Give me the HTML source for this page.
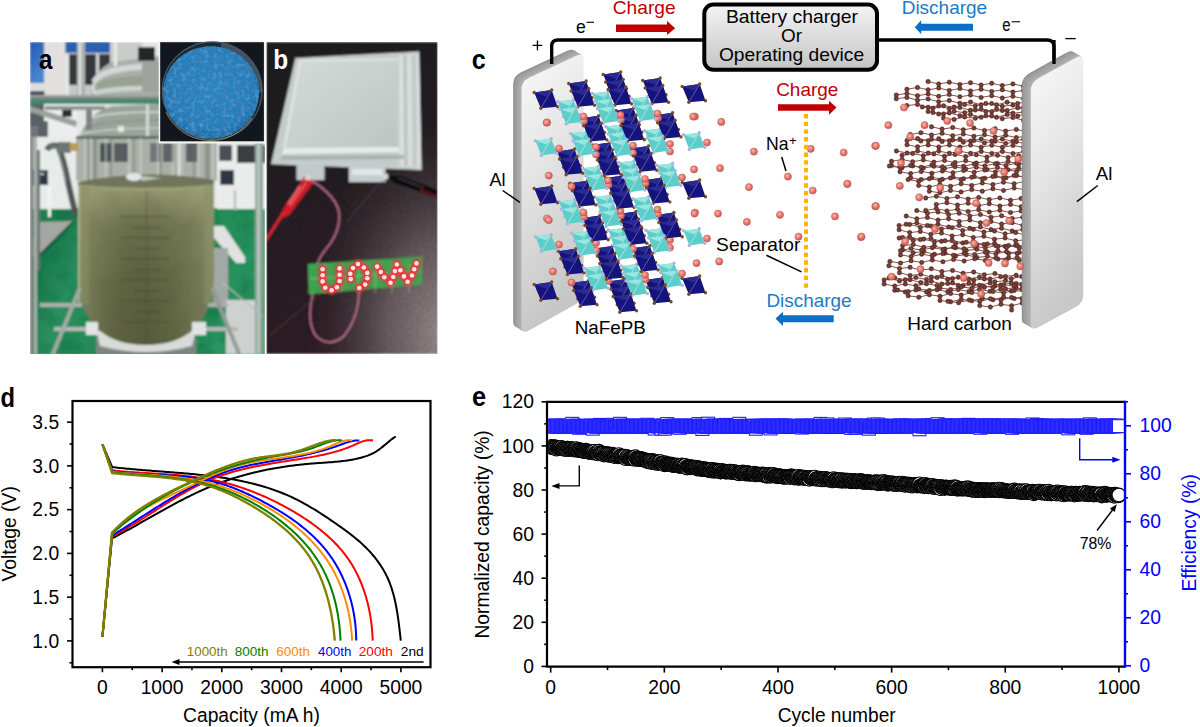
<!DOCTYPE html>
<html><head><meta charset="utf-8"><style>
html,body{margin:0;padding:0;background:#fff;overflow:hidden;}
svg{display:block;}
text{font-family:"Liberation Sans",sans-serif;}
</style></head><body>
<svg width="1200" height="727" viewBox="0 0 1200 727">
<rect width="1200" height="727" fill="#fff"/>
<defs>
<radialGradient id="nag" cx="0.4" cy="0.38" r="0.6"><stop offset="0" stop-color="#fbb7ab"/><stop offset="0.6" stop-color="#e8776c"/><stop offset="1" stop-color="#c85c55"/></radialGradient>
<radialGradient id="cg" cx="0.5" cy="0.5" r="0.55"><stop offset="0" stop-color="#8a7034"/><stop offset="0.35" stop-color="#713a34"/><stop offset="1" stop-color="#5e2a26"/></radialGradient>
<linearGradient id="faceL" x1="0" y1="0" x2="0.25" y2="1"><stop offset="0" stop-color="#f9f9f9"/><stop offset="0.45" stop-color="#e4e4e4"/><stop offset="1" stop-color="#c6c6c6"/></linearGradient>
<linearGradient id="faceR" x1="0" y1="0" x2="0.25" y2="1"><stop offset="0" stop-color="#f9f9f9"/><stop offset="0.45" stop-color="#e6e6e6"/><stop offset="1" stop-color="#c8c8c8"/></linearGradient>
<linearGradient id="boxg" x1="0" y1="0" x2="0" y2="1"><stop offset="0" stop-color="#f4f4f4"/><stop offset="1" stop-color="#c4c4c4"/></linearGradient>
</defs>
<path d="M521.5,89.2 Q521.5,81.2 529.5,77.46409017713366 L575.6,55.93590982286635 Q583.6,52.2 583.6,60.2 L583.6,291.9 Q583.6,299.9 575.6,304.37020933977453 L529.5,330.12979066022547 Q521.5,334.6 521.5,326.6 Z" transform="translate(-8.30 -5.10)" fill="#8c8c8c"/><path d="M521.5,89.2 Q521.5,81.2 529.5,77.46409017713366 L575.6,55.93590982286635 Q583.6,52.2 583.6,60.2 L583.6,291.9 Q583.6,299.9 575.6,304.37020933977453 L529.5,330.12979066022547 Q521.5,334.6 521.5,326.6 Z" transform="translate(-7.61 -4.67)" fill="#989898"/><path d="M521.5,89.2 Q521.5,81.2 529.5,77.46409017713366 L575.6,55.93590982286635 Q583.6,52.2 583.6,60.2 L583.6,291.9 Q583.6,299.9 575.6,304.37020933977453 L529.5,330.12979066022547 Q521.5,334.6 521.5,326.6 Z" transform="translate(-6.92 -4.25)" fill="#9b9b9b"/><path d="M521.5,89.2 Q521.5,81.2 529.5,77.46409017713366 L575.6,55.93590982286635 Q583.6,52.2 583.6,60.2 L583.6,291.9 Q583.6,299.9 575.6,304.37020933977453 L529.5,330.12979066022547 Q521.5,334.6 521.5,326.6 Z" transform="translate(-6.23 -3.82)" fill="#9d9d9d"/><path d="M521.5,89.2 Q521.5,81.2 529.5,77.46409017713366 L575.6,55.93590982286635 Q583.6,52.2 583.6,60.2 L583.6,291.9 Q583.6,299.9 575.6,304.37020933977453 L529.5,330.12979066022547 Q521.5,334.6 521.5,326.6 Z" transform="translate(-5.53 -3.40)" fill="#a0a0a0"/><path d="M521.5,89.2 Q521.5,81.2 529.5,77.46409017713366 L575.6,55.93590982286635 Q583.6,52.2 583.6,60.2 L583.6,291.9 Q583.6,299.9 575.6,304.37020933977453 L529.5,330.12979066022547 Q521.5,334.6 521.5,326.6 Z" transform="translate(-4.84 -2.98)" fill="#a2a2a2"/><path d="M521.5,89.2 Q521.5,81.2 529.5,77.46409017713366 L575.6,55.93590982286635 Q583.6,52.2 583.6,60.2 L583.6,291.9 Q583.6,299.9 575.6,304.37020933977453 L529.5,330.12979066022547 Q521.5,334.6 521.5,326.6 Z" transform="translate(-4.15 -2.55)" fill="#a5a5a5"/><path d="M521.5,89.2 Q521.5,81.2 529.5,77.46409017713366 L575.6,55.93590982286635 Q583.6,52.2 583.6,60.2 L583.6,291.9 Q583.6,299.9 575.6,304.37020933977453 L529.5,330.12979066022547 Q521.5,334.6 521.5,326.6 Z" transform="translate(-3.46 -2.12)" fill="#a7a7a7"/><path d="M521.5,89.2 Q521.5,81.2 529.5,77.46409017713366 L575.6,55.93590982286635 Q583.6,52.2 583.6,60.2 L583.6,291.9 Q583.6,299.9 575.6,304.37020933977453 L529.5,330.12979066022547 Q521.5,334.6 521.5,326.6 Z" transform="translate(-2.77 -1.70)" fill="#aaaaaa"/><path d="M521.5,89.2 Q521.5,81.2 529.5,77.46409017713366 L575.6,55.93590982286635 Q583.6,52.2 583.6,60.2 L583.6,291.9 Q583.6,299.9 575.6,304.37020933977453 L529.5,330.12979066022547 Q521.5,334.6 521.5,326.6 Z" transform="translate(-2.08 -1.27)" fill="#acacac"/><path d="M521.5,89.2 Q521.5,81.2 529.5,77.46409017713366 L575.6,55.93590982286635 Q583.6,52.2 583.6,60.2 L583.6,291.9 Q583.6,299.9 575.6,304.37020933977453 L529.5,330.12979066022547 Q521.5,334.6 521.5,326.6 Z" transform="translate(-1.38 -0.85)" fill="#afafaf"/><path d="M521.5,89.2 Q521.5,81.2 529.5,77.46409017713366 L575.6,55.93590982286635 Q583.6,52.2 583.6,60.2 L583.6,291.9 Q583.6,299.9 575.6,304.37020933977453 L529.5,330.12979066022547 Q521.5,334.6 521.5,326.6 Z" transform="translate(-0.69 -0.42)" fill="#b1b1b1"/><path d="M521.5,89.2 Q521.5,81.2 529.5,77.46409017713366 L575.6,55.93590982286635 Q583.6,52.2 583.6,60.2 L583.6,291.9 Q583.6,299.9 575.6,304.37020933977453 L529.5,330.12979066022547 Q521.5,334.6 521.5,326.6 Z" fill="url(#faceL)"/>
<path d="M551.7 64 L551.7 46 Q551.7 40 558 40 L704 40" fill="none" stroke="#000" stroke-width="3.3"/>
<path d="M878 40 L1047 40 Q1054 40 1054 47 L1054 64" fill="none" stroke="#000" stroke-width="3.3"/>
<rect x="704.3" y="4.6" width="172.7" height="65.2" rx="9" fill="url(#boxg)" stroke="#000" stroke-width="4"/>
<text x="725.90" y="22.90" font-size="18.50" fill="#000" textLength="132.11" lengthAdjust="spacingAndGlyphs">Battery charger</text>
<text x="781.00" y="42.00" font-size="18.50" fill="#000" textLength="21.00" lengthAdjust="spacingAndGlyphs">Or</text>
<text x="718.90" y="61.30" font-size="18.50" fill="#000" textLength="145.20" lengthAdjust="spacingAndGlyphs">Operating device</text>
<text x="612.80" y="14.10" font-size="18.50" fill="#c00000" textLength="62.80" lengthAdjust="spacingAndGlyphs">Charge</text>
<path d="M616 24.5 L667 24.5 L667 21 L675.2 28.2 L667 35.1 L667 31.9 L616 31.9 Z" fill="#c00000"/>
<text x="901.70" y="14.30" font-size="18.50" fill="#1a7ac8" textLength="85.50" lengthAdjust="spacingAndGlyphs">Discharge</text>
<path d="M973 23.7 L921.2 23.7 L921.2 20.2 L914.8 27.2 L921.2 34.2 L921.2 30.75 L973 30.75 Z" fill="#0a6fc6"/>
<text x="575.90" y="32.50" font-size="18.00" fill="#000" textLength="9.80" lengthAdjust="spacingAndGlyphs">e</text>
<line x1="586.5" y1="22.3" x2="594" y2="22.3" stroke="#000" stroke-width="1.1"/>
<text x="1002.20" y="31.20" font-size="18.00" fill="#000" textLength="8.30" lengthAdjust="spacingAndGlyphs">e</text>
<line x1="1011.7" y1="21.75" x2="1020.2" y2="21.75" stroke="#000" stroke-width="1.1"/>
<path d="M532.6 45.3 H542.3 M537.45 40.4 V50.2" stroke="#000" stroke-width="1.3"/>
<line x1="1065.3" y1="38.6" x2="1075.7" y2="38.6" stroke="#000" stroke-width="1.3"/>
<polygon points="603.2,74.5 620.7,72.0 626.5,88.7 609.8,90.3" fill="#14147c"/><polygon points="603.2,74.5 620.7,72.0 615.5,78.5" fill="#2a2a92"/><line x1="620.7" y1="72.0" x2="609.8" y2="90.3" stroke="#8a86c0" stroke-width="0.6"/><circle cx="603.2" cy="74.5" r="1.7" fill="#7b4a1f"/><circle cx="620.7" cy="72.0" r="1.7" fill="#7b4a1f"/><circle cx="626.5" cy="88.7" r="1.7" fill="#7b4a1f"/><circle cx="609.8" cy="90.3" r="1.7" fill="#7b4a1f"/><polygon points="592.4,93.5 608.1,91.5 613.7,106.0 598.3,108.2" fill="#5ccdc9"/><polygon points="592.4,93.5 608.1,91.5 603.4,97.2" fill="#9ae6e0"/><line x1="608.1" y1="91.5" x2="598.3" y2="108.2" stroke="#d6f4f2" stroke-width="0.6"/><circle cx="592.4" cy="93.5" r="1.7" fill="#aab4e6"/><circle cx="608.1" cy="91.5" r="1.7" fill="#aab4e6"/><circle cx="613.7" cy="106.0" r="1.7" fill="#aab4e6"/><circle cx="598.3" cy="108.2" r="1.7" fill="#aab4e6"/><polygon points="616.0,110.5 633.5,108.0 639.3,124.7 622.6,126.3" fill="#14147c"/><polygon points="616.0,110.5 633.5,108.0 628.3,114.5" fill="#2a2a92"/><line x1="633.5" y1="108.0" x2="622.6" y2="126.3" stroke="#8a86c0" stroke-width="0.6"/><circle cx="616.0" cy="110.5" r="1.7" fill="#7b4a1f"/><circle cx="633.5" cy="108.0" r="1.7" fill="#7b4a1f"/><circle cx="639.3" cy="124.7" r="1.7" fill="#7b4a1f"/><circle cx="622.6" cy="126.3" r="1.7" fill="#7b4a1f"/><polygon points="605.8,126.5 621.5,124.5 627.0,139.1 611.6,141.2" fill="#5ccdc9"/><polygon points="605.8,126.5 621.5,124.5 616.8,130.2" fill="#9ae6e0"/><line x1="621.5" y1="124.5" x2="611.6" y2="141.2" stroke="#d6f4f2" stroke-width="0.6"/><circle cx="605.8" cy="126.5" r="1.7" fill="#aab4e6"/><circle cx="621.5" cy="124.5" r="1.7" fill="#aab4e6"/><circle cx="627.0" cy="139.1" r="1.7" fill="#aab4e6"/><circle cx="611.6" cy="141.2" r="1.7" fill="#aab4e6"/><polygon points="592.4,145.0 609.9,142.5 615.7,159.2 599.0,160.8" fill="#14147c"/><polygon points="592.4,145.0 609.9,142.5 604.7,149.0" fill="#2a2a92"/><line x1="609.9" y1="142.5" x2="599.0" y2="160.8" stroke="#8a86c0" stroke-width="0.6"/><circle cx="592.4" cy="145.0" r="1.7" fill="#7b4a1f"/><circle cx="609.9" cy="142.5" r="1.7" fill="#7b4a1f"/><circle cx="615.7" cy="159.2" r="1.7" fill="#7b4a1f"/><circle cx="599.0" cy="160.8" r="1.7" fill="#7b4a1f"/><polygon points="618.6,162.4 634.3,160.4 639.9,175.1 624.5,177.2" fill="#5ccdc9"/><polygon points="618.6,162.4 634.3,160.4 629.6,166.2" fill="#9ae6e0"/><line x1="634.3" y1="160.4" x2="624.5" y2="177.2" stroke="#d6f4f2" stroke-width="0.6"/><circle cx="618.6" cy="162.4" r="1.7" fill="#aab4e6"/><circle cx="634.3" cy="160.4" r="1.7" fill="#aab4e6"/><circle cx="639.9" cy="175.1" r="1.7" fill="#aab4e6"/><circle cx="624.5" cy="177.2" r="1.7" fill="#aab4e6"/><polygon points="605.7,178.0 623.2,175.5 629.0,192.2 612.3,193.8" fill="#14147c"/><polygon points="605.7,178.0 623.2,175.5 618.0,182.0" fill="#2a2a92"/><line x1="623.2" y1="175.5" x2="612.3" y2="193.8" stroke="#8a86c0" stroke-width="0.6"/><circle cx="605.7" cy="178.0" r="1.7" fill="#7b4a1f"/><circle cx="623.2" cy="175.5" r="1.7" fill="#7b4a1f"/><circle cx="629.0" cy="192.2" r="1.7" fill="#7b4a1f"/><circle cx="612.3" cy="193.8" r="1.7" fill="#7b4a1f"/><polygon points="594.9,196.9 610.6,194.9 616.2,209.6 600.8,211.8" fill="#5ccdc9"/><polygon points="594.9,196.9 610.6,194.9 605.9,200.8" fill="#9ae6e0"/><line x1="610.6" y1="194.9" x2="600.8" y2="211.8" stroke="#d6f4f2" stroke-width="0.6"/><circle cx="594.9" cy="196.9" r="1.7" fill="#aab4e6"/><circle cx="610.6" cy="194.9" r="1.7" fill="#aab4e6"/><circle cx="616.2" cy="209.6" r="1.7" fill="#aab4e6"/><circle cx="600.8" cy="211.8" r="1.7" fill="#aab4e6"/><polygon points="618.5,214.0 636.0,211.5 641.8,228.2 625.1,229.8" fill="#14147c"/><polygon points="618.5,214.0 636.0,211.5 630.8,218.0" fill="#2a2a92"/><line x1="636.0" y1="211.5" x2="625.1" y2="229.8" stroke="#8a86c0" stroke-width="0.6"/><circle cx="618.5" cy="214.0" r="1.7" fill="#7b4a1f"/><circle cx="636.0" cy="211.5" r="1.7" fill="#7b4a1f"/><circle cx="641.8" cy="228.2" r="1.7" fill="#7b4a1f"/><circle cx="625.1" cy="229.8" r="1.7" fill="#7b4a1f"/><polygon points="608.2,229.9 624.0,227.9 629.5,242.6 614.1,244.8" fill="#5ccdc9"/><polygon points="608.2,229.9 624.0,227.9 619.2,233.8" fill="#9ae6e0"/><line x1="624.0" y1="227.9" x2="614.1" y2="244.8" stroke="#d6f4f2" stroke-width="0.6"/><circle cx="608.2" cy="229.9" r="1.7" fill="#aab4e6"/><circle cx="624.0" cy="227.9" r="1.7" fill="#aab4e6"/><circle cx="629.5" cy="242.6" r="1.7" fill="#aab4e6"/><circle cx="614.1" cy="244.8" r="1.7" fill="#aab4e6"/><polygon points="594.9,248.5 612.4,246.0 618.2,262.7 601.5,264.3" fill="#14147c"/><polygon points="594.9,248.5 612.4,246.0 607.2,252.5" fill="#2a2a92"/><line x1="612.4" y1="246.0" x2="601.5" y2="264.3" stroke="#8a86c0" stroke-width="0.6"/><circle cx="594.9" cy="248.5" r="1.7" fill="#7b4a1f"/><circle cx="612.4" cy="246.0" r="1.7" fill="#7b4a1f"/><circle cx="618.2" cy="262.7" r="1.7" fill="#7b4a1f"/><circle cx="601.5" cy="264.3" r="1.7" fill="#7b4a1f"/><polygon points="621.1,265.9 636.8,263.9 642.4,278.6 627.0,280.8" fill="#5ccdc9"/><polygon points="621.1,265.9 636.8,263.9 632.1,269.8" fill="#9ae6e0"/><line x1="636.8" y1="263.9" x2="627.0" y2="280.8" stroke="#d6f4f2" stroke-width="0.6"/><circle cx="621.1" cy="265.9" r="1.7" fill="#aab4e6"/><circle cx="636.8" cy="263.9" r="1.7" fill="#aab4e6"/><circle cx="642.4" cy="278.6" r="1.7" fill="#aab4e6"/><circle cx="627.0" cy="280.8" r="1.7" fill="#aab4e6"/><polygon points="608.2,281.5 625.7,279.0 631.5,295.7 614.8,297.3" fill="#14147c"/><polygon points="608.2,281.5 625.7,279.0 620.5,285.5" fill="#2a2a92"/><line x1="625.7" y1="279.0" x2="614.8" y2="297.3" stroke="#8a86c0" stroke-width="0.6"/><circle cx="608.2" cy="281.5" r="1.7" fill="#7b4a1f"/><circle cx="625.7" cy="279.0" r="1.7" fill="#7b4a1f"/><circle cx="631.5" cy="295.7" r="1.7" fill="#7b4a1f"/><circle cx="614.8" cy="297.3" r="1.7" fill="#7b4a1f"/><polygon points="568.7,83.5 586.2,81.0 592.0,97.7 575.3,99.3" fill="#14147c"/><polygon points="568.7,83.5 586.2,81.0 581.0,87.5" fill="#2a2a92"/><line x1="586.2" y1="81.0" x2="575.3" y2="99.3" stroke="#8a86c0" stroke-width="0.6"/><circle cx="568.7" cy="83.5" r="1.7" fill="#7b4a1f"/><circle cx="586.2" cy="81.0" r="1.7" fill="#7b4a1f"/><circle cx="592.0" cy="97.7" r="1.7" fill="#7b4a1f"/><circle cx="575.3" cy="99.3" r="1.7" fill="#7b4a1f"/><polygon points="605.7,82.0 623.2,79.5 629.0,96.2 612.3,97.8" fill="#14147c"/><polygon points="605.7,82.0 623.2,79.5 618.0,86.0" fill="#2a2a92"/><line x1="623.2" y1="79.5" x2="612.3" y2="97.8" stroke="#8a86c0" stroke-width="0.6"/><circle cx="605.7" cy="82.0" r="1.7" fill="#7b4a1f"/><circle cx="623.2" cy="79.5" r="1.7" fill="#7b4a1f"/><circle cx="629.0" cy="96.2" r="1.7" fill="#7b4a1f"/><circle cx="612.3" cy="97.8" r="1.7" fill="#7b4a1f"/><polygon points="642.7,80.5 660.2,78.0 666.0,94.7 649.3,96.3" fill="#14147c"/><polygon points="642.7,80.5 660.2,78.0 655.0,84.5" fill="#2a2a92"/><line x1="660.2" y1="78.0" x2="649.3" y2="96.3" stroke="#8a86c0" stroke-width="0.6"/><circle cx="642.7" cy="80.5" r="1.7" fill="#7b4a1f"/><circle cx="660.2" cy="78.0" r="1.7" fill="#7b4a1f"/><circle cx="666.0" cy="94.7" r="1.7" fill="#7b4a1f"/><circle cx="649.3" cy="96.3" r="1.7" fill="#7b4a1f"/><polygon points="557.7,101.8 573.4,99.8 579.0,114.4 563.6,116.6" fill="#5ccdc9"/><polygon points="557.7,101.8 573.4,99.8 568.7,105.6" fill="#9ae6e0"/><line x1="573.4" y1="99.8" x2="563.6" y2="116.6" stroke="#d6f4f2" stroke-width="0.6"/><circle cx="557.7" cy="101.8" r="1.7" fill="#aab4e6"/><circle cx="573.4" cy="99.8" r="1.7" fill="#aab4e6"/><circle cx="579.0" cy="114.4" r="1.7" fill="#aab4e6"/><circle cx="563.6" cy="116.6" r="1.7" fill="#aab4e6"/><polygon points="594.9,101.0 610.6,99.0 616.2,113.5 600.8,115.8" fill="#5ccdc9"/><polygon points="594.9,101.0 610.6,99.0 605.9,104.8" fill="#9ae6e0"/><line x1="610.6" y1="99.0" x2="600.8" y2="115.8" stroke="#d6f4f2" stroke-width="0.6"/><circle cx="594.9" cy="101.0" r="1.7" fill="#aab4e6"/><circle cx="610.6" cy="99.0" r="1.7" fill="#aab4e6"/><circle cx="616.2" cy="113.5" r="1.7" fill="#aab4e6"/><circle cx="600.8" cy="115.8" r="1.7" fill="#aab4e6"/><polygon points="631.7,98.8 647.4,96.8 653.0,111.4 637.6,113.6" fill="#5ccdc9"/><polygon points="631.7,98.8 647.4,96.8 642.7,102.6" fill="#9ae6e0"/><line x1="647.4" y1="96.8" x2="637.6" y2="113.6" stroke="#d6f4f2" stroke-width="0.6"/><circle cx="631.7" cy="98.8" r="1.7" fill="#aab4e6"/><circle cx="647.4" cy="96.8" r="1.7" fill="#aab4e6"/><circle cx="653.0" cy="111.4" r="1.7" fill="#aab4e6"/><circle cx="637.6" cy="113.6" r="1.7" fill="#aab4e6"/><polygon points="581.1,118.2 598.6,115.8 604.4,132.4 587.7,134.1" fill="#14147c"/><polygon points="581.1,118.2 598.6,115.8 593.4,122.2" fill="#2a2a92"/><line x1="598.6" y1="115.8" x2="587.7" y2="134.1" stroke="#8a86c0" stroke-width="0.6"/><circle cx="581.1" cy="118.2" r="1.7" fill="#7b4a1f"/><circle cx="598.6" cy="115.8" r="1.7" fill="#7b4a1f"/><circle cx="604.4" cy="132.4" r="1.7" fill="#7b4a1f"/><circle cx="587.7" cy="134.1" r="1.7" fill="#7b4a1f"/><polygon points="618.5,118.0 636.0,115.5 641.8,132.2 625.1,133.8" fill="#14147c"/><polygon points="618.5,118.0 636.0,115.5 630.8,122.0" fill="#2a2a92"/><line x1="636.0" y1="115.5" x2="625.1" y2="133.8" stroke="#8a86c0" stroke-width="0.6"/><circle cx="618.5" cy="118.0" r="1.7" fill="#7b4a1f"/><circle cx="636.0" cy="115.5" r="1.7" fill="#7b4a1f"/><circle cx="641.8" cy="132.2" r="1.7" fill="#7b4a1f"/><circle cx="625.1" cy="133.8" r="1.7" fill="#7b4a1f"/><polygon points="655.1,115.2 672.6,112.8 678.4,129.4 661.7,131.1" fill="#14147c"/><polygon points="655.1,115.2 672.6,112.8 667.4,119.2" fill="#2a2a92"/><line x1="672.6" y1="112.8" x2="661.7" y2="131.1" stroke="#8a86c0" stroke-width="0.6"/><circle cx="655.1" cy="115.2" r="1.7" fill="#7b4a1f"/><circle cx="672.6" cy="112.8" r="1.7" fill="#7b4a1f"/><circle cx="678.4" cy="129.4" r="1.7" fill="#7b4a1f"/><circle cx="661.7" cy="131.1" r="1.7" fill="#7b4a1f"/><polygon points="570.6,133.6 586.3,131.6 591.9,146.2 576.5,148.4" fill="#5ccdc9"/><polygon points="570.6,133.6 586.3,131.6 581.6,137.4" fill="#9ae6e0"/><line x1="586.3" y1="131.6" x2="576.5" y2="148.4" stroke="#d6f4f2" stroke-width="0.6"/><circle cx="570.6" cy="133.6" r="1.7" fill="#aab4e6"/><circle cx="586.3" cy="131.6" r="1.7" fill="#aab4e6"/><circle cx="591.9" cy="146.2" r="1.7" fill="#aab4e6"/><circle cx="576.5" cy="148.4" r="1.7" fill="#aab4e6"/><polygon points="608.2,133.9 624.0,131.9 629.5,146.6 614.1,148.8" fill="#5ccdc9"/><polygon points="608.2,133.9 624.0,131.9 619.2,137.8" fill="#9ae6e0"/><line x1="624.0" y1="131.9" x2="614.1" y2="148.8" stroke="#d6f4f2" stroke-width="0.6"/><circle cx="608.2" cy="133.9" r="1.7" fill="#aab4e6"/><circle cx="624.0" cy="131.9" r="1.7" fill="#aab4e6"/><circle cx="629.5" cy="146.6" r="1.7" fill="#aab4e6"/><circle cx="614.1" cy="148.8" r="1.7" fill="#aab4e6"/><polygon points="644.6,130.6 660.3,128.6 665.9,143.2 650.5,145.4" fill="#5ccdc9"/><polygon points="644.6,130.6 660.3,128.6 655.6,134.4" fill="#9ae6e0"/><line x1="660.3" y1="128.6" x2="650.5" y2="145.4" stroke="#d6f4f2" stroke-width="0.6"/><circle cx="644.6" cy="130.6" r="1.7" fill="#aab4e6"/><circle cx="660.3" cy="128.6" r="1.7" fill="#aab4e6"/><circle cx="665.9" cy="143.2" r="1.7" fill="#aab4e6"/><circle cx="650.5" cy="145.4" r="1.7" fill="#aab4e6"/><polygon points="557.0,151.5 574.5,149.0 580.3,165.7 563.6,167.3" fill="#14147c"/><polygon points="557.0,151.5 574.5,149.0 569.3,155.5" fill="#2a2a92"/><line x1="574.5" y1="149.0" x2="563.6" y2="167.3" stroke="#8a86c0" stroke-width="0.6"/><circle cx="557.0" cy="151.5" r="1.7" fill="#7b4a1f"/><circle cx="574.5" cy="149.0" r="1.7" fill="#7b4a1f"/><circle cx="580.3" cy="165.7" r="1.7" fill="#7b4a1f"/><circle cx="563.6" cy="167.3" r="1.7" fill="#7b4a1f"/><polygon points="594.9,152.5 612.4,150.0 618.2,166.7 601.5,168.3" fill="#14147c"/><polygon points="594.9,152.5 612.4,150.0 607.2,156.5" fill="#2a2a92"/><line x1="612.4" y1="150.0" x2="601.5" y2="168.3" stroke="#8a86c0" stroke-width="0.6"/><circle cx="594.9" cy="152.5" r="1.7" fill="#7b4a1f"/><circle cx="612.4" cy="150.0" r="1.7" fill="#7b4a1f"/><circle cx="618.2" cy="166.7" r="1.7" fill="#7b4a1f"/><circle cx="601.5" cy="168.3" r="1.7" fill="#7b4a1f"/><polygon points="631.0,148.5 648.5,146.0 654.3,162.7 637.6,164.3" fill="#14147c"/><polygon points="631.0,148.5 648.5,146.0 643.3,152.5" fill="#2a2a92"/><line x1="648.5" y1="146.0" x2="637.6" y2="164.3" stroke="#8a86c0" stroke-width="0.6"/><circle cx="631.0" cy="148.5" r="1.7" fill="#7b4a1f"/><circle cx="648.5" cy="146.0" r="1.7" fill="#7b4a1f"/><circle cx="654.3" cy="162.7" r="1.7" fill="#7b4a1f"/><circle cx="637.6" cy="164.3" r="1.7" fill="#7b4a1f"/><polygon points="583.0,168.3 598.7,166.3 604.3,180.9 588.9,183.1" fill="#5ccdc9"/><polygon points="583.0,168.3 598.7,166.3 594.0,172.1" fill="#9ae6e0"/><line x1="598.7" y1="166.3" x2="588.9" y2="183.1" stroke="#d6f4f2" stroke-width="0.6"/><circle cx="583.0" cy="168.3" r="1.7" fill="#aab4e6"/><circle cx="598.7" cy="166.3" r="1.7" fill="#aab4e6"/><circle cx="604.3" cy="180.9" r="1.7" fill="#aab4e6"/><circle cx="588.9" cy="183.1" r="1.7" fill="#aab4e6"/><polygon points="621.1,169.9 636.8,167.9 642.4,182.6 627.0,184.8" fill="#5ccdc9"/><polygon points="621.1,169.9 636.8,167.9 632.1,173.8" fill="#9ae6e0"/><line x1="636.8" y1="167.9" x2="627.0" y2="184.8" stroke="#d6f4f2" stroke-width="0.6"/><circle cx="621.1" cy="169.9" r="1.7" fill="#aab4e6"/><circle cx="636.8" cy="167.9" r="1.7" fill="#aab4e6"/><circle cx="642.4" cy="182.6" r="1.7" fill="#aab4e6"/><circle cx="627.0" cy="184.8" r="1.7" fill="#aab4e6"/><polygon points="657.0,165.3 672.7,163.3 678.3,177.9 662.9,180.1" fill="#5ccdc9"/><polygon points="657.0,165.3 672.7,163.3 668.0,169.1" fill="#9ae6e0"/><line x1="672.7" y1="163.3" x2="662.9" y2="180.1" stroke="#d6f4f2" stroke-width="0.6"/><circle cx="657.0" cy="165.3" r="1.7" fill="#aab4e6"/><circle cx="672.7" cy="163.3" r="1.7" fill="#aab4e6"/><circle cx="678.3" cy="177.9" r="1.7" fill="#aab4e6"/><circle cx="662.9" cy="180.1" r="1.7" fill="#aab4e6"/><polygon points="570.0,183.2 587.5,180.8 593.2,197.4 576.5,199.1" fill="#14147c"/><polygon points="570.0,183.2 587.5,180.8 582.2,187.2" fill="#2a2a92"/><line x1="587.5" y1="180.8" x2="576.5" y2="199.1" stroke="#8a86c0" stroke-width="0.6"/><circle cx="570.0" cy="183.2" r="1.7" fill="#7b4a1f"/><circle cx="587.5" cy="180.8" r="1.7" fill="#7b4a1f"/><circle cx="593.2" cy="197.4" r="1.7" fill="#7b4a1f"/><circle cx="576.5" cy="199.1" r="1.7" fill="#7b4a1f"/><polygon points="608.2,185.5 625.7,183.0 631.5,199.7 614.8,201.3" fill="#14147c"/><polygon points="608.2,185.5 625.7,183.0 620.5,189.5" fill="#2a2a92"/><line x1="625.7" y1="183.0" x2="614.8" y2="201.3" stroke="#8a86c0" stroke-width="0.6"/><circle cx="608.2" cy="185.5" r="1.7" fill="#7b4a1f"/><circle cx="625.7" cy="183.0" r="1.7" fill="#7b4a1f"/><circle cx="631.5" cy="199.7" r="1.7" fill="#7b4a1f"/><circle cx="614.8" cy="201.3" r="1.7" fill="#7b4a1f"/><polygon points="644.0,180.2 661.5,177.8 667.2,194.4 650.5,196.1" fill="#14147c"/><polygon points="644.0,180.2 661.5,177.8 656.2,184.2" fill="#2a2a92"/><line x1="661.5" y1="177.8" x2="650.5" y2="196.1" stroke="#8a86c0" stroke-width="0.6"/><circle cx="644.0" cy="180.2" r="1.7" fill="#7b4a1f"/><circle cx="661.5" cy="177.8" r="1.7" fill="#7b4a1f"/><circle cx="667.2" cy="194.4" r="1.7" fill="#7b4a1f"/><circle cx="650.5" cy="196.1" r="1.7" fill="#7b4a1f"/><polygon points="559.0,201.6 574.7,199.6 580.3,214.2 564.9,216.4" fill="#5ccdc9"/><polygon points="559.0,201.6 574.7,199.6 570.0,205.4" fill="#9ae6e0"/><line x1="574.7" y1="199.6" x2="564.9" y2="216.4" stroke="#d6f4f2" stroke-width="0.6"/><circle cx="559.0" cy="201.6" r="1.7" fill="#aab4e6"/><circle cx="574.7" cy="199.6" r="1.7" fill="#aab4e6"/><circle cx="580.3" cy="214.2" r="1.7" fill="#aab4e6"/><circle cx="564.9" cy="216.4" r="1.7" fill="#aab4e6"/><polygon points="597.4,204.4 613.1,202.4 618.7,217.1 603.3,219.2" fill="#5ccdc9"/><polygon points="597.4,204.4 613.1,202.4 608.4,208.2" fill="#9ae6e0"/><line x1="613.1" y1="202.4" x2="603.3" y2="219.2" stroke="#d6f4f2" stroke-width="0.6"/><circle cx="597.4" cy="204.4" r="1.7" fill="#aab4e6"/><circle cx="613.1" cy="202.4" r="1.7" fill="#aab4e6"/><circle cx="618.7" cy="217.1" r="1.7" fill="#aab4e6"/><circle cx="603.3" cy="219.2" r="1.7" fill="#aab4e6"/><polygon points="633.0,198.6 648.7,196.6 654.3,211.2 638.9,213.4" fill="#5ccdc9"/><polygon points="633.0,198.6 648.7,196.6 644.0,202.4" fill="#9ae6e0"/><line x1="648.7" y1="196.6" x2="638.9" y2="213.4" stroke="#d6f4f2" stroke-width="0.6"/><circle cx="633.0" cy="198.6" r="1.7" fill="#aab4e6"/><circle cx="648.7" cy="196.6" r="1.7" fill="#aab4e6"/><circle cx="654.3" cy="211.2" r="1.7" fill="#aab4e6"/><circle cx="638.9" cy="213.4" r="1.7" fill="#aab4e6"/><polygon points="582.4,218.0 599.9,215.5 605.7,232.2 589.0,233.8" fill="#14147c"/><polygon points="582.4,218.0 599.9,215.5 594.7,222.0" fill="#2a2a92"/><line x1="599.9" y1="215.5" x2="589.0" y2="233.8" stroke="#8a86c0" stroke-width="0.6"/><circle cx="582.4" cy="218.0" r="1.7" fill="#7b4a1f"/><circle cx="599.9" cy="215.5" r="1.7" fill="#7b4a1f"/><circle cx="605.7" cy="232.2" r="1.7" fill="#7b4a1f"/><circle cx="589.0" cy="233.8" r="1.7" fill="#7b4a1f"/><polygon points="621.0,221.5 638.5,219.0 644.3,235.7 627.6,237.3" fill="#14147c"/><polygon points="621.0,221.5 638.5,219.0 633.3,225.5" fill="#2a2a92"/><line x1="638.5" y1="219.0" x2="627.6" y2="237.3" stroke="#8a86c0" stroke-width="0.6"/><circle cx="621.0" cy="221.5" r="1.7" fill="#7b4a1f"/><circle cx="638.5" cy="219.0" r="1.7" fill="#7b4a1f"/><circle cx="644.3" cy="235.7" r="1.7" fill="#7b4a1f"/><circle cx="627.6" cy="237.3" r="1.7" fill="#7b4a1f"/><polygon points="656.4,215.0 673.9,212.5 679.7,229.2 663.0,230.8" fill="#14147c"/><polygon points="656.4,215.0 673.9,212.5 668.7,219.0" fill="#2a2a92"/><line x1="673.9" y1="212.5" x2="663.0" y2="230.8" stroke="#8a86c0" stroke-width="0.6"/><circle cx="656.4" cy="215.0" r="1.7" fill="#7b4a1f"/><circle cx="673.9" cy="212.5" r="1.7" fill="#7b4a1f"/><circle cx="679.7" cy="229.2" r="1.7" fill="#7b4a1f"/><circle cx="663.0" cy="230.8" r="1.7" fill="#7b4a1f"/><polygon points="571.9,233.3 587.6,231.3 593.2,245.9 577.8,248.1" fill="#5ccdc9"/><polygon points="571.9,233.3 587.6,231.3 582.9,237.1" fill="#9ae6e0"/><line x1="587.6" y1="231.3" x2="577.8" y2="248.1" stroke="#d6f4f2" stroke-width="0.6"/><circle cx="571.9" cy="233.3" r="1.7" fill="#aab4e6"/><circle cx="587.6" cy="231.3" r="1.7" fill="#aab4e6"/><circle cx="593.2" cy="245.9" r="1.7" fill="#aab4e6"/><circle cx="577.8" cy="248.1" r="1.7" fill="#aab4e6"/><polygon points="610.8,237.4 626.5,235.4 632.0,250.1 616.6,252.2" fill="#5ccdc9"/><polygon points="610.8,237.4 626.5,235.4 621.8,241.2" fill="#9ae6e0"/><line x1="626.5" y1="235.4" x2="616.6" y2="252.2" stroke="#d6f4f2" stroke-width="0.6"/><circle cx="610.8" cy="237.4" r="1.7" fill="#aab4e6"/><circle cx="626.5" cy="235.4" r="1.7" fill="#aab4e6"/><circle cx="632.0" cy="250.1" r="1.7" fill="#aab4e6"/><circle cx="616.6" cy="252.2" r="1.7" fill="#aab4e6"/><polygon points="645.9,230.3 661.6,228.3 667.2,242.9 651.8,245.1" fill="#5ccdc9"/><polygon points="645.9,230.3 661.6,228.3 656.9,234.1" fill="#9ae6e0"/><line x1="661.6" y1="228.3" x2="651.8" y2="245.1" stroke="#d6f4f2" stroke-width="0.6"/><circle cx="645.9" cy="230.3" r="1.7" fill="#aab4e6"/><circle cx="661.6" cy="228.3" r="1.7" fill="#aab4e6"/><circle cx="667.2" cy="242.9" r="1.7" fill="#aab4e6"/><circle cx="651.8" cy="245.1" r="1.7" fill="#aab4e6"/><polygon points="558.3,251.2 575.8,248.8 581.6,265.4 564.9,267.1" fill="#14147c"/><polygon points="558.3,251.2 575.8,248.8 570.6,255.2" fill="#2a2a92"/><line x1="575.8" y1="248.8" x2="564.9" y2="267.1" stroke="#8a86c0" stroke-width="0.6"/><circle cx="558.3" cy="251.2" r="1.7" fill="#7b4a1f"/><circle cx="575.8" cy="248.8" r="1.7" fill="#7b4a1f"/><circle cx="581.6" cy="265.4" r="1.7" fill="#7b4a1f"/><circle cx="564.9" cy="267.1" r="1.7" fill="#7b4a1f"/><polygon points="597.4,256.0 614.9,253.5 620.7,270.2 604.0,271.8" fill="#14147c"/><polygon points="597.4,256.0 614.9,253.5 609.7,260.0" fill="#2a2a92"/><line x1="614.9" y1="253.5" x2="604.0" y2="271.8" stroke="#8a86c0" stroke-width="0.6"/><circle cx="597.4" cy="256.0" r="1.7" fill="#7b4a1f"/><circle cx="614.9" cy="253.5" r="1.7" fill="#7b4a1f"/><circle cx="620.7" cy="270.2" r="1.7" fill="#7b4a1f"/><circle cx="604.0" cy="271.8" r="1.7" fill="#7b4a1f"/><polygon points="632.3,248.2 649.8,245.8 655.6,262.4 638.9,264.1" fill="#14147c"/><polygon points="632.3,248.2 649.8,245.8 644.6,252.2" fill="#2a2a92"/><line x1="649.8" y1="245.8" x2="638.9" y2="264.1" stroke="#8a86c0" stroke-width="0.6"/><circle cx="632.3" cy="248.2" r="1.7" fill="#7b4a1f"/><circle cx="649.8" cy="245.8" r="1.7" fill="#7b4a1f"/><circle cx="655.6" cy="262.4" r="1.7" fill="#7b4a1f"/><circle cx="638.9" cy="264.1" r="1.7" fill="#7b4a1f"/><polygon points="584.3,268.1 600.0,266.1 605.6,280.7 590.2,282.9" fill="#5ccdc9"/><polygon points="584.3,268.1 600.0,266.1 595.3,271.9" fill="#9ae6e0"/><line x1="600.0" y1="266.1" x2="590.2" y2="282.9" stroke="#d6f4f2" stroke-width="0.6"/><circle cx="584.3" cy="268.1" r="1.7" fill="#aab4e6"/><circle cx="600.0" cy="266.1" r="1.7" fill="#aab4e6"/><circle cx="605.6" cy="280.7" r="1.7" fill="#aab4e6"/><circle cx="590.2" cy="282.9" r="1.7" fill="#aab4e6"/><polygon points="623.6,273.4 639.3,271.4 644.9,286.1 629.5,288.2" fill="#5ccdc9"/><polygon points="623.6,273.4 639.3,271.4 634.6,277.2" fill="#9ae6e0"/><line x1="639.3" y1="271.4" x2="629.5" y2="288.2" stroke="#d6f4f2" stroke-width="0.6"/><circle cx="623.6" cy="273.4" r="1.7" fill="#aab4e6"/><circle cx="639.3" cy="271.4" r="1.7" fill="#aab4e6"/><circle cx="644.9" cy="286.1" r="1.7" fill="#aab4e6"/><circle cx="629.5" cy="288.2" r="1.7" fill="#aab4e6"/><polygon points="658.3,265.1 674.0,263.1 679.6,277.7 664.2,279.9" fill="#5ccdc9"/><polygon points="658.3,265.1 674.0,263.1 669.3,268.9" fill="#9ae6e0"/><line x1="674.0" y1="263.1" x2="664.2" y2="279.9" stroke="#d6f4f2" stroke-width="0.6"/><circle cx="658.3" cy="265.1" r="1.7" fill="#aab4e6"/><circle cx="674.0" cy="263.1" r="1.7" fill="#aab4e6"/><circle cx="679.6" cy="277.7" r="1.7" fill="#aab4e6"/><circle cx="664.2" cy="279.9" r="1.7" fill="#aab4e6"/><polygon points="571.2,283.0 588.7,280.5 594.5,297.2 577.8,298.8" fill="#14147c"/><polygon points="571.2,283.0 588.7,280.5 583.5,287.0" fill="#2a2a92"/><line x1="588.7" y1="280.5" x2="577.8" y2="298.8" stroke="#8a86c0" stroke-width="0.6"/><circle cx="571.2" cy="283.0" r="1.7" fill="#7b4a1f"/><circle cx="588.7" cy="280.5" r="1.7" fill="#7b4a1f"/><circle cx="594.5" cy="297.2" r="1.7" fill="#7b4a1f"/><circle cx="577.8" cy="298.8" r="1.7" fill="#7b4a1f"/><polygon points="610.7,289.0 628.2,286.5 634.0,303.2 617.3,304.8" fill="#14147c"/><polygon points="610.7,289.0 628.2,286.5 623.0,293.0" fill="#2a2a92"/><line x1="628.2" y1="286.5" x2="617.3" y2="304.8" stroke="#8a86c0" stroke-width="0.6"/><circle cx="610.7" cy="289.0" r="1.7" fill="#7b4a1f"/><circle cx="628.2" cy="286.5" r="1.7" fill="#7b4a1f"/><circle cx="634.0" cy="303.2" r="1.7" fill="#7b4a1f"/><circle cx="617.3" cy="304.8" r="1.7" fill="#7b4a1f"/><polygon points="645.2,280.0 662.7,277.5 668.5,294.2 651.8,295.8" fill="#14147c"/><polygon points="645.2,280.0 662.7,277.5 657.5,284.0" fill="#2a2a92"/><line x1="662.7" y1="277.5" x2="651.8" y2="295.8" stroke="#8a86c0" stroke-width="0.6"/><circle cx="645.2" cy="280.0" r="1.7" fill="#7b4a1f"/><circle cx="662.7" cy="277.5" r="1.7" fill="#7b4a1f"/><circle cx="668.5" cy="294.2" r="1.7" fill="#7b4a1f"/><circle cx="651.8" cy="295.8" r="1.7" fill="#7b4a1f"/><circle cx="547.0" cy="122.5" r="3.6" fill="url(#nag)" stroke="#b85a55" stroke-width="0.5"/><circle cx="584.0" cy="121.0" r="3.6" fill="url(#nag)" stroke="#b85a55" stroke-width="0.5"/><circle cx="621.0" cy="119.5" r="3.6" fill="url(#nag)" stroke="#b85a55" stroke-width="0.5"/><circle cx="658.0" cy="118.0" r="3.6" fill="url(#nag)" stroke="#b85a55" stroke-width="0.5"/><circle cx="695.0" cy="116.5" r="3.6" fill="url(#nag)" stroke="#b85a55" stroke-width="0.5"/><circle cx="583.5" cy="116.5" r="3.6" fill="url(#nag)" stroke="#b85a55" stroke-width="0.5"/><circle cx="620.5" cy="115.0" r="3.6" fill="url(#nag)" stroke="#b85a55" stroke-width="0.5"/><circle cx="657.5" cy="113.5" r="3.6" fill="url(#nag)" stroke="#b85a55" stroke-width="0.5"/><circle cx="596.0" cy="154.5" r="3.6" fill="url(#nag)" stroke="#b85a55" stroke-width="0.5"/><circle cx="633.0" cy="153.0" r="3.6" fill="url(#nag)" stroke="#b85a55" stroke-width="0.5"/><circle cx="670.0" cy="151.5" r="3.6" fill="url(#nag)" stroke="#b85a55" stroke-width="0.5"/><circle cx="559.0" cy="148.5" r="3.6" fill="url(#nag)" stroke="#b85a55" stroke-width="0.5"/><circle cx="596.0" cy="147.0" r="3.6" fill="url(#nag)" stroke="#b85a55" stroke-width="0.5"/><circle cx="633.0" cy="145.5" r="3.6" fill="url(#nag)" stroke="#b85a55" stroke-width="0.5"/><circle cx="670.0" cy="144.0" r="3.6" fill="url(#nag)" stroke="#b85a55" stroke-width="0.5"/><circle cx="707.0" cy="142.5" r="3.6" fill="url(#nag)" stroke="#b85a55" stroke-width="0.5"/><circle cx="571.5" cy="186.5" r="3.6" fill="url(#nag)" stroke="#b85a55" stroke-width="0.5"/><circle cx="608.5" cy="185.0" r="3.6" fill="url(#nag)" stroke="#b85a55" stroke-width="0.5"/><circle cx="645.5" cy="183.5" r="3.6" fill="url(#nag)" stroke="#b85a55" stroke-width="0.5"/><circle cx="608.0" cy="180.5" r="3.6" fill="url(#nag)" stroke="#b85a55" stroke-width="0.5"/><circle cx="645.0" cy="179.0" r="3.6" fill="url(#nag)" stroke="#b85a55" stroke-width="0.5"/><circle cx="682.0" cy="177.5" r="3.6" fill="url(#nag)" stroke="#b85a55" stroke-width="0.5"/><circle cx="547.0" cy="218.5" r="3.6" fill="url(#nag)" stroke="#b85a55" stroke-width="0.5"/><circle cx="584.0" cy="217.0" r="3.6" fill="url(#nag)" stroke="#b85a55" stroke-width="0.5"/><circle cx="621.0" cy="215.5" r="3.6" fill="url(#nag)" stroke="#b85a55" stroke-width="0.5"/><circle cx="658.0" cy="214.0" r="3.6" fill="url(#nag)" stroke="#b85a55" stroke-width="0.5"/><circle cx="695.0" cy="212.5" r="3.6" fill="url(#nag)" stroke="#b85a55" stroke-width="0.5"/><circle cx="583.5" cy="212.5" r="3.6" fill="url(#nag)" stroke="#b85a55" stroke-width="0.5"/><circle cx="620.5" cy="211.0" r="3.6" fill="url(#nag)" stroke="#b85a55" stroke-width="0.5"/><circle cx="657.5" cy="209.5" r="3.6" fill="url(#nag)" stroke="#b85a55" stroke-width="0.5"/><circle cx="596.0" cy="250.5" r="3.6" fill="url(#nag)" stroke="#b85a55" stroke-width="0.5"/><circle cx="633.0" cy="249.0" r="3.6" fill="url(#nag)" stroke="#b85a55" stroke-width="0.5"/><circle cx="670.0" cy="247.5" r="3.6" fill="url(#nag)" stroke="#b85a55" stroke-width="0.5"/><circle cx="559.0" cy="244.5" r="3.6" fill="url(#nag)" stroke="#b85a55" stroke-width="0.5"/><circle cx="596.0" cy="243.0" r="3.6" fill="url(#nag)" stroke="#b85a55" stroke-width="0.5"/><circle cx="633.0" cy="241.5" r="3.6" fill="url(#nag)" stroke="#b85a55" stroke-width="0.5"/><circle cx="670.0" cy="240.0" r="3.6" fill="url(#nag)" stroke="#b85a55" stroke-width="0.5"/><circle cx="707.0" cy="238.5" r="3.6" fill="url(#nag)" stroke="#b85a55" stroke-width="0.5"/><circle cx="571.5" cy="282.5" r="3.6" fill="url(#nag)" stroke="#b85a55" stroke-width="0.5"/><circle cx="608.5" cy="281.0" r="3.6" fill="url(#nag)" stroke="#b85a55" stroke-width="0.5"/><circle cx="645.5" cy="279.5" r="3.6" fill="url(#nag)" stroke="#b85a55" stroke-width="0.5"/><circle cx="608.0" cy="276.5" r="3.6" fill="url(#nag)" stroke="#b85a55" stroke-width="0.5"/><circle cx="645.0" cy="275.0" r="3.6" fill="url(#nag)" stroke="#b85a55" stroke-width="0.5"/><circle cx="682.0" cy="273.5" r="3.6" fill="url(#nag)" stroke="#b85a55" stroke-width="0.5"/><polygon points="534.2,92.5 551.7,90.0 557.5,106.7 540.8,108.3" fill="#14147c"/><polygon points="534.2,92.5 551.7,90.0 546.5,96.5" fill="#2a2a92"/><line x1="551.7" y1="90.0" x2="540.8" y2="108.3" stroke="#8a86c0" stroke-width="0.6"/><circle cx="534.2" cy="92.5" r="1.7" fill="#7b4a1f"/><circle cx="551.7" cy="90.0" r="1.7" fill="#7b4a1f"/><circle cx="557.5" cy="106.7" r="1.7" fill="#7b4a1f"/><circle cx="540.8" cy="108.3" r="1.7" fill="#7b4a1f"/><polygon points="571.2,91.0 588.7,88.5 594.5,105.2 577.8,106.8" fill="#14147c"/><polygon points="571.2,91.0 588.7,88.5 583.5,95.0" fill="#2a2a92"/><line x1="588.7" y1="88.5" x2="577.8" y2="106.8" stroke="#8a86c0" stroke-width="0.6"/><circle cx="571.2" cy="91.0" r="1.7" fill="#7b4a1f"/><circle cx="588.7" cy="88.5" r="1.7" fill="#7b4a1f"/><circle cx="594.5" cy="105.2" r="1.7" fill="#7b4a1f"/><circle cx="577.8" cy="106.8" r="1.7" fill="#7b4a1f"/><polygon points="608.2,89.5 625.7,87.0 631.5,103.7 614.8,105.3" fill="#14147c"/><polygon points="608.2,89.5 625.7,87.0 620.5,93.5" fill="#2a2a92"/><line x1="625.7" y1="87.0" x2="614.8" y2="105.3" stroke="#8a86c0" stroke-width="0.6"/><circle cx="608.2" cy="89.5" r="1.7" fill="#7b4a1f"/><circle cx="625.7" cy="87.0" r="1.7" fill="#7b4a1f"/><circle cx="631.5" cy="103.7" r="1.7" fill="#7b4a1f"/><circle cx="614.8" cy="105.3" r="1.7" fill="#7b4a1f"/><polygon points="645.2,88.0 662.7,85.5 668.5,102.2 651.8,103.8" fill="#14147c"/><polygon points="645.2,88.0 662.7,85.5 657.5,92.0" fill="#2a2a92"/><line x1="662.7" y1="85.5" x2="651.8" y2="103.8" stroke="#8a86c0" stroke-width="0.6"/><circle cx="645.2" cy="88.0" r="1.7" fill="#7b4a1f"/><circle cx="662.7" cy="85.5" r="1.7" fill="#7b4a1f"/><circle cx="668.5" cy="102.2" r="1.7" fill="#7b4a1f"/><circle cx="651.8" cy="103.8" r="1.7" fill="#7b4a1f"/><polygon points="682.2,86.5 699.7,84.0 705.5,100.7 688.8,102.3" fill="#14147c"/><polygon points="682.2,86.5 699.7,84.0 694.5,90.5" fill="#2a2a92"/><line x1="699.7" y1="84.0" x2="688.8" y2="102.3" stroke="#8a86c0" stroke-width="0.6"/><circle cx="682.2" cy="86.5" r="1.7" fill="#7b4a1f"/><circle cx="699.7" cy="84.0" r="1.7" fill="#7b4a1f"/><circle cx="705.5" cy="100.7" r="1.7" fill="#7b4a1f"/><circle cx="688.8" cy="102.3" r="1.7" fill="#7b4a1f"/><polygon points="560.2,109.3 575.9,107.3 581.5,121.9 566.1,124.1" fill="#5ccdc9"/><polygon points="560.2,109.3 575.9,107.3 571.2,113.1" fill="#9ae6e0"/><line x1="575.9" y1="107.3" x2="566.1" y2="124.1" stroke="#d6f4f2" stroke-width="0.6"/><circle cx="560.2" cy="109.3" r="1.7" fill="#aab4e6"/><circle cx="575.9" cy="107.3" r="1.7" fill="#aab4e6"/><circle cx="581.5" cy="121.9" r="1.7" fill="#aab4e6"/><circle cx="566.1" cy="124.1" r="1.7" fill="#aab4e6"/><polygon points="597.4,108.5 613.1,106.5 618.7,121.0 603.3,123.2" fill="#5ccdc9"/><polygon points="597.4,108.5 613.1,106.5 608.4,112.2" fill="#9ae6e0"/><line x1="613.1" y1="106.5" x2="603.3" y2="123.2" stroke="#d6f4f2" stroke-width="0.6"/><circle cx="597.4" cy="108.5" r="1.7" fill="#aab4e6"/><circle cx="613.1" cy="106.5" r="1.7" fill="#aab4e6"/><circle cx="618.7" cy="121.0" r="1.7" fill="#aab4e6"/><circle cx="603.3" cy="123.2" r="1.7" fill="#aab4e6"/><polygon points="634.2,106.3 649.9,104.3 655.5,118.9 640.1,121.1" fill="#5ccdc9"/><polygon points="634.2,106.3 649.9,104.3 645.2,110.1" fill="#9ae6e0"/><line x1="649.9" y1="104.3" x2="640.1" y2="121.1" stroke="#d6f4f2" stroke-width="0.6"/><circle cx="634.2" cy="106.3" r="1.7" fill="#aab4e6"/><circle cx="649.9" cy="104.3" r="1.7" fill="#aab4e6"/><circle cx="655.5" cy="118.9" r="1.7" fill="#aab4e6"/><circle cx="640.1" cy="121.1" r="1.7" fill="#aab4e6"/><polygon points="583.6,125.8 601.1,123.2 606.9,139.9 590.2,141.6" fill="#14147c"/><polygon points="583.6,125.8 601.1,123.2 595.9,129.8" fill="#2a2a92"/><line x1="601.1" y1="123.2" x2="590.2" y2="141.6" stroke="#8a86c0" stroke-width="0.6"/><circle cx="583.6" cy="125.8" r="1.7" fill="#7b4a1f"/><circle cx="601.1" cy="123.2" r="1.7" fill="#7b4a1f"/><circle cx="606.9" cy="139.9" r="1.7" fill="#7b4a1f"/><circle cx="590.2" cy="141.6" r="1.7" fill="#7b4a1f"/><polygon points="621.0,125.5 638.5,123.0 644.3,139.7 627.6,141.3" fill="#14147c"/><polygon points="621.0,125.5 638.5,123.0 633.3,129.5" fill="#2a2a92"/><line x1="638.5" y1="123.0" x2="627.6" y2="141.3" stroke="#8a86c0" stroke-width="0.6"/><circle cx="621.0" cy="125.5" r="1.7" fill="#7b4a1f"/><circle cx="638.5" cy="123.0" r="1.7" fill="#7b4a1f"/><circle cx="644.3" cy="139.7" r="1.7" fill="#7b4a1f"/><circle cx="627.6" cy="141.3" r="1.7" fill="#7b4a1f"/><polygon points="657.6,122.8 675.1,120.2 680.9,136.9 664.2,138.6" fill="#14147c"/><polygon points="657.6,122.8 675.1,120.2 669.9,126.8" fill="#2a2a92"/><line x1="675.1" y1="120.2" x2="664.2" y2="138.6" stroke="#8a86c0" stroke-width="0.6"/><circle cx="657.6" cy="122.8" r="1.7" fill="#7b4a1f"/><circle cx="675.1" cy="120.2" r="1.7" fill="#7b4a1f"/><circle cx="680.9" cy="136.9" r="1.7" fill="#7b4a1f"/><circle cx="664.2" cy="138.6" r="1.7" fill="#7b4a1f"/><polygon points="535.5,140.7 551.2,138.7 556.8,153.3 541.4,155.5" fill="#5ccdc9"/><polygon points="535.5,140.7 551.2,138.7 546.5,144.5" fill="#9ae6e0"/><line x1="551.2" y1="138.7" x2="541.4" y2="155.5" stroke="#d6f4f2" stroke-width="0.6"/><circle cx="535.5" cy="140.7" r="1.7" fill="#aab4e6"/><circle cx="551.2" cy="138.7" r="1.7" fill="#aab4e6"/><circle cx="556.8" cy="153.3" r="1.7" fill="#aab4e6"/><circle cx="541.4" cy="155.5" r="1.7" fill="#aab4e6"/><polygon points="573.1,141.1 588.8,139.1 594.4,153.7 579.0,155.9" fill="#5ccdc9"/><polygon points="573.1,141.1 588.8,139.1 584.1,144.9" fill="#9ae6e0"/><line x1="588.8" y1="139.1" x2="579.0" y2="155.9" stroke="#d6f4f2" stroke-width="0.6"/><circle cx="573.1" cy="141.1" r="1.7" fill="#aab4e6"/><circle cx="588.8" cy="139.1" r="1.7" fill="#aab4e6"/><circle cx="594.4" cy="153.7" r="1.7" fill="#aab4e6"/><circle cx="579.0" cy="155.9" r="1.7" fill="#aab4e6"/><polygon points="610.8,141.4 626.5,139.4 632.0,154.1 616.6,156.2" fill="#5ccdc9"/><polygon points="610.8,141.4 626.5,139.4 621.8,145.2" fill="#9ae6e0"/><line x1="626.5" y1="139.4" x2="616.6" y2="156.2" stroke="#d6f4f2" stroke-width="0.6"/><circle cx="610.8" cy="141.4" r="1.7" fill="#aab4e6"/><circle cx="626.5" cy="139.4" r="1.7" fill="#aab4e6"/><circle cx="632.0" cy="154.1" r="1.7" fill="#aab4e6"/><circle cx="616.6" cy="156.2" r="1.7" fill="#aab4e6"/><polygon points="647.1,138.1 662.8,136.1 668.4,150.7 653.0,152.9" fill="#5ccdc9"/><polygon points="647.1,138.1 662.8,136.1 658.1,141.9" fill="#9ae6e0"/><line x1="662.8" y1="136.1" x2="653.0" y2="152.9" stroke="#d6f4f2" stroke-width="0.6"/><circle cx="647.1" cy="138.1" r="1.7" fill="#aab4e6"/><circle cx="662.8" cy="136.1" r="1.7" fill="#aab4e6"/><circle cx="668.4" cy="150.7" r="1.7" fill="#aab4e6"/><circle cx="653.0" cy="152.9" r="1.7" fill="#aab4e6"/><polygon points="683.5,134.7 699.2,132.7 704.8,147.3 689.4,149.5" fill="#5ccdc9"/><polygon points="683.5,134.7 699.2,132.7 694.5,138.5" fill="#9ae6e0"/><line x1="699.2" y1="132.7" x2="689.4" y2="149.5" stroke="#d6f4f2" stroke-width="0.6"/><circle cx="683.5" cy="134.7" r="1.7" fill="#aab4e6"/><circle cx="699.2" cy="132.7" r="1.7" fill="#aab4e6"/><circle cx="704.8" cy="147.3" r="1.7" fill="#aab4e6"/><circle cx="689.4" cy="149.5" r="1.7" fill="#aab4e6"/><polygon points="559.5,159.0 577.0,156.5 582.8,173.2 566.1,174.8" fill="#14147c"/><polygon points="559.5,159.0 577.0,156.5 571.8,163.0" fill="#2a2a92"/><line x1="577.0" y1="156.5" x2="566.1" y2="174.8" stroke="#8a86c0" stroke-width="0.6"/><circle cx="559.5" cy="159.0" r="1.7" fill="#7b4a1f"/><circle cx="577.0" cy="156.5" r="1.7" fill="#7b4a1f"/><circle cx="582.8" cy="173.2" r="1.7" fill="#7b4a1f"/><circle cx="566.1" cy="174.8" r="1.7" fill="#7b4a1f"/><polygon points="597.4,160.0 614.9,157.5 620.7,174.2 604.0,175.8" fill="#14147c"/><polygon points="597.4,160.0 614.9,157.5 609.7,164.0" fill="#2a2a92"/><line x1="614.9" y1="157.5" x2="604.0" y2="175.8" stroke="#8a86c0" stroke-width="0.6"/><circle cx="597.4" cy="160.0" r="1.7" fill="#7b4a1f"/><circle cx="614.9" cy="157.5" r="1.7" fill="#7b4a1f"/><circle cx="620.7" cy="174.2" r="1.7" fill="#7b4a1f"/><circle cx="604.0" cy="175.8" r="1.7" fill="#7b4a1f"/><polygon points="633.5,156.0 651.0,153.5 656.8,170.2 640.1,171.8" fill="#14147c"/><polygon points="633.5,156.0 651.0,153.5 645.8,160.0" fill="#2a2a92"/><line x1="651.0" y1="153.5" x2="640.1" y2="171.8" stroke="#8a86c0" stroke-width="0.6"/><circle cx="633.5" cy="156.0" r="1.7" fill="#7b4a1f"/><circle cx="651.0" cy="153.5" r="1.7" fill="#7b4a1f"/><circle cx="656.8" cy="170.2" r="1.7" fill="#7b4a1f"/><circle cx="640.1" cy="171.8" r="1.7" fill="#7b4a1f"/><polygon points="585.5,175.8 601.2,173.8 606.8,188.4 591.4,190.6" fill="#5ccdc9"/><polygon points="585.5,175.8 601.2,173.8 596.5,179.6" fill="#9ae6e0"/><line x1="601.2" y1="173.8" x2="591.4" y2="190.6" stroke="#d6f4f2" stroke-width="0.6"/><circle cx="585.5" cy="175.8" r="1.7" fill="#aab4e6"/><circle cx="601.2" cy="173.8" r="1.7" fill="#aab4e6"/><circle cx="606.8" cy="188.4" r="1.7" fill="#aab4e6"/><circle cx="591.4" cy="190.6" r="1.7" fill="#aab4e6"/><polygon points="623.6,177.4 639.3,175.4 644.9,190.1 629.5,192.2" fill="#5ccdc9"/><polygon points="623.6,177.4 639.3,175.4 634.6,181.2" fill="#9ae6e0"/><line x1="639.3" y1="175.4" x2="629.5" y2="192.2" stroke="#d6f4f2" stroke-width="0.6"/><circle cx="623.6" cy="177.4" r="1.7" fill="#aab4e6"/><circle cx="639.3" cy="175.4" r="1.7" fill="#aab4e6"/><circle cx="644.9" cy="190.1" r="1.7" fill="#aab4e6"/><circle cx="629.5" cy="192.2" r="1.7" fill="#aab4e6"/><polygon points="659.5,172.8 675.2,170.8 680.8,185.4 665.4,187.6" fill="#5ccdc9"/><polygon points="659.5,172.8 675.2,170.8 670.5,176.6" fill="#9ae6e0"/><line x1="675.2" y1="170.8" x2="665.4" y2="187.6" stroke="#d6f4f2" stroke-width="0.6"/><circle cx="659.5" cy="172.8" r="1.7" fill="#aab4e6"/><circle cx="675.2" cy="170.8" r="1.7" fill="#aab4e6"/><circle cx="680.8" cy="185.4" r="1.7" fill="#aab4e6"/><circle cx="665.4" cy="187.6" r="1.7" fill="#aab4e6"/><polygon points="534.2,188.5 551.7,186.0 557.5,202.7 540.8,204.3" fill="#14147c"/><polygon points="534.2,188.5 551.7,186.0 546.5,192.5" fill="#2a2a92"/><line x1="551.7" y1="186.0" x2="540.8" y2="204.3" stroke="#8a86c0" stroke-width="0.6"/><circle cx="534.2" cy="188.5" r="1.7" fill="#7b4a1f"/><circle cx="551.7" cy="186.0" r="1.7" fill="#7b4a1f"/><circle cx="557.5" cy="202.7" r="1.7" fill="#7b4a1f"/><circle cx="540.8" cy="204.3" r="1.7" fill="#7b4a1f"/><polygon points="572.5,190.8 590.0,188.2 595.8,204.9 579.0,206.6" fill="#14147c"/><polygon points="572.5,190.8 590.0,188.2 584.8,194.8" fill="#2a2a92"/><line x1="590.0" y1="188.2" x2="579.0" y2="206.6" stroke="#8a86c0" stroke-width="0.6"/><circle cx="572.5" cy="190.8" r="1.7" fill="#7b4a1f"/><circle cx="590.0" cy="188.2" r="1.7" fill="#7b4a1f"/><circle cx="595.8" cy="204.9" r="1.7" fill="#7b4a1f"/><circle cx="579.0" cy="206.6" r="1.7" fill="#7b4a1f"/><polygon points="610.7,193.0 628.2,190.5 634.0,207.2 617.3,208.8" fill="#14147c"/><polygon points="610.7,193.0 628.2,190.5 623.0,197.0" fill="#2a2a92"/><line x1="628.2" y1="190.5" x2="617.3" y2="208.8" stroke="#8a86c0" stroke-width="0.6"/><circle cx="610.7" cy="193.0" r="1.7" fill="#7b4a1f"/><circle cx="628.2" cy="190.5" r="1.7" fill="#7b4a1f"/><circle cx="634.0" cy="207.2" r="1.7" fill="#7b4a1f"/><circle cx="617.3" cy="208.8" r="1.7" fill="#7b4a1f"/><polygon points="646.5,187.8 664.0,185.2 669.8,201.9 653.0,203.6" fill="#14147c"/><polygon points="646.5,187.8 664.0,185.2 658.8,191.8" fill="#2a2a92"/><line x1="664.0" y1="185.2" x2="653.0" y2="203.6" stroke="#8a86c0" stroke-width="0.6"/><circle cx="646.5" cy="187.8" r="1.7" fill="#7b4a1f"/><circle cx="664.0" cy="185.2" r="1.7" fill="#7b4a1f"/><circle cx="669.8" cy="201.9" r="1.7" fill="#7b4a1f"/><circle cx="653.0" cy="203.6" r="1.7" fill="#7b4a1f"/><polygon points="682.2,182.5 699.7,180.0 705.5,196.7 688.8,198.3" fill="#14147c"/><polygon points="682.2,182.5 699.7,180.0 694.5,186.5" fill="#2a2a92"/><line x1="699.7" y1="180.0" x2="688.8" y2="198.3" stroke="#8a86c0" stroke-width="0.6"/><circle cx="682.2" cy="182.5" r="1.7" fill="#7b4a1f"/><circle cx="699.7" cy="180.0" r="1.7" fill="#7b4a1f"/><circle cx="705.5" cy="196.7" r="1.7" fill="#7b4a1f"/><circle cx="688.8" cy="198.3" r="1.7" fill="#7b4a1f"/><polygon points="561.5,209.1 577.2,207.1 582.8,221.7 567.4,223.9" fill="#5ccdc9"/><polygon points="561.5,209.1 577.2,207.1 572.5,212.9" fill="#9ae6e0"/><line x1="577.2" y1="207.1" x2="567.4" y2="223.9" stroke="#d6f4f2" stroke-width="0.6"/><circle cx="561.5" cy="209.1" r="1.7" fill="#aab4e6"/><circle cx="577.2" cy="207.1" r="1.7" fill="#aab4e6"/><circle cx="582.8" cy="221.7" r="1.7" fill="#aab4e6"/><circle cx="567.4" cy="223.9" r="1.7" fill="#aab4e6"/><polygon points="599.9,211.9 615.6,209.9 621.2,224.6 605.8,226.8" fill="#5ccdc9"/><polygon points="599.9,211.9 615.6,209.9 610.9,215.8" fill="#9ae6e0"/><line x1="615.6" y1="209.9" x2="605.8" y2="226.8" stroke="#d6f4f2" stroke-width="0.6"/><circle cx="599.9" cy="211.9" r="1.7" fill="#aab4e6"/><circle cx="615.6" cy="209.9" r="1.7" fill="#aab4e6"/><circle cx="621.2" cy="224.6" r="1.7" fill="#aab4e6"/><circle cx="605.8" cy="226.8" r="1.7" fill="#aab4e6"/><polygon points="635.5,206.1 651.2,204.1 656.8,218.7 641.4,220.9" fill="#5ccdc9"/><polygon points="635.5,206.1 651.2,204.1 646.5,209.9" fill="#9ae6e0"/><line x1="651.2" y1="204.1" x2="641.4" y2="220.9" stroke="#d6f4f2" stroke-width="0.6"/><circle cx="635.5" cy="206.1" r="1.7" fill="#aab4e6"/><circle cx="651.2" cy="204.1" r="1.7" fill="#aab4e6"/><circle cx="656.8" cy="218.7" r="1.7" fill="#aab4e6"/><circle cx="641.4" cy="220.9" r="1.7" fill="#aab4e6"/><polygon points="584.9,225.5 602.4,223.0 608.2,239.7 591.5,241.3" fill="#14147c"/><polygon points="584.9,225.5 602.4,223.0 597.2,229.5" fill="#2a2a92"/><line x1="602.4" y1="223.0" x2="591.5" y2="241.3" stroke="#8a86c0" stroke-width="0.6"/><circle cx="584.9" cy="225.5" r="1.7" fill="#7b4a1f"/><circle cx="602.4" cy="223.0" r="1.7" fill="#7b4a1f"/><circle cx="608.2" cy="239.7" r="1.7" fill="#7b4a1f"/><circle cx="591.5" cy="241.3" r="1.7" fill="#7b4a1f"/><polygon points="623.5,229.0 641.0,226.5 646.8,243.2 630.1,244.8" fill="#14147c"/><polygon points="623.5,229.0 641.0,226.5 635.8,233.0" fill="#2a2a92"/><line x1="641.0" y1="226.5" x2="630.1" y2="244.8" stroke="#8a86c0" stroke-width="0.6"/><circle cx="623.5" cy="229.0" r="1.7" fill="#7b4a1f"/><circle cx="641.0" cy="226.5" r="1.7" fill="#7b4a1f"/><circle cx="646.8" cy="243.2" r="1.7" fill="#7b4a1f"/><circle cx="630.1" cy="244.8" r="1.7" fill="#7b4a1f"/><polygon points="658.9,222.5 676.4,220.0 682.2,236.7 665.5,238.3" fill="#14147c"/><polygon points="658.9,222.5 676.4,220.0 671.2,226.5" fill="#2a2a92"/><line x1="676.4" y1="220.0" x2="665.5" y2="238.3" stroke="#8a86c0" stroke-width="0.6"/><circle cx="658.9" cy="222.5" r="1.7" fill="#7b4a1f"/><circle cx="676.4" cy="220.0" r="1.7" fill="#7b4a1f"/><circle cx="682.2" cy="236.7" r="1.7" fill="#7b4a1f"/><circle cx="665.5" cy="238.3" r="1.7" fill="#7b4a1f"/><polygon points="535.5,236.7 551.2,234.7 556.8,249.3 541.4,251.5" fill="#5ccdc9"/><polygon points="535.5,236.7 551.2,234.7 546.5,240.5" fill="#9ae6e0"/><line x1="551.2" y1="234.7" x2="541.4" y2="251.5" stroke="#d6f4f2" stroke-width="0.6"/><circle cx="535.5" cy="236.7" r="1.7" fill="#aab4e6"/><circle cx="551.2" cy="234.7" r="1.7" fill="#aab4e6"/><circle cx="556.8" cy="249.3" r="1.7" fill="#aab4e6"/><circle cx="541.4" cy="251.5" r="1.7" fill="#aab4e6"/><polygon points="574.4,240.8 590.1,238.8 595.7,253.4 580.3,255.6" fill="#5ccdc9"/><polygon points="574.4,240.8 590.1,238.8 585.4,244.6" fill="#9ae6e0"/><line x1="590.1" y1="238.8" x2="580.3" y2="255.6" stroke="#d6f4f2" stroke-width="0.6"/><circle cx="574.4" cy="240.8" r="1.7" fill="#aab4e6"/><circle cx="590.1" cy="238.8" r="1.7" fill="#aab4e6"/><circle cx="595.7" cy="253.4" r="1.7" fill="#aab4e6"/><circle cx="580.3" cy="255.6" r="1.7" fill="#aab4e6"/><polygon points="613.2,244.9 629.0,242.9 634.5,257.6 619.1,259.8" fill="#5ccdc9"/><polygon points="613.2,244.9 629.0,242.9 624.2,248.8" fill="#9ae6e0"/><line x1="629.0" y1="242.9" x2="619.1" y2="259.8" stroke="#d6f4f2" stroke-width="0.6"/><circle cx="613.2" cy="244.9" r="1.7" fill="#aab4e6"/><circle cx="629.0" cy="242.9" r="1.7" fill="#aab4e6"/><circle cx="634.5" cy="257.6" r="1.7" fill="#aab4e6"/><circle cx="619.1" cy="259.8" r="1.7" fill="#aab4e6"/><polygon points="648.4,237.8 664.1,235.8 669.7,250.4 654.3,252.6" fill="#5ccdc9"/><polygon points="648.4,237.8 664.1,235.8 659.4,241.6" fill="#9ae6e0"/><line x1="664.1" y1="235.8" x2="654.3" y2="252.6" stroke="#d6f4f2" stroke-width="0.6"/><circle cx="648.4" cy="237.8" r="1.7" fill="#aab4e6"/><circle cx="664.1" cy="235.8" r="1.7" fill="#aab4e6"/><circle cx="669.7" cy="250.4" r="1.7" fill="#aab4e6"/><circle cx="654.3" cy="252.6" r="1.7" fill="#aab4e6"/><polygon points="683.5,230.7 699.2,228.7 704.8,243.3 689.4,245.5" fill="#5ccdc9"/><polygon points="683.5,230.7 699.2,228.7 694.5,234.5" fill="#9ae6e0"/><line x1="699.2" y1="228.7" x2="689.4" y2="245.5" stroke="#d6f4f2" stroke-width="0.6"/><circle cx="683.5" cy="230.7" r="1.7" fill="#aab4e6"/><circle cx="699.2" cy="228.7" r="1.7" fill="#aab4e6"/><circle cx="704.8" cy="243.3" r="1.7" fill="#aab4e6"/><circle cx="689.4" cy="245.5" r="1.7" fill="#aab4e6"/><polygon points="560.8,258.8 578.3,256.2 584.1,272.9 567.4,274.6" fill="#14147c"/><polygon points="560.8,258.8 578.3,256.2 573.1,262.8" fill="#2a2a92"/><line x1="578.3" y1="256.2" x2="567.4" y2="274.6" stroke="#8a86c0" stroke-width="0.6"/><circle cx="560.8" cy="258.8" r="1.7" fill="#7b4a1f"/><circle cx="578.3" cy="256.2" r="1.7" fill="#7b4a1f"/><circle cx="584.1" cy="272.9" r="1.7" fill="#7b4a1f"/><circle cx="567.4" cy="274.6" r="1.7" fill="#7b4a1f"/><polygon points="599.9,263.5 617.4,261.0 623.2,277.7 606.5,279.3" fill="#14147c"/><polygon points="599.9,263.5 617.4,261.0 612.2,267.5" fill="#2a2a92"/><line x1="617.4" y1="261.0" x2="606.5" y2="279.3" stroke="#8a86c0" stroke-width="0.6"/><circle cx="599.9" cy="263.5" r="1.7" fill="#7b4a1f"/><circle cx="617.4" cy="261.0" r="1.7" fill="#7b4a1f"/><circle cx="623.2" cy="277.7" r="1.7" fill="#7b4a1f"/><circle cx="606.5" cy="279.3" r="1.7" fill="#7b4a1f"/><polygon points="634.8,255.8 652.3,253.2 658.1,269.9 641.4,271.6" fill="#14147c"/><polygon points="634.8,255.8 652.3,253.2 647.1,259.8" fill="#2a2a92"/><line x1="652.3" y1="253.2" x2="641.4" y2="271.6" stroke="#8a86c0" stroke-width="0.6"/><circle cx="634.8" cy="255.8" r="1.7" fill="#7b4a1f"/><circle cx="652.3" cy="253.2" r="1.7" fill="#7b4a1f"/><circle cx="658.1" cy="269.9" r="1.7" fill="#7b4a1f"/><circle cx="641.4" cy="271.6" r="1.7" fill="#7b4a1f"/><polygon points="586.8,275.6 602.5,273.6 608.1,288.2 592.7,290.4" fill="#5ccdc9"/><polygon points="586.8,275.6 602.5,273.6 597.8,279.4" fill="#9ae6e0"/><line x1="602.5" y1="273.6" x2="592.7" y2="290.4" stroke="#d6f4f2" stroke-width="0.6"/><circle cx="586.8" cy="275.6" r="1.7" fill="#aab4e6"/><circle cx="602.5" cy="273.6" r="1.7" fill="#aab4e6"/><circle cx="608.1" cy="288.2" r="1.7" fill="#aab4e6"/><circle cx="592.7" cy="290.4" r="1.7" fill="#aab4e6"/><polygon points="626.1,280.9 641.8,278.9 647.4,293.6 632.0,295.8" fill="#5ccdc9"/><polygon points="626.1,280.9 641.8,278.9 637.1,284.8" fill="#9ae6e0"/><line x1="641.8" y1="278.9" x2="632.0" y2="295.8" stroke="#d6f4f2" stroke-width="0.6"/><circle cx="626.1" cy="280.9" r="1.7" fill="#aab4e6"/><circle cx="641.8" cy="278.9" r="1.7" fill="#aab4e6"/><circle cx="647.4" cy="293.6" r="1.7" fill="#aab4e6"/><circle cx="632.0" cy="295.8" r="1.7" fill="#aab4e6"/><polygon points="660.8,272.6 676.5,270.6 682.1,285.2 666.7,287.4" fill="#5ccdc9"/><polygon points="660.8,272.6 676.5,270.6 671.8,276.4" fill="#9ae6e0"/><line x1="676.5" y1="270.6" x2="666.7" y2="287.4" stroke="#d6f4f2" stroke-width="0.6"/><circle cx="660.8" cy="272.6" r="1.7" fill="#aab4e6"/><circle cx="676.5" cy="270.6" r="1.7" fill="#aab4e6"/><circle cx="682.1" cy="285.2" r="1.7" fill="#aab4e6"/><circle cx="666.7" cy="287.4" r="1.7" fill="#aab4e6"/><polygon points="534.2,284.5 551.7,282.0 557.5,298.7 540.8,300.3" fill="#14147c"/><polygon points="534.2,284.5 551.7,282.0 546.5,288.5" fill="#2a2a92"/><line x1="551.7" y1="282.0" x2="540.8" y2="300.3" stroke="#8a86c0" stroke-width="0.6"/><circle cx="534.2" cy="284.5" r="1.7" fill="#7b4a1f"/><circle cx="551.7" cy="282.0" r="1.7" fill="#7b4a1f"/><circle cx="557.5" cy="298.7" r="1.7" fill="#7b4a1f"/><circle cx="540.8" cy="300.3" r="1.7" fill="#7b4a1f"/><polygon points="573.7,290.5 591.2,288.0 597.0,304.7 580.3,306.3" fill="#14147c"/><polygon points="573.7,290.5 591.2,288.0 586.0,294.5" fill="#2a2a92"/><line x1="591.2" y1="288.0" x2="580.3" y2="306.3" stroke="#8a86c0" stroke-width="0.6"/><circle cx="573.7" cy="290.5" r="1.7" fill="#7b4a1f"/><circle cx="591.2" cy="288.0" r="1.7" fill="#7b4a1f"/><circle cx="597.0" cy="304.7" r="1.7" fill="#7b4a1f"/><circle cx="580.3" cy="306.3" r="1.7" fill="#7b4a1f"/><polygon points="613.2,296.5 630.7,294.0 636.5,310.7 619.8,312.3" fill="#14147c"/><polygon points="613.2,296.5 630.7,294.0 625.5,300.5" fill="#2a2a92"/><line x1="630.7" y1="294.0" x2="619.8" y2="312.3" stroke="#8a86c0" stroke-width="0.6"/><circle cx="613.2" cy="296.5" r="1.7" fill="#7b4a1f"/><circle cx="630.7" cy="294.0" r="1.7" fill="#7b4a1f"/><circle cx="636.5" cy="310.7" r="1.7" fill="#7b4a1f"/><circle cx="619.8" cy="312.3" r="1.7" fill="#7b4a1f"/><polygon points="647.7,287.5 665.2,285.0 671.0,301.7 654.3,303.3" fill="#14147c"/><polygon points="647.7,287.5 665.2,285.0 660.0,291.5" fill="#2a2a92"/><line x1="665.2" y1="285.0" x2="654.3" y2="303.3" stroke="#8a86c0" stroke-width="0.6"/><circle cx="647.7" cy="287.5" r="1.7" fill="#7b4a1f"/><circle cx="665.2" cy="285.0" r="1.7" fill="#7b4a1f"/><circle cx="671.0" cy="301.7" r="1.7" fill="#7b4a1f"/><circle cx="654.3" cy="303.3" r="1.7" fill="#7b4a1f"/><polygon points="682.2,278.5 699.7,276.0 705.5,292.7 688.8,294.3" fill="#14147c"/><polygon points="682.2,278.5 699.7,276.0 694.5,282.5" fill="#2a2a92"/><line x1="699.7" y1="276.0" x2="688.8" y2="294.3" stroke="#8a86c0" stroke-width="0.6"/><circle cx="682.2" cy="278.5" r="1.7" fill="#7b4a1f"/><circle cx="699.7" cy="276.0" r="1.7" fill="#7b4a1f"/><circle cx="705.5" cy="292.7" r="1.7" fill="#7b4a1f"/><circle cx="688.8" cy="294.3" r="1.7" fill="#7b4a1f"/>
<g stroke="#86524e" stroke-width="1"><line x1="928.1" y1="81.6" x2="938.7" y2="83.9"/><line x1="938.7" y1="83.9" x2="949.3" y2="82.2"/><line x1="938.7" y1="83.9" x2="938.7" y2="88.1"/><line x1="949.3" y1="82.2" x2="959.9" y2="84.4"/><line x1="959.9" y1="84.4" x2="970.5" y2="82.7"/><line x1="959.9" y1="84.4" x2="959.9" y2="88.6"/><line x1="970.5" y1="82.7" x2="981.1" y2="85.0"/><line x1="981.1" y1="85.0" x2="991.7" y2="83.3"/><line x1="981.1" y1="85.0" x2="981.1" y2="89.2"/><line x1="991.7" y1="83.3" x2="1002.3" y2="85.6"/><line x1="1002.3" y1="85.6" x2="1012.9" y2="83.9"/><line x1="1002.3" y1="85.6" x2="1002.3" y2="89.8"/><line x1="1012.9" y1="83.9" x2="1023.5" y2="86.2"/><line x1="1023.5" y1="86.2" x2="1023.5" y2="90.4"/><line x1="906.9" y1="89.2" x2="917.5" y2="87.5"/><line x1="906.9" y1="89.2" x2="906.9" y2="93.4"/><line x1="917.5" y1="87.5" x2="928.1" y2="89.8"/><line x1="928.1" y1="89.8" x2="938.7" y2="88.1"/><line x1="928.1" y1="89.8" x2="928.1" y2="94.0"/><line x1="938.7" y1="88.1" x2="949.3" y2="90.4"/><line x1="949.3" y1="90.4" x2="959.9" y2="88.6"/><line x1="949.3" y1="90.4" x2="949.3" y2="94.6"/><line x1="959.9" y1="88.6" x2="970.5" y2="90.9"/><line x1="970.5" y1="90.9" x2="981.1" y2="89.2"/><line x1="970.5" y1="90.9" x2="970.5" y2="95.1"/><line x1="981.1" y1="89.2" x2="991.7" y2="91.5"/><line x1="991.7" y1="91.5" x2="1002.3" y2="89.8"/><line x1="991.7" y1="91.5" x2="991.7" y2="95.7"/><line x1="1002.3" y1="89.8" x2="1012.9" y2="92.1"/><line x1="1012.9" y1="92.1" x2="1023.5" y2="90.4"/><line x1="1012.9" y1="92.1" x2="1012.9" y2="96.3"/><line x1="896.3" y1="95.1" x2="906.9" y2="93.4"/><line x1="906.9" y1="93.4" x2="917.5" y2="95.7"/><line x1="917.5" y1="95.7" x2="928.1" y2="94.0"/><line x1="928.1" y1="94.0" x2="938.7" y2="96.3"/><line x1="938.7" y1="96.3" x2="949.3" y2="94.6"/><line x1="949.3" y1="94.6" x2="959.9" y2="96.8"/><line x1="959.9" y1="96.8" x2="970.5" y2="95.1"/><line x1="970.5" y1="95.1" x2="981.1" y2="97.4"/><line x1="981.1" y1="97.4" x2="991.7" y2="95.7"/><line x1="991.7" y1="95.7" x2="1002.3" y2="98.0"/><line x1="1002.3" y1="98.0" x2="1012.9" y2="96.3"/><line x1="1012.9" y1="96.3" x2="1023.5" y2="98.6"/><line x1="896.3" y1="98.7" x2="906.9" y2="97.4"/><line x1="906.9" y1="97.4" x2="917.5" y2="100.2"/><line x1="917.5" y1="100.2" x2="928.1" y2="99.0"/><line x1="917.5" y1="100.2" x2="917.5" y2="104.4"/><line x1="928.1" y1="99.0" x2="938.7" y2="101.7"/><line x1="938.7" y1="101.7" x2="949.3" y2="100.5"/><line x1="938.7" y1="101.7" x2="938.7" y2="105.9"/><line x1="949.3" y1="100.5" x2="959.9" y2="103.3"/><line x1="959.9" y1="103.3" x2="970.5" y2="102.0"/><line x1="959.9" y1="103.3" x2="959.9" y2="107.5"/><line x1="970.5" y1="102.0" x2="981.1" y2="104.8"/><line x1="981.1" y1="104.8" x2="991.7" y2="103.5"/><line x1="981.1" y1="104.8" x2="981.1" y2="109.0"/><line x1="991.7" y1="103.5" x2="1002.3" y2="106.3"/><line x1="1002.3" y1="106.3" x2="1012.9" y2="105.1"/><line x1="1002.3" y1="106.3" x2="1002.3" y2="110.5"/><line x1="1012.9" y1="105.1" x2="1023.5" y2="107.8"/><line x1="1023.5" y1="107.8" x2="1023.5" y2="112.0"/><line x1="906.9" y1="105.6" x2="917.5" y2="104.4"/><line x1="917.5" y1="104.4" x2="928.1" y2="107.2"/><line x1="928.1" y1="107.2" x2="938.7" y2="105.9"/><line x1="928.1" y1="107.2" x2="928.1" y2="111.4"/><line x1="938.7" y1="105.9" x2="949.3" y2="108.7"/><line x1="949.3" y1="108.7" x2="959.9" y2="107.5"/><line x1="949.3" y1="108.7" x2="949.3" y2="112.9"/><line x1="959.9" y1="107.5" x2="970.5" y2="110.2"/><line x1="970.5" y1="110.2" x2="981.1" y2="109.0"/><line x1="970.5" y1="110.2" x2="970.5" y2="114.4"/><line x1="981.1" y1="109.0" x2="991.7" y2="111.7"/><line x1="991.7" y1="111.7" x2="1002.3" y2="110.5"/><line x1="991.7" y1="111.7" x2="991.7" y2="115.9"/><line x1="1002.3" y1="110.5" x2="1012.9" y2="113.3"/><line x1="1012.9" y1="113.3" x2="1023.5" y2="112.0"/><line x1="1012.9" y1="113.3" x2="1012.9" y2="117.5"/><line x1="928.1" y1="111.4" x2="938.7" y2="114.1"/><line x1="938.7" y1="114.1" x2="949.3" y2="112.9"/><line x1="949.3" y1="112.9" x2="959.9" y2="115.7"/><line x1="959.9" y1="115.7" x2="970.5" y2="114.4"/><line x1="970.5" y1="114.4" x2="981.1" y2="117.2"/><line x1="981.1" y1="117.2" x2="991.7" y2="115.9"/><line x1="991.7" y1="115.9" x2="1002.3" y2="118.7"/><line x1="1002.3" y1="118.7" x2="1012.9" y2="117.5"/><line x1="1012.9" y1="117.5" x2="1023.5" y2="120.2"/><line x1="922.3" y1="106.9" x2="932.9" y2="108.3"/><line x1="932.9" y1="108.3" x2="943.5" y2="105.7"/><line x1="932.9" y1="108.3" x2="932.9" y2="112.5"/><line x1="943.5" y1="105.7" x2="954.1" y2="107.1"/><line x1="954.1" y1="107.1" x2="964.7" y2="104.5"/><line x1="954.1" y1="107.1" x2="954.1" y2="111.3"/><line x1="964.7" y1="104.5" x2="975.3" y2="105.9"/><line x1="975.3" y1="105.9" x2="985.9" y2="103.4"/><line x1="975.3" y1="105.9" x2="975.3" y2="110.1"/><line x1="985.9" y1="103.4" x2="996.5" y2="104.8"/><line x1="996.5" y1="104.8" x2="1007.1" y2="102.2"/><line x1="996.5" y1="104.8" x2="996.5" y2="109.0"/><line x1="1007.1" y1="102.2" x2="1017.7" y2="103.6"/><line x1="1017.7" y1="103.6" x2="1028.3" y2="101.0"/><line x1="1017.7" y1="103.6" x2="1017.7" y2="107.8"/><line x1="932.9" y1="112.5" x2="943.5" y2="113.9"/><line x1="943.5" y1="113.9" x2="954.1" y2="111.3"/><line x1="943.5" y1="113.9" x2="943.5" y2="118.1"/><line x1="954.1" y1="111.3" x2="964.7" y2="112.7"/><line x1="964.7" y1="112.7" x2="975.3" y2="110.1"/><line x1="964.7" y1="112.7" x2="964.7" y2="116.9"/><line x1="975.3" y1="110.1" x2="985.9" y2="111.6"/><line x1="985.9" y1="111.6" x2="996.5" y2="109.0"/><line x1="985.9" y1="111.6" x2="985.9" y2="115.8"/><line x1="996.5" y1="109.0" x2="1007.1" y2="110.4"/><line x1="1007.1" y1="110.4" x2="1017.7" y2="107.8"/><line x1="1007.1" y1="110.4" x2="1007.1" y2="114.6"/><line x1="1017.7" y1="107.8" x2="1028.3" y2="109.2"/><line x1="1028.3" y1="109.2" x2="1028.3" y2="113.4"/><line x1="943.5" y1="118.1" x2="954.1" y2="119.5"/><line x1="954.1" y1="119.5" x2="964.7" y2="116.9"/><line x1="964.7" y1="116.9" x2="975.3" y2="118.3"/><line x1="975.3" y1="118.3" x2="985.9" y2="115.8"/><line x1="985.9" y1="115.8" x2="996.5" y2="117.2"/><line x1="996.5" y1="117.2" x2="1007.1" y2="114.6"/><line x1="1007.1" y1="114.6" x2="1017.7" y2="116.0"/><line x1="1017.7" y1="116.0" x2="1028.3" y2="113.4"/><line x1="931.5" y1="126.8" x2="942.1" y2="129.1"/><line x1="942.1" y1="129.1" x2="952.7" y2="127.5"/><line x1="942.1" y1="129.1" x2="942.1" y2="133.3"/><line x1="952.7" y1="127.5" x2="963.3" y2="129.8"/><line x1="963.3" y1="129.8" x2="973.9" y2="128.1"/><line x1="963.3" y1="129.8" x2="963.3" y2="134.0"/><line x1="973.9" y1="128.1" x2="984.5" y2="130.5"/><line x1="984.5" y1="130.5" x2="995.1" y2="128.8"/><line x1="984.5" y1="130.5" x2="984.5" y2="134.7"/><line x1="995.1" y1="128.8" x2="1005.7" y2="131.1"/><line x1="1005.7" y1="131.1" x2="1016.3" y2="129.4"/><line x1="1005.7" y1="131.1" x2="1005.7" y2="135.3"/><line x1="1016.3" y1="129.4" x2="1026.9" y2="131.8"/><line x1="1026.9" y1="131.8" x2="1026.9" y2="136.0"/><line x1="910.3" y1="134.4" x2="920.9" y2="132.7"/><line x1="910.3" y1="134.4" x2="910.3" y2="138.6"/><line x1="920.9" y1="132.7" x2="931.5" y2="135.0"/><line x1="931.5" y1="135.0" x2="942.1" y2="133.3"/><line x1="931.5" y1="135.0" x2="931.5" y2="139.2"/><line x1="942.1" y1="133.3" x2="952.7" y2="135.7"/><line x1="952.7" y1="135.7" x2="963.3" y2="134.0"/><line x1="952.7" y1="135.7" x2="952.7" y2="139.9"/><line x1="963.3" y1="134.0" x2="973.9" y2="136.3"/><line x1="973.9" y1="136.3" x2="984.5" y2="134.7"/><line x1="973.9" y1="136.3" x2="973.9" y2="140.5"/><line x1="984.5" y1="134.7" x2="995.1" y2="137.0"/><line x1="995.1" y1="137.0" x2="1005.7" y2="135.3"/><line x1="995.1" y1="137.0" x2="995.1" y2="141.2"/><line x1="1005.7" y1="135.3" x2="1016.3" y2="137.6"/><line x1="1016.3" y1="137.6" x2="1026.9" y2="136.0"/><line x1="1016.3" y1="137.6" x2="1016.3" y2="141.8"/><line x1="910.3" y1="138.6" x2="920.9" y2="140.9"/><line x1="920.9" y1="140.9" x2="931.5" y2="139.2"/><line x1="931.5" y1="139.2" x2="942.1" y2="141.5"/><line x1="942.1" y1="141.5" x2="952.7" y2="139.9"/><line x1="952.7" y1="139.9" x2="963.3" y2="142.2"/><line x1="963.3" y1="142.2" x2="973.9" y2="140.5"/><line x1="973.9" y1="140.5" x2="984.5" y2="142.9"/><line x1="984.5" y1="142.9" x2="995.1" y2="141.2"/><line x1="995.1" y1="141.2" x2="1005.7" y2="143.5"/><line x1="1005.7" y1="143.5" x2="1016.3" y2="141.8"/><line x1="1016.3" y1="141.8" x2="1026.9" y2="144.2"/><line x1="907.0" y1="140.6" x2="917.6" y2="138.6"/><line x1="907.0" y1="140.6" x2="907.0" y2="144.8"/><line x1="917.6" y1="138.6" x2="928.2" y2="140.7"/><line x1="928.2" y1="140.7" x2="938.8" y2="138.7"/><line x1="928.2" y1="140.7" x2="928.2" y2="144.9"/><line x1="938.8" y1="138.7" x2="949.4" y2="140.8"/><line x1="949.4" y1="140.8" x2="960.0" y2="138.9"/><line x1="949.4" y1="140.8" x2="949.4" y2="145.0"/><line x1="960.0" y1="138.9" x2="970.6" y2="140.9"/><line x1="970.6" y1="140.9" x2="981.2" y2="139.0"/><line x1="970.6" y1="140.9" x2="970.6" y2="145.1"/><line x1="981.2" y1="139.0" x2="991.8" y2="141.0"/><line x1="991.8" y1="141.0" x2="1002.4" y2="139.1"/><line x1="991.8" y1="141.0" x2="991.8" y2="145.2"/><line x1="1002.4" y1="139.1" x2="1013.0" y2="141.2"/><line x1="1013.0" y1="141.2" x2="1023.6" y2="139.2"/><line x1="1013.0" y1="141.2" x2="1013.0" y2="145.4"/><line x1="907.0" y1="144.8" x2="917.6" y2="146.8"/><line x1="917.6" y1="146.8" x2="928.2" y2="144.9"/><line x1="917.6" y1="146.8" x2="917.6" y2="151.0"/><line x1="928.2" y1="144.9" x2="938.8" y2="146.9"/><line x1="938.8" y1="146.9" x2="949.4" y2="145.0"/><line x1="938.8" y1="146.9" x2="938.8" y2="151.1"/><line x1="949.4" y1="145.0" x2="960.0" y2="147.1"/><line x1="960.0" y1="147.1" x2="970.6" y2="145.1"/><line x1="960.0" y1="147.1" x2="960.0" y2="151.3"/><line x1="970.6" y1="145.1" x2="981.2" y2="147.2"/><line x1="981.2" y1="147.2" x2="991.8" y2="145.2"/><line x1="981.2" y1="147.2" x2="981.2" y2="151.4"/><line x1="991.8" y1="145.2" x2="1002.4" y2="147.3"/><line x1="1002.4" y1="147.3" x2="1013.0" y2="145.4"/><line x1="1002.4" y1="147.3" x2="1002.4" y2="151.5"/><line x1="1013.0" y1="145.4" x2="1023.6" y2="147.4"/><line x1="1023.6" y1="147.4" x2="1023.6" y2="151.6"/><line x1="896.4" y1="150.9" x2="907.0" y2="153.0"/><line x1="907.0" y1="153.0" x2="917.6" y2="151.0"/><line x1="917.6" y1="151.0" x2="928.2" y2="153.1"/><line x1="928.2" y1="153.1" x2="938.8" y2="151.1"/><line x1="938.8" y1="151.1" x2="949.4" y2="153.2"/><line x1="949.4" y1="153.2" x2="960.0" y2="151.3"/><line x1="960.0" y1="151.3" x2="970.6" y2="153.3"/><line x1="970.6" y1="153.3" x2="981.2" y2="151.4"/><line x1="981.2" y1="151.4" x2="991.8" y2="153.4"/><line x1="991.8" y1="153.4" x2="1002.4" y2="151.5"/><line x1="1002.4" y1="151.5" x2="1013.0" y2="153.6"/><line x1="1013.0" y1="153.6" x2="1023.6" y2="151.6"/><line x1="902.1" y1="155.3" x2="912.7" y2="153.5"/><line x1="902.1" y1="155.3" x2="902.1" y2="159.5"/><line x1="912.7" y1="153.5" x2="923.3" y2="155.7"/><line x1="923.3" y1="155.7" x2="933.9" y2="153.9"/><line x1="923.3" y1="155.7" x2="923.3" y2="159.9"/><line x1="933.9" y1="153.9" x2="944.5" y2="156.2"/><line x1="944.5" y1="156.2" x2="955.1" y2="154.4"/><line x1="944.5" y1="156.2" x2="944.5" y2="160.4"/><line x1="955.1" y1="154.4" x2="965.7" y2="156.6"/><line x1="965.7" y1="156.6" x2="976.3" y2="154.8"/><line x1="965.7" y1="156.6" x2="965.7" y2="160.8"/><line x1="976.3" y1="154.8" x2="986.9" y2="157.0"/><line x1="986.9" y1="157.0" x2="997.5" y2="155.2"/><line x1="986.9" y1="157.0" x2="986.9" y2="161.2"/><line x1="997.5" y1="155.2" x2="1008.1" y2="157.4"/><line x1="1008.1" y1="157.4" x2="1018.7" y2="155.7"/><line x1="1008.1" y1="157.4" x2="1008.1" y2="161.6"/><line x1="1018.7" y1="155.7" x2="1029.3" y2="157.9"/><line x1="1029.3" y1="157.9" x2="1029.3" y2="162.1"/><line x1="891.5" y1="161.3" x2="902.1" y2="159.5"/><line x1="891.5" y1="161.3" x2="891.5" y2="165.5"/><line x1="902.1" y1="159.5" x2="912.7" y2="161.7"/><line x1="912.7" y1="161.7" x2="923.3" y2="159.9"/><line x1="912.7" y1="161.7" x2="912.7" y2="165.9"/><line x1="923.3" y1="159.9" x2="933.9" y2="162.1"/><line x1="933.9" y1="162.1" x2="944.5" y2="160.4"/><line x1="933.9" y1="162.1" x2="933.9" y2="166.3"/><line x1="944.5" y1="160.4" x2="955.1" y2="162.6"/><line x1="955.1" y1="162.6" x2="965.7" y2="160.8"/><line x1="955.1" y1="162.6" x2="955.1" y2="166.8"/><line x1="965.7" y1="160.8" x2="976.3" y2="163.0"/><line x1="976.3" y1="163.0" x2="986.9" y2="161.2"/><line x1="976.3" y1="163.0" x2="976.3" y2="167.2"/><line x1="986.9" y1="161.2" x2="997.5" y2="163.4"/><line x1="997.5" y1="163.4" x2="1008.1" y2="161.6"/><line x1="997.5" y1="163.4" x2="997.5" y2="167.6"/><line x1="1008.1" y1="161.6" x2="1018.7" y2="163.9"/><line x1="1018.7" y1="163.9" x2="1029.3" y2="162.1"/><line x1="1018.7" y1="163.9" x2="1018.7" y2="168.1"/><line x1="891.5" y1="165.5" x2="902.1" y2="167.7"/><line x1="902.1" y1="167.7" x2="912.7" y2="165.9"/><line x1="912.7" y1="165.9" x2="923.3" y2="168.1"/><line x1="923.3" y1="168.1" x2="933.9" y2="166.3"/><line x1="933.9" y1="166.3" x2="944.5" y2="168.6"/><line x1="944.5" y1="168.6" x2="955.1" y2="166.8"/><line x1="955.1" y1="166.8" x2="965.7" y2="169.0"/><line x1="965.7" y1="169.0" x2="976.3" y2="167.2"/><line x1="976.3" y1="167.2" x2="986.9" y2="169.4"/><line x1="986.9" y1="169.4" x2="997.5" y2="167.6"/><line x1="997.5" y1="167.6" x2="1008.1" y2="169.8"/><line x1="1008.1" y1="169.8" x2="1018.7" y2="168.1"/><line x1="1018.7" y1="168.1" x2="1029.3" y2="170.3"/><line x1="889.4" y1="165.9" x2="900.0" y2="167.6"/><line x1="900.0" y1="167.6" x2="910.6" y2="165.4"/><line x1="900.0" y1="167.6" x2="900.0" y2="171.8"/><line x1="910.6" y1="165.4" x2="921.2" y2="167.2"/><line x1="921.2" y1="167.2" x2="931.8" y2="165.0"/><line x1="921.2" y1="167.2" x2="921.2" y2="171.4"/><line x1="931.8" y1="165.0" x2="942.4" y2="166.8"/><line x1="942.4" y1="166.8" x2="953.0" y2="164.5"/><line x1="942.4" y1="166.8" x2="942.4" y2="171.0"/><line x1="953.0" y1="164.5" x2="963.6" y2="166.3"/><line x1="963.6" y1="166.3" x2="974.2" y2="164.1"/><line x1="963.6" y1="166.3" x2="963.6" y2="170.5"/><line x1="974.2" y1="164.1" x2="984.8" y2="165.9"/><line x1="984.8" y1="165.9" x2="995.4" y2="163.7"/><line x1="984.8" y1="165.9" x2="984.8" y2="170.1"/><line x1="995.4" y1="163.7" x2="1006.0" y2="165.4"/><line x1="1006.0" y1="165.4" x2="1016.6" y2="163.2"/><line x1="1006.0" y1="165.4" x2="1006.0" y2="169.6"/><line x1="1016.6" y1="163.2" x2="1027.2" y2="165.0"/><line x1="1027.2" y1="165.0" x2="1027.2" y2="169.2"/><line x1="900.0" y1="171.8" x2="910.6" y2="173.6"/><line x1="910.6" y1="173.6" x2="921.2" y2="171.4"/><line x1="910.6" y1="173.6" x2="910.6" y2="177.8"/><line x1="921.2" y1="171.4" x2="931.8" y2="173.2"/><line x1="931.8" y1="173.2" x2="942.4" y2="171.0"/><line x1="931.8" y1="173.2" x2="931.8" y2="177.4"/><line x1="942.4" y1="171.0" x2="953.0" y2="172.7"/><line x1="953.0" y1="172.7" x2="963.6" y2="170.5"/><line x1="953.0" y1="172.7" x2="953.0" y2="176.9"/><line x1="963.6" y1="170.5" x2="974.2" y2="172.3"/><line x1="974.2" y1="172.3" x2="984.8" y2="170.1"/><line x1="974.2" y1="172.3" x2="974.2" y2="176.5"/><line x1="984.8" y1="170.1" x2="995.4" y2="171.9"/><line x1="995.4" y1="171.9" x2="1006.0" y2="169.6"/><line x1="995.4" y1="171.9" x2="995.4" y2="176.1"/><line x1="1006.0" y1="169.6" x2="1016.6" y2="171.4"/><line x1="1016.6" y1="171.4" x2="1027.2" y2="169.2"/><line x1="1016.6" y1="171.4" x2="1016.6" y2="175.6"/><line x1="910.6" y1="177.8" x2="921.2" y2="179.6"/><line x1="921.2" y1="179.6" x2="931.8" y2="177.4"/><line x1="931.8" y1="177.4" x2="942.4" y2="179.2"/><line x1="942.4" y1="179.2" x2="953.0" y2="176.9"/><line x1="953.0" y1="176.9" x2="963.6" y2="178.7"/><line x1="963.6" y1="178.7" x2="974.2" y2="176.5"/><line x1="974.2" y1="176.5" x2="984.8" y2="178.3"/><line x1="984.8" y1="178.3" x2="995.4" y2="176.1"/><line x1="995.4" y1="176.1" x2="1006.0" y2="177.8"/><line x1="1006.0" y1="177.8" x2="1016.6" y2="175.6"/><line x1="1016.6" y1="175.6" x2="1027.2" y2="177.4"/><line x1="908.1" y1="179.6" x2="918.7" y2="181.2"/><line x1="918.7" y1="181.2" x2="929.3" y2="178.8"/><line x1="918.7" y1="181.2" x2="918.7" y2="185.4"/><line x1="929.3" y1="178.8" x2="939.9" y2="180.4"/><line x1="939.9" y1="180.4" x2="950.5" y2="178.0"/><line x1="939.9" y1="180.4" x2="939.9" y2="184.6"/><line x1="950.5" y1="178.0" x2="961.1" y2="179.6"/><line x1="961.1" y1="179.6" x2="971.7" y2="177.2"/><line x1="961.1" y1="179.6" x2="961.1" y2="183.8"/><line x1="971.7" y1="177.2" x2="982.3" y2="178.8"/><line x1="982.3" y1="178.8" x2="992.9" y2="176.4"/><line x1="982.3" y1="178.8" x2="982.3" y2="183.0"/><line x1="992.9" y1="176.4" x2="1003.5" y2="178.0"/><line x1="1003.5" y1="178.0" x2="1014.1" y2="175.6"/><line x1="1003.5" y1="178.0" x2="1003.5" y2="182.2"/><line x1="1014.1" y1="175.6" x2="1024.7" y2="177.2"/><line x1="1024.7" y1="177.2" x2="1024.7" y2="181.4"/><line x1="918.7" y1="185.4" x2="929.3" y2="187.0"/><line x1="929.3" y1="187.0" x2="939.9" y2="184.6"/><line x1="929.3" y1="187.0" x2="929.3" y2="191.2"/><line x1="939.9" y1="184.6" x2="950.5" y2="186.2"/><line x1="950.5" y1="186.2" x2="961.1" y2="183.8"/><line x1="950.5" y1="186.2" x2="950.5" y2="190.4"/><line x1="961.1" y1="183.8" x2="971.7" y2="185.4"/><line x1="971.7" y1="185.4" x2="982.3" y2="183.0"/><line x1="971.7" y1="185.4" x2="971.7" y2="189.6"/><line x1="982.3" y1="183.0" x2="992.9" y2="184.6"/><line x1="992.9" y1="184.6" x2="1003.5" y2="182.2"/><line x1="992.9" y1="184.6" x2="992.9" y2="188.8"/><line x1="1003.5" y1="182.2" x2="1014.1" y2="183.8"/><line x1="1014.1" y1="183.8" x2="1024.7" y2="181.4"/><line x1="1014.1" y1="183.8" x2="1014.1" y2="188.0"/><line x1="929.3" y1="191.2" x2="939.9" y2="192.8"/><line x1="939.9" y1="192.8" x2="950.5" y2="190.4"/><line x1="950.5" y1="190.4" x2="961.1" y2="192.0"/><line x1="961.1" y1="192.0" x2="971.7" y2="189.6"/><line x1="971.7" y1="189.6" x2="982.3" y2="191.2"/><line x1="982.3" y1="191.2" x2="992.9" y2="188.8"/><line x1="992.9" y1="188.8" x2="1003.5" y2="190.4"/><line x1="1003.5" y1="190.4" x2="1014.1" y2="188.0"/><line x1="1014.1" y1="188.0" x2="1024.7" y2="189.6"/><line x1="925.7" y1="198.0" x2="936.3" y2="196.2"/><line x1="936.3" y1="196.2" x2="946.9" y2="198.5"/><line x1="946.9" y1="198.5" x2="957.5" y2="196.8"/><line x1="946.9" y1="198.5" x2="946.9" y2="202.7"/><line x1="957.5" y1="196.8" x2="968.1" y2="199.1"/><line x1="968.1" y1="199.1" x2="978.7" y2="197.4"/><line x1="968.1" y1="199.1" x2="968.1" y2="203.3"/><line x1="978.7" y1="197.4" x2="989.3" y2="199.6"/><line x1="989.3" y1="199.6" x2="999.9" y2="197.9"/><line x1="989.3" y1="199.6" x2="989.3" y2="203.8"/><line x1="999.9" y1="197.9" x2="1010.5" y2="200.2"/><line x1="1010.5" y1="200.2" x2="1021.1" y2="198.5"/><line x1="1010.5" y1="200.2" x2="1010.5" y2="204.4"/><line x1="936.3" y1="204.4" x2="946.9" y2="202.7"/><line x1="936.3" y1="204.4" x2="936.3" y2="208.6"/><line x1="946.9" y1="202.7" x2="957.5" y2="205.0"/><line x1="957.5" y1="205.0" x2="968.1" y2="203.3"/><line x1="957.5" y1="205.0" x2="957.5" y2="209.2"/><line x1="968.1" y1="203.3" x2="978.7" y2="205.6"/><line x1="978.7" y1="205.6" x2="989.3" y2="203.8"/><line x1="978.7" y1="205.6" x2="978.7" y2="209.8"/><line x1="989.3" y1="203.8" x2="999.9" y2="206.1"/><line x1="999.9" y1="206.1" x2="1010.5" y2="204.4"/><line x1="999.9" y1="206.1" x2="999.9" y2="210.3"/><line x1="1010.5" y1="204.4" x2="1021.1" y2="206.7"/><line x1="1021.1" y1="206.7" x2="1021.1" y2="210.9"/><line x1="925.7" y1="210.4" x2="936.3" y2="208.6"/><line x1="936.3" y1="208.6" x2="946.9" y2="210.9"/><line x1="946.9" y1="210.9" x2="957.5" y2="209.2"/><line x1="957.5" y1="209.2" x2="968.1" y2="211.5"/><line x1="968.1" y1="211.5" x2="978.7" y2="209.8"/><line x1="978.7" y1="209.8" x2="989.3" y2="212.0"/><line x1="989.3" y1="212.0" x2="999.9" y2="210.3"/><line x1="999.9" y1="210.3" x2="1010.5" y2="212.6"/><line x1="1010.5" y1="212.6" x2="1021.1" y2="210.9"/><line x1="916.8" y1="210.6" x2="927.4" y2="213.2"/><line x1="927.4" y1="213.2" x2="938.0" y2="211.9"/><line x1="927.4" y1="213.2" x2="927.4" y2="217.4"/><line x1="938.0" y1="211.9" x2="948.6" y2="214.6"/><line x1="948.6" y1="214.6" x2="959.2" y2="213.2"/><line x1="948.6" y1="214.6" x2="948.6" y2="218.8"/><line x1="959.2" y1="213.2" x2="969.8" y2="215.9"/><line x1="969.8" y1="215.9" x2="980.4" y2="214.5"/><line x1="969.8" y1="215.9" x2="969.8" y2="220.1"/><line x1="980.4" y1="214.5" x2="991.0" y2="217.2"/><line x1="991.0" y1="217.2" x2="1001.6" y2="215.8"/><line x1="991.0" y1="217.2" x2="991.0" y2="221.4"/><line x1="1001.6" y1="215.8" x2="1012.2" y2="218.5"/><line x1="1012.2" y1="218.5" x2="1022.8" y2="217.2"/><line x1="1012.2" y1="218.5" x2="1012.2" y2="222.7"/><line x1="906.2" y1="216.1" x2="916.8" y2="218.8"/><line x1="916.8" y1="218.8" x2="927.4" y2="217.4"/><line x1="916.8" y1="218.8" x2="916.8" y2="223.0"/><line x1="927.4" y1="217.4" x2="938.0" y2="220.1"/><line x1="938.0" y1="220.1" x2="948.6" y2="218.8"/><line x1="938.0" y1="220.1" x2="938.0" y2="224.3"/><line x1="948.6" y1="218.8" x2="959.2" y2="221.4"/><line x1="959.2" y1="221.4" x2="969.8" y2="220.1"/><line x1="959.2" y1="221.4" x2="959.2" y2="225.6"/><line x1="969.8" y1="220.1" x2="980.4" y2="222.7"/><line x1="980.4" y1="222.7" x2="991.0" y2="221.4"/><line x1="980.4" y1="222.7" x2="980.4" y2="226.9"/><line x1="991.0" y1="221.4" x2="1001.6" y2="224.0"/><line x1="1001.6" y1="224.0" x2="1012.2" y2="222.7"/><line x1="1001.6" y1="224.0" x2="1001.6" y2="228.2"/><line x1="1012.2" y1="222.7" x2="1022.8" y2="225.4"/><line x1="1022.8" y1="225.4" x2="1022.8" y2="229.6"/><line x1="906.2" y1="224.3" x2="916.8" y2="223.0"/><line x1="916.8" y1="223.0" x2="927.4" y2="225.6"/><line x1="927.4" y1="225.6" x2="938.0" y2="224.3"/><line x1="938.0" y1="224.3" x2="948.6" y2="227.0"/><line x1="948.6" y1="227.0" x2="959.2" y2="225.6"/><line x1="959.2" y1="225.6" x2="969.8" y2="228.3"/><line x1="969.8" y1="228.3" x2="980.4" y2="226.9"/><line x1="980.4" y1="226.9" x2="991.0" y2="229.6"/><line x1="991.0" y1="229.6" x2="1001.6" y2="228.2"/><line x1="1001.6" y1="228.2" x2="1012.2" y2="230.9"/><line x1="1012.2" y1="230.9" x2="1022.8" y2="229.6"/><line x1="899.1" y1="225.6" x2="909.7" y2="224.4"/><line x1="899.1" y1="225.6" x2="899.1" y2="229.8"/><line x1="909.7" y1="224.4" x2="920.3" y2="227.2"/><line x1="920.3" y1="227.2" x2="930.9" y2="226.0"/><line x1="920.3" y1="227.2" x2="920.3" y2="231.4"/><line x1="930.9" y1="226.0" x2="941.5" y2="228.9"/><line x1="941.5" y1="228.9" x2="952.1" y2="227.7"/><line x1="941.5" y1="228.9" x2="941.5" y2="233.1"/><line x1="952.1" y1="227.7" x2="962.7" y2="230.5"/><line x1="962.7" y1="230.5" x2="973.3" y2="229.3"/><line x1="962.7" y1="230.5" x2="962.7" y2="234.7"/><line x1="973.3" y1="229.3" x2="983.9" y2="232.1"/><line x1="983.9" y1="232.1" x2="994.5" y2="231.0"/><line x1="983.9" y1="232.1" x2="983.9" y2="236.3"/><line x1="994.5" y1="231.0" x2="1005.1" y2="233.8"/><line x1="1005.1" y1="233.8" x2="1015.7" y2="232.6"/><line x1="1005.1" y1="233.8" x2="1005.1" y2="238.0"/><line x1="1015.7" y1="232.6" x2="1026.3" y2="235.4"/><line x1="1026.3" y1="235.4" x2="1026.3" y2="239.6"/><line x1="899.1" y1="229.8" x2="909.7" y2="232.6"/><line x1="909.7" y1="232.6" x2="920.3" y2="231.4"/><line x1="909.7" y1="232.6" x2="909.7" y2="236.8"/><line x1="920.3" y1="231.4" x2="930.9" y2="234.2"/><line x1="930.9" y1="234.2" x2="941.5" y2="233.1"/><line x1="930.9" y1="234.2" x2="930.9" y2="238.4"/><line x1="941.5" y1="233.1" x2="952.1" y2="235.9"/><line x1="952.1" y1="235.9" x2="962.7" y2="234.7"/><line x1="952.1" y1="235.9" x2="952.1" y2="240.1"/><line x1="962.7" y1="234.7" x2="973.3" y2="237.5"/><line x1="973.3" y1="237.5" x2="983.9" y2="236.3"/><line x1="973.3" y1="237.5" x2="973.3" y2="241.7"/><line x1="983.9" y1="236.3" x2="994.5" y2="239.2"/><line x1="994.5" y1="239.2" x2="1005.1" y2="238.0"/><line x1="994.5" y1="239.2" x2="994.5" y2="243.4"/><line x1="1005.1" y1="238.0" x2="1015.7" y2="240.8"/><line x1="1015.7" y1="240.8" x2="1026.3" y2="239.6"/><line x1="1015.7" y1="240.8" x2="1015.7" y2="245.0"/><line x1="899.1" y1="238.0" x2="909.7" y2="236.8"/><line x1="909.7" y1="236.8" x2="920.3" y2="239.6"/><line x1="920.3" y1="239.6" x2="930.9" y2="238.4"/><line x1="930.9" y1="238.4" x2="941.5" y2="241.3"/><line x1="941.5" y1="241.3" x2="952.1" y2="240.1"/><line x1="952.1" y1="240.1" x2="962.7" y2="242.9"/><line x1="962.7" y1="242.9" x2="973.3" y2="241.7"/><line x1="973.3" y1="241.7" x2="983.9" y2="244.5"/><line x1="983.9" y1="244.5" x2="994.5" y2="243.4"/><line x1="994.5" y1="243.4" x2="1005.1" y2="246.2"/><line x1="1005.1" y1="246.2" x2="1015.7" y2="245.0"/><line x1="1015.7" y1="245.0" x2="1026.3" y2="247.8"/><line x1="902.6" y1="237.5" x2="913.2" y2="240.3"/><line x1="913.2" y1="240.3" x2="923.8" y2="239.1"/><line x1="913.2" y1="240.3" x2="913.2" y2="244.5"/><line x1="923.8" y1="239.1" x2="934.4" y2="241.9"/><line x1="934.4" y1="241.9" x2="945.0" y2="240.7"/><line x1="934.4" y1="241.9" x2="934.4" y2="246.1"/><line x1="945.0" y1="240.7" x2="955.6" y2="243.5"/><line x1="955.6" y1="243.5" x2="966.2" y2="242.3"/><line x1="955.6" y1="243.5" x2="955.6" y2="247.7"/><line x1="966.2" y1="242.3" x2="976.8" y2="245.1"/><line x1="976.8" y1="245.1" x2="987.4" y2="243.9"/><line x1="976.8" y1="245.1" x2="976.8" y2="249.3"/><line x1="987.4" y1="243.9" x2="998.0" y2="246.6"/><line x1="998.0" y1="246.6" x2="1008.6" y2="245.4"/><line x1="998.0" y1="246.6" x2="998.0" y2="250.8"/><line x1="1008.6" y1="245.4" x2="1019.2" y2="248.2"/><line x1="1019.2" y1="248.2" x2="1029.8" y2="247.0"/><line x1="1019.2" y1="248.2" x2="1019.2" y2="252.4"/><line x1="902.6" y1="245.7" x2="913.2" y2="244.5"/><line x1="902.6" y1="245.7" x2="902.6" y2="249.9"/><line x1="913.2" y1="244.5" x2="923.8" y2="247.3"/><line x1="923.8" y1="247.3" x2="934.4" y2="246.1"/><line x1="923.8" y1="247.3" x2="923.8" y2="251.5"/><line x1="934.4" y1="246.1" x2="945.0" y2="248.9"/><line x1="945.0" y1="248.9" x2="955.6" y2="247.7"/><line x1="945.0" y1="248.9" x2="945.0" y2="253.1"/><line x1="955.6" y1="247.7" x2="966.2" y2="250.5"/><line x1="966.2" y1="250.5" x2="976.8" y2="249.3"/><line x1="966.2" y1="250.5" x2="966.2" y2="254.7"/><line x1="976.8" y1="249.3" x2="987.4" y2="252.1"/><line x1="987.4" y1="252.1" x2="998.0" y2="250.8"/><line x1="987.4" y1="252.1" x2="987.4" y2="256.3"/><line x1="998.0" y1="250.8" x2="1008.6" y2="253.6"/><line x1="1008.6" y1="253.6" x2="1019.2" y2="252.4"/><line x1="1008.6" y1="253.6" x2="1008.6" y2="257.8"/><line x1="1019.2" y1="252.4" x2="1029.8" y2="255.2"/><line x1="1029.8" y1="255.2" x2="1029.8" y2="259.4"/><line x1="902.6" y1="249.9" x2="913.2" y2="252.7"/><line x1="913.2" y1="252.7" x2="923.8" y2="251.5"/><line x1="923.8" y1="251.5" x2="934.4" y2="254.3"/><line x1="934.4" y1="254.3" x2="945.0" y2="253.1"/><line x1="945.0" y1="253.1" x2="955.6" y2="255.9"/><line x1="955.6" y1="255.9" x2="966.2" y2="254.7"/><line x1="966.2" y1="254.7" x2="976.8" y2="257.5"/><line x1="976.8" y1="257.5" x2="987.4" y2="256.3"/><line x1="987.4" y1="256.3" x2="998.0" y2="259.0"/><line x1="998.0" y1="259.0" x2="1008.6" y2="257.8"/><line x1="1008.6" y1="257.8" x2="1019.2" y2="260.6"/><line x1="1019.2" y1="260.6" x2="1029.8" y2="259.4"/><line x1="900.5" y1="250.7" x2="911.1" y2="248.4"/><line x1="900.5" y1="250.7" x2="900.5" y2="254.9"/><line x1="911.1" y1="248.4" x2="921.7" y2="250.0"/><line x1="921.7" y1="250.0" x2="932.3" y2="247.7"/><line x1="921.7" y1="250.0" x2="921.7" y2="254.2"/><line x1="932.3" y1="247.7" x2="942.9" y2="249.4"/><line x1="942.9" y1="249.4" x2="953.5" y2="247.0"/><line x1="942.9" y1="249.4" x2="942.9" y2="253.6"/><line x1="953.5" y1="247.0" x2="964.1" y2="248.7"/><line x1="964.1" y1="248.7" x2="974.7" y2="246.4"/><line x1="964.1" y1="248.7" x2="964.1" y2="252.9"/><line x1="974.7" y1="246.4" x2="985.3" y2="248.0"/><line x1="985.3" y1="248.0" x2="995.9" y2="245.7"/><line x1="985.3" y1="248.0" x2="985.3" y2="252.2"/><line x1="995.9" y1="245.7" x2="1006.5" y2="247.4"/><line x1="1006.5" y1="247.4" x2="1017.1" y2="245.0"/><line x1="1006.5" y1="247.4" x2="1006.5" y2="251.6"/><line x1="1017.1" y1="245.0" x2="1027.7" y2="246.7"/><line x1="1027.7" y1="246.7" x2="1027.7" y2="250.9"/><line x1="900.5" y1="254.9" x2="911.1" y2="256.6"/><line x1="911.1" y1="256.6" x2="921.7" y2="254.2"/><line x1="911.1" y1="256.6" x2="911.1" y2="260.8"/><line x1="921.7" y1="254.2" x2="932.3" y2="255.9"/><line x1="932.3" y1="255.9" x2="942.9" y2="253.6"/><line x1="932.3" y1="255.9" x2="932.3" y2="260.1"/><line x1="942.9" y1="253.6" x2="953.5" y2="255.2"/><line x1="953.5" y1="255.2" x2="964.1" y2="252.9"/><line x1="953.5" y1="255.2" x2="953.5" y2="259.4"/><line x1="964.1" y1="252.9" x2="974.7" y2="254.6"/><line x1="974.7" y1="254.6" x2="985.3" y2="252.2"/><line x1="974.7" y1="254.6" x2="974.7" y2="258.8"/><line x1="985.3" y1="252.2" x2="995.9" y2="253.9"/><line x1="995.9" y1="253.9" x2="1006.5" y2="251.6"/><line x1="995.9" y1="253.9" x2="995.9" y2="258.1"/><line x1="1006.5" y1="251.6" x2="1017.1" y2="253.2"/><line x1="1017.1" y1="253.2" x2="1027.7" y2="250.9"/><line x1="1017.1" y1="253.2" x2="1017.1" y2="257.4"/><line x1="889.9" y1="261.4" x2="900.5" y2="263.1"/><line x1="900.5" y1="263.1" x2="911.1" y2="260.8"/><line x1="911.1" y1="260.8" x2="921.7" y2="262.4"/><line x1="921.7" y1="262.4" x2="932.3" y2="260.1"/><line x1="932.3" y1="260.1" x2="942.9" y2="261.8"/><line x1="942.9" y1="261.8" x2="953.5" y2="259.4"/><line x1="953.5" y1="259.4" x2="964.1" y2="261.1"/><line x1="964.1" y1="261.1" x2="974.7" y2="258.8"/><line x1="974.7" y1="258.8" x2="985.3" y2="260.4"/><line x1="985.3" y1="260.4" x2="995.9" y2="258.1"/><line x1="995.9" y1="258.1" x2="1006.5" y2="259.8"/><line x1="1006.5" y1="259.8" x2="1017.1" y2="257.4"/><line x1="1017.1" y1="257.4" x2="1027.7" y2="259.1"/><line x1="888.9" y1="265.7" x2="899.5" y2="268.5"/><line x1="899.5" y1="268.5" x2="910.1" y2="267.3"/><line x1="899.5" y1="268.5" x2="899.5" y2="272.7"/><line x1="910.1" y1="267.3" x2="920.7" y2="270.1"/><line x1="920.7" y1="270.1" x2="931.3" y2="268.8"/><line x1="920.7" y1="270.1" x2="920.7" y2="274.3"/><line x1="931.3" y1="268.8" x2="941.9" y2="271.6"/><line x1="941.9" y1="271.6" x2="952.5" y2="270.4"/><line x1="941.9" y1="271.6" x2="941.9" y2="275.8"/><line x1="952.5" y1="270.4" x2="963.1" y2="273.2"/><line x1="963.1" y1="273.2" x2="973.7" y2="272.0"/><line x1="963.1" y1="273.2" x2="963.1" y2="277.4"/><line x1="973.7" y1="272.0" x2="984.3" y2="274.8"/><line x1="984.3" y1="274.8" x2="994.9" y2="273.6"/><line x1="984.3" y1="274.8" x2="984.3" y2="279.0"/><line x1="994.9" y1="273.6" x2="1005.5" y2="276.4"/><line x1="1005.5" y1="276.4" x2="1016.1" y2="275.2"/><line x1="1005.5" y1="276.4" x2="1005.5" y2="280.6"/><line x1="1016.1" y1="275.2" x2="1026.7" y2="278.0"/><line x1="1026.7" y1="278.0" x2="1026.7" y2="282.2"/><line x1="899.5" y1="272.7" x2="910.1" y2="275.5"/><line x1="910.1" y1="275.5" x2="920.7" y2="274.3"/><line x1="910.1" y1="275.5" x2="910.1" y2="279.7"/><line x1="920.7" y1="274.3" x2="931.3" y2="277.0"/><line x1="931.3" y1="277.0" x2="941.9" y2="275.8"/><line x1="931.3" y1="277.0" x2="931.3" y2="281.2"/><line x1="941.9" y1="275.8" x2="952.5" y2="278.6"/><line x1="952.5" y1="278.6" x2="963.1" y2="277.4"/><line x1="952.5" y1="278.6" x2="952.5" y2="282.8"/><line x1="963.1" y1="277.4" x2="973.7" y2="280.2"/><line x1="973.7" y1="280.2" x2="984.3" y2="279.0"/><line x1="973.7" y1="280.2" x2="973.7" y2="284.4"/><line x1="984.3" y1="279.0" x2="994.9" y2="281.8"/><line x1="994.9" y1="281.8" x2="1005.5" y2="280.6"/><line x1="994.9" y1="281.8" x2="994.9" y2="286.0"/><line x1="1005.5" y1="280.6" x2="1016.1" y2="283.4"/><line x1="1016.1" y1="283.4" x2="1026.7" y2="282.2"/><line x1="1016.1" y1="283.4" x2="1016.1" y2="287.6"/><line x1="888.9" y1="278.1" x2="899.5" y2="280.9"/><line x1="899.5" y1="280.9" x2="910.1" y2="279.7"/><line x1="910.1" y1="279.7" x2="920.7" y2="282.5"/><line x1="920.7" y1="282.5" x2="931.3" y2="281.2"/><line x1="931.3" y1="281.2" x2="941.9" y2="284.0"/><line x1="941.9" y1="284.0" x2="952.5" y2="282.8"/><line x1="952.5" y1="282.8" x2="963.1" y2="285.6"/><line x1="963.1" y1="285.6" x2="973.7" y2="284.4"/><line x1="973.7" y1="284.4" x2="984.3" y2="287.2"/><line x1="984.3" y1="287.2" x2="994.9" y2="286.0"/><line x1="994.9" y1="286.0" x2="1005.5" y2="288.8"/><line x1="1005.5" y1="288.8" x2="1016.1" y2="287.6"/><line x1="1016.1" y1="287.6" x2="1026.7" y2="290.4"/><line x1="884.1" y1="279.9" x2="894.7" y2="277.8"/><line x1="884.1" y1="279.9" x2="884.1" y2="284.1"/><line x1="894.7" y1="277.8" x2="905.3" y2="279.7"/><line x1="905.3" y1="279.7" x2="915.9" y2="277.6"/><line x1="905.3" y1="279.7" x2="905.3" y2="283.9"/><line x1="915.9" y1="277.6" x2="926.5" y2="279.5"/><line x1="926.5" y1="279.5" x2="937.1" y2="277.4"/><line x1="926.5" y1="279.5" x2="926.5" y2="283.7"/><line x1="937.1" y1="277.4" x2="947.7" y2="279.3"/><line x1="947.7" y1="279.3" x2="958.3" y2="277.2"/><line x1="947.7" y1="279.3" x2="947.7" y2="283.5"/><line x1="958.3" y1="277.2" x2="968.9" y2="279.1"/><line x1="968.9" y1="279.1" x2="979.5" y2="277.0"/><line x1="968.9" y1="279.1" x2="968.9" y2="283.3"/><line x1="979.5" y1="277.0" x2="990.1" y2="278.9"/><line x1="990.1" y1="278.9" x2="1000.7" y2="276.8"/><line x1="990.1" y1="278.9" x2="990.1" y2="283.1"/><line x1="1000.7" y1="276.8" x2="1011.3" y2="278.7"/><line x1="1011.3" y1="278.7" x2="1021.9" y2="276.6"/><line x1="1011.3" y1="278.7" x2="1011.3" y2="282.9"/><line x1="884.1" y1="284.1" x2="894.7" y2="286.0"/><line x1="894.7" y1="286.0" x2="905.3" y2="283.9"/><line x1="894.7" y1="286.0" x2="894.7" y2="290.2"/><line x1="905.3" y1="283.9" x2="915.9" y2="285.8"/><line x1="915.9" y1="285.8" x2="926.5" y2="283.7"/><line x1="915.9" y1="285.8" x2="915.9" y2="290.0"/><line x1="926.5" y1="283.7" x2="937.1" y2="285.6"/><line x1="937.1" y1="285.6" x2="947.7" y2="283.5"/><line x1="937.1" y1="285.6" x2="937.1" y2="289.8"/><line x1="947.7" y1="283.5" x2="958.3" y2="285.4"/><line x1="958.3" y1="285.4" x2="968.9" y2="283.3"/><line x1="958.3" y1="285.4" x2="958.3" y2="289.6"/><line x1="968.9" y1="283.3" x2="979.5" y2="285.2"/><line x1="979.5" y1="285.2" x2="990.1" y2="283.1"/><line x1="979.5" y1="285.2" x2="979.5" y2="289.4"/><line x1="990.1" y1="283.1" x2="1000.7" y2="285.0"/><line x1="1000.7" y1="285.0" x2="1011.3" y2="282.9"/><line x1="1000.7" y1="285.0" x2="1000.7" y2="289.2"/><line x1="1011.3" y1="282.9" x2="1021.9" y2="284.8"/><line x1="1021.9" y1="284.8" x2="1021.9" y2="289.0"/><line x1="894.7" y1="290.2" x2="905.3" y2="292.1"/><line x1="905.3" y1="292.1" x2="915.9" y2="290.0"/><line x1="915.9" y1="290.0" x2="926.5" y2="291.9"/><line x1="926.5" y1="291.9" x2="937.1" y2="289.8"/><line x1="937.1" y1="289.8" x2="947.7" y2="291.7"/><line x1="947.7" y1="291.7" x2="958.3" y2="289.6"/><line x1="958.3" y1="289.6" x2="968.9" y2="291.5"/><line x1="968.9" y1="291.5" x2="979.5" y2="289.4"/><line x1="979.5" y1="289.4" x2="990.1" y2="291.3"/><line x1="990.1" y1="291.3" x2="1000.7" y2="289.2"/><line x1="1000.7" y1="289.2" x2="1011.3" y2="291.1"/><line x1="1011.3" y1="291.1" x2="1021.9" y2="289.0"/><line x1="897.6" y1="290.1" x2="908.2" y2="291.6"/><line x1="908.2" y1="291.6" x2="918.8" y2="289.0"/><line x1="908.2" y1="291.6" x2="908.2" y2="295.8"/><line x1="918.8" y1="289.0" x2="929.4" y2="290.5"/><line x1="929.4" y1="290.5" x2="940.0" y2="288.0"/><line x1="929.4" y1="290.5" x2="929.4" y2="294.7"/><line x1="940.0" y1="288.0" x2="950.6" y2="289.4"/><line x1="950.6" y1="289.4" x2="961.2" y2="286.9"/><line x1="950.6" y1="289.4" x2="950.6" y2="293.6"/><line x1="961.2" y1="286.9" x2="971.8" y2="288.3"/><line x1="971.8" y1="288.3" x2="982.4" y2="285.8"/><line x1="971.8" y1="288.3" x2="971.8" y2="292.5"/><line x1="982.4" y1="285.8" x2="993.0" y2="287.3"/><line x1="993.0" y1="287.3" x2="1003.6" y2="284.7"/><line x1="993.0" y1="287.3" x2="993.0" y2="291.5"/><line x1="1003.6" y1="284.7" x2="1014.2" y2="286.2"/><line x1="1014.2" y1="286.2" x2="1024.8" y2="283.6"/><line x1="1014.2" y1="286.2" x2="1014.2" y2="290.4"/><line x1="908.2" y1="295.8" x2="918.8" y2="297.2"/><line x1="918.8" y1="297.2" x2="929.4" y2="294.7"/><line x1="929.4" y1="294.7" x2="940.0" y2="296.2"/><line x1="940.0" y1="296.2" x2="950.6" y2="293.6"/><line x1="940.0" y1="296.2" x2="940.0" y2="300.4"/><line x1="950.6" y1="293.6" x2="961.2" y2="295.1"/><line x1="961.2" y1="295.1" x2="971.8" y2="292.5"/><line x1="961.2" y1="295.1" x2="961.2" y2="299.3"/><line x1="971.8" y1="292.5" x2="982.4" y2="294.0"/><line x1="982.4" y1="294.0" x2="993.0" y2="291.5"/><line x1="982.4" y1="294.0" x2="982.4" y2="298.2"/><line x1="993.0" y1="291.5" x2="1003.6" y2="292.9"/><line x1="1003.6" y1="292.9" x2="1014.2" y2="290.4"/><line x1="1003.6" y1="292.9" x2="1003.6" y2="297.1"/><line x1="1014.2" y1="290.4" x2="1024.8" y2="291.8"/><line x1="1024.8" y1="291.8" x2="1024.8" y2="296.0"/><line x1="940.0" y1="300.4" x2="950.6" y2="301.8"/><line x1="950.6" y1="301.8" x2="961.2" y2="299.3"/><line x1="961.2" y1="299.3" x2="971.8" y2="300.7"/><line x1="971.8" y1="300.7" x2="982.4" y2="298.2"/><line x1="982.4" y1="298.2" x2="993.0" y2="299.7"/><line x1="993.0" y1="299.7" x2="1003.6" y2="297.1"/><line x1="1003.6" y1="297.1" x2="1014.2" y2="298.6"/><line x1="1014.2" y1="298.6" x2="1024.8" y2="296.0"/><line x1="948.0" y1="301.3" x2="958.6" y2="302.7"/><line x1="958.6" y1="302.7" x2="969.2" y2="300.0"/><line x1="969.2" y1="300.0" x2="979.8" y2="301.4"/><line x1="979.8" y1="301.4" x2="990.4" y2="298.8"/><line x1="979.8" y1="301.4" x2="979.8" y2="305.6"/><line x1="990.4" y1="298.8" x2="1001.0" y2="300.1"/><line x1="1001.0" y1="300.1" x2="1011.6" y2="297.5"/><line x1="1001.0" y1="300.1" x2="1001.0" y2="304.3"/><line x1="1011.6" y1="297.5" x2="1022.2" y2="298.9"/><line x1="1022.2" y1="298.9" x2="1022.2" y2="303.1"/><line x1="979.8" y1="305.6" x2="990.4" y2="307.0"/><line x1="990.4" y1="307.0" x2="1001.0" y2="304.3"/><line x1="1001.0" y1="304.3" x2="1011.6" y2="305.7"/><line x1="1011.6" y1="305.7" x2="1022.2" y2="303.1"/><line x1="1011.6" y1="305.7" x2="1011.6" y2="309.9"/></g><g fill="url(#cg)" stroke="#5a2824" stroke-width="0.4"><circle cx="928.1" cy="81.6" r="2.25"/><circle cx="938.7" cy="83.9" r="2.25"/><circle cx="949.3" cy="82.2" r="2.25"/><circle cx="959.9" cy="84.4" r="2.25"/><circle cx="970.5" cy="82.7" r="2.25"/><circle cx="981.1" cy="85.0" r="2.25"/><circle cx="991.7" cy="83.3" r="2.25"/><circle cx="1002.3" cy="85.6" r="2.25"/><circle cx="1012.9" cy="83.9" r="2.25"/><circle cx="1023.5" cy="86.2" r="2.25"/><circle cx="906.9" cy="89.2" r="2.25"/><circle cx="917.5" cy="87.5" r="2.25"/><circle cx="928.1" cy="89.8" r="2.25"/><circle cx="938.7" cy="88.1" r="2.25"/><circle cx="949.3" cy="90.4" r="2.25"/><circle cx="959.9" cy="88.6" r="2.25"/><circle cx="970.5" cy="90.9" r="2.25"/><circle cx="981.1" cy="89.2" r="2.25"/><circle cx="991.7" cy="91.5" r="2.25"/><circle cx="1002.3" cy="89.8" r="2.25"/><circle cx="1012.9" cy="92.1" r="2.25"/><circle cx="1023.5" cy="90.4" r="2.25"/><circle cx="896.3" cy="95.1" r="2.25"/><circle cx="906.9" cy="93.4" r="2.25"/><circle cx="917.5" cy="95.7" r="2.25"/><circle cx="928.1" cy="94.0" r="2.25"/><circle cx="938.7" cy="96.3" r="2.25"/><circle cx="949.3" cy="94.6" r="2.25"/><circle cx="959.9" cy="96.8" r="2.25"/><circle cx="970.5" cy="95.1" r="2.25"/><circle cx="981.1" cy="97.4" r="2.25"/><circle cx="991.7" cy="95.7" r="2.25"/><circle cx="1002.3" cy="98.0" r="2.25"/><circle cx="1012.9" cy="96.3" r="2.25"/><circle cx="1023.5" cy="98.6" r="2.25"/><circle cx="896.3" cy="98.7" r="2.25"/><circle cx="906.9" cy="97.4" r="2.25"/><circle cx="917.5" cy="100.2" r="2.25"/><circle cx="928.1" cy="99.0" r="2.25"/><circle cx="938.7" cy="101.7" r="2.25"/><circle cx="949.3" cy="100.5" r="2.25"/><circle cx="959.9" cy="103.3" r="2.25"/><circle cx="970.5" cy="102.0" r="2.25"/><circle cx="981.1" cy="104.8" r="2.25"/><circle cx="991.7" cy="103.5" r="2.25"/><circle cx="1002.3" cy="106.3" r="2.25"/><circle cx="1012.9" cy="105.1" r="2.25"/><circle cx="1023.5" cy="107.8" r="2.25"/><circle cx="906.9" cy="105.6" r="2.25"/><circle cx="917.5" cy="104.4" r="2.25"/><circle cx="928.1" cy="107.2" r="2.25"/><circle cx="938.7" cy="105.9" r="2.25"/><circle cx="949.3" cy="108.7" r="2.25"/><circle cx="959.9" cy="107.5" r="2.25"/><circle cx="970.5" cy="110.2" r="2.25"/><circle cx="981.1" cy="109.0" r="2.25"/><circle cx="991.7" cy="111.7" r="2.25"/><circle cx="1002.3" cy="110.5" r="2.25"/><circle cx="1012.9" cy="113.3" r="2.25"/><circle cx="1023.5" cy="112.0" r="2.25"/><circle cx="928.1" cy="111.4" r="2.25"/><circle cx="938.7" cy="114.1" r="2.25"/><circle cx="949.3" cy="112.9" r="2.25"/><circle cx="959.9" cy="115.7" r="2.25"/><circle cx="970.5" cy="114.4" r="2.25"/><circle cx="981.1" cy="117.2" r="2.25"/><circle cx="991.7" cy="115.9" r="2.25"/><circle cx="1002.3" cy="118.7" r="2.25"/><circle cx="1012.9" cy="117.5" r="2.25"/><circle cx="1023.5" cy="120.2" r="2.25"/><circle cx="922.3" cy="106.9" r="2.25"/><circle cx="932.9" cy="108.3" r="2.25"/><circle cx="943.5" cy="105.7" r="2.25"/><circle cx="954.1" cy="107.1" r="2.25"/><circle cx="964.7" cy="104.5" r="2.25"/><circle cx="975.3" cy="105.9" r="2.25"/><circle cx="985.9" cy="103.4" r="2.25"/><circle cx="996.5" cy="104.8" r="2.25"/><circle cx="1007.1" cy="102.2" r="2.25"/><circle cx="1017.7" cy="103.6" r="2.25"/><circle cx="1028.3" cy="101.0" r="2.25"/><circle cx="932.9" cy="112.5" r="2.25"/><circle cx="943.5" cy="113.9" r="2.25"/><circle cx="954.1" cy="111.3" r="2.25"/><circle cx="964.7" cy="112.7" r="2.25"/><circle cx="975.3" cy="110.1" r="2.25"/><circle cx="985.9" cy="111.6" r="2.25"/><circle cx="996.5" cy="109.0" r="2.25"/><circle cx="1007.1" cy="110.4" r="2.25"/><circle cx="1017.7" cy="107.8" r="2.25"/><circle cx="1028.3" cy="109.2" r="2.25"/><circle cx="943.5" cy="118.1" r="2.25"/><circle cx="954.1" cy="119.5" r="2.25"/><circle cx="964.7" cy="116.9" r="2.25"/><circle cx="975.3" cy="118.3" r="2.25"/><circle cx="985.9" cy="115.8" r="2.25"/><circle cx="996.5" cy="117.2" r="2.25"/><circle cx="1007.1" cy="114.6" r="2.25"/><circle cx="1017.7" cy="116.0" r="2.25"/><circle cx="1028.3" cy="113.4" r="2.25"/><circle cx="931.5" cy="126.8" r="2.25"/><circle cx="942.1" cy="129.1" r="2.25"/><circle cx="952.7" cy="127.5" r="2.25"/><circle cx="963.3" cy="129.8" r="2.25"/><circle cx="973.9" cy="128.1" r="2.25"/><circle cx="984.5" cy="130.5" r="2.25"/><circle cx="995.1" cy="128.8" r="2.25"/><circle cx="1005.7" cy="131.1" r="2.25"/><circle cx="1016.3" cy="129.4" r="2.25"/><circle cx="1026.9" cy="131.8" r="2.25"/><circle cx="910.3" cy="134.4" r="2.25"/><circle cx="920.9" cy="132.7" r="2.25"/><circle cx="931.5" cy="135.0" r="2.25"/><circle cx="942.1" cy="133.3" r="2.25"/><circle cx="952.7" cy="135.7" r="2.25"/><circle cx="963.3" cy="134.0" r="2.25"/><circle cx="973.9" cy="136.3" r="2.25"/><circle cx="984.5" cy="134.7" r="2.25"/><circle cx="995.1" cy="137.0" r="2.25"/><circle cx="1005.7" cy="135.3" r="2.25"/><circle cx="1016.3" cy="137.6" r="2.25"/><circle cx="1026.9" cy="136.0" r="2.25"/><circle cx="910.3" cy="138.6" r="2.25"/><circle cx="920.9" cy="140.9" r="2.25"/><circle cx="931.5" cy="139.2" r="2.25"/><circle cx="942.1" cy="141.5" r="2.25"/><circle cx="952.7" cy="139.9" r="2.25"/><circle cx="963.3" cy="142.2" r="2.25"/><circle cx="973.9" cy="140.5" r="2.25"/><circle cx="984.5" cy="142.9" r="2.25"/><circle cx="995.1" cy="141.2" r="2.25"/><circle cx="1005.7" cy="143.5" r="2.25"/><circle cx="1016.3" cy="141.8" r="2.25"/><circle cx="1026.9" cy="144.2" r="2.25"/><circle cx="907.0" cy="140.6" r="2.25"/><circle cx="917.6" cy="138.6" r="2.25"/><circle cx="928.2" cy="140.7" r="2.25"/><circle cx="938.8" cy="138.7" r="2.25"/><circle cx="949.4" cy="140.8" r="2.25"/><circle cx="960.0" cy="138.9" r="2.25"/><circle cx="970.6" cy="140.9" r="2.25"/><circle cx="981.2" cy="139.0" r="2.25"/><circle cx="991.8" cy="141.0" r="2.25"/><circle cx="1002.4" cy="139.1" r="2.25"/><circle cx="1013.0" cy="141.2" r="2.25"/><circle cx="1023.6" cy="139.2" r="2.25"/><circle cx="907.0" cy="144.8" r="2.25"/><circle cx="917.6" cy="146.8" r="2.25"/><circle cx="928.2" cy="144.9" r="2.25"/><circle cx="938.8" cy="146.9" r="2.25"/><circle cx="949.4" cy="145.0" r="2.25"/><circle cx="960.0" cy="147.1" r="2.25"/><circle cx="970.6" cy="145.1" r="2.25"/><circle cx="981.2" cy="147.2" r="2.25"/><circle cx="991.8" cy="145.2" r="2.25"/><circle cx="1002.4" cy="147.3" r="2.25"/><circle cx="1013.0" cy="145.4" r="2.25"/><circle cx="1023.6" cy="147.4" r="2.25"/><circle cx="896.4" cy="150.9" r="2.25"/><circle cx="907.0" cy="153.0" r="2.25"/><circle cx="917.6" cy="151.0" r="2.25"/><circle cx="928.2" cy="153.1" r="2.25"/><circle cx="938.8" cy="151.1" r="2.25"/><circle cx="949.4" cy="153.2" r="2.25"/><circle cx="960.0" cy="151.3" r="2.25"/><circle cx="970.6" cy="153.3" r="2.25"/><circle cx="981.2" cy="151.4" r="2.25"/><circle cx="991.8" cy="153.4" r="2.25"/><circle cx="1002.4" cy="151.5" r="2.25"/><circle cx="1013.0" cy="153.6" r="2.25"/><circle cx="1023.6" cy="151.6" r="2.25"/><circle cx="902.1" cy="155.3" r="2.25"/><circle cx="912.7" cy="153.5" r="2.25"/><circle cx="923.3" cy="155.7" r="2.25"/><circle cx="933.9" cy="153.9" r="2.25"/><circle cx="944.5" cy="156.2" r="2.25"/><circle cx="955.1" cy="154.4" r="2.25"/><circle cx="965.7" cy="156.6" r="2.25"/><circle cx="976.3" cy="154.8" r="2.25"/><circle cx="986.9" cy="157.0" r="2.25"/><circle cx="997.5" cy="155.2" r="2.25"/><circle cx="1008.1" cy="157.4" r="2.25"/><circle cx="1018.7" cy="155.7" r="2.25"/><circle cx="1029.3" cy="157.9" r="2.25"/><circle cx="891.5" cy="161.3" r="2.25"/><circle cx="902.1" cy="159.5" r="2.25"/><circle cx="912.7" cy="161.7" r="2.25"/><circle cx="923.3" cy="159.9" r="2.25"/><circle cx="933.9" cy="162.1" r="2.25"/><circle cx="944.5" cy="160.4" r="2.25"/><circle cx="955.1" cy="162.6" r="2.25"/><circle cx="965.7" cy="160.8" r="2.25"/><circle cx="976.3" cy="163.0" r="2.25"/><circle cx="986.9" cy="161.2" r="2.25"/><circle cx="997.5" cy="163.4" r="2.25"/><circle cx="1008.1" cy="161.6" r="2.25"/><circle cx="1018.7" cy="163.9" r="2.25"/><circle cx="1029.3" cy="162.1" r="2.25"/><circle cx="891.5" cy="165.5" r="2.25"/><circle cx="902.1" cy="167.7" r="2.25"/><circle cx="912.7" cy="165.9" r="2.25"/><circle cx="923.3" cy="168.1" r="2.25"/><circle cx="933.9" cy="166.3" r="2.25"/><circle cx="944.5" cy="168.6" r="2.25"/><circle cx="955.1" cy="166.8" r="2.25"/><circle cx="965.7" cy="169.0" r="2.25"/><circle cx="976.3" cy="167.2" r="2.25"/><circle cx="986.9" cy="169.4" r="2.25"/><circle cx="997.5" cy="167.6" r="2.25"/><circle cx="1008.1" cy="169.8" r="2.25"/><circle cx="1018.7" cy="168.1" r="2.25"/><circle cx="1029.3" cy="170.3" r="2.25"/><circle cx="889.4" cy="165.9" r="2.25"/><circle cx="900.0" cy="167.6" r="2.25"/><circle cx="910.6" cy="165.4" r="2.25"/><circle cx="921.2" cy="167.2" r="2.25"/><circle cx="931.8" cy="165.0" r="2.25"/><circle cx="942.4" cy="166.8" r="2.25"/><circle cx="953.0" cy="164.5" r="2.25"/><circle cx="963.6" cy="166.3" r="2.25"/><circle cx="974.2" cy="164.1" r="2.25"/><circle cx="984.8" cy="165.9" r="2.25"/><circle cx="995.4" cy="163.7" r="2.25"/><circle cx="1006.0" cy="165.4" r="2.25"/><circle cx="1016.6" cy="163.2" r="2.25"/><circle cx="1027.2" cy="165.0" r="2.25"/><circle cx="900.0" cy="171.8" r="2.25"/><circle cx="910.6" cy="173.6" r="2.25"/><circle cx="921.2" cy="171.4" r="2.25"/><circle cx="931.8" cy="173.2" r="2.25"/><circle cx="942.4" cy="171.0" r="2.25"/><circle cx="953.0" cy="172.7" r="2.25"/><circle cx="963.6" cy="170.5" r="2.25"/><circle cx="974.2" cy="172.3" r="2.25"/><circle cx="984.8" cy="170.1" r="2.25"/><circle cx="995.4" cy="171.9" r="2.25"/><circle cx="1006.0" cy="169.6" r="2.25"/><circle cx="1016.6" cy="171.4" r="2.25"/><circle cx="1027.2" cy="169.2" r="2.25"/><circle cx="910.6" cy="177.8" r="2.25"/><circle cx="921.2" cy="179.6" r="2.25"/><circle cx="931.8" cy="177.4" r="2.25"/><circle cx="942.4" cy="179.2" r="2.25"/><circle cx="953.0" cy="176.9" r="2.25"/><circle cx="963.6" cy="178.7" r="2.25"/><circle cx="974.2" cy="176.5" r="2.25"/><circle cx="984.8" cy="178.3" r="2.25"/><circle cx="995.4" cy="176.1" r="2.25"/><circle cx="1006.0" cy="177.8" r="2.25"/><circle cx="1016.6" cy="175.6" r="2.25"/><circle cx="1027.2" cy="177.4" r="2.25"/><circle cx="908.1" cy="179.6" r="2.25"/><circle cx="918.7" cy="181.2" r="2.25"/><circle cx="929.3" cy="178.8" r="2.25"/><circle cx="939.9" cy="180.4" r="2.25"/><circle cx="950.5" cy="178.0" r="2.25"/><circle cx="961.1" cy="179.6" r="2.25"/><circle cx="971.7" cy="177.2" r="2.25"/><circle cx="982.3" cy="178.8" r="2.25"/><circle cx="992.9" cy="176.4" r="2.25"/><circle cx="1003.5" cy="178.0" r="2.25"/><circle cx="1014.1" cy="175.6" r="2.25"/><circle cx="1024.7" cy="177.2" r="2.25"/><circle cx="918.7" cy="185.4" r="2.25"/><circle cx="929.3" cy="187.0" r="2.25"/><circle cx="939.9" cy="184.6" r="2.25"/><circle cx="950.5" cy="186.2" r="2.25"/><circle cx="961.1" cy="183.8" r="2.25"/><circle cx="971.7" cy="185.4" r="2.25"/><circle cx="982.3" cy="183.0" r="2.25"/><circle cx="992.9" cy="184.6" r="2.25"/><circle cx="1003.5" cy="182.2" r="2.25"/><circle cx="1014.1" cy="183.8" r="2.25"/><circle cx="1024.7" cy="181.4" r="2.25"/><circle cx="929.3" cy="191.2" r="2.25"/><circle cx="939.9" cy="192.8" r="2.25"/><circle cx="950.5" cy="190.4" r="2.25"/><circle cx="961.1" cy="192.0" r="2.25"/><circle cx="971.7" cy="189.6" r="2.25"/><circle cx="982.3" cy="191.2" r="2.25"/><circle cx="992.9" cy="188.8" r="2.25"/><circle cx="1003.5" cy="190.4" r="2.25"/><circle cx="1014.1" cy="188.0" r="2.25"/><circle cx="1024.7" cy="189.6" r="2.25"/><circle cx="925.7" cy="198.0" r="2.25"/><circle cx="936.3" cy="196.2" r="2.25"/><circle cx="946.9" cy="198.5" r="2.25"/><circle cx="957.5" cy="196.8" r="2.25"/><circle cx="968.1" cy="199.1" r="2.25"/><circle cx="978.7" cy="197.4" r="2.25"/><circle cx="989.3" cy="199.6" r="2.25"/><circle cx="999.9" cy="197.9" r="2.25"/><circle cx="1010.5" cy="200.2" r="2.25"/><circle cx="1021.1" cy="198.5" r="2.25"/><circle cx="936.3" cy="204.4" r="2.25"/><circle cx="946.9" cy="202.7" r="2.25"/><circle cx="957.5" cy="205.0" r="2.25"/><circle cx="968.1" cy="203.3" r="2.25"/><circle cx="978.7" cy="205.6" r="2.25"/><circle cx="989.3" cy="203.8" r="2.25"/><circle cx="999.9" cy="206.1" r="2.25"/><circle cx="1010.5" cy="204.4" r="2.25"/><circle cx="1021.1" cy="206.7" r="2.25"/><circle cx="925.7" cy="210.4" r="2.25"/><circle cx="936.3" cy="208.6" r="2.25"/><circle cx="946.9" cy="210.9" r="2.25"/><circle cx="957.5" cy="209.2" r="2.25"/><circle cx="968.1" cy="211.5" r="2.25"/><circle cx="978.7" cy="209.8" r="2.25"/><circle cx="989.3" cy="212.0" r="2.25"/><circle cx="999.9" cy="210.3" r="2.25"/><circle cx="1010.5" cy="212.6" r="2.25"/><circle cx="1021.1" cy="210.9" r="2.25"/><circle cx="916.8" cy="210.6" r="2.25"/><circle cx="927.4" cy="213.2" r="2.25"/><circle cx="938.0" cy="211.9" r="2.25"/><circle cx="948.6" cy="214.6" r="2.25"/><circle cx="959.2" cy="213.2" r="2.25"/><circle cx="969.8" cy="215.9" r="2.25"/><circle cx="980.4" cy="214.5" r="2.25"/><circle cx="991.0" cy="217.2" r="2.25"/><circle cx="1001.6" cy="215.8" r="2.25"/><circle cx="1012.2" cy="218.5" r="2.25"/><circle cx="1022.8" cy="217.2" r="2.25"/><circle cx="906.2" cy="216.1" r="2.25"/><circle cx="916.8" cy="218.8" r="2.25"/><circle cx="927.4" cy="217.4" r="2.25"/><circle cx="938.0" cy="220.1" r="2.25"/><circle cx="948.6" cy="218.8" r="2.25"/><circle cx="959.2" cy="221.4" r="2.25"/><circle cx="969.8" cy="220.1" r="2.25"/><circle cx="980.4" cy="222.7" r="2.25"/><circle cx="991.0" cy="221.4" r="2.25"/><circle cx="1001.6" cy="224.0" r="2.25"/><circle cx="1012.2" cy="222.7" r="2.25"/><circle cx="1022.8" cy="225.4" r="2.25"/><circle cx="906.2" cy="224.3" r="2.25"/><circle cx="916.8" cy="223.0" r="2.25"/><circle cx="927.4" cy="225.6" r="2.25"/><circle cx="938.0" cy="224.3" r="2.25"/><circle cx="948.6" cy="227.0" r="2.25"/><circle cx="959.2" cy="225.6" r="2.25"/><circle cx="969.8" cy="228.3" r="2.25"/><circle cx="980.4" cy="226.9" r="2.25"/><circle cx="991.0" cy="229.6" r="2.25"/><circle cx="1001.6" cy="228.2" r="2.25"/><circle cx="1012.2" cy="230.9" r="2.25"/><circle cx="1022.8" cy="229.6" r="2.25"/><circle cx="899.1" cy="225.6" r="2.25"/><circle cx="909.7" cy="224.4" r="2.25"/><circle cx="920.3" cy="227.2" r="2.25"/><circle cx="930.9" cy="226.0" r="2.25"/><circle cx="941.5" cy="228.9" r="2.25"/><circle cx="952.1" cy="227.7" r="2.25"/><circle cx="962.7" cy="230.5" r="2.25"/><circle cx="973.3" cy="229.3" r="2.25"/><circle cx="983.9" cy="232.1" r="2.25"/><circle cx="994.5" cy="231.0" r="2.25"/><circle cx="1005.1" cy="233.8" r="2.25"/><circle cx="1015.7" cy="232.6" r="2.25"/><circle cx="1026.3" cy="235.4" r="2.25"/><circle cx="899.1" cy="229.8" r="2.25"/><circle cx="909.7" cy="232.6" r="2.25"/><circle cx="920.3" cy="231.4" r="2.25"/><circle cx="930.9" cy="234.2" r="2.25"/><circle cx="941.5" cy="233.1" r="2.25"/><circle cx="952.1" cy="235.9" r="2.25"/><circle cx="962.7" cy="234.7" r="2.25"/><circle cx="973.3" cy="237.5" r="2.25"/><circle cx="983.9" cy="236.3" r="2.25"/><circle cx="994.5" cy="239.2" r="2.25"/><circle cx="1005.1" cy="238.0" r="2.25"/><circle cx="1015.7" cy="240.8" r="2.25"/><circle cx="1026.3" cy="239.6" r="2.25"/><circle cx="899.1" cy="238.0" r="2.25"/><circle cx="909.7" cy="236.8" r="2.25"/><circle cx="920.3" cy="239.6" r="2.25"/><circle cx="930.9" cy="238.4" r="2.25"/><circle cx="941.5" cy="241.3" r="2.25"/><circle cx="952.1" cy="240.1" r="2.25"/><circle cx="962.7" cy="242.9" r="2.25"/><circle cx="973.3" cy="241.7" r="2.25"/><circle cx="983.9" cy="244.5" r="2.25"/><circle cx="994.5" cy="243.4" r="2.25"/><circle cx="1005.1" cy="246.2" r="2.25"/><circle cx="1015.7" cy="245.0" r="2.25"/><circle cx="1026.3" cy="247.8" r="2.25"/><circle cx="902.6" cy="237.5" r="2.25"/><circle cx="913.2" cy="240.3" r="2.25"/><circle cx="923.8" cy="239.1" r="2.25"/><circle cx="934.4" cy="241.9" r="2.25"/><circle cx="945.0" cy="240.7" r="2.25"/><circle cx="955.6" cy="243.5" r="2.25"/><circle cx="966.2" cy="242.3" r="2.25"/><circle cx="976.8" cy="245.1" r="2.25"/><circle cx="987.4" cy="243.9" r="2.25"/><circle cx="998.0" cy="246.6" r="2.25"/><circle cx="1008.6" cy="245.4" r="2.25"/><circle cx="1019.2" cy="248.2" r="2.25"/><circle cx="1029.8" cy="247.0" r="2.25"/><circle cx="902.6" cy="245.7" r="2.25"/><circle cx="913.2" cy="244.5" r="2.25"/><circle cx="923.8" cy="247.3" r="2.25"/><circle cx="934.4" cy="246.1" r="2.25"/><circle cx="945.0" cy="248.9" r="2.25"/><circle cx="955.6" cy="247.7" r="2.25"/><circle cx="966.2" cy="250.5" r="2.25"/><circle cx="976.8" cy="249.3" r="2.25"/><circle cx="987.4" cy="252.1" r="2.25"/><circle cx="998.0" cy="250.8" r="2.25"/><circle cx="1008.6" cy="253.6" r="2.25"/><circle cx="1019.2" cy="252.4" r="2.25"/><circle cx="1029.8" cy="255.2" r="2.25"/><circle cx="902.6" cy="249.9" r="2.25"/><circle cx="913.2" cy="252.7" r="2.25"/><circle cx="923.8" cy="251.5" r="2.25"/><circle cx="934.4" cy="254.3" r="2.25"/><circle cx="945.0" cy="253.1" r="2.25"/><circle cx="955.6" cy="255.9" r="2.25"/><circle cx="966.2" cy="254.7" r="2.25"/><circle cx="976.8" cy="257.5" r="2.25"/><circle cx="987.4" cy="256.3" r="2.25"/><circle cx="998.0" cy="259.0" r="2.25"/><circle cx="1008.6" cy="257.8" r="2.25"/><circle cx="1019.2" cy="260.6" r="2.25"/><circle cx="1029.8" cy="259.4" r="2.25"/><circle cx="900.5" cy="250.7" r="2.25"/><circle cx="911.1" cy="248.4" r="2.25"/><circle cx="921.7" cy="250.0" r="2.25"/><circle cx="932.3" cy="247.7" r="2.25"/><circle cx="942.9" cy="249.4" r="2.25"/><circle cx="953.5" cy="247.0" r="2.25"/><circle cx="964.1" cy="248.7" r="2.25"/><circle cx="974.7" cy="246.4" r="2.25"/><circle cx="985.3" cy="248.0" r="2.25"/><circle cx="995.9" cy="245.7" r="2.25"/><circle cx="1006.5" cy="247.4" r="2.25"/><circle cx="1017.1" cy="245.0" r="2.25"/><circle cx="1027.7" cy="246.7" r="2.25"/><circle cx="900.5" cy="254.9" r="2.25"/><circle cx="911.1" cy="256.6" r="2.25"/><circle cx="921.7" cy="254.2" r="2.25"/><circle cx="932.3" cy="255.9" r="2.25"/><circle cx="942.9" cy="253.6" r="2.25"/><circle cx="953.5" cy="255.2" r="2.25"/><circle cx="964.1" cy="252.9" r="2.25"/><circle cx="974.7" cy="254.6" r="2.25"/><circle cx="985.3" cy="252.2" r="2.25"/><circle cx="995.9" cy="253.9" r="2.25"/><circle cx="1006.5" cy="251.6" r="2.25"/><circle cx="1017.1" cy="253.2" r="2.25"/><circle cx="1027.7" cy="250.9" r="2.25"/><circle cx="889.9" cy="261.4" r="2.25"/><circle cx="900.5" cy="263.1" r="2.25"/><circle cx="911.1" cy="260.8" r="2.25"/><circle cx="921.7" cy="262.4" r="2.25"/><circle cx="932.3" cy="260.1" r="2.25"/><circle cx="942.9" cy="261.8" r="2.25"/><circle cx="953.5" cy="259.4" r="2.25"/><circle cx="964.1" cy="261.1" r="2.25"/><circle cx="974.7" cy="258.8" r="2.25"/><circle cx="985.3" cy="260.4" r="2.25"/><circle cx="995.9" cy="258.1" r="2.25"/><circle cx="1006.5" cy="259.8" r="2.25"/><circle cx="1017.1" cy="257.4" r="2.25"/><circle cx="1027.7" cy="259.1" r="2.25"/><circle cx="888.9" cy="265.7" r="2.25"/><circle cx="899.5" cy="268.5" r="2.25"/><circle cx="910.1" cy="267.3" r="2.25"/><circle cx="920.7" cy="270.1" r="2.25"/><circle cx="931.3" cy="268.8" r="2.25"/><circle cx="941.9" cy="271.6" r="2.25"/><circle cx="952.5" cy="270.4" r="2.25"/><circle cx="963.1" cy="273.2" r="2.25"/><circle cx="973.7" cy="272.0" r="2.25"/><circle cx="984.3" cy="274.8" r="2.25"/><circle cx="994.9" cy="273.6" r="2.25"/><circle cx="1005.5" cy="276.4" r="2.25"/><circle cx="1016.1" cy="275.2" r="2.25"/><circle cx="1026.7" cy="278.0" r="2.25"/><circle cx="899.5" cy="272.7" r="2.25"/><circle cx="910.1" cy="275.5" r="2.25"/><circle cx="920.7" cy="274.3" r="2.25"/><circle cx="931.3" cy="277.0" r="2.25"/><circle cx="941.9" cy="275.8" r="2.25"/><circle cx="952.5" cy="278.6" r="2.25"/><circle cx="963.1" cy="277.4" r="2.25"/><circle cx="973.7" cy="280.2" r="2.25"/><circle cx="984.3" cy="279.0" r="2.25"/><circle cx="994.9" cy="281.8" r="2.25"/><circle cx="1005.5" cy="280.6" r="2.25"/><circle cx="1016.1" cy="283.4" r="2.25"/><circle cx="1026.7" cy="282.2" r="2.25"/><circle cx="888.9" cy="278.1" r="2.25"/><circle cx="899.5" cy="280.9" r="2.25"/><circle cx="910.1" cy="279.7" r="2.25"/><circle cx="920.7" cy="282.5" r="2.25"/><circle cx="931.3" cy="281.2" r="2.25"/><circle cx="941.9" cy="284.0" r="2.25"/><circle cx="952.5" cy="282.8" r="2.25"/><circle cx="963.1" cy="285.6" r="2.25"/><circle cx="973.7" cy="284.4" r="2.25"/><circle cx="984.3" cy="287.2" r="2.25"/><circle cx="994.9" cy="286.0" r="2.25"/><circle cx="1005.5" cy="288.8" r="2.25"/><circle cx="1016.1" cy="287.6" r="2.25"/><circle cx="1026.7" cy="290.4" r="2.25"/><circle cx="884.1" cy="279.9" r="2.25"/><circle cx="894.7" cy="277.8" r="2.25"/><circle cx="905.3" cy="279.7" r="2.25"/><circle cx="915.9" cy="277.6" r="2.25"/><circle cx="926.5" cy="279.5" r="2.25"/><circle cx="937.1" cy="277.4" r="2.25"/><circle cx="947.7" cy="279.3" r="2.25"/><circle cx="958.3" cy="277.2" r="2.25"/><circle cx="968.9" cy="279.1" r="2.25"/><circle cx="979.5" cy="277.0" r="2.25"/><circle cx="990.1" cy="278.9" r="2.25"/><circle cx="1000.7" cy="276.8" r="2.25"/><circle cx="1011.3" cy="278.7" r="2.25"/><circle cx="1021.9" cy="276.6" r="2.25"/><circle cx="884.1" cy="284.1" r="2.25"/><circle cx="894.7" cy="286.0" r="2.25"/><circle cx="905.3" cy="283.9" r="2.25"/><circle cx="915.9" cy="285.8" r="2.25"/><circle cx="926.5" cy="283.7" r="2.25"/><circle cx="937.1" cy="285.6" r="2.25"/><circle cx="947.7" cy="283.5" r="2.25"/><circle cx="958.3" cy="285.4" r="2.25"/><circle cx="968.9" cy="283.3" r="2.25"/><circle cx="979.5" cy="285.2" r="2.25"/><circle cx="990.1" cy="283.1" r="2.25"/><circle cx="1000.7" cy="285.0" r="2.25"/><circle cx="1011.3" cy="282.9" r="2.25"/><circle cx="1021.9" cy="284.8" r="2.25"/><circle cx="894.7" cy="290.2" r="2.25"/><circle cx="905.3" cy="292.1" r="2.25"/><circle cx="915.9" cy="290.0" r="2.25"/><circle cx="926.5" cy="291.9" r="2.25"/><circle cx="937.1" cy="289.8" r="2.25"/><circle cx="947.7" cy="291.7" r="2.25"/><circle cx="958.3" cy="289.6" r="2.25"/><circle cx="968.9" cy="291.5" r="2.25"/><circle cx="979.5" cy="289.4" r="2.25"/><circle cx="990.1" cy="291.3" r="2.25"/><circle cx="1000.7" cy="289.2" r="2.25"/><circle cx="1011.3" cy="291.1" r="2.25"/><circle cx="1021.9" cy="289.0" r="2.25"/><circle cx="897.6" cy="290.1" r="2.25"/><circle cx="908.2" cy="291.6" r="2.25"/><circle cx="918.8" cy="289.0" r="2.25"/><circle cx="929.4" cy="290.5" r="2.25"/><circle cx="940.0" cy="288.0" r="2.25"/><circle cx="950.6" cy="289.4" r="2.25"/><circle cx="961.2" cy="286.9" r="2.25"/><circle cx="971.8" cy="288.3" r="2.25"/><circle cx="982.4" cy="285.8" r="2.25"/><circle cx="993.0" cy="287.3" r="2.25"/><circle cx="1003.6" cy="284.7" r="2.25"/><circle cx="1014.2" cy="286.2" r="2.25"/><circle cx="1024.8" cy="283.6" r="2.25"/><circle cx="908.2" cy="295.8" r="2.25"/><circle cx="918.8" cy="297.2" r="2.25"/><circle cx="929.4" cy="294.7" r="2.25"/><circle cx="940.0" cy="296.2" r="2.25"/><circle cx="950.6" cy="293.6" r="2.25"/><circle cx="961.2" cy="295.1" r="2.25"/><circle cx="971.8" cy="292.5" r="2.25"/><circle cx="982.4" cy="294.0" r="2.25"/><circle cx="993.0" cy="291.5" r="2.25"/><circle cx="1003.6" cy="292.9" r="2.25"/><circle cx="1014.2" cy="290.4" r="2.25"/><circle cx="1024.8" cy="291.8" r="2.25"/><circle cx="940.0" cy="300.4" r="2.25"/><circle cx="950.6" cy="301.8" r="2.25"/><circle cx="961.2" cy="299.3" r="2.25"/><circle cx="971.8" cy="300.7" r="2.25"/><circle cx="982.4" cy="298.2" r="2.25"/><circle cx="993.0" cy="299.7" r="2.25"/><circle cx="1003.6" cy="297.1" r="2.25"/><circle cx="1014.2" cy="298.6" r="2.25"/><circle cx="1024.8" cy="296.0" r="2.25"/><circle cx="948.0" cy="301.3" r="2.25"/><circle cx="958.6" cy="302.7" r="2.25"/><circle cx="969.2" cy="300.0" r="2.25"/><circle cx="979.8" cy="301.4" r="2.25"/><circle cx="990.4" cy="298.8" r="2.25"/><circle cx="1001.0" cy="300.1" r="2.25"/><circle cx="1011.6" cy="297.5" r="2.25"/><circle cx="1022.2" cy="298.9" r="2.25"/><circle cx="979.8" cy="305.6" r="2.25"/><circle cx="990.4" cy="307.0" r="2.25"/><circle cx="1001.0" cy="304.3" r="2.25"/><circle cx="1011.6" cy="305.7" r="2.25"/><circle cx="1022.2" cy="303.1" r="2.25"/><circle cx="1011.6" cy="309.9" r="2.25"/></g>
<path d="M1030.8,90.5 Q1030.8,82.5 1038.8,78.08095238095238 L1075.3,57.91904761904762 Q1083.3,53.5 1083.3,61.5 L1083.3,295.0 Q1083.3,303.0 1075.3,307.32761904761907 L1038.8,327.0723809523809 Q1030.8,331.4 1030.8,323.4 Z" transform="translate(-9.00 -5.10)" fill="#8c8c8c"/><path d="M1030.8,90.5 Q1030.8,82.5 1038.8,78.08095238095238 L1075.3,57.91904761904762 Q1083.3,53.5 1083.3,61.5 L1083.3,295.0 Q1083.3,303.0 1075.3,307.32761904761907 L1038.8,327.0723809523809 Q1030.8,331.4 1030.8,323.4 Z" transform="translate(-8.25 -4.67)" fill="#989898"/><path d="M1030.8,90.5 Q1030.8,82.5 1038.8,78.08095238095238 L1075.3,57.91904761904762 Q1083.3,53.5 1083.3,61.5 L1083.3,295.0 Q1083.3,303.0 1075.3,307.32761904761907 L1038.8,327.0723809523809 Q1030.8,331.4 1030.8,323.4 Z" transform="translate(-7.50 -4.25)" fill="#9b9b9b"/><path d="M1030.8,90.5 Q1030.8,82.5 1038.8,78.08095238095238 L1075.3,57.91904761904762 Q1083.3,53.5 1083.3,61.5 L1083.3,295.0 Q1083.3,303.0 1075.3,307.32761904761907 L1038.8,327.0723809523809 Q1030.8,331.4 1030.8,323.4 Z" transform="translate(-6.75 -3.82)" fill="#9d9d9d"/><path d="M1030.8,90.5 Q1030.8,82.5 1038.8,78.08095238095238 L1075.3,57.91904761904762 Q1083.3,53.5 1083.3,61.5 L1083.3,295.0 Q1083.3,303.0 1075.3,307.32761904761907 L1038.8,327.0723809523809 Q1030.8,331.4 1030.8,323.4 Z" transform="translate(-6.00 -3.40)" fill="#a0a0a0"/><path d="M1030.8,90.5 Q1030.8,82.5 1038.8,78.08095238095238 L1075.3,57.91904761904762 Q1083.3,53.5 1083.3,61.5 L1083.3,295.0 Q1083.3,303.0 1075.3,307.32761904761907 L1038.8,327.0723809523809 Q1030.8,331.4 1030.8,323.4 Z" transform="translate(-5.25 -2.98)" fill="#a2a2a2"/><path d="M1030.8,90.5 Q1030.8,82.5 1038.8,78.08095238095238 L1075.3,57.91904761904762 Q1083.3,53.5 1083.3,61.5 L1083.3,295.0 Q1083.3,303.0 1075.3,307.32761904761907 L1038.8,327.0723809523809 Q1030.8,331.4 1030.8,323.4 Z" transform="translate(-4.50 -2.55)" fill="#a5a5a5"/><path d="M1030.8,90.5 Q1030.8,82.5 1038.8,78.08095238095238 L1075.3,57.91904761904762 Q1083.3,53.5 1083.3,61.5 L1083.3,295.0 Q1083.3,303.0 1075.3,307.32761904761907 L1038.8,327.0723809523809 Q1030.8,331.4 1030.8,323.4 Z" transform="translate(-3.75 -2.12)" fill="#a7a7a7"/><path d="M1030.8,90.5 Q1030.8,82.5 1038.8,78.08095238095238 L1075.3,57.91904761904762 Q1083.3,53.5 1083.3,61.5 L1083.3,295.0 Q1083.3,303.0 1075.3,307.32761904761907 L1038.8,327.0723809523809 Q1030.8,331.4 1030.8,323.4 Z" transform="translate(-3.00 -1.70)" fill="#aaaaaa"/><path d="M1030.8,90.5 Q1030.8,82.5 1038.8,78.08095238095238 L1075.3,57.91904761904762 Q1083.3,53.5 1083.3,61.5 L1083.3,295.0 Q1083.3,303.0 1075.3,307.32761904761907 L1038.8,327.0723809523809 Q1030.8,331.4 1030.8,323.4 Z" transform="translate(-2.25 -1.27)" fill="#acacac"/><path d="M1030.8,90.5 Q1030.8,82.5 1038.8,78.08095238095238 L1075.3,57.91904761904762 Q1083.3,53.5 1083.3,61.5 L1083.3,295.0 Q1083.3,303.0 1075.3,307.32761904761907 L1038.8,327.0723809523809 Q1030.8,331.4 1030.8,323.4 Z" transform="translate(-1.50 -0.85)" fill="#afafaf"/><path d="M1030.8,90.5 Q1030.8,82.5 1038.8,78.08095238095238 L1075.3,57.91904761904762 Q1083.3,53.5 1083.3,61.5 L1083.3,295.0 Q1083.3,303.0 1075.3,307.32761904761907 L1038.8,327.0723809523809 Q1030.8,331.4 1030.8,323.4 Z" transform="translate(-0.75 -0.42)" fill="#b1b1b1"/><path d="M1030.8,90.5 Q1030.8,82.5 1038.8,78.08095238095238 L1075.3,57.91904761904762 Q1083.3,53.5 1083.3,61.5 L1083.3,295.0 Q1083.3,303.0 1075.3,307.32761904761907 L1038.8,327.0723809523809 Q1030.8,331.4 1030.8,323.4 Z" fill="url(#faceR)"/>
<path d="M1054 40 L1054 64" fill="none" stroke="#000" stroke-width="3.3"/>
<circle cx="693.2" cy="116.6" r="3.6" fill="url(#nag)" stroke="#b85a55" stroke-width="0.5"/><circle cx="721.3" cy="121.9" r="3.6" fill="url(#nag)" stroke="#b85a55" stroke-width="0.5"/><circle cx="753.9" cy="151.6" r="3.6" fill="url(#nag)" stroke="#b85a55" stroke-width="0.5"/><circle cx="720.0" cy="168.2" r="3.6" fill="url(#nag)" stroke="#b85a55" stroke-width="0.5"/><circle cx="694.0" cy="169.4" r="3.6" fill="url(#nag)" stroke="#b85a55" stroke-width="0.5"/><circle cx="749.0" cy="187.1" r="3.6" fill="url(#nag)" stroke="#b85a55" stroke-width="0.5"/><circle cx="718.0" cy="213.6" r="3.6" fill="url(#nag)" stroke="#b85a55" stroke-width="0.5"/><circle cx="746.9" cy="221.8" r="3.6" fill="url(#nag)" stroke="#b85a55" stroke-width="0.5"/><circle cx="694.5" cy="213.6" r="3.6" fill="url(#nag)" stroke="#b85a55" stroke-width="0.5"/><circle cx="780.0" cy="214.8" r="3.6" fill="url(#nag)" stroke="#b85a55" stroke-width="0.5"/><circle cx="798.5" cy="236.7" r="3.6" fill="url(#nag)" stroke="#b85a55" stroke-width="0.5"/><circle cx="696.5" cy="263.1" r="3.6" fill="url(#nag)" stroke="#b85a55" stroke-width="0.5"/><circle cx="719.2" cy="261.4" r="3.6" fill="url(#nag)" stroke="#b85a55" stroke-width="0.5"/><circle cx="552.9" cy="271.4" r="3.6" fill="url(#nag)" stroke="#b85a55" stroke-width="0.5"/><circle cx="548.8" cy="220.2" r="3.6" fill="url(#nag)" stroke="#b85a55" stroke-width="0.5"/><circle cx="548.8" cy="175.6" r="3.6" fill="url(#nag)" stroke="#b85a55" stroke-width="0.5"/><circle cx="546.7" cy="122.7" r="3.6" fill="url(#nag)" stroke="#b85a55" stroke-width="0.5"/><circle cx="787.9" cy="176.6" r="3.6" fill="url(#nag)" stroke="#b85a55" stroke-width="0.5"/><circle cx="812.7" cy="190.5" r="3.6" fill="url(#nag)" stroke="#b85a55" stroke-width="0.5"/><circle cx="847.3" cy="184.0" r="3.6" fill="url(#nag)" stroke="#b85a55" stroke-width="0.5"/><circle cx="875.3" cy="206.3" r="3.6" fill="url(#nag)" stroke="#b85a55" stroke-width="0.5"/><circle cx="835.0" cy="216.4" r="3.6" fill="url(#nag)" stroke="#b85a55" stroke-width="0.5"/><circle cx="861.0" cy="237.2" r="3.6" fill="url(#nag)" stroke="#b85a55" stroke-width="0.5"/><circle cx="810.7" cy="148.8" r="3.6" fill="url(#nag)" stroke="#b85a55" stroke-width="0.5"/><circle cx="843.7" cy="152.5" r="3.6" fill="url(#nag)" stroke="#b85a55" stroke-width="0.5"/><circle cx="875.2" cy="145.8" r="3.6" fill="url(#nag)" stroke="#b85a55" stroke-width="0.5"/><circle cx="888.3" cy="125.2" r="3.6" fill="url(#nag)" stroke="#b85a55" stroke-width="0.5"/><circle cx="875.9" cy="145.8" r="3.6" fill="url(#nag)" stroke="#b85a55" stroke-width="0.5"/><circle cx="904.0" cy="107.5" r="3.6" fill="url(#nag)" stroke="#b85a55" stroke-width="0.5"/><circle cx="924.6" cy="125.2" r="3.6" fill="url(#nag)" stroke="#b85a55" stroke-width="0.5"/><circle cx="910.2" cy="136.8" r="3.6" fill="url(#nag)" stroke="#b85a55" stroke-width="0.5"/><circle cx="847.4" cy="183.8" r="3.6" fill="url(#nag)" stroke="#b85a55" stroke-width="0.5"/><circle cx="901.0" cy="163.2" r="3.6" fill="url(#nag)" stroke="#b85a55" stroke-width="0.5"/><circle cx="875.9" cy="206.1" r="3.6" fill="url(#nag)" stroke="#b85a55" stroke-width="0.5"/><circle cx="899.8" cy="185.9" r="3.6" fill="url(#nag)" stroke="#b85a55" stroke-width="0.5"/><circle cx="919.2" cy="197.4" r="3.6" fill="url(#nag)" stroke="#b85a55" stroke-width="0.5"/><circle cx="861.5" cy="236.6" r="3.6" fill="url(#nag)" stroke="#b85a55" stroke-width="0.5"/><circle cx="905.2" cy="241.6" r="3.6" fill="url(#nag)" stroke="#b85a55" stroke-width="0.5"/><circle cx="935.0" cy="229.2" r="3.6" fill="url(#nag)" stroke="#b85a55" stroke-width="0.5"/><circle cx="891.6" cy="276.6" r="3.6" fill="url(#nag)" stroke="#b85a55" stroke-width="0.5"/><circle cx="920.5" cy="269.2" r="3.6" fill="url(#nag)" stroke="#b85a55" stroke-width="0.5"/><circle cx="947.3" cy="121.0" r="3.6" fill="url(#nag)" stroke="#b85a55" stroke-width="0.5"/><circle cx="970.0" cy="123.0" r="3.6" fill="url(#nag)" stroke="#b85a55" stroke-width="0.5"/><circle cx="993.5" cy="131.0" r="3.6" fill="url(#nag)" stroke="#b85a55" stroke-width="0.5"/><circle cx="958.4" cy="150.8" r="3.6" fill="url(#nag)" stroke="#b85a55" stroke-width="0.5"/><circle cx="1018.3" cy="159.0" r="3.6" fill="url(#nag)" stroke="#b85a55" stroke-width="0.5"/><circle cx="1004.2" cy="172.2" r="3.6" fill="url(#nag)" stroke="#b85a55" stroke-width="0.5"/><circle cx="940.3" cy="187.9" r="3.6" fill="url(#nag)" stroke="#b85a55" stroke-width="0.5"/><circle cx="976.2" cy="203.2" r="3.6" fill="url(#nag)" stroke="#b85a55" stroke-width="0.5"/><circle cx="986.5" cy="223.0" r="3.6" fill="url(#nag)" stroke="#b85a55" stroke-width="0.5"/><circle cx="1009.2" cy="221.0" r="3.6" fill="url(#nag)" stroke="#b85a55" stroke-width="0.5"/><circle cx="974.1" cy="243.6" r="3.6" fill="url(#nag)" stroke="#b85a55" stroke-width="0.5"/><circle cx="988.6" cy="263.0" r="3.6" fill="url(#nag)" stroke="#b85a55" stroke-width="0.5"/><circle cx="1005.0" cy="263.4" r="3.6" fill="url(#nag)" stroke="#b85a55" stroke-width="0.5"/><circle cx="1020.3" cy="266.3" r="3.6" fill="url(#nag)" stroke="#b85a55" stroke-width="0.5"/><circle cx="963.8" cy="277.9" r="3.6" fill="url(#nag)" stroke="#b85a55" stroke-width="0.5"/><circle cx="981.1" cy="294.0" r="3.6" fill="url(#nag)" stroke="#b85a55" stroke-width="0.5"/>
<line x1="806" y1="114" x2="806" y2="289" stroke="#ffb400" stroke-width="4" stroke-dasharray="4.4 3.3"/>
<text x="776.20" y="95.50" font-size="18.50" fill="#c00000" textLength="62.10" lengthAdjust="spacingAndGlyphs">Charge</text>
<path d="M778 104.2 L829 104.2 L829 100.75 L836.5 107.5 L829 114.7 L829 110.8 L778 110.8 Z" fill="#c00000"/>
<text x="766.40" y="307.30" font-size="18.50" fill="#1a7ac8" textLength="85.10" lengthAdjust="spacingAndGlyphs">Discharge</text>
<path d="M833.7 315.3 L783 315.3 L783 311.8 L775.5 318.5 L783 325.9 L783 322.3 L833.7 322.3 Z" fill="#0a6fc6"/>
<text x="766.00" y="150.30" font-size="18.50" fill="#000" textLength="22.49" lengthAdjust="spacingAndGlyphs">Na</text>
<text x="789.00" y="145.00" font-size="13.00" fill="#000" textLength="7.70" lengthAdjust="spacingAndGlyphs">+</text>
<line x1="781.7" y1="157" x2="786" y2="171" stroke="#000" stroke-width="1.5"/>
<text x="716.10" y="251.10" font-size="18.50" fill="#000" textLength="84.19" lengthAdjust="spacingAndGlyphs">Separator</text>
<line x1="766.4" y1="255.3" x2="801.5" y2="271.9" stroke="#000" stroke-width="1.5"/>
<text x="489.50" y="186.00" font-size="18.50" fill="#000" textLength="16.10" lengthAdjust="spacingAndGlyphs">Al</text>
<line x1="502.7" y1="190.5" x2="519.9" y2="202.4" stroke="#000" stroke-width="1.5"/>
<text x="1095.80" y="179.70" font-size="18.50" fill="#000" textLength="16.60" lengthAdjust="spacingAndGlyphs">Al</text>
<line x1="1076.9" y1="201.6" x2="1097.8" y2="185.5" stroke="#000" stroke-width="1.5"/>
<text x="574.70" y="333.60" font-size="18.50" fill="#000" textLength="71.21" lengthAdjust="spacingAndGlyphs">NaFePB</text>
<text x="907.30" y="329.70" font-size="18.50" fill="#000" textLength="104.60" lengthAdjust="spacingAndGlyphs">Hard carbon</text>
<text x="471.80" y="69.00" font-size="27.00" fill="#000" font-weight="bold" textLength="14.00" lengthAdjust="spacingAndGlyphs">c</text>
<defs>
<filter id="soft" x="-5%" y="-5%" width="110%" height="110%"><feGaussianBlur stdDeviation="0.9"/></filter>
<filter id="glow" x="-50%" y="-50%" width="200%" height="200%"><feGaussianBlur stdDeviation="1.8"/></filter>
<filter id="noiseF" x="0" y="0" width="100%" height="100%"><feTurbulence type="fractalNoise" baseFrequency="0.05" numOctaves="3" seed="4" result="n"/><feColorMatrix type="matrix" values="0 0 0 0 0  0 0 0 0 0  0 0 0 0 0  0 0 0 2.2 -0.9"/><feComposite in="SourceGraphic" operator="in"/></filter>
<filter id="noiseG" x="0" y="0" width="100%" height="100%"><feTurbulence type="fractalNoise" baseFrequency="0.6" numOctaves="2" seed="2"/><feColorMatrix type="matrix" values="0 0 0 0 0  0 0 0 0 0  0 0 0 0 0  0 0 0 1.6 -0.5"/><feComposite in2="SourceGraphic" operator="in"/></filter>
<filter id="noiseL" x="0" y="0" width="100%" height="100%"><feTurbulence type="fractalNoise" baseFrequency="0.22" numOctaves="3" seed="21"/><feColorMatrix type="matrix" values="0 0 0 0 0.3  0 0 0 0 0.64  0 0 0 0 0.9  0 0 0 3.0 -1.5"/><feComposite in2="SourceGraphic" operator="in"/></filter>
<filter id="noiseP" x="0" y="0" width="100%" height="100%"><feTurbulence type="fractalNoise" baseFrequency="0.3" numOctaves="2" seed="9"/><feColorMatrix type="matrix" values="0 0 0 0 0.05  0 0 0 0 0.22  0 0 0 0 0.45  0 0 0 7 -3.4"/><feComposite in2="SourceGraphic" operator="in"/></filter>
<linearGradient id="floorg" x1="0" y1="0" x2="1" y2="0.3"><stop offset="0" stop-color="#1f8a52"/><stop offset="0.15" stop-color="#17784a"/><stop offset="0.3" stop-color="#2a8e5e"/><stop offset="0.7" stop-color="#1f8c54"/><stop offset="1" stop-color="#2a9460"/></linearGradient>
<linearGradient id="bluew" x1="0" y1="0" x2="0.4" y2="1"><stop offset="0" stop-color="#2458b4"/><stop offset="1" stop-color="#4a86d0"/></linearGradient>
<linearGradient id="liqg" x1="0" y1="0" x2="1" y2="0"><stop offset="0" stop-color="#7d825f"/><stop offset="0.1" stop-color="#6e7450"/><stop offset="0.3" stop-color="#5c6140"/><stop offset="0.5" stop-color="#565b3c"/><stop offset="0.7" stop-color="#5f6443"/><stop offset="0.9" stop-color="#707652"/><stop offset="1" stop-color="#808662"/></linearGradient>
<linearGradient id="liqv" x1="0" y1="0" x2="0" y2="1"><stop offset="0" stop-color="#c0c496" stop-opacity="0.6"/><stop offset="0.25" stop-color="#b8bc90" stop-opacity="0.2"/><stop offset="0.6" stop-color="#b8bc90" stop-opacity="0.05"/><stop offset="1" stop-color="#b8bc90" stop-opacity="0"/></linearGradient>
<radialGradient id="powg" cx="0.5" cy="0.45" r="0.55"><stop offset="0" stop-color="#2a86c6"/><stop offset="0.8" stop-color="#247cbc"/><stop offset="1" stop-color="#1e6aa6"/></radialGradient>
<linearGradient id="bgb" x1="0" y1="0" x2="0.3" y2="1"><stop offset="0" stop-color="#1e2122"/><stop offset="0.6" stop-color="#2a2226"/><stop offset="1" stop-color="#321f26"/></linearGradient>
<radialGradient id="bgglow" gradientUnits="userSpaceOnUse" cx="448" cy="335" r="140" gradientTransform="translate(448 335) scale(1 1.5) translate(-448 -335)"><stop offset="0" stop-color="#a89c9e" stop-opacity="1"/><stop offset="0.45" stop-color="#82767a" stop-opacity="0.75"/><stop offset="1" stop-color="#4a3e42" stop-opacity="0"/></radialGradient>
<linearGradient id="pouchg" x1="0" y1="0" x2="1" y2="1"><stop offset="0" stop-color="#dfe5e4" stop-opacity="0.55"/><stop offset="1" stop-color="#b4bebb" stop-opacity="0.55"/></linearGradient>
<pattern id="pcbdots" width="3.2" height="3.2" patternUnits="userSpaceOnUse"><circle cx="1.6" cy="1.6" r="0.6" fill="#b8d8a0"/></pattern>
</defs><clipPath id="clipA"><rect x="30" y="42" width="235" height="312"/></clipPath>
<g clip-path="url(#clipA)"><g filter="url(#soft)">
<rect x="30.0" y="42.0" width="235.0" height="312.0" fill="#e4e7e6"/>
<rect x="30.0" y="208.0" width="235.0" height="147.0" fill="url(#floorg)"/>
<rect x="30.0" y="208.0" width="235.0" height="147.0" fill="#0f6a40" filter="url(#noiseF)" opacity="0.5"/>
<rect x="30.0" y="42.0" width="14.4" height="41.0" fill="url(#bluew)"/>
<rect x="44.4" y="42.0" width="21.0" height="53.0" fill="#e2dfdc"/>
<rect x="65.4" y="42.0" width="46.0" height="11.0" fill="#2c5fb0"/>
<rect x="65.4" y="53.0" width="46.0" height="2.0" fill="#d6d8d8"/>
<rect x="69.0" y="54.0" width="43.0" height="33.0" fill="#34393e"/>
<rect x="96.0" y="54.0" width="3.0" height="33.0" fill="#cfd2d2"/>
<rect x="69.0" y="85.0" width="42.0" height="10.0" fill="#c4c8c8"/>
<rect x="30.0" y="83.0" width="14.4" height="9.0" fill="#dcdfe2"/>
<rect x="30.0" y="91.0" width="14.4" height="5.0" fill="#4a5056"/>
<path d="M110 42 L142 42 L142 65 L110 65 Z" fill="#c9cdca"/>
<path d="M92 96 Q90 72 112 62 L160 56 L160 96 Z" fill="#a9b0aa"/>
<path d="M96 84 Q104 76 160 75 L160 88 Q112 88 98 92 Z" fill="#97a290"/>
<path d="M94 82 Q100 70 138 67 L160 66" fill="none" stroke="#d4d8d4" stroke-width="6"/>
<path d="M95 93 Q110 88 160 88" fill="none" stroke="#ccd0cc" stroke-width="5"/>
<path d="M94 82 Q92 88 95 94" fill="none" stroke="#e0e4e0" stroke-width="2"/>
<rect x="138.0" y="47.0" width="17.0" height="14.0" fill="#25272a"/>
<rect x="142.0" y="62.0" width="18.0" height="30.0" fill="#9ea39f"/>
<rect x="114.0" y="42.0" width="3.0" height="24.0" fill="#e8ebe8"/>
<rect x="77.0" y="42.0" width="8.0" height="55.0" fill="#aeb3b0"/>
<rect x="79.0" y="42.0" width="2.0" height="55.0" fill="#e4e7e5"/>
<rect x="30.0" y="95.0" width="132.0" height="9.0" fill="#7a817e"/>
<rect x="30.0" y="99.5" width="132.0" height="4.5" fill="#3a8a6c"/>
<rect x="30.0" y="95.5" width="132.0" height="1.5" fill="#a8aeab"/>
<rect x="30.0" y="104.0" width="15.0" height="22.0" fill="#596066"/>
<rect x="30.0" y="126.0" width="14.0" height="26.0" fill="#4a5054"/>
<rect x="44.0" y="104.0" width="33.0" height="40.0" fill="#eceeed"/>
<path d="M30 106 L77 121 L76 127 L30 112 Z" fill="#9aa09c"/>
<rect x="38.0" y="121.0" width="10.0" height="17.0" fill="#5c6264"/>
<rect x="30.0" y="126.0" width="8.0" height="30.0" fill="#70777a"/>
<path d="M76 142 L86 124 Q96 110 112 106 L160 104 L160 142 Z" fill="#9aa49a"/>
<path d="M90 118 Q110 112 160 112" fill="none" stroke="#d8ded8" stroke-width="1.6"/>
<path d="M84 128 Q110 120 160 120" fill="none" stroke="#8a948a" stroke-width="1.6"/>
<path d="M80 134 Q110 128 160 128" fill="none" stroke="#c8d0c8" stroke-width="1.4"/>
<path d="M100 114 L78 140" stroke="#b8c8d8" stroke-width="1"/>
<rect x="118.0" y="126.0" width="6.0" height="6.0" fill="#e4e8e0"/>
<rect x="45.0" y="106.0" width="60.0" height="4.0" fill="#8c928f"/>
<rect x="62.0" y="110.0" width="10.0" height="7.0" fill="#2a2e30"/>
<rect x="86.0" y="110.0" width="6.0" height="20.0" fill="#7c8480"/>
<rect x="146.0" y="104.0" width="3.0" height="80.0" fill="#d5d9d5"/>
<rect x="76.0" y="137.0" width="141.0" height="44.0" fill="#aab0a8"/>
<rect x="76.0" y="136.0" width="141.0" height="3.0" fill="#5e6a62"/>
<rect x="100.0" y="143.0" width="12.0" height="19.0" fill="#4c5256"/>
<rect x="114.0" y="143.0" width="14.0" height="19.0" fill="#565c60"/>
<rect x="150.0" y="143.0" width="10.0" height="19.0" fill="#70767a"/>
<rect x="163.0" y="143.0" width="11.0" height="19.0" fill="#5e6468"/>
<rect x="186.0" y="143.0" width="11.0" height="19.0" fill="#5a6064"/>
<rect x="84.0" y="138.0" width="1.6" height="42.0" fill="#d8dcd6" opacity="0.6"/>
<rect x="90.0" y="138.0" width="1.6" height="42.0" fill="#d8dcd6" opacity="0.6"/>
<rect x="105.0" y="138.0" width="1.6" height="42.0" fill="#d8dcd6" opacity="0.6"/>
<rect x="128.0" y="138.0" width="1.6" height="42.0" fill="#d8dcd6" opacity="0.6"/>
<rect x="140.0" y="138.0" width="1.6" height="42.0" fill="#d8dcd6" opacity="0.6"/>
<rect x="157.0" y="138.0" width="1.6" height="42.0" fill="#d8dcd6" opacity="0.6"/>
<rect x="172.0" y="138.0" width="1.6" height="42.0" fill="#d8dcd6" opacity="0.6"/>
<rect x="181.0" y="138.0" width="1.6" height="42.0" fill="#d8dcd6" opacity="0.6"/>
<rect x="198.0" y="138.0" width="1.6" height="42.0" fill="#d8dcd6" opacity="0.6"/>
<rect x="212.0" y="138.0" width="1.6" height="42.0" fill="#d8dcd6" opacity="0.6"/>
<rect x="88.0" y="138.0" width="1.6" height="42.0" fill="#6a706a" opacity="0.6"/>
<rect x="110.0" y="138.0" width="1.6" height="42.0" fill="#6a706a" opacity="0.6"/>
<rect x="133.0" y="138.0" width="1.6" height="42.0" fill="#6a706a" opacity="0.6"/>
<rect x="160.0" y="138.0" width="1.6" height="42.0" fill="#6a706a" opacity="0.6"/>
<rect x="193.0" y="138.0" width="1.6" height="42.0" fill="#6a706a" opacity="0.6"/>
<rect x="207.0" y="138.0" width="1.6" height="42.0" fill="#6a706a" opacity="0.6"/>
<rect x="93.0" y="139.0" width="4.0" height="42.0" fill="#8d938c"/>
<rect x="205.0" y="139.0" width="5.0" height="42.0" fill="#8d938c"/>
<rect x="135.0" y="139.0" width="2.0" height="40.0" fill="#aab0a8"/>
<rect x="178.0" y="139.0" width="2.0" height="40.0" fill="#e6eae6"/>
<rect x="30.0" y="137.0" width="46.0" height="72.0" fill="#e8ebea"/>
<rect x="30.0" y="137.0" width="3.0" height="72.0" fill="#b8bebc"/>
<rect x="32.0" y="170.0" width="16.0" height="15.0" fill="#2e3944"/>
<rect x="38.0" y="173.0" width="6.0" height="2.0" fill="#b0b8c0"/>
<rect x="48.0" y="187.0" width="3.0" height="30.0" fill="#f2f4f4"/>
<path d="M47 150 Q50 144 58 146 Q64 160 68 182 Q72 200 76 216" fill="none" stroke="#4e5652" stroke-width="6"/>
<path d="M49 148 Q52 145 57 147 Q62 160 66 182" fill="none" stroke="#8a948f" stroke-width="1.2"/>
<rect x="58.0" y="142.0" width="13.0" height="11.0" fill="#6c7672"/>
<rect x="70.0" y="143.0" width="8.0" height="8.0" fill="#bc9c52"/>
<rect x="217.0" y="142.0" width="48.0" height="67.0" fill="#e9eceb"/>
<rect x="219.0" y="145.0" width="13.0" height="16.0" fill="#4a5054"/>
<rect x="237.0" y="145.0" width="28.0" height="18.0" fill="#3a3e42"/>
<rect x="220.0" y="170.0" width="14.0" height="15.0" fill="#2e3944"/>
<rect x="234.0" y="190.0" width="2.0" height="20.0" fill="#b0b6b4"/>
<path d="M38 222 L72.6 221 L37 257 L33 257 L33 240 Z" fill="#a4a8a4"/>
<path d="M72.6 221 L37 256 L40 258 L74 223 Z" fill="#1e5a40"/>
<rect x="30.0" y="137.0" width="3.5" height="217.0" fill="#7c8480"/>
<rect x="34.0" y="137.0" width="3.0" height="217.0" fill="#a8b0ac"/>
<rect x="37.0" y="150.0" width="3.0" height="120.0" fill="#6a7270"/>
<path d="M214 226 L224 226 L245 257 L245 263 L236 263 L214 238 Z" fill="#dfe2e0"/>
<rect x="213.0" y="248.0" width="15.0" height="58.0" fill="#a2a8a6"/>
<rect x="226.0" y="300.0" width="30.0" height="54.0" fill="#cdd2d0"/>
<rect x="255.0" y="42.0" width="8.0" height="312.0" fill="#8fa49a"/>
<rect x="257.5" y="42.0" width="2.0" height="312.0" fill="#c4d4cc"/>
<rect x="96.0" y="338.0" width="100.0" height="18.0" fill="#7c8680"/>
<path d="M96 330 Q146 342 196 330 L192 346 Q146 358 100 346 Z" fill="#d8dbda"/>
<path d="M78 182 Q146 168 214 180 L214 192 L78 192 Z" fill="#70745a"/>
<ellipse cx="134" cy="177" rx="8" ry="4" fill="#e2e5e8"/>
<path d="M140 176 L162 178 L142 181 Z" fill="#c0c6c0"/>
<path d="M78 185 Q146 190 214 185 L214 272 C214 326 184 345 146 345 C108 345 78 326 78 272 Z" fill="url(#liqg)"/>
<path d="M78 185 Q146 190 214 185 L214 272 C214 326 184 345 146 345 C108 345 78 326 78 272 Z" fill="url(#liqv)"/>
<path d="M78 185 Q146 190 214 185 L214 272 C214 326 184 345 146 345 C108 345 78 326 78 272 Z" fill="#4a5030" filter="url(#noiseF)" opacity="0.12"/>
<path d="M78 186 Q146 193 214 186" fill="none" stroke="#9a9e74" stroke-width="3"/>
<rect x="121.0" y="216.0" width="49.0" height="1.4" fill="#454a32" opacity="0.55"/>
<rect x="134.0" y="227.0" width="26.0" height="1.4" fill="#454a32" opacity="0.55"/>
<rect x="121.0" y="237.0" width="49.0" height="1.4" fill="#454a32" opacity="0.55"/>
<rect x="134.0" y="248.0" width="26.0" height="1.4" fill="#454a32" opacity="0.55"/>
<rect x="121.0" y="258.0" width="49.0" height="1.4" fill="#454a32" opacity="0.55"/>
<rect x="134.0" y="269.0" width="26.0" height="1.4" fill="#454a32" opacity="0.55"/>
<rect x="121.0" y="279.0" width="49.0" height="1.4" fill="#454a32" opacity="0.55"/>
<rect x="134.0" y="290.0" width="26.0" height="1.4" fill="#454a32" opacity="0.55"/>
<rect x="121.0" y="300.0" width="49.0" height="1.4" fill="#454a32" opacity="0.55"/>
<rect x="134.0" y="311.0" width="26.0" height="1.4" fill="#454a32" opacity="0.55"/>
<rect x="121.0" y="321.0" width="49.0" height="1.4" fill="#454a32" opacity="0.55"/>
<rect x="146.0" y="190.0" width="1.2" height="150.0" fill="#4a5036" opacity="0.4"/>
<rect x="78.0" y="186.0" width="2.0" height="118.0" fill="#b6bc9a" opacity="0.8"/>
<rect x="80.0" y="186.0" width="9.0" height="118.0" fill="#8a8f64" opacity="0.5"/>
<rect x="204.0" y="186.0" width="10.0" height="118.0" fill="#8a8f66" opacity="0.5"/>
<rect x="40.0" y="303.0" width="42.0" height="4.0" fill="#aab0ac"/>
<rect x="208.0" y="303.0" width="20.0" height="4.0" fill="#aab0ac"/>
<rect x="54.0" y="327.0" width="44.0" height="4.0" fill="#b4bab6"/>
<rect x="194.0" y="327.0" width="44.0" height="4.0" fill="#b4bab6"/>
<rect x="86.0" y="322.0" width="12.0" height="13.0" fill="#e2e4e3"/>
<rect x="192.0" y="322.0" width="14.0" height="13.0" fill="#e2e4e3"/>
<path d="M80 288 L52 356" stroke="#a4aaa6" stroke-width="4"/>
<path d="M212 288 L240 356" stroke="#949a96" stroke-width="4"/>
<path d="M222 282 L262 316" stroke="#b8bdba" stroke-width="1.2"/>
</g></g>
<rect x="158.7" y="40.7" width="107.0" height="102.8" fill="#f2f2f2"/>
<rect x="160.2" y="42.2" width="103.7" height="99.1" fill="#12161e"/>
<ellipse cx="212.2" cy="90.7" rx="50.5" ry="49.4" fill="#4a5a68"/>
<ellipse cx="212.2" cy="90.7" rx="49.3" ry="48.2" fill="#1c2836"/>
<path d="M222 43 A50 49 0 0 1 262 92 L256 94 A45 45 0 0 0 220 49 Z" fill="#5a6c7c" opacity="0.6"/>
<ellipse cx="211" cy="92.5" rx="48" ry="46.2" fill="url(#powg)"/>
<ellipse cx="211" cy="92.5" rx="48" ry="46.2" fill="#000" filter="url(#noiseP)" opacity="0.9"/>
<ellipse cx="211" cy="92.5" rx="48" ry="46.2" fill="#000" filter="url(#noiseL)" opacity="0.3"/>
<path d="M166 112 A48.5 47 0 0 0 252 118" fill="none" stroke="#c0a868" stroke-width="1" opacity="0.7"/>
<text x="38.90" y="68.90" font-size="28.00" fill="#000" font-weight="bold" textLength="13.43" lengthAdjust="spacingAndGlyphs">a</text><clipPath id="clipB"><rect x="266.5" y="42" width="171" height="312"/></clipPath>
<g clip-path="url(#clipB)"><g filter="url(#soft)">
<rect x="266.0" y="42.0" width="172.0" height="312.0" fill="url(#bgb)"/>
<rect x="266.0" y="42.0" width="172.0" height="312.0" fill="url(#bgglow)"/>
<rect x="266.0" y="42.0" width="172.0" height="312.0" fill="#000" filter="url(#noiseG)" opacity="0.35"/>
<path d="M295.4 58 L419 51.5 L421.5 170 L271 164.3 Z" fill="#c4ccca"/>
<path d="M398 56 L419 51.5 L421.5 170 L398 166 Z" fill="#cdd4d2"/>
<path d="M401 55 L402 166" stroke="#e6eaea" stroke-width="1.6"/>
<path d="M405 55 L406 166" stroke="#b2bcba" stroke-width="1.6"/>
<path d="M409 55 L410 166" stroke="#e2e7e6" stroke-width="1.6"/>
<path d="M414 55 L415 166" stroke="#b8c2c0" stroke-width="1.6"/>
<path d="M418 55 L419 166" stroke="#e0e5e4" stroke-width="1.6"/>
<path d="M300 60.5 L398 59.5 L398 147 L284.3 147.5 Z" fill="#c6cfcc"/>
<path d="M300 60.5 L398 59.5 L398 147 L284.3 147.5 Z" fill="url(#pouchg)"/>
<path d="M300 60.5 L398 59.5" stroke="#e8ecec" stroke-width="1.5"/>
<path d="M300 61 L284.3 147.5" stroke="#e4e9e8" stroke-width="2"/>
<path d="M284 148 L398 147 L400 152 L282 154 Z" fill="#e6ebea"/>
<path d="M282 156 L404 155 L404 159 L280 160 Z" fill="#a8b2b0"/>
<rect x="296.5" y="165.0" width="28.0" height="15.0" fill="#c2c9cb"/>
<rect x="348.9" y="165.0" width="36.7" height="17.0" fill="#c6cdcf"/>
<rect x="352.0" y="169.0" width="30.0" height="6.0" fill="#e2e6e8"/>
<path d="M305 175 Q310 176 314 182 L298 203 L290 214 L284 218 L281 214 L285 206 L294 194 Z" fill="#d01c26"/>
<path d="M300 186 L288 204" stroke="#f27a82" stroke-width="1.6"/>
<path d="M284 212 L266 240" stroke="#e02830" stroke-width="2.6"/>
<path d="M290 206 L306 183" stroke="#f07078" stroke-width="1.2"/>
<path d="M386 176 L400 176 L425 185 L437 190 L437 198 L420 192 L395 183 Z" fill="#0e0c0e"/>
<path d="M398 178 L424 188" stroke="#50484c" stroke-width="1"/>
<path d="M420 190 L436 196" stroke="#a01820" stroke-width="1.2"/>
<rect x="382.0" y="174.0" width="6.0" height="5.0" fill="#d4d4d4"/>
<rect x="305.0" y="175.0" width="6.0" height="5.0" fill="#d4d4d4"/>
<path d="M311 180 Q336 196 339 212 Q341 228 330 244 Q318 258 317 266" fill="none" stroke="#c07092" stroke-width="1.6"/>
<path d="M313 293 Q306 322 316 336 Q328 348 343 337 Q359 318 359 290" fill="none" stroke="#c07494" stroke-width="1.6"/>
<path d="M384 180 Q362 200 348 222" fill="none" stroke="#4a4044" stroke-width="1"/>
<path d="M270 335 L330 286" stroke="#55484c" stroke-width="0.8"/>
<path d="M308 264 L421.9 256.8 L421.9 284.5 L308.7 294.3 Z" fill="#2e9c46"/>
<path d="M308 264 L421.9 256.8 L421.9 284.5 L308.7 294.3 Z" fill="url(#pcbdots)"/>
<path d="M309 279 L421 271" stroke="#9ad08a" stroke-width="0.6"/>
<path d="M325 263 L324 293" stroke="#9ad08a" stroke-width="0.6"/>
<path d="M342 263 L341 293" stroke="#9ad08a" stroke-width="0.6"/>
<path d="M359 263 L358 293" stroke="#9ad08a" stroke-width="0.6"/>
<path d="M376 263 L375 293" stroke="#9ad08a" stroke-width="0.6"/>
<path d="M393 263 L392 293" stroke="#9ad08a" stroke-width="0.6"/>
<path d="M410 263 L409 293" stroke="#9ad08a" stroke-width="0.6"/>
</g>
<g filter="url(#glow)">
<circle cx="322.6" cy="269.3" r="4.2" fill="#ff2a3a"/>
<circle cx="322.6" cy="275.2" r="4.2" fill="#ff2a3a"/>
<circle cx="322.6" cy="281.4" r="4.2" fill="#ff2a3a"/>
<circle cx="325.3" cy="287.7" r="4.2" fill="#ff2a3a"/>
<circle cx="331.6" cy="290.2" r="4.2" fill="#ff2a3a"/>
<circle cx="336.9" cy="287.2" r="4.2" fill="#ff2a3a"/>
<circle cx="339.6" cy="281.0" r="4.2" fill="#ff2a3a"/>
<circle cx="339.6" cy="274.8" r="4.2" fill="#ff2a3a"/>
<circle cx="339.6" cy="268.4" r="4.2" fill="#ff2a3a"/>
<circle cx="353.0" cy="268.0" r="4.2" fill="#ff2a3a"/>
<circle cx="358.0" cy="264.0" r="4.2" fill="#ff2a3a"/>
<circle cx="363.8" cy="267.5" r="4.2" fill="#ff2a3a"/>
<circle cx="367.3" cy="272.9" r="4.2" fill="#ff2a3a"/>
<circle cx="367.3" cy="278.2" r="4.2" fill="#ff2a3a"/>
<circle cx="365.2" cy="284.5" r="4.2" fill="#ff2a3a"/>
<circle cx="359.3" cy="288.0" r="4.2" fill="#ff2a3a"/>
<circle cx="350.7" cy="279.1" r="4.2" fill="#ff2a3a"/>
<circle cx="350.3" cy="273.8" r="4.2" fill="#ff2a3a"/>
<circle cx="377.2" cy="266.6" r="4.2" fill="#ff2a3a"/>
<circle cx="380.8" cy="272.0" r="4.2" fill="#ff2a3a"/>
<circle cx="384.3" cy="277.3" r="4.2" fill="#ff2a3a"/>
<circle cx="390.6" cy="282.7" r="4.2" fill="#ff2a3a"/>
<circle cx="393.3" cy="277.0" r="4.2" fill="#ff2a3a"/>
<circle cx="395.0" cy="271.1" r="4.2" fill="#ff2a3a"/>
<circle cx="396.9" cy="264.5" r="4.2" fill="#ff2a3a"/>
<circle cx="400.4" cy="270.2" r="4.2" fill="#ff2a3a"/>
<circle cx="404.0" cy="276.4" r="4.2" fill="#ff2a3a"/>
<circle cx="407.6" cy="281.8" r="4.2" fill="#ff2a3a"/>
<circle cx="412.0" cy="275.5" r="4.2" fill="#ff2a3a"/>
<circle cx="414.2" cy="269.3" r="4.2" fill="#ff2a3a"/>
<circle cx="416.5" cy="263.4" r="4.2" fill="#ff2a3a"/>
</g>
<circle cx="322.6" cy="269.3" r="2.3" fill="#ffe4e6"/>
<circle cx="322.6" cy="275.2" r="2.3" fill="#ffe4e6"/>
<circle cx="322.6" cy="281.4" r="2.3" fill="#ffe4e6"/>
<circle cx="325.3" cy="287.7" r="2.3" fill="#ffe4e6"/>
<circle cx="331.6" cy="290.2" r="2.3" fill="#ffe4e6"/>
<circle cx="336.9" cy="287.2" r="2.3" fill="#ffe4e6"/>
<circle cx="339.6" cy="281.0" r="2.3" fill="#ffe4e6"/>
<circle cx="339.6" cy="274.8" r="2.3" fill="#ffe4e6"/>
<circle cx="339.6" cy="268.4" r="2.3" fill="#ffe4e6"/>
<circle cx="353.0" cy="268.0" r="2.3" fill="#ffe4e6"/>
<circle cx="358.0" cy="264.0" r="2.3" fill="#ffe4e6"/>
<circle cx="363.8" cy="267.5" r="2.3" fill="#ffe4e6"/>
<circle cx="367.3" cy="272.9" r="2.3" fill="#ffe4e6"/>
<circle cx="367.3" cy="278.2" r="2.3" fill="#ffe4e6"/>
<circle cx="365.2" cy="284.5" r="2.3" fill="#ffe4e6"/>
<circle cx="359.3" cy="288.0" r="2.3" fill="#ffe4e6"/>
<circle cx="350.7" cy="279.1" r="2.3" fill="#ffe4e6"/>
<circle cx="350.3" cy="273.8" r="2.3" fill="#ffe4e6"/>
<circle cx="377.2" cy="266.6" r="2.3" fill="#ffe4e6"/>
<circle cx="380.8" cy="272.0" r="2.3" fill="#ffe4e6"/>
<circle cx="384.3" cy="277.3" r="2.3" fill="#ffe4e6"/>
<circle cx="390.6" cy="282.7" r="2.3" fill="#ffe4e6"/>
<circle cx="393.3" cy="277.0" r="2.3" fill="#ffe4e6"/>
<circle cx="395.0" cy="271.1" r="2.3" fill="#ffe4e6"/>
<circle cx="396.9" cy="264.5" r="2.3" fill="#ffe4e6"/>
<circle cx="400.4" cy="270.2" r="2.3" fill="#ffe4e6"/>
<circle cx="404.0" cy="276.4" r="2.3" fill="#ffe4e6"/>
<circle cx="407.6" cy="281.8" r="2.3" fill="#ffe4e6"/>
<circle cx="412.0" cy="275.5" r="2.3" fill="#ffe4e6"/>
<circle cx="414.2" cy="269.3" r="2.3" fill="#ffe4e6"/>
<circle cx="416.5" cy="263.4" r="2.3" fill="#ffe4e6"/>
</g>
<text x="273.30" y="69.20" font-size="28.00" fill="#ffffff" font-weight="bold" textLength="14.90" lengthAdjust="spacingAndGlyphs">b</text>
<path d="M102.50 444.40 L112.20 467.10 L114.03 467.32 L115.87 467.53 L117.71 467.74 L119.56 467.94 L121.41 468.13 L123.26 468.32 L125.11 468.51 L126.97 468.69 L128.83 468.87 L130.69 469.04 L132.55 469.21 L134.42 469.37 L136.29 469.54 L138.16 469.69 L140.04 469.85 L141.91 470.00 L143.79 470.16 L145.67 470.31 L147.55 470.45 L149.44 470.60 L151.32 470.74 L153.21 470.89 L155.10 471.03 L156.98 471.17 L158.87 471.32 L160.77 471.46 L162.66 471.60 L164.55 471.74 L166.45 471.89 L168.34 472.03 L170.23 472.18 L172.13 472.33 L174.03 472.47 L175.92 472.63 L177.82 472.78 L179.71 472.93 L181.61 473.09 L183.51 473.25 L185.40 473.42 L187.30 473.59 L189.19 473.76 L191.08 473.93 L192.98 474.11 L194.87 474.30 L196.76 474.49 L198.65 474.68 L200.54 474.88 L202.43 475.08 L204.32 475.29 L206.20 475.51 L208.08 475.73 L209.97 475.96 L211.85 476.19 L213.72 476.44 L215.60 476.69 L217.47 476.94 L219.35 477.21 L221.22 477.48 L223.08 477.76 L224.95 478.05 L226.81 478.35 L228.67 478.65 L230.53 478.97 L232.38 479.30 L234.23 479.63 L236.08 479.98 L237.92 480.33 L239.77 480.70 L241.60 481.07 L243.44 481.46 L245.27 481.86 L247.09 482.27 L248.92 482.69 L250.74 483.12 L252.55 483.57 L254.36 484.03 L256.17 484.50 L257.97 484.98 L259.77 485.48 L261.56 485.99 L263.35 486.51 L265.13 487.05 L266.91 487.60 L268.69 488.17 L270.46 488.75 L272.22 489.34 L273.98 489.95 L275.73 490.58 L277.48 491.22 L279.22 491.88 L280.95 492.55 L282.68 493.24 L284.41 493.95 L286.13 494.68 L287.84 495.42 L289.54 496.17 L291.24 496.95 L292.94 497.75 L294.62 498.56 L296.30 499.39 L297.98 500.23 L299.65 501.09 L301.31 501.97 L302.96 502.86 L304.61 503.76 L306.26 504.68 L307.90 505.62 L309.54 506.56 L311.16 507.52 L312.79 508.49 L314.41 509.47 L316.02 510.47 L317.63 511.47 L319.24 512.48 L320.84 513.50 L322.44 514.54 L324.03 515.57 L325.62 516.62 L327.21 517.68 L328.79 518.74 L330.37 519.80 L331.94 520.88 L333.51 521.96 L335.08 523.04 L336.64 524.13 L338.20 525.22 L339.76 526.31 L341.31 527.41 L342.86 528.52 L344.40 529.64 L345.93 530.76 L347.45 531.89 L348.97 533.03 L350.47 534.18 L351.96 535.35 L353.44 536.52 L354.91 537.71 L356.36 538.91 L357.80 540.13 L359.22 541.36 L360.63 542.60 L362.02 543.87 L363.39 545.15 L364.74 546.44 L366.08 547.76 L367.39 549.08 L368.68 550.43 L369.95 551.80 L371.20 553.18 L372.42 554.58 L373.62 555.99 L374.80 557.43 L375.95 558.88 L377.07 560.35 L378.17 561.84 L379.24 563.35 L380.29 564.88 L381.30 566.43 L382.28 567.99 L383.24 569.58 L384.16 571.18 L385.05 572.81 L385.91 574.45 L386.74 576.12 L387.53 577.80 L388.29 579.51 L389.02 581.23 L389.71 582.97 L390.37 584.73 L391.00 586.51 L391.60 588.30 L392.17 590.11 L392.72 591.93 L393.24 593.76 L393.74 595.60 L394.21 597.45 L394.66 599.32 L395.08 601.19 L395.49 603.07 L395.87 604.95 L396.24 606.84 L396.59 608.73 L396.92 610.63 L397.24 612.53 L397.54 614.43 L397.83 616.33 L398.10 618.23 L398.36 620.13 L398.62 622.02 L398.86 623.91 L399.10 625.80 L399.32 627.68 L399.55 629.56 L399.76 631.42 L399.97 633.28 L400.18 635.13 L400.39 636.96 L400.59 638.79 L400.80 640.60" fill="none" stroke="#000000" stroke-width="2.00" stroke-linejoin="round" stroke-linecap="butt"/>
<path d="M102.40 637.00 L112.00 538.40 L113.36 537.70 L114.71 537.00 L116.07 536.29 L117.42 535.58 L118.78 534.86 L120.13 534.14 L121.48 533.42 L122.83 532.69 L124.18 531.96 L125.53 531.23 L126.87 530.49 L128.22 529.75 L129.57 529.01 L130.91 528.27 L132.26 527.52 L133.61 526.77 L134.95 526.02 L136.30 525.26 L137.64 524.51 L138.99 523.75 L140.33 522.99 L141.67 522.23 L143.02 521.47 L144.36 520.71 L145.71 519.95 L147.05 519.19 L148.40 518.43 L149.74 517.66 L151.09 516.90 L152.44 516.14 L153.78 515.38 L155.13 514.62 L156.48 513.86 L157.83 513.10 L159.18 512.34 L160.53 511.58 L161.88 510.83 L163.23 510.07 L164.59 509.32 L165.94 508.57 L167.30 507.83 L168.65 507.08 L170.01 506.34 L171.37 505.60 L172.73 504.86 L174.09 504.13 L175.46 503.40 L176.82 502.67 L178.19 501.95 L179.56 501.23 L180.93 500.51 L182.30 499.80 L183.67 499.09 L185.05 498.39 L186.42 497.69 L187.80 497.00 L189.19 496.31 L190.57 495.63 L191.96 494.95 L193.34 494.28 L194.74 493.61 L196.13 492.95 L197.52 492.29 L198.92 491.65 L200.32 491.00 L201.73 490.37 L203.13 489.74 L204.54 489.12 L205.95 488.51 L207.37 487.90 L208.78 487.30 L210.20 486.71 L211.63 486.12 L213.05 485.55 L214.48 484.98 L215.91 484.42 L217.35 483.87 L218.79 483.33 L220.23 482.79 L221.67 482.26 L223.12 481.74 L224.57 481.23 L226.02 480.73 L227.48 480.23 L228.93 479.74 L230.40 479.26 L231.86 478.78 L233.32 478.32 L234.79 477.86 L236.26 477.41 L237.73 476.96 L239.21 476.53 L240.69 476.10 L242.17 475.68 L243.65 475.26 L245.13 474.85 L246.62 474.45 L248.10 474.06 L249.59 473.67 L251.09 473.30 L252.58 472.92 L254.08 472.56 L255.57 472.20 L257.07 471.85 L258.57 471.51 L260.08 471.17 L261.58 470.84 L263.09 470.52 L264.59 470.20 L266.10 469.89 L267.61 469.59 L269.12 469.30 L270.64 469.01 L272.15 468.72 L273.67 468.45 L275.18 468.18 L276.70 467.92 L278.22 467.66 L279.74 467.41 L281.26 467.17 L282.79 466.93 L284.31 466.70 L285.83 466.47 L287.36 466.25 L288.88 466.04 L290.41 465.84 L291.94 465.64 L293.47 465.44 L295.00 465.25 L296.53 465.07 L298.06 464.90 L299.59 464.73 L301.12 464.56 L302.65 464.40 L304.18 464.25 L305.71 464.10 L307.24 463.96 L308.78 463.83 L310.31 463.70 L311.84 463.58 L313.38 463.46 L314.91 463.34 L316.44 463.23 L317.98 463.12 L319.51 463.02 L321.05 462.91 L322.58 462.81 L324.12 462.70 L325.66 462.60 L327.20 462.49 L328.73 462.37 L330.28 462.26 L331.82 462.13 L333.36 462.01 L334.90 461.87 L336.45 461.73 L338.00 461.58 L339.54 461.42 L341.09 461.25 L342.64 461.06 L344.20 460.87 L345.75 460.66 L347.29 460.44 L348.84 460.21 L350.38 459.96 L351.92 459.69 L353.46 459.41 L354.99 459.11 L356.51 458.79 L358.02 458.45 L359.53 458.08 L361.02 457.69 L362.50 457.27 L363.97 456.83 L365.43 456.36 L366.87 455.85 L368.29 455.32 L369.69 454.74 L371.08 454.14 L372.44 453.49 L373.78 452.81 L375.10 452.08 L376.39 451.31 L377.66 450.50 L378.90 449.64 L380.12 448.74 L381.32 447.82 L382.51 446.86 L383.69 445.89 L384.86 444.91 L386.02 443.91 L387.19 442.92 L388.36 441.94 L389.54 440.96 L390.73 440.01 L391.94 439.08 L393.17 438.18 L394.42 437.32 L395.70 436.50" fill="none" stroke="#000000" stroke-width="2.00" stroke-linejoin="round" stroke-linecap="butt"/>
<path d="M102.50 444.40 L112.20 470.40 L113.92 470.58 L115.64 470.76 L117.36 470.93 L119.09 471.10 L120.82 471.25 L122.55 471.41 L124.28 471.55 L126.02 471.69 L127.75 471.83 L129.49 471.96 L131.23 472.09 L132.97 472.21 L134.72 472.33 L136.46 472.45 L138.21 472.56 L139.95 472.67 L141.70 472.78 L143.45 472.89 L145.20 473.00 L146.95 473.11 L148.70 473.21 L150.45 473.32 L152.21 473.42 L153.96 473.53 L155.71 473.64 L157.47 473.74 L159.22 473.85 L160.97 473.97 L162.73 474.08 L164.48 474.20 L166.23 474.32 L167.98 474.44 L169.73 474.57 L171.49 474.70 L173.24 474.83 L174.98 474.97 L176.73 475.12 L178.48 475.27 L180.23 475.43 L181.97 475.59 L183.71 475.76 L185.46 475.94 L187.20 476.12 L188.93 476.32 L190.67 476.52 L192.41 476.72 L194.14 476.94 L195.87 477.17 L197.60 477.40 L199.32 477.65 L201.05 477.91 L202.77 478.17 L204.49 478.45 L206.20 478.74 L207.92 479.04 L209.63 479.35 L211.33 479.67 L213.04 480.01 L214.74 480.36 L216.44 480.72 L218.13 481.10 L219.82 481.49 L221.51 481.89 L223.19 482.30 L224.87 482.73 L226.55 483.16 L228.23 483.61 L229.90 484.08 L231.57 484.55 L233.23 485.04 L234.89 485.53 L236.55 486.04 L238.20 486.57 L239.85 487.10 L241.50 487.65 L243.15 488.20 L244.79 488.77 L246.42 489.35 L248.05 489.94 L249.68 490.54 L251.31 491.16 L252.93 491.78 L254.55 492.42 L256.17 493.07 L257.78 493.72 L259.38 494.39 L260.99 495.07 L262.59 495.76 L264.18 496.46 L265.78 497.18 L267.36 497.90 L268.95 498.63 L270.53 499.37 L272.11 500.13 L273.68 500.89 L275.25 501.67 L276.81 502.45 L278.37 503.24 L279.93 504.05 L281.49 504.86 L283.03 505.69 L284.58 506.52 L286.12 507.36 L287.66 508.22 L289.19 509.08 L290.72 509.95 L292.24 510.83 L293.77 511.72 L295.28 512.62 L296.79 513.53 L298.30 514.45 L299.80 515.38 L301.29 516.32 L302.78 517.27 L304.26 518.23 L305.73 519.20 L307.20 520.18 L308.65 521.18 L310.10 522.18 L311.54 523.19 L312.97 524.22 L314.39 525.26 L315.80 526.30 L317.20 527.36 L318.59 528.44 L319.96 529.52 L321.33 530.62 L322.68 531.72 L324.02 532.84 L325.35 533.98 L326.67 535.12 L327.97 536.28 L329.25 537.45 L330.53 538.64 L331.78 539.83 L333.03 541.04 L334.25 542.27 L335.46 543.51 L336.66 544.76 L337.83 546.02 L338.99 547.30 L340.14 548.60 L341.26 549.90 L342.37 551.23 L343.45 552.56 L344.52 553.92 L345.57 555.28 L346.60 556.66 L347.60 558.06 L348.59 559.47 L349.56 560.90 L350.50 562.35 L351.42 563.80 L352.33 565.28 L353.21 566.76 L354.06 568.27 L354.90 569.78 L355.72 571.31 L356.52 572.85 L357.29 574.40 L358.05 575.97 L358.78 577.55 L359.50 579.13 L360.19 580.73 L360.87 582.34 L361.52 583.96 L362.16 585.59 L362.77 587.23 L363.37 588.88 L363.95 590.54 L364.50 592.20 L365.04 593.87 L365.56 595.55 L366.06 597.24 L366.54 598.94 L367.00 600.64 L367.45 602.34 L367.87 604.05 L368.28 605.77 L368.66 607.49 L369.03 609.22 L369.39 610.95 L369.72 612.68 L370.04 614.42 L370.33 616.16 L370.61 617.90 L370.88 619.65 L371.12 621.39 L371.35 623.14 L371.56 624.89 L371.75 626.64 L371.93 628.38 L372.09 630.13 L372.23 631.88 L372.36 633.63 L372.47 635.37 L372.56 637.12 L372.64 638.86 L372.70 640.60" fill="none" stroke="#ff0000" stroke-width="2.00" stroke-linejoin="round" stroke-linecap="butt"/>
<path d="M102.40 637.00 L112.00 536.50 L113.24 535.86 L114.47 535.22 L115.71 534.56 L116.94 533.90 L118.17 533.23 L119.40 532.56 L120.62 531.88 L121.85 531.19 L123.07 530.50 L124.29 529.80 L125.51 529.10 L126.73 528.39 L127.94 527.67 L129.16 526.95 L130.37 526.23 L131.58 525.50 L132.79 524.76 L134.01 524.02 L135.21 523.28 L136.42 522.54 L137.63 521.79 L138.84 521.03 L140.05 520.28 L141.25 519.52 L142.46 518.76 L143.66 518.00 L144.87 517.23 L146.07 516.47 L147.28 515.70 L148.48 514.93 L149.69 514.16 L150.89 513.39 L152.09 512.62 L153.30 511.84 L154.50 511.07 L155.71 510.30 L156.92 509.53 L158.12 508.75 L159.33 507.98 L160.54 507.21 L161.74 506.44 L162.95 505.68 L164.16 504.91 L165.38 504.14 L166.59 503.38 L167.80 502.62 L169.02 501.86 L170.23 501.11 L171.45 500.36 L172.67 499.61 L173.89 498.86 L175.11 498.12 L176.33 497.38 L177.56 496.65 L178.78 495.92 L180.01 495.19 L181.24 494.47 L182.48 493.76 L183.71 493.05 L184.95 492.34 L186.19 491.65 L187.43 490.95 L188.67 490.27 L189.92 489.59 L191.17 488.91 L192.42 488.24 L193.67 487.58 L194.93 486.93 L196.19 486.29 L197.45 485.65 L198.72 485.02 L199.99 484.40 L201.26 483.78 L202.54 483.18 L203.82 482.58 L205.10 482.00 L206.39 481.42 L207.68 480.85 L208.97 480.29 L210.27 479.75 L211.57 479.21 L212.87 478.68 L214.18 478.16 L215.49 477.66 L216.81 477.16 L218.13 476.67 L219.45 476.20 L220.77 475.73 L222.10 475.27 L223.44 474.82 L224.77 474.38 L226.11 473.95 L227.46 473.52 L228.80 473.11 L230.15 472.70 L231.50 472.30 L232.86 471.91 L234.21 471.53 L235.57 471.16 L236.93 470.79 L238.30 470.43 L239.67 470.07 L241.04 469.73 L242.41 469.39 L243.78 469.05 L245.16 468.72 L246.54 468.40 L247.92 468.09 L249.30 467.78 L250.68 467.47 L252.07 467.18 L253.46 466.88 L254.85 466.59 L256.24 466.31 L257.63 466.03 L259.03 465.76 L260.42 465.49 L261.82 465.22 L263.21 464.96 L264.61 464.70 L266.01 464.45 L267.42 464.20 L268.82 463.95 L270.22 463.70 L271.62 463.46 L273.03 463.22 L274.43 462.99 L275.84 462.76 L277.25 462.52 L278.65 462.29 L280.06 462.07 L281.47 461.84 L282.87 461.62 L284.28 461.39 L285.69 461.17 L287.10 460.95 L288.50 460.73 L289.91 460.51 L291.32 460.30 L292.72 460.08 L294.13 459.86 L295.54 459.64 L296.94 459.42 L298.35 459.20 L299.75 458.98 L301.16 458.76 L302.56 458.54 L303.96 458.31 L305.36 458.08 L306.76 457.85 L308.16 457.62 L309.55 457.38 L310.95 457.14 L312.34 456.89 L313.73 456.64 L315.12 456.38 L316.51 456.12 L317.89 455.85 L319.28 455.58 L320.66 455.29 L322.04 455.01 L323.42 454.71 L324.79 454.41 L326.16 454.10 L327.53 453.78 L328.90 453.45 L330.26 453.11 L331.62 452.76 L332.98 452.40 L334.33 452.03 L335.68 451.65 L337.03 451.26 L338.37 450.86 L339.71 450.45 L341.05 450.02 L342.38 449.58 L343.71 449.13 L345.04 448.66 L346.36 448.18 L347.67 447.69 L348.99 447.18 L350.29 446.66 L351.60 446.12 L352.90 445.57 L354.19 445.00 L355.48 444.42 L356.77 443.83 L358.06 443.25 L359.35 442.69 L360.65 442.16 L361.96 441.67 L363.27 441.24 L364.60 440.86 L365.95 440.55 L367.31 440.33 L368.70 440.21 L370.11 440.18 L371.54 440.28 L373.00 440.50" fill="none" stroke="#ff0000" stroke-width="2.00" stroke-linejoin="round" stroke-linecap="butt"/>
<path d="M102.50 444.40 L112.20 471.20 L113.83 471.43 L115.46 471.66 L117.10 471.87 L118.74 472.07 L120.38 472.26 L122.03 472.44 L123.68 472.61 L125.33 472.77 L126.99 472.92 L128.65 473.06 L130.32 473.20 L131.98 473.33 L133.65 473.45 L135.32 473.57 L136.99 473.68 L138.67 473.79 L140.35 473.89 L142.02 473.99 L143.70 474.08 L145.38 474.17 L147.07 474.26 L148.75 474.35 L150.43 474.43 L152.12 474.52 L153.81 474.60 L155.49 474.68 L157.18 474.77 L158.86 474.85 L160.55 474.94 L162.24 475.03 L163.92 475.12 L165.61 475.22 L167.29 475.32 L168.97 475.42 L170.66 475.53 L172.34 475.64 L174.02 475.76 L175.69 475.88 L177.37 476.01 L179.05 476.15 L180.72 476.29 L182.39 476.45 L184.06 476.61 L185.72 476.78 L187.38 476.96 L189.05 477.15 L190.70 477.36 L192.36 477.57 L194.01 477.79 L195.65 478.03 L197.30 478.28 L198.94 478.54 L200.57 478.82 L202.21 479.11 L203.83 479.41 L205.46 479.73 L207.07 480.07 L208.69 480.42 L210.30 480.79 L211.90 481.18 L213.50 481.57 L215.10 481.99 L216.69 482.42 L218.28 482.87 L219.86 483.33 L221.44 483.80 L223.01 484.29 L224.58 484.80 L226.14 485.32 L227.71 485.85 L229.26 486.40 L230.81 486.97 L232.36 487.54 L233.91 488.13 L235.45 488.74 L236.98 489.36 L238.52 489.99 L240.05 490.63 L241.57 491.29 L243.10 491.96 L244.62 492.64 L246.13 493.33 L247.65 494.03 L249.16 494.74 L250.67 495.45 L252.18 496.18 L253.69 496.92 L255.19 497.66 L256.69 498.41 L258.20 499.17 L259.70 499.94 L261.19 500.71 L262.69 501.49 L264.18 502.28 L265.67 503.07 L267.15 503.88 L268.64 504.69 L270.12 505.51 L271.59 506.34 L273.06 507.18 L274.52 508.02 L275.98 508.88 L277.44 509.74 L278.89 510.61 L280.33 511.49 L281.77 512.38 L283.20 513.28 L284.62 514.19 L286.04 515.11 L287.45 516.04 L288.85 516.97 L290.25 517.92 L291.63 518.88 L293.01 519.85 L294.38 520.82 L295.74 521.81 L297.09 522.81 L298.43 523.82 L299.76 524.84 L301.08 525.87 L302.39 526.91 L303.69 527.96 L304.98 529.02 L306.25 530.10 L307.52 531.18 L308.77 532.28 L310.01 533.39 L311.24 534.51 L312.46 535.64 L313.66 536.79 L314.85 537.94 L316.03 539.11 L317.19 540.29 L318.34 541.49 L319.47 542.69 L320.59 543.91 L321.69 545.14 L322.78 546.39 L323.86 547.64 L324.91 548.91 L325.95 550.20 L326.98 551.49 L327.98 552.81 L328.97 554.13 L329.95 555.47 L330.90 556.82 L331.84 558.18 L332.76 559.56 L333.66 560.95 L334.55 562.36 L335.42 563.77 L336.27 565.20 L337.10 566.64 L337.92 568.09 L338.71 569.55 L339.49 571.02 L340.26 572.51 L341.00 574.00 L341.73 575.50 L342.44 577.02 L343.13 578.54 L343.80 580.07 L344.46 581.61 L345.10 583.16 L345.72 584.72 L346.32 586.28 L346.90 587.86 L347.47 589.44 L348.02 591.03 L348.55 592.62 L349.07 594.22 L349.56 595.83 L350.04 597.44 L350.50 599.06 L350.95 600.69 L351.37 602.32 L351.78 603.95 L352.17 605.59 L352.54 607.24 L352.89 608.89 L353.23 610.54 L353.55 612.19 L353.85 613.85 L354.13 615.51 L354.39 617.18 L354.64 618.85 L354.87 620.51 L355.08 622.19 L355.27 623.86 L355.44 625.53 L355.60 627.21 L355.74 628.88 L355.86 630.56 L355.96 632.23 L356.04 633.91 L356.11 635.58 L356.16 637.26 L356.19 638.93 L356.20 640.60" fill="none" stroke="#0000ff" stroke-width="2.00" stroke-linejoin="round" stroke-linecap="butt"/>
<path d="M102.40 637.00 L112.00 535.50 L113.14 534.82 L114.27 534.13 L115.41 533.44 L116.54 532.74 L117.67 532.05 L118.81 531.35 L119.94 530.65 L121.08 529.94 L122.21 529.23 L123.35 528.52 L124.48 527.81 L125.62 527.10 L126.75 526.38 L127.89 525.66 L129.02 524.94 L130.16 524.22 L131.29 523.50 L132.43 522.77 L133.57 522.05 L134.70 521.32 L135.84 520.59 L136.98 519.86 L138.12 519.13 L139.25 518.40 L140.39 517.67 L141.53 516.94 L142.67 516.21 L143.82 515.48 L144.96 514.75 L146.10 514.02 L147.24 513.28 L148.39 512.55 L149.53 511.82 L150.68 511.09 L151.83 510.36 L152.97 509.63 L154.12 508.91 L155.27 508.18 L156.42 507.46 L157.57 506.73 L158.73 506.01 L159.88 505.29 L161.04 504.57 L162.19 503.85 L163.35 503.14 L164.51 502.43 L165.67 501.71 L166.83 501.01 L167.99 500.30 L169.16 499.60 L170.32 498.90 L171.49 498.20 L172.66 497.50 L173.83 496.81 L175.00 496.12 L176.18 495.44 L177.35 494.76 L178.53 494.08 L179.71 493.40 L180.89 492.73 L182.07 492.07 L183.25 491.40 L184.44 490.75 L185.62 490.09 L186.81 489.44 L188.00 488.80 L189.20 488.16 L190.39 487.52 L191.59 486.89 L192.79 486.27 L193.99 485.65 L195.19 485.03 L196.40 484.42 L197.61 483.82 L198.82 483.22 L200.03 482.63 L201.25 482.05 L202.46 481.47 L203.68 480.89 L204.90 480.32 L206.13 479.76 L207.35 479.21 L208.58 478.66 L209.82 478.12 L211.05 477.59 L212.29 477.06 L213.53 476.54 L214.77 476.03 L216.01 475.53 L217.26 475.03 L218.51 474.54 L219.77 474.06 L221.02 473.59 L222.28 473.12 L223.54 472.66 L224.81 472.21 L226.08 471.77 L227.35 471.34 L228.62 470.92 L229.90 470.51 L231.18 470.10 L232.46 469.71 L233.75 469.32 L235.04 468.94 L236.33 468.57 L237.62 468.21 L238.92 467.86 L240.22 467.52 L241.53 467.18 L242.84 466.86 L244.14 466.54 L245.46 466.23 L246.77 465.92 L248.09 465.62 L249.40 465.33 L250.73 465.04 L252.05 464.76 L253.37 464.48 L254.70 464.21 L256.02 463.95 L257.35 463.68 L258.68 463.43 L260.01 463.17 L261.35 462.92 L262.68 462.68 L264.02 462.43 L265.35 462.19 L266.69 461.95 L268.03 461.72 L269.36 461.48 L270.70 461.25 L272.04 461.02 L273.38 460.79 L274.72 460.56 L276.06 460.33 L277.40 460.11 L278.74 459.88 L280.07 459.65 L281.41 459.42 L282.75 459.19 L284.09 458.96 L285.42 458.72 L286.76 458.49 L288.10 458.25 L289.43 458.01 L290.76 457.77 L292.10 457.53 L293.43 457.28 L294.76 457.03 L296.09 456.77 L297.41 456.51 L298.74 456.25 L300.06 455.98 L301.38 455.71 L302.70 455.44 L304.02 455.15 L305.34 454.87 L306.65 454.58 L307.97 454.28 L309.28 453.98 L310.59 453.68 L311.90 453.37 L313.20 453.05 L314.51 452.73 L315.81 452.40 L317.11 452.07 L318.40 451.73 L319.70 451.39 L320.99 451.04 L322.28 450.68 L323.57 450.32 L324.86 449.95 L326.14 449.57 L327.43 449.19 L328.70 448.80 L329.98 448.40 L331.26 448.00 L332.53 447.59 L333.80 447.17 L335.06 446.74 L336.33 446.31 L337.59 445.87 L338.85 445.42 L340.10 444.96 L341.36 444.49 L342.61 444.03 L343.86 443.56 L345.11 443.11 L346.37 442.67 L347.62 442.26 L348.89 441.87 L350.15 441.52 L351.43 441.20 L352.71 440.93 L354.00 440.72 L355.31 440.56 L356.63 440.47 L357.96 440.44 L359.30 440.50" fill="none" stroke="#0000ff" stroke-width="2.00" stroke-linejoin="round" stroke-linecap="butt"/>
<path d="M102.50 444.40 L112.20 472.00 L113.82 472.16 L115.44 472.32 L117.07 472.47 L118.70 472.61 L120.33 472.75 L121.96 472.88 L123.59 473.01 L125.23 473.13 L126.86 473.25 L128.50 473.37 L130.14 473.49 L131.78 473.60 L133.42 473.71 L135.07 473.82 L136.71 473.93 L138.36 474.03 L140.00 474.14 L141.65 474.24 L143.29 474.35 L144.94 474.45 L146.59 474.56 L148.23 474.67 L149.88 474.78 L151.53 474.89 L153.17 475.01 L154.82 475.12 L156.47 475.25 L158.11 475.37 L159.75 475.50 L161.40 475.63 L163.04 475.77 L164.68 475.91 L166.32 476.06 L167.96 476.21 L169.60 476.38 L171.24 476.54 L172.87 476.72 L174.50 476.90 L176.14 477.08 L177.77 477.28 L179.39 477.48 L181.02 477.69 L182.64 477.91 L184.27 478.14 L185.89 478.37 L187.50 478.62 L189.12 478.87 L190.73 479.14 L192.34 479.41 L193.95 479.69 L195.56 479.99 L197.16 480.29 L198.76 480.61 L200.35 480.94 L201.95 481.27 L203.54 481.62 L205.13 481.99 L206.71 482.36 L208.29 482.75 L209.87 483.15 L211.44 483.56 L213.01 483.98 L214.58 484.42 L216.14 484.87 L217.70 485.34 L219.26 485.82 L220.81 486.31 L222.36 486.81 L223.91 487.32 L225.45 487.85 L226.99 488.39 L228.53 488.94 L230.06 489.51 L231.58 490.08 L233.11 490.67 L234.63 491.27 L236.15 491.88 L237.66 492.50 L239.17 493.13 L240.68 493.78 L242.18 494.43 L243.68 495.10 L245.18 495.77 L246.67 496.46 L248.16 497.16 L249.65 497.86 L251.13 498.58 L252.61 499.31 L254.09 500.05 L255.56 500.79 L257.03 501.55 L258.50 502.31 L259.96 503.09 L261.42 503.88 L262.87 504.67 L264.32 505.48 L265.77 506.29 L267.21 507.11 L268.64 507.95 L270.07 508.79 L271.49 509.64 L272.91 510.51 L274.32 511.38 L275.73 512.26 L277.13 513.16 L278.52 514.06 L279.91 514.97 L281.28 515.90 L282.66 516.83 L284.02 517.77 L285.37 518.73 L286.72 519.69 L288.06 520.66 L289.39 521.65 L290.71 522.64 L292.02 523.64 L293.32 524.66 L294.62 525.68 L295.90 526.72 L297.17 527.76 L298.44 528.82 L299.69 529.89 L300.93 530.96 L302.16 532.05 L303.38 533.15 L304.59 534.26 L305.79 535.38 L306.97 536.50 L308.14 537.64 L309.31 538.80 L310.45 539.96 L311.59 541.13 L312.71 542.31 L313.82 543.51 L314.92 544.71 L316.00 545.93 L317.07 547.15 L318.12 548.39 L319.16 549.64 L320.18 550.89 L321.19 552.16 L322.19 553.45 L323.17 554.74 L324.13 556.04 L325.08 557.35 L326.01 558.68 L326.93 560.02 L327.83 561.36 L328.71 562.72 L329.58 564.09 L330.43 565.47 L331.26 566.86 L332.07 568.27 L332.87 569.68 L333.65 571.10 L334.42 572.54 L335.16 573.98 L335.89 575.43 L336.61 576.90 L337.30 578.37 L337.99 579.85 L338.65 581.34 L339.30 582.84 L339.93 584.34 L340.54 585.86 L341.14 587.38 L341.72 588.91 L342.29 590.45 L342.84 591.99 L343.37 593.55 L343.89 595.11 L344.39 596.67 L344.88 598.24 L345.35 599.82 L345.80 601.40 L346.24 602.99 L346.66 604.59 L347.07 606.19 L347.46 607.79 L347.84 609.40 L348.20 611.02 L348.54 612.64 L348.87 614.26 L349.19 615.89 L349.49 617.52 L349.77 619.15 L350.04 620.79 L350.29 622.43 L350.53 624.07 L350.75 625.71 L350.96 627.36 L351.16 629.01 L351.34 630.66 L351.50 632.32 L351.65 633.97 L351.78 635.63 L351.90 637.28 L352.01 638.94 L352.10 640.60" fill="none" stroke="#ff8c00" stroke-width="2.00" stroke-linejoin="round" stroke-linecap="butt"/>
<path d="M102.40 637.00 L112.00 534.50 L112.94 533.48 L113.89 532.47 L114.85 531.48 L115.81 530.51 L116.78 529.55 L117.76 528.60 L118.75 527.67 L119.74 526.75 L120.74 525.85 L121.75 524.96 L122.76 524.08 L123.78 523.21 L124.81 522.36 L125.84 521.52 L126.88 520.70 L127.92 519.88 L128.98 519.08 L130.03 518.28 L131.09 517.50 L132.16 516.73 L133.24 515.97 L134.31 515.22 L135.40 514.48 L136.49 513.75 L137.58 513.03 L138.68 512.32 L139.78 511.62 L140.89 510.92 L142.01 510.24 L143.12 509.56 L144.24 508.89 L145.37 508.23 L146.50 507.58 L147.63 506.93 L148.77 506.29 L149.91 505.65 L151.06 505.03 L152.21 504.40 L153.36 503.79 L154.51 503.18 L155.67 502.57 L156.83 501.97 L158.00 501.37 L159.17 500.78 L160.33 500.19 L161.51 499.61 L162.68 499.03 L163.86 498.45 L165.04 497.88 L166.22 497.31 L167.40 496.74 L168.59 496.17 L169.77 495.61 L170.96 495.05 L172.15 494.49 L173.34 493.93 L174.53 493.37 L175.73 492.81 L176.92 492.25 L178.12 491.69 L179.31 491.13 L180.51 490.57 L181.71 490.01 L182.90 489.45 L184.10 488.89 L185.30 488.33 L186.50 487.76 L187.70 487.20 L188.89 486.63 L190.09 486.06 L191.29 485.48 L192.49 484.90 L193.68 484.32 L194.88 483.74 L196.08 483.16 L197.27 482.58 L198.47 482.00 L199.67 481.42 L200.87 480.83 L202.07 480.25 L203.26 479.67 L204.46 479.10 L205.67 478.52 L206.87 477.95 L208.07 477.38 L209.27 476.81 L210.48 476.25 L211.69 475.70 L212.89 475.14 L214.10 474.60 L215.32 474.06 L216.53 473.52 L217.74 472.99 L218.96 472.47 L220.18 471.96 L221.40 471.45 L222.62 470.96 L223.85 470.47 L225.08 469.99 L226.31 469.52 L227.54 469.06 L228.78 468.61 L230.02 468.17 L231.26 467.74 L232.51 467.33 L233.76 466.92 L235.01 466.53 L236.27 466.16 L237.53 465.79 L238.79 465.43 L240.05 465.09 L241.32 464.76 L242.59 464.44 L243.87 464.13 L245.14 463.82 L246.42 463.53 L247.70 463.25 L248.99 462.97 L250.27 462.70 L251.56 462.44 L252.85 462.19 L254.14 461.95 L255.44 461.71 L256.73 461.48 L258.03 461.25 L259.33 461.03 L260.63 460.82 L261.93 460.60 L263.24 460.40 L264.54 460.20 L265.85 460.00 L267.16 459.80 L268.46 459.61 L269.77 459.42 L271.08 459.23 L272.39 459.05 L273.70 458.86 L275.01 458.68 L276.33 458.49 L277.64 458.31 L278.95 458.13 L280.26 457.94 L281.57 457.76 L282.89 457.57 L284.20 457.38 L285.51 457.19 L286.82 457.00 L288.13 456.80 L289.44 456.61 L290.75 456.40 L292.06 456.20 L293.37 455.99 L294.68 455.77 L295.98 455.55 L297.29 455.32 L298.59 455.09 L299.89 454.85 L301.19 454.61 L302.49 454.36 L303.79 454.10 L305.08 453.83 L306.37 453.55 L307.66 453.27 L308.95 452.98 L310.23 452.68 L311.51 452.37 L312.79 452.05 L314.06 451.72 L315.33 451.37 L316.59 451.02 L317.85 450.66 L319.10 450.28 L320.35 449.90 L321.60 449.50 L322.84 449.08 L324.08 448.66 L325.31 448.22 L326.53 447.77 L327.75 447.30 L328.96 446.82 L330.17 446.32 L331.37 445.81 L332.56 445.29 L333.75 444.77 L334.94 444.24 L336.13 443.72 L337.32 443.21 L338.51 442.72 L339.71 442.25 L340.91 441.81 L342.12 441.41 L343.35 441.05 L344.58 440.75 L345.84 440.51 L347.10 440.34 L348.39 440.25 L349.70 440.24 L351.04 440.32 L352.40 440.50" fill="none" stroke="#ff8c00" stroke-width="2.00" stroke-linejoin="round" stroke-linecap="butt"/>
<path d="M102.50 444.40 L112.20 472.60 L113.78 472.73 L115.36 472.86 L116.95 472.99 L118.53 473.11 L120.12 473.23 L121.70 473.35 L123.29 473.47 L124.88 473.59 L126.47 473.70 L128.07 473.82 L129.66 473.93 L131.25 474.05 L132.84 474.16 L134.44 474.28 L136.03 474.39 L137.63 474.51 L139.22 474.63 L140.82 474.74 L142.41 474.86 L144.01 474.99 L145.61 475.11 L147.20 475.24 L148.80 475.36 L150.39 475.49 L151.99 475.63 L153.58 475.77 L155.18 475.91 L156.77 476.05 L158.36 476.20 L159.95 476.36 L161.54 476.51 L163.13 476.68 L164.72 476.84 L166.31 477.02 L167.90 477.20 L169.48 477.38 L171.07 477.57 L172.65 477.77 L174.23 477.97 L175.81 478.18 L177.39 478.40 L178.97 478.63 L180.54 478.86 L182.11 479.10 L183.68 479.35 L185.25 479.61 L186.82 479.87 L188.38 480.15 L189.94 480.43 L191.50 480.72 L193.06 481.03 L194.61 481.34 L196.16 481.66 L197.71 482.00 L199.26 482.34 L200.80 482.70 L202.34 483.07 L203.88 483.44 L205.41 483.83 L206.94 484.24 L208.47 484.65 L209.99 485.08 L211.51 485.52 L213.03 485.97 L214.54 486.43 L216.05 486.91 L217.55 487.40 L219.05 487.91 L220.55 488.42 L222.05 488.95 L223.54 489.49 L225.02 490.05 L226.50 490.61 L227.98 491.19 L229.46 491.78 L230.93 492.38 L232.40 492.99 L233.86 493.62 L235.32 494.25 L236.77 494.90 L238.22 495.56 L239.67 496.23 L241.11 496.91 L242.55 497.60 L243.98 498.31 L245.41 499.02 L246.84 499.74 L248.26 500.48 L249.68 501.22 L251.09 501.98 L252.50 502.74 L253.90 503.52 L255.30 504.31 L256.69 505.10 L258.08 505.91 L259.47 506.72 L260.85 507.55 L262.23 508.38 L263.59 509.23 L264.96 510.08 L266.32 510.95 L267.67 511.82 L269.01 512.71 L270.35 513.60 L271.68 514.50 L273.01 515.42 L274.33 516.34 L275.64 517.28 L276.94 518.22 L278.23 519.18 L279.52 520.14 L280.80 521.11 L282.07 522.10 L283.33 523.09 L284.58 524.10 L285.82 525.11 L287.05 526.13 L288.27 527.17 L289.49 528.21 L290.69 529.27 L291.88 530.33 L293.06 531.41 L294.23 532.49 L295.39 533.59 L296.54 534.69 L297.68 535.80 L298.80 536.93 L299.91 538.06 L301.01 539.21 L302.10 540.37 L303.17 541.53 L304.24 542.71 L305.29 543.89 L306.32 545.09 L307.34 546.29 L308.35 547.51 L309.34 548.74 L310.32 549.97 L311.29 551.22 L312.24 552.48 L313.18 553.75 L314.10 555.02 L315.00 556.31 L315.89 557.61 L316.76 558.92 L317.62 560.24 L318.46 561.57 L319.29 562.91 L320.09 564.25 L320.88 565.61 L321.66 566.99 L322.41 568.37 L323.15 569.76 L323.88 571.16 L324.58 572.57 L325.27 573.98 L325.94 575.41 L326.60 576.85 L327.24 578.29 L327.86 579.75 L328.46 581.21 L329.06 582.68 L329.63 584.16 L330.19 585.64 L330.73 587.13 L331.26 588.63 L331.77 590.14 L332.26 591.65 L332.74 593.17 L333.21 594.69 L333.66 596.22 L334.09 597.76 L334.51 599.30 L334.92 600.85 L335.31 602.40 L335.68 603.96 L336.04 605.52 L336.39 607.09 L336.72 608.66 L337.04 610.23 L337.34 611.81 L337.63 613.39 L337.91 614.98 L338.17 616.57 L338.42 618.16 L338.65 619.75 L338.87 621.35 L339.08 622.94 L339.27 624.54 L339.45 626.14 L339.62 627.75 L339.78 629.35 L339.92 630.96 L340.05 632.56 L340.16 634.17 L340.26 635.78 L340.35 637.39 L340.43 638.99 L340.50 640.60" fill="none" stroke="#008000" stroke-width="2.00" stroke-linejoin="round" stroke-linecap="butt"/>
<path d="M102.40 637.00 L112.00 533.50 L112.95 532.67 L113.91 531.84 L114.87 531.02 L115.83 530.20 L116.80 529.38 L117.77 528.57 L118.74 527.76 L119.71 526.95 L120.69 526.15 L121.67 525.35 L122.66 524.56 L123.65 523.77 L124.64 522.98 L125.63 522.20 L126.63 521.42 L127.63 520.65 L128.64 519.88 L129.64 519.11 L130.65 518.35 L131.66 517.59 L132.68 516.84 L133.70 516.09 L134.72 515.34 L135.74 514.60 L136.77 513.86 L137.80 513.13 L138.84 512.39 L139.87 511.67 L140.91 510.95 L141.95 510.23 L143.00 509.51 L144.04 508.80 L145.09 508.09 L146.15 507.39 L147.20 506.69 L148.26 506.00 L149.32 505.31 L150.38 504.62 L151.45 503.94 L152.52 503.26 L153.59 502.59 L154.66 501.92 L155.74 501.25 L156.82 500.59 L157.90 499.93 L158.99 499.28 L160.07 498.63 L161.16 497.98 L162.25 497.34 L163.35 496.70 L164.45 496.07 L165.54 495.44 L166.65 494.82 L167.75 494.19 L168.86 493.58 L169.97 492.97 L171.08 492.36 L172.19 491.75 L173.31 491.15 L174.42 490.56 L175.54 489.97 L176.67 489.38 L177.79 488.80 L178.92 488.22 L180.05 487.65 L181.18 487.08 L182.31 486.51 L183.45 485.95 L184.58 485.39 L185.72 484.84 L186.87 484.29 L188.01 483.75 L189.16 483.21 L190.30 482.67 L191.45 482.14 L192.61 481.61 L193.76 481.09 L194.92 480.57 L196.07 480.06 L197.23 479.55 L198.40 479.05 L199.56 478.54 L200.72 478.05 L201.89 477.56 L203.06 477.07 L204.23 476.59 L205.41 476.11 L206.58 475.63 L207.76 475.16 L208.93 474.70 L210.11 474.24 L211.30 473.78 L212.48 473.33 L213.66 472.88 L214.85 472.44 L216.04 472.00 L217.23 471.57 L218.42 471.14 L219.61 470.71 L220.81 470.29 L222.01 469.88 L223.20 469.47 L224.40 469.06 L225.60 468.66 L226.81 468.26 L228.01 467.87 L229.22 467.48 L230.42 467.09 L231.63 466.71 L232.84 466.34 L234.05 465.97 L235.26 465.60 L236.48 465.24 L237.69 464.89 L238.91 464.53 L240.12 464.19 L241.34 463.84 L242.56 463.51 L243.78 463.17 L245.01 462.85 L246.23 462.52 L247.46 462.20 L248.68 461.89 L249.91 461.58 L251.14 461.27 L252.37 460.97 L253.60 460.68 L254.83 460.39 L256.06 460.10 L257.30 459.82 L258.53 459.54 L259.77 459.27 L261.00 459.00 L262.24 458.74 L263.48 458.48 L264.72 458.23 L265.96 457.98 L267.20 457.74 L268.44 457.50 L269.69 457.27 L270.93 457.04 L272.17 456.82 L273.42 456.59 L274.67 456.38 L275.91 456.16 L277.16 455.95 L278.40 455.74 L279.65 455.53 L280.90 455.32 L282.14 455.11 L283.39 454.89 L284.63 454.68 L285.88 454.46 L287.12 454.25 L288.36 454.02 L289.61 453.80 L290.85 453.57 L292.08 453.33 L293.32 453.09 L294.56 452.84 L295.79 452.59 L297.02 452.32 L298.25 452.05 L299.48 451.77 L300.71 451.48 L301.93 451.18 L303.15 450.87 L304.37 450.55 L305.58 450.22 L306.79 449.88 L308.00 449.52 L309.21 449.15 L310.41 448.76 L311.61 448.36 L312.81 447.94 L314.00 447.52 L315.19 447.08 L316.37 446.63 L317.56 446.18 L318.74 445.72 L319.93 445.26 L321.11 444.80 L322.29 444.34 L323.47 443.89 L324.66 443.45 L325.85 443.02 L327.04 442.61 L328.23 442.23 L329.43 441.86 L330.63 441.52 L331.84 441.22 L333.05 440.94 L334.28 440.71 L335.51 440.52 L336.74 440.37 L337.99 440.27 L339.25 440.22 L340.52 440.23 L341.80 440.30" fill="none" stroke="#008000" stroke-width="2.00" stroke-linejoin="round" stroke-linecap="butt"/>
<path d="M102.50 444.40 L112.20 473.10 L113.74 473.26 L115.28 473.42 L116.83 473.57 L118.37 473.71 L119.92 473.85 L121.48 473.99 L123.03 474.13 L124.59 474.26 L126.14 474.39 L127.70 474.52 L129.26 474.64 L130.83 474.77 L132.39 474.89 L133.95 475.01 L135.52 475.13 L137.09 475.25 L138.65 475.37 L140.22 475.49 L141.79 475.61 L143.36 475.73 L144.93 475.85 L146.50 475.97 L148.07 476.10 L149.64 476.23 L151.21 476.36 L152.78 476.49 L154.35 476.63 L155.92 476.77 L157.49 476.91 L159.05 477.05 L160.62 477.21 L162.19 477.36 L163.75 477.52 L165.32 477.69 L166.88 477.86 L168.44 478.04 L170.00 478.22 L171.56 478.41 L173.11 478.61 L174.67 478.81 L176.22 479.03 L177.77 479.25 L179.31 479.47 L180.86 479.71 L182.40 479.96 L183.94 480.21 L185.48 480.48 L187.01 480.75 L188.54 481.03 L190.07 481.33 L191.60 481.63 L193.12 481.95 L194.64 482.28 L196.15 482.61 L197.66 482.96 L199.17 483.33 L200.67 483.70 L202.17 484.09 L203.67 484.50 L205.16 484.91 L206.64 485.34 L208.13 485.78 L209.60 486.24 L211.07 486.72 L212.54 487.20 L214.00 487.71 L215.46 488.23 L216.91 488.76 L218.36 489.31 L219.81 489.87 L221.25 490.44 L222.68 491.03 L224.11 491.63 L225.54 492.24 L226.96 492.87 L228.38 493.51 L229.80 494.16 L231.21 494.82 L232.62 495.49 L234.02 496.17 L235.42 496.86 L236.82 497.57 L238.22 498.28 L239.61 499.00 L241.00 499.73 L242.39 500.47 L243.77 501.22 L245.15 501.97 L246.53 502.74 L247.91 503.51 L249.28 504.29 L250.65 505.08 L252.01 505.87 L253.38 506.68 L254.74 507.49 L256.09 508.31 L257.44 509.14 L258.78 509.97 L260.12 510.82 L261.46 511.67 L262.78 512.54 L264.11 513.41 L265.42 514.29 L266.73 515.18 L268.03 516.08 L269.33 516.98 L270.62 517.90 L271.90 518.83 L273.17 519.76 L274.44 520.70 L275.69 521.66 L276.94 522.62 L278.18 523.59 L279.41 524.57 L280.63 525.56 L281.84 526.56 L283.04 527.57 L284.23 528.59 L285.41 529.62 L286.58 530.66 L287.74 531.71 L288.89 532.77 L290.03 533.84 L291.15 534.92 L292.26 536.01 L293.36 537.11 L294.45 538.23 L295.52 539.35 L296.58 540.48 L297.63 541.62 L298.66 542.78 L299.68 543.94 L300.69 545.11 L301.68 546.30 L302.66 547.50 L303.62 548.70 L304.56 549.92 L305.50 551.15 L306.41 552.39 L307.31 553.65 L308.19 554.91 L309.06 556.19 L309.91 557.47 L310.74 558.77 L311.55 560.08 L312.35 561.40 L313.13 562.73 L313.90 564.07 L314.65 565.42 L315.38 566.78 L316.10 568.15 L316.80 569.54 L317.49 570.92 L318.16 572.32 L318.82 573.73 L319.46 575.15 L320.08 576.57 L320.70 578.00 L321.29 579.44 L321.87 580.89 L322.44 582.34 L322.99 583.80 L323.53 585.27 L324.06 586.75 L324.57 588.23 L325.07 589.72 L325.55 591.21 L326.02 592.71 L326.48 594.21 L326.92 595.72 L327.35 597.23 L327.77 598.75 L328.18 600.27 L328.57 601.80 L328.95 603.33 L329.32 604.87 L329.68 606.40 L330.03 607.95 L330.36 609.49 L330.68 611.04 L330.99 612.58 L331.29 614.14 L331.58 615.69 L331.86 617.24 L332.12 618.80 L332.38 620.36 L332.63 621.91 L332.86 623.47 L333.08 625.03 L333.30 626.59 L333.50 628.15 L333.70 629.71 L333.88 631.27 L334.06 632.83 L334.23 634.39 L334.38 635.94 L334.53 637.50 L334.67 639.05 L334.80 640.60" fill="none" stroke="#808000" stroke-width="2.30" stroke-linejoin="round" stroke-linecap="butt"/>
<path d="M102.40 637.00 L112.00 532.60 L112.87 531.68 L113.74 530.77 L114.62 529.87 L115.50 528.97 L116.40 528.09 L117.29 527.22 L118.20 526.35 L119.11 525.50 L120.03 524.65 L120.95 523.82 L121.88 522.99 L122.81 522.17 L123.75 521.36 L124.70 520.55 L125.65 519.76 L126.60 518.97 L127.57 518.19 L128.53 517.42 L129.51 516.66 L130.48 515.90 L131.47 515.15 L132.45 514.41 L133.44 513.68 L134.44 512.95 L135.44 512.23 L136.45 511.52 L137.46 510.81 L138.47 510.11 L139.49 509.42 L140.52 508.73 L141.55 508.05 L142.58 507.37 L143.61 506.70 L144.65 506.04 L145.70 505.38 L146.74 504.73 L147.79 504.09 L148.85 503.44 L149.91 502.81 L150.97 502.18 L152.03 501.55 L153.10 500.93 L154.17 500.32 L155.24 499.70 L156.32 499.10 L157.40 498.49 L158.48 497.90 L159.57 497.30 L160.66 496.71 L161.75 496.13 L162.84 495.54 L163.94 494.96 L165.03 494.39 L166.13 493.82 L167.23 493.25 L168.34 492.68 L169.44 492.12 L170.55 491.56 L171.66 491.00 L172.77 490.44 L173.88 489.89 L175.00 489.34 L176.11 488.79 L177.23 488.25 L178.35 487.71 L179.47 487.16 L180.59 486.62 L181.71 486.08 L182.83 485.55 L183.95 485.01 L185.08 484.48 L186.20 483.94 L187.33 483.41 L188.45 482.88 L189.58 482.35 L190.71 481.82 L191.83 481.29 L192.96 480.76 L194.09 480.24 L195.21 479.71 L196.34 479.18 L197.47 478.66 L198.60 478.14 L199.73 477.62 L200.86 477.10 L201.99 476.59 L203.12 476.08 L204.26 475.57 L205.39 475.06 L206.53 474.55 L207.66 474.05 L208.80 473.55 L209.94 473.06 L211.08 472.57 L212.22 472.08 L213.36 471.60 L214.50 471.12 L215.65 470.64 L216.79 470.17 L217.94 469.71 L219.09 469.24 L220.24 468.79 L221.39 468.34 L222.55 467.89 L223.70 467.45 L224.86 467.02 L226.02 466.59 L227.18 466.16 L228.34 465.75 L229.51 465.34 L230.68 464.93 L231.84 464.54 L233.01 464.15 L234.19 463.76 L235.36 463.39 L236.54 463.02 L237.72 462.66 L238.90 462.30 L240.09 461.96 L241.27 461.62 L242.46 461.29 L243.66 460.97 L244.85 460.66 L246.05 460.35 L247.25 460.06 L248.45 459.77 L249.66 459.49 L250.87 459.23 L252.08 458.97 L253.29 458.72 L254.51 458.48 L255.73 458.25 L256.95 458.03 L258.18 457.83 L259.41 457.63 L260.64 457.43 L261.87 457.25 L263.11 457.07 L264.34 456.90 L265.58 456.73 L266.82 456.56 L268.06 456.40 L269.30 456.24 L270.54 456.08 L271.78 455.92 L273.03 455.77 L274.27 455.60 L275.51 455.44 L276.74 455.28 L277.98 455.11 L279.22 454.93 L280.45 454.76 L281.69 454.57 L282.92 454.38 L284.14 454.18 L285.37 453.97 L286.59 453.75 L287.81 453.52 L289.02 453.28 L290.24 453.03 L291.44 452.76 L292.65 452.48 L293.84 452.19 L295.04 451.88 L296.23 451.55 L297.41 451.21 L298.59 450.86 L299.76 450.49 L300.94 450.11 L302.10 449.72 L303.27 449.32 L304.43 448.92 L305.59 448.51 L306.75 448.09 L307.90 447.66 L309.05 447.24 L310.20 446.81 L311.35 446.37 L312.50 445.94 L313.65 445.51 L314.79 445.09 L315.94 444.66 L317.09 444.24 L318.24 443.83 L319.38 443.42 L320.54 443.03 L321.69 442.65 L322.85 442.29 L324.01 441.95 L325.17 441.63 L326.35 441.34 L327.52 441.07 L328.71 440.84 L329.90 440.63 L331.10 440.47 L332.31 440.34 L333.53 440.25 L334.76 440.20 L336.00 440.20" fill="none" stroke="#808000" stroke-width="2.30" stroke-linejoin="round" stroke-linecap="butt"/>
<rect x="72.5" y="401.0" width="358.0" height="266.2" fill="none" stroke="#000" stroke-width="2.2"/>
<line x1="69.5" y1="662.77" x2="72.5" y2="662.77" stroke="#000" stroke-width="1.6"/>
<line x1="67.0" y1="640.90" x2="72.5" y2="640.90" stroke="#000" stroke-width="1.6"/>
<text x="32.37" y="647.50" font-size="19.30" fill="#000" textLength="26.83" lengthAdjust="spacingAndGlyphs">1.0</text>
<line x1="69.5" y1="619.02" x2="72.5" y2="619.02" stroke="#000" stroke-width="1.6"/>
<line x1="67.0" y1="597.15" x2="72.5" y2="597.15" stroke="#000" stroke-width="1.6"/>
<text x="32.37" y="603.75" font-size="19.30" fill="#000" textLength="26.83" lengthAdjust="spacingAndGlyphs">1.5</text>
<line x1="69.5" y1="575.27" x2="72.5" y2="575.27" stroke="#000" stroke-width="1.6"/>
<line x1="67.0" y1="553.40" x2="72.5" y2="553.40" stroke="#000" stroke-width="1.6"/>
<text x="32.37" y="560.00" font-size="19.30" fill="#000" textLength="26.83" lengthAdjust="spacingAndGlyphs">2.0</text>
<line x1="69.5" y1="531.52" x2="72.5" y2="531.52" stroke="#000" stroke-width="1.6"/>
<line x1="67.0" y1="509.65" x2="72.5" y2="509.65" stroke="#000" stroke-width="1.6"/>
<text x="32.37" y="516.25" font-size="19.30" fill="#000" textLength="26.83" lengthAdjust="spacingAndGlyphs">2.5</text>
<line x1="69.5" y1="487.77" x2="72.5" y2="487.77" stroke="#000" stroke-width="1.6"/>
<line x1="67.0" y1="465.90" x2="72.5" y2="465.90" stroke="#000" stroke-width="1.6"/>
<text x="32.37" y="472.50" font-size="19.30" fill="#000" textLength="26.83" lengthAdjust="spacingAndGlyphs">3.0</text>
<line x1="69.5" y1="444.02" x2="72.5" y2="444.02" stroke="#000" stroke-width="1.6"/>
<line x1="67.0" y1="422.15" x2="72.5" y2="422.15" stroke="#000" stroke-width="1.6"/>
<text x="32.37" y="428.75" font-size="19.30" fill="#000" textLength="26.83" lengthAdjust="spacingAndGlyphs">3.5</text>
<line x1="102.40" y1="667.2" x2="102.40" y2="672.2" stroke="#000" stroke-width="1.6"/>
<text x="97.03" y="694.20" font-size="19.30" fill="#000" textLength="10.73" lengthAdjust="spacingAndGlyphs">0</text>
<line x1="132.25" y1="667.2" x2="132.25" y2="670.2" stroke="#000" stroke-width="1.6"/>
<line x1="162.10" y1="667.2" x2="162.10" y2="672.2" stroke="#000" stroke-width="1.6"/>
<text x="140.63" y="694.20" font-size="19.30" fill="#000" textLength="42.94" lengthAdjust="spacingAndGlyphs">1000</text>
<line x1="191.95" y1="667.2" x2="191.95" y2="670.2" stroke="#000" stroke-width="1.6"/>
<line x1="221.80" y1="667.2" x2="221.80" y2="672.2" stroke="#000" stroke-width="1.6"/>
<text x="200.33" y="694.20" font-size="19.30" fill="#000" textLength="42.94" lengthAdjust="spacingAndGlyphs">2000</text>
<line x1="251.65" y1="667.2" x2="251.65" y2="670.2" stroke="#000" stroke-width="1.6"/>
<line x1="281.50" y1="667.2" x2="281.50" y2="672.2" stroke="#000" stroke-width="1.6"/>
<text x="260.03" y="694.20" font-size="19.30" fill="#000" textLength="42.94" lengthAdjust="spacingAndGlyphs">3000</text>
<line x1="311.35" y1="667.2" x2="311.35" y2="670.2" stroke="#000" stroke-width="1.6"/>
<line x1="341.20" y1="667.2" x2="341.20" y2="672.2" stroke="#000" stroke-width="1.6"/>
<text x="319.73" y="694.20" font-size="19.30" fill="#000" textLength="42.94" lengthAdjust="spacingAndGlyphs">4000</text>
<line x1="371.05" y1="667.2" x2="371.05" y2="670.2" stroke="#000" stroke-width="1.6"/>
<line x1="400.90" y1="667.2" x2="400.90" y2="672.2" stroke="#000" stroke-width="1.6"/>
<text x="379.43" y="694.20" font-size="19.30" fill="#000" textLength="42.94" lengthAdjust="spacingAndGlyphs">5000</text>
<text x="183.10" y="721.90" font-size="19.40" fill="#000" textLength="136.81" lengthAdjust="spacingAndGlyphs">Capacity (mA h)</text>
<g transform="rotate(-90)"><text x="-581.60" y="16.20" font-size="19.40" fill="#000" textLength="95.41" lengthAdjust="spacingAndGlyphs">Voltage (V)</text></g>
<text x="0.60" y="407.00" font-size="27.00" fill="#000" font-weight="bold" textLength="14.50" lengthAdjust="spacingAndGlyphs">d</text>
<text x="186.80" y="656.40" font-size="13.60" fill="#808000" textLength="40.89" lengthAdjust="spacingAndGlyphs">1000th</text>
<text x="234.70" y="656.40" font-size="13.60" fill="#008000" textLength="33.81" lengthAdjust="spacingAndGlyphs">800th</text>
<text x="276.20" y="656.40" font-size="13.60" fill="#ff8c00" textLength="33.81" lengthAdjust="spacingAndGlyphs">600th</text>
<text x="318.00" y="656.40" font-size="13.60" fill="#0000ff" textLength="33.31" lengthAdjust="spacingAndGlyphs">400th</text>
<text x="358.80" y="656.40" font-size="13.60" fill="#ff0000" textLength="34.11" lengthAdjust="spacingAndGlyphs">200th</text>
<text x="400.80" y="656.40" font-size="13.60" fill="#000000" textLength="22.81" lengthAdjust="spacingAndGlyphs">2nd</text>
<line x1="178" y1="662" x2="423.6" y2="662" stroke="#000" stroke-width="1.4"/>
<path d="M171.5 662 L179.5 659 L179.5 665 Z" fill="#000"/>
<clipPath id="eclip"><rect x="548.2" y="395" width="576" height="272"/></clipPath>
<g clip-path="url(#eclip)"><g fill="#fff" stroke="#1f1fff" stroke-width="1.1"><rect x="544.25" y="419.59" width="12.9" height="12.9"/><rect x="544.82" y="419.78" width="12.9" height="12.9"/><rect x="545.39" y="419.42" width="12.9" height="12.9"/><rect x="545.95" y="419.60" width="12.9" height="12.9"/><rect x="546.52" y="419.91" width="12.9" height="12.9"/><rect x="547.09" y="419.71" width="12.9" height="12.9"/><rect x="547.66" y="419.23" width="12.9" height="12.9"/><rect x="548.23" y="419.86" width="12.9" height="12.9"/><rect x="548.80" y="419.23" width="12.9" height="12.9"/><rect x="549.36" y="419.21" width="12.9" height="12.9"/><rect x="549.93" y="419.73" width="12.9" height="12.9"/><rect x="550.50" y="419.64" width="12.9" height="12.9"/><rect x="551.07" y="419.73" width="12.9" height="12.9"/><rect x="551.64" y="419.75" width="12.9" height="12.9"/><rect x="552.20" y="419.79" width="12.9" height="12.9"/><rect x="552.77" y="419.95" width="12.9" height="12.9"/><rect x="553.34" y="419.56" width="12.9" height="12.9"/><rect x="553.91" y="419.62" width="12.9" height="12.9"/><rect x="554.48" y="419.54" width="12.9" height="12.9"/><rect x="555.05" y="419.41" width="12.9" height="12.9"/><rect x="555.61" y="419.45" width="12.9" height="12.9"/><rect x="556.18" y="419.71" width="12.9" height="12.9"/><rect x="556.75" y="419.66" width="12.9" height="12.9"/><rect x="557.32" y="419.98" width="12.9" height="12.9"/><rect x="557.89" y="419.62" width="12.9" height="12.9"/><rect x="558.46" y="419.45" width="12.9" height="12.9"/><rect x="559.02" y="419.28" width="12.9" height="12.9"/><rect x="559.59" y="419.86" width="12.9" height="12.9"/><rect x="560.16" y="420.01" width="12.9" height="12.9"/><rect x="560.73" y="419.74" width="12.9" height="12.9"/><rect x="561.30" y="419.80" width="12.9" height="12.9"/><rect x="561.86" y="419.50" width="12.9" height="12.9"/><rect x="562.43" y="419.41" width="12.9" height="12.9"/><rect x="563.00" y="419.52" width="12.9" height="12.9"/><rect x="563.57" y="419.29" width="12.9" height="12.9"/><rect x="564.14" y="419.71" width="12.9" height="12.9"/><rect x="564.71" y="419.18" width="12.9" height="12.9"/><rect x="565.27" y="419.02" width="12.9" height="12.9"/><rect x="565.84" y="417.37" width="12.9" height="12.9"/><rect x="566.41" y="419.89" width="12.9" height="12.9"/><rect x="566.98" y="419.43" width="12.9" height="12.9"/><rect x="567.55" y="419.46" width="12.9" height="12.9"/><rect x="568.11" y="419.63" width="12.9" height="12.9"/><rect x="568.68" y="419.40" width="12.9" height="12.9"/><rect x="569.25" y="419.78" width="12.9" height="12.9"/><rect x="569.82" y="419.87" width="12.9" height="12.9"/><rect x="570.39" y="419.36" width="12.9" height="12.9"/><rect x="570.96" y="419.78" width="12.9" height="12.9"/><rect x="571.52" y="419.55" width="12.9" height="12.9"/><rect x="572.09" y="419.43" width="12.9" height="12.9"/><rect x="572.66" y="421.36" width="12.9" height="12.9"/><rect x="573.23" y="419.95" width="12.9" height="12.9"/><rect x="573.80" y="419.91" width="12.9" height="12.9"/><rect x="574.36" y="419.66" width="12.9" height="12.9"/><rect x="574.93" y="420.02" width="12.9" height="12.9"/><rect x="575.50" y="419.54" width="12.9" height="12.9"/><rect x="576.07" y="419.61" width="12.9" height="12.9"/><rect x="576.64" y="419.58" width="12.9" height="12.9"/><rect x="577.21" y="419.97" width="12.9" height="12.9"/><rect x="577.77" y="419.33" width="12.9" height="12.9"/><rect x="578.34" y="419.93" width="12.9" height="12.9"/><rect x="578.91" y="419.86" width="12.9" height="12.9"/><rect x="579.48" y="419.69" width="12.9" height="12.9"/><rect x="580.05" y="419.79" width="12.9" height="12.9"/><rect x="580.61" y="419.79" width="12.9" height="12.9"/><rect x="581.18" y="419.65" width="12.9" height="12.9"/><rect x="581.75" y="420.15" width="12.9" height="12.9"/><rect x="582.32" y="419.73" width="12.9" height="12.9"/><rect x="582.89" y="419.65" width="12.9" height="12.9"/><rect x="583.46" y="419.88" width="12.9" height="12.9"/><rect x="584.02" y="420.11" width="12.9" height="12.9"/><rect x="584.59" y="419.01" width="12.9" height="12.9"/><rect x="585.16" y="419.75" width="12.9" height="12.9"/><rect x="585.73" y="419.71" width="12.9" height="12.9"/><rect x="586.30" y="422.22" width="12.9" height="12.9"/><rect x="586.87" y="419.52" width="12.9" height="12.9"/><rect x="587.43" y="419.59" width="12.9" height="12.9"/><rect x="588.00" y="419.63" width="12.9" height="12.9"/><rect x="588.57" y="419.90" width="12.9" height="12.9"/><rect x="589.14" y="419.36" width="12.9" height="12.9"/><rect x="589.71" y="419.86" width="12.9" height="12.9"/><rect x="590.27" y="420.02" width="12.9" height="12.9"/><rect x="590.84" y="419.56" width="12.9" height="12.9"/><rect x="591.41" y="419.81" width="12.9" height="12.9"/><rect x="591.98" y="419.92" width="12.9" height="12.9"/><rect x="592.55" y="419.29" width="12.9" height="12.9"/><rect x="593.12" y="419.69" width="12.9" height="12.9"/><rect x="593.68" y="418.45" width="12.9" height="12.9"/><rect x="594.25" y="419.72" width="12.9" height="12.9"/><rect x="594.82" y="419.38" width="12.9" height="12.9"/><rect x="595.39" y="419.40" width="12.9" height="12.9"/><rect x="595.96" y="420.03" width="12.9" height="12.9"/><rect x="596.52" y="419.75" width="12.9" height="12.9"/><rect x="597.09" y="419.63" width="12.9" height="12.9"/><rect x="597.66" y="419.50" width="12.9" height="12.9"/><rect x="598.23" y="419.89" width="12.9" height="12.9"/><rect x="598.80" y="420.20" width="12.9" height="12.9"/><rect x="599.37" y="419.66" width="12.9" height="12.9"/><rect x="599.93" y="419.71" width="12.9" height="12.9"/><rect x="600.50" y="419.54" width="12.9" height="12.9"/><rect x="601.07" y="419.81" width="12.9" height="12.9"/><rect x="601.64" y="420.15" width="12.9" height="12.9"/><rect x="602.21" y="420.17" width="12.9" height="12.9"/><rect x="602.77" y="419.96" width="12.9" height="12.9"/><rect x="603.34" y="419.65" width="12.9" height="12.9"/><rect x="603.91" y="419.54" width="12.9" height="12.9"/><rect x="604.48" y="419.98" width="12.9" height="12.9"/><rect x="605.05" y="419.71" width="12.9" height="12.9"/><rect x="605.62" y="419.39" width="12.9" height="12.9"/><rect x="606.18" y="419.43" width="12.9" height="12.9"/><rect x="606.75" y="418.33" width="12.9" height="12.9"/><rect x="607.32" y="419.91" width="12.9" height="12.9"/><rect x="607.89" y="419.89" width="12.9" height="12.9"/><rect x="608.46" y="419.54" width="12.9" height="12.9"/><rect x="609.02" y="419.70" width="12.9" height="12.9"/><rect x="609.59" y="419.83" width="12.9" height="12.9"/><rect x="610.16" y="419.48" width="12.9" height="12.9"/><rect x="610.73" y="419.55" width="12.9" height="12.9"/><rect x="611.30" y="419.85" width="12.9" height="12.9"/><rect x="611.87" y="419.52" width="12.9" height="12.9"/><rect x="612.43" y="419.87" width="12.9" height="12.9"/><rect x="613.00" y="419.50" width="12.9" height="12.9"/><rect x="613.57" y="417.35" width="12.9" height="12.9"/><rect x="614.14" y="419.59" width="12.9" height="12.9"/><rect x="614.71" y="419.31" width="12.9" height="12.9"/><rect x="615.27" y="419.38" width="12.9" height="12.9"/><rect x="615.84" y="419.56" width="12.9" height="12.9"/><rect x="616.41" y="419.56" width="12.9" height="12.9"/><rect x="616.98" y="419.37" width="12.9" height="12.9"/><rect x="617.55" y="419.59" width="12.9" height="12.9"/><rect x="618.12" y="419.80" width="12.9" height="12.9"/><rect x="618.68" y="419.71" width="12.9" height="12.9"/><rect x="619.25" y="419.59" width="12.9" height="12.9"/><rect x="619.82" y="419.67" width="12.9" height="12.9"/><rect x="620.39" y="419.34" width="12.9" height="12.9"/><rect x="620.96" y="420.25" width="12.9" height="12.9"/><rect x="621.53" y="419.60" width="12.9" height="12.9"/><rect x="622.09" y="419.94" width="12.9" height="12.9"/><rect x="622.66" y="419.65" width="12.9" height="12.9"/><rect x="623.23" y="419.95" width="12.9" height="12.9"/><rect x="623.80" y="420.12" width="12.9" height="12.9"/><rect x="624.37" y="419.40" width="12.9" height="12.9"/><rect x="624.93" y="419.43" width="12.9" height="12.9"/><rect x="625.50" y="419.77" width="12.9" height="12.9"/><rect x="626.07" y="419.49" width="12.9" height="12.9"/><rect x="626.64" y="419.73" width="12.9" height="12.9"/><rect x="627.21" y="419.75" width="12.9" height="12.9"/><rect x="627.78" y="419.07" width="12.9" height="12.9"/><rect x="628.34" y="419.65" width="12.9" height="12.9"/><rect x="628.91" y="419.79" width="12.9" height="12.9"/><rect x="629.48" y="420.08" width="12.9" height="12.9"/><rect x="630.05" y="419.94" width="12.9" height="12.9"/><rect x="630.62" y="419.71" width="12.9" height="12.9"/><rect x="631.18" y="420.04" width="12.9" height="12.9"/><rect x="631.75" y="419.44" width="12.9" height="12.9"/><rect x="632.32" y="419.76" width="12.9" height="12.9"/><rect x="632.89" y="419.50" width="12.9" height="12.9"/><rect x="633.46" y="419.89" width="12.9" height="12.9"/><rect x="634.03" y="419.44" width="12.9" height="12.9"/><rect x="634.59" y="419.63" width="12.9" height="12.9"/><rect x="635.16" y="419.81" width="12.9" height="12.9"/><rect x="635.73" y="419.56" width="12.9" height="12.9"/><rect x="636.30" y="419.58" width="12.9" height="12.9"/><rect x="636.87" y="420.19" width="12.9" height="12.9"/><rect x="637.43" y="419.86" width="12.9" height="12.9"/><rect x="638.00" y="419.21" width="12.9" height="12.9"/><rect x="638.57" y="419.39" width="12.9" height="12.9"/><rect x="639.14" y="419.82" width="12.9" height="12.9"/><rect x="639.71" y="419.56" width="12.9" height="12.9"/><rect x="640.28" y="419.83" width="12.9" height="12.9"/><rect x="640.84" y="418.31" width="12.9" height="12.9"/><rect x="641.41" y="419.53" width="12.9" height="12.9"/><rect x="641.98" y="420.08" width="12.9" height="12.9"/><rect x="642.55" y="419.90" width="12.9" height="12.9"/><rect x="643.12" y="419.43" width="12.9" height="12.9"/><rect x="643.68" y="419.72" width="12.9" height="12.9"/><rect x="644.25" y="419.64" width="12.9" height="12.9"/><rect x="644.82" y="419.78" width="12.9" height="12.9"/><rect x="645.39" y="419.76" width="12.9" height="12.9"/><rect x="645.96" y="419.74" width="12.9" height="12.9"/><rect x="646.53" y="419.57" width="12.9" height="12.9"/><rect x="647.09" y="419.85" width="12.9" height="12.9"/><rect x="647.66" y="419.49" width="12.9" height="12.9"/><rect x="648.23" y="422.15" width="12.9" height="12.9"/><rect x="648.80" y="419.70" width="12.9" height="12.9"/><rect x="649.37" y="419.66" width="12.9" height="12.9"/><rect x="649.94" y="419.46" width="12.9" height="12.9"/><rect x="650.50" y="419.63" width="12.9" height="12.9"/><rect x="651.07" y="419.44" width="12.9" height="12.9"/><rect x="651.64" y="419.35" width="12.9" height="12.9"/><rect x="652.21" y="419.86" width="12.9" height="12.9"/><rect x="652.78" y="419.61" width="12.9" height="12.9"/><rect x="653.34" y="419.81" width="12.9" height="12.9"/><rect x="653.91" y="420.14" width="12.9" height="12.9"/><rect x="654.48" y="420.36" width="12.9" height="12.9"/><rect x="655.05" y="422.10" width="12.9" height="12.9"/><rect x="655.62" y="419.57" width="12.9" height="12.9"/><rect x="656.19" y="419.69" width="12.9" height="12.9"/><rect x="656.75" y="418.99" width="12.9" height="12.9"/><rect x="657.32" y="419.63" width="12.9" height="12.9"/><rect x="657.89" y="419.80" width="12.9" height="12.9"/><rect x="658.46" y="422.19" width="12.9" height="12.9"/><rect x="659.03" y="420.30" width="12.9" height="12.9"/><rect x="659.59" y="419.49" width="12.9" height="12.9"/><rect x="660.16" y="419.86" width="12.9" height="12.9"/><rect x="660.73" y="417.60" width="12.9" height="12.9"/><rect x="661.30" y="419.82" width="12.9" height="12.9"/><rect x="661.87" y="419.75" width="12.9" height="12.9"/><rect x="662.44" y="419.67" width="12.9" height="12.9"/><rect x="663.00" y="419.54" width="12.9" height="12.9"/><rect x="663.57" y="419.44" width="12.9" height="12.9"/><rect x="664.14" y="419.52" width="12.9" height="12.9"/><rect x="664.71" y="420.19" width="12.9" height="12.9"/><rect x="665.28" y="419.97" width="12.9" height="12.9"/><rect x="665.84" y="419.99" width="12.9" height="12.9"/><rect x="666.41" y="419.38" width="12.9" height="12.9"/><rect x="666.98" y="419.60" width="12.9" height="12.9"/><rect x="667.55" y="419.36" width="12.9" height="12.9"/><rect x="668.12" y="419.94" width="12.9" height="12.9"/><rect x="668.69" y="420.02" width="12.9" height="12.9"/><rect x="669.25" y="419.30" width="12.9" height="12.9"/><rect x="669.82" y="419.82" width="12.9" height="12.9"/><rect x="670.39" y="419.66" width="12.9" height="12.9"/><rect x="670.96" y="420.83" width="12.9" height="12.9"/><rect x="671.53" y="419.71" width="12.9" height="12.9"/><rect x="672.10" y="419.69" width="12.9" height="12.9"/><rect x="672.66" y="419.45" width="12.9" height="12.9"/><rect x="673.23" y="421.34" width="12.9" height="12.9"/><rect x="673.80" y="419.63" width="12.9" height="12.9"/><rect x="674.37" y="419.65" width="12.9" height="12.9"/><rect x="674.94" y="419.34" width="12.9" height="12.9"/><rect x="675.50" y="419.64" width="12.9" height="12.9"/><rect x="676.07" y="419.63" width="12.9" height="12.9"/><rect x="676.64" y="419.46" width="12.9" height="12.9"/><rect x="677.21" y="419.63" width="12.9" height="12.9"/><rect x="677.78" y="419.48" width="12.9" height="12.9"/><rect x="678.35" y="419.40" width="12.9" height="12.9"/><rect x="678.91" y="419.66" width="12.9" height="12.9"/><rect x="679.48" y="419.69" width="12.9" height="12.9"/><rect x="680.05" y="419.31" width="12.9" height="12.9"/><rect x="680.62" y="419.76" width="12.9" height="12.9"/><rect x="681.19" y="419.80" width="12.9" height="12.9"/><rect x="681.75" y="419.61" width="12.9" height="12.9"/><rect x="682.32" y="419.63" width="12.9" height="12.9"/><rect x="682.89" y="419.47" width="12.9" height="12.9"/><rect x="683.46" y="419.31" width="12.9" height="12.9"/><rect x="684.03" y="419.37" width="12.9" height="12.9"/><rect x="684.60" y="419.62" width="12.9" height="12.9"/><rect x="685.16" y="419.78" width="12.9" height="12.9"/><rect x="685.73" y="419.55" width="12.9" height="12.9"/><rect x="686.30" y="419.93" width="12.9" height="12.9"/><rect x="686.87" y="419.68" width="12.9" height="12.9"/><rect x="687.44" y="419.46" width="12.9" height="12.9"/><rect x="688.00" y="419.71" width="12.9" height="12.9"/><rect x="688.57" y="419.73" width="12.9" height="12.9"/><rect x="689.14" y="419.97" width="12.9" height="12.9"/><rect x="689.71" y="419.78" width="12.9" height="12.9"/><rect x="690.28" y="419.61" width="12.9" height="12.9"/><rect x="690.85" y="419.95" width="12.9" height="12.9"/><rect x="691.41" y="419.40" width="12.9" height="12.9"/><rect x="691.98" y="417.59" width="12.9" height="12.9"/><rect x="692.55" y="419.65" width="12.9" height="12.9"/><rect x="693.12" y="419.32" width="12.9" height="12.9"/><rect x="693.69" y="419.88" width="12.9" height="12.9"/><rect x="694.25" y="419.81" width="12.9" height="12.9"/><rect x="694.82" y="419.80" width="12.9" height="12.9"/><rect x="695.39" y="419.17" width="12.9" height="12.9"/><rect x="695.96" y="422.50" width="12.9" height="12.9"/><rect x="696.53" y="419.65" width="12.9" height="12.9"/><rect x="697.10" y="419.74" width="12.9" height="12.9"/><rect x="697.66" y="420.16" width="12.9" height="12.9"/><rect x="698.23" y="419.91" width="12.9" height="12.9"/><rect x="698.80" y="419.63" width="12.9" height="12.9"/><rect x="699.37" y="419.73" width="12.9" height="12.9"/><rect x="699.94" y="420.04" width="12.9" height="12.9"/><rect x="700.50" y="420.19" width="12.9" height="12.9"/><rect x="701.07" y="419.71" width="12.9" height="12.9"/><rect x="701.64" y="417.22" width="12.9" height="12.9"/><rect x="702.21" y="420.16" width="12.9" height="12.9"/><rect x="702.78" y="419.34" width="12.9" height="12.9"/><rect x="703.35" y="420.04" width="12.9" height="12.9"/><rect x="703.91" y="419.77" width="12.9" height="12.9"/><rect x="704.48" y="419.52" width="12.9" height="12.9"/><rect x="705.05" y="419.49" width="12.9" height="12.9"/><rect x="705.62" y="419.85" width="12.9" height="12.9"/><rect x="706.19" y="419.85" width="12.9" height="12.9"/><rect x="706.76" y="419.60" width="12.9" height="12.9"/><rect x="707.32" y="418.97" width="12.9" height="12.9"/><rect x="707.89" y="419.55" width="12.9" height="12.9"/><rect x="708.46" y="419.95" width="12.9" height="12.9"/><rect x="709.03" y="419.74" width="12.9" height="12.9"/><rect x="709.60" y="419.80" width="12.9" height="12.9"/><rect x="710.16" y="419.75" width="12.9" height="12.9"/><rect x="710.73" y="420.18" width="12.9" height="12.9"/><rect x="711.30" y="419.75" width="12.9" height="12.9"/><rect x="711.87" y="419.78" width="12.9" height="12.9"/><rect x="712.44" y="419.81" width="12.9" height="12.9"/><rect x="713.01" y="419.75" width="12.9" height="12.9"/><rect x="713.57" y="419.97" width="12.9" height="12.9"/><rect x="714.14" y="419.38" width="12.9" height="12.9"/><rect x="714.71" y="419.41" width="12.9" height="12.9"/><rect x="715.28" y="419.61" width="12.9" height="12.9"/><rect x="715.85" y="419.54" width="12.9" height="12.9"/><rect x="716.41" y="420.30" width="12.9" height="12.9"/><rect x="716.98" y="419.31" width="12.9" height="12.9"/><rect x="717.55" y="419.29" width="12.9" height="12.9"/><rect x="718.12" y="419.65" width="12.9" height="12.9"/><rect x="718.69" y="419.90" width="12.9" height="12.9"/><rect x="719.26" y="418.45" width="12.9" height="12.9"/><rect x="719.82" y="419.24" width="12.9" height="12.9"/><rect x="720.39" y="419.69" width="12.9" height="12.9"/><rect x="720.96" y="419.20" width="12.9" height="12.9"/><rect x="721.53" y="420.17" width="12.9" height="12.9"/><rect x="722.10" y="419.91" width="12.9" height="12.9"/><rect x="722.66" y="419.38" width="12.9" height="12.9"/><rect x="723.23" y="419.70" width="12.9" height="12.9"/><rect x="723.80" y="420.04" width="12.9" height="12.9"/><rect x="724.37" y="420.20" width="12.9" height="12.9"/><rect x="724.94" y="419.50" width="12.9" height="12.9"/><rect x="725.51" y="419.19" width="12.9" height="12.9"/><rect x="726.07" y="419.65" width="12.9" height="12.9"/><rect x="726.64" y="419.64" width="12.9" height="12.9"/><rect x="727.21" y="420.04" width="12.9" height="12.9"/><rect x="727.78" y="419.74" width="12.9" height="12.9"/><rect x="728.35" y="419.39" width="12.9" height="12.9"/><rect x="728.91" y="419.60" width="12.9" height="12.9"/><rect x="729.48" y="419.46" width="12.9" height="12.9"/><rect x="730.05" y="420.22" width="12.9" height="12.9"/><rect x="730.62" y="419.65" width="12.9" height="12.9"/><rect x="731.19" y="419.64" width="12.9" height="12.9"/><rect x="731.76" y="419.61" width="12.9" height="12.9"/><rect x="732.32" y="419.86" width="12.9" height="12.9"/><rect x="732.89" y="417.34" width="12.9" height="12.9"/><rect x="733.46" y="419.60" width="12.9" height="12.9"/><rect x="734.03" y="419.63" width="12.9" height="12.9"/><rect x="734.60" y="419.70" width="12.9" height="12.9"/><rect x="735.17" y="419.48" width="12.9" height="12.9"/><rect x="735.73" y="419.74" width="12.9" height="12.9"/><rect x="736.30" y="419.66" width="12.9" height="12.9"/><rect x="736.87" y="419.72" width="12.9" height="12.9"/><rect x="737.44" y="419.58" width="12.9" height="12.9"/><rect x="738.01" y="419.50" width="12.9" height="12.9"/><rect x="738.57" y="419.48" width="12.9" height="12.9"/><rect x="739.14" y="419.64" width="12.9" height="12.9"/><rect x="739.71" y="419.73" width="12.9" height="12.9"/><rect x="740.28" y="419.49" width="12.9" height="12.9"/><rect x="740.85" y="419.48" width="12.9" height="12.9"/><rect x="741.42" y="420.24" width="12.9" height="12.9"/><rect x="741.98" y="419.69" width="12.9" height="12.9"/><rect x="742.55" y="419.91" width="12.9" height="12.9"/><rect x="743.12" y="419.80" width="12.9" height="12.9"/><rect x="743.69" y="419.85" width="12.9" height="12.9"/><rect x="744.26" y="419.70" width="12.9" height="12.9"/><rect x="744.82" y="419.71" width="12.9" height="12.9"/><rect x="745.39" y="420.07" width="12.9" height="12.9"/><rect x="745.96" y="419.34" width="12.9" height="12.9"/><rect x="746.53" y="419.85" width="12.9" height="12.9"/><rect x="747.10" y="419.56" width="12.9" height="12.9"/><rect x="747.67" y="419.65" width="12.9" height="12.9"/><rect x="748.23" y="419.59" width="12.9" height="12.9"/><rect x="748.80" y="419.49" width="12.9" height="12.9"/><rect x="749.37" y="422.31" width="12.9" height="12.9"/><rect x="749.94" y="419.88" width="12.9" height="12.9"/><rect x="750.51" y="419.78" width="12.9" height="12.9"/><rect x="751.07" y="419.66" width="12.9" height="12.9"/><rect x="751.64" y="419.41" width="12.9" height="12.9"/><rect x="752.21" y="419.69" width="12.9" height="12.9"/><rect x="752.78" y="419.55" width="12.9" height="12.9"/><rect x="753.35" y="419.39" width="12.9" height="12.9"/><rect x="753.92" y="419.58" width="12.9" height="12.9"/><rect x="754.48" y="419.30" width="12.9" height="12.9"/><rect x="755.05" y="419.71" width="12.9" height="12.9"/><rect x="755.62" y="419.45" width="12.9" height="12.9"/><rect x="756.19" y="419.79" width="12.9" height="12.9"/><rect x="756.76" y="419.80" width="12.9" height="12.9"/><rect x="757.33" y="419.71" width="12.9" height="12.9"/><rect x="757.89" y="419.50" width="12.9" height="12.9"/><rect x="758.46" y="419.82" width="12.9" height="12.9"/><rect x="759.03" y="419.64" width="12.9" height="12.9"/><rect x="759.60" y="419.27" width="12.9" height="12.9"/><rect x="760.17" y="419.59" width="12.9" height="12.9"/><rect x="760.73" y="419.32" width="12.9" height="12.9"/><rect x="761.30" y="420.08" width="12.9" height="12.9"/><rect x="761.87" y="419.84" width="12.9" height="12.9"/><rect x="762.44" y="419.23" width="12.9" height="12.9"/><rect x="763.01" y="419.74" width="12.9" height="12.9"/><rect x="763.58" y="419.70" width="12.9" height="12.9"/><rect x="764.14" y="422.03" width="12.9" height="12.9"/><rect x="764.71" y="419.84" width="12.9" height="12.9"/><rect x="765.28" y="419.26" width="12.9" height="12.9"/><rect x="765.85" y="419.55" width="12.9" height="12.9"/><rect x="766.42" y="419.86" width="12.9" height="12.9"/><rect x="766.98" y="419.79" width="12.9" height="12.9"/><rect x="767.55" y="420.05" width="12.9" height="12.9"/><rect x="768.12" y="419.96" width="12.9" height="12.9"/><rect x="768.69" y="419.72" width="12.9" height="12.9"/><rect x="769.26" y="420.20" width="12.9" height="12.9"/><rect x="769.83" y="419.15" width="12.9" height="12.9"/><rect x="770.39" y="419.89" width="12.9" height="12.9"/><rect x="770.96" y="419.82" width="12.9" height="12.9"/><rect x="771.53" y="419.68" width="12.9" height="12.9"/><rect x="772.10" y="419.91" width="12.9" height="12.9"/><rect x="772.67" y="419.64" width="12.9" height="12.9"/><rect x="773.23" y="419.17" width="12.9" height="12.9"/><rect x="773.80" y="419.76" width="12.9" height="12.9"/><rect x="774.37" y="419.47" width="12.9" height="12.9"/><rect x="774.94" y="419.64" width="12.9" height="12.9"/><rect x="775.51" y="419.48" width="12.9" height="12.9"/><rect x="776.08" y="419.95" width="12.9" height="12.9"/><rect x="776.64" y="420.08" width="12.9" height="12.9"/><rect x="777.21" y="419.03" width="12.9" height="12.9"/><rect x="777.78" y="420.12" width="12.9" height="12.9"/><rect x="778.35" y="419.78" width="12.9" height="12.9"/><rect x="778.92" y="419.31" width="12.9" height="12.9"/><rect x="779.48" y="419.19" width="12.9" height="12.9"/><rect x="780.05" y="419.72" width="12.9" height="12.9"/><rect x="780.62" y="419.85" width="12.9" height="12.9"/><rect x="781.19" y="419.70" width="12.9" height="12.9"/><rect x="781.76" y="419.98" width="12.9" height="12.9"/><rect x="782.33" y="419.59" width="12.9" height="12.9"/><rect x="782.89" y="419.83" width="12.9" height="12.9"/><rect x="783.46" y="419.45" width="12.9" height="12.9"/><rect x="784.03" y="419.76" width="12.9" height="12.9"/><rect x="784.60" y="419.61" width="12.9" height="12.9"/><rect x="785.17" y="419.70" width="12.9" height="12.9"/><rect x="785.74" y="419.88" width="12.9" height="12.9"/><rect x="786.30" y="419.64" width="12.9" height="12.9"/><rect x="786.87" y="419.99" width="12.9" height="12.9"/><rect x="787.44" y="419.87" width="12.9" height="12.9"/><rect x="788.01" y="419.67" width="12.9" height="12.9"/><rect x="788.58" y="419.59" width="12.9" height="12.9"/><rect x="789.14" y="419.81" width="12.9" height="12.9"/><rect x="789.71" y="419.76" width="12.9" height="12.9"/><rect x="790.28" y="419.69" width="12.9" height="12.9"/><rect x="790.85" y="419.58" width="12.9" height="12.9"/><rect x="791.42" y="419.57" width="12.9" height="12.9"/><rect x="791.99" y="419.48" width="12.9" height="12.9"/><rect x="792.55" y="419.76" width="12.9" height="12.9"/><rect x="793.12" y="419.53" width="12.9" height="12.9"/><rect x="793.69" y="419.95" width="12.9" height="12.9"/><rect x="794.26" y="420.20" width="12.9" height="12.9"/><rect x="794.83" y="419.01" width="12.9" height="12.9"/><rect x="795.39" y="421.13" width="12.9" height="12.9"/><rect x="795.96" y="419.48" width="12.9" height="12.9"/><rect x="796.53" y="419.76" width="12.9" height="12.9"/><rect x="797.10" y="419.42" width="12.9" height="12.9"/><rect x="797.67" y="419.67" width="12.9" height="12.9"/><rect x="798.24" y="419.69" width="12.9" height="12.9"/><rect x="798.80" y="419.74" width="12.9" height="12.9"/><rect x="799.37" y="419.59" width="12.9" height="12.9"/><rect x="799.94" y="419.51" width="12.9" height="12.9"/><rect x="800.51" y="419.65" width="12.9" height="12.9"/><rect x="801.08" y="419.76" width="12.9" height="12.9"/><rect x="801.64" y="419.60" width="12.9" height="12.9"/><rect x="802.21" y="419.81" width="12.9" height="12.9"/><rect x="802.78" y="419.62" width="12.9" height="12.9"/><rect x="803.35" y="419.93" width="12.9" height="12.9"/><rect x="803.92" y="419.61" width="12.9" height="12.9"/><rect x="804.49" y="419.24" width="12.9" height="12.9"/><rect x="805.05" y="420.00" width="12.9" height="12.9"/><rect x="805.62" y="419.88" width="12.9" height="12.9"/><rect x="806.19" y="420.02" width="12.9" height="12.9"/><rect x="806.76" y="419.92" width="12.9" height="12.9"/><rect x="807.33" y="419.26" width="12.9" height="12.9"/><rect x="807.89" y="419.41" width="12.9" height="12.9"/><rect x="808.46" y="419.83" width="12.9" height="12.9"/><rect x="809.03" y="419.66" width="12.9" height="12.9"/><rect x="809.60" y="420.05" width="12.9" height="12.9"/><rect x="810.17" y="419.26" width="12.9" height="12.9"/><rect x="810.74" y="419.49" width="12.9" height="12.9"/><rect x="811.30" y="419.90" width="12.9" height="12.9"/><rect x="811.87" y="419.88" width="12.9" height="12.9"/><rect x="812.44" y="419.56" width="12.9" height="12.9"/><rect x="813.01" y="419.89" width="12.9" height="12.9"/><rect x="813.58" y="419.50" width="12.9" height="12.9"/><rect x="814.14" y="417.42" width="12.9" height="12.9"/><rect x="814.71" y="419.38" width="12.9" height="12.9"/><rect x="815.28" y="419.71" width="12.9" height="12.9"/><rect x="815.85" y="419.89" width="12.9" height="12.9"/><rect x="816.42" y="419.26" width="12.9" height="12.9"/><rect x="816.99" y="419.50" width="12.9" height="12.9"/><rect x="817.55" y="419.84" width="12.9" height="12.9"/><rect x="818.12" y="419.61" width="12.9" height="12.9"/><rect x="818.69" y="419.59" width="12.9" height="12.9"/><rect x="819.26" y="419.49" width="12.9" height="12.9"/><rect x="819.83" y="420.02" width="12.9" height="12.9"/><rect x="820.40" y="419.94" width="12.9" height="12.9"/><rect x="820.96" y="417.93" width="12.9" height="12.9"/><rect x="821.53" y="420.06" width="12.9" height="12.9"/><rect x="822.10" y="419.64" width="12.9" height="12.9"/><rect x="822.67" y="419.94" width="12.9" height="12.9"/><rect x="823.24" y="419.62" width="12.9" height="12.9"/><rect x="823.80" y="419.87" width="12.9" height="12.9"/><rect x="824.37" y="420.03" width="12.9" height="12.9"/><rect x="824.94" y="419.40" width="12.9" height="12.9"/><rect x="825.51" y="419.99" width="12.9" height="12.9"/><rect x="826.08" y="419.58" width="12.9" height="12.9"/><rect x="826.65" y="420.10" width="12.9" height="12.9"/><rect x="827.21" y="419.80" width="12.9" height="12.9"/><rect x="827.78" y="419.57" width="12.9" height="12.9"/><rect x="828.35" y="419.62" width="12.9" height="12.9"/><rect x="828.92" y="419.71" width="12.9" height="12.9"/><rect x="829.49" y="420.00" width="12.9" height="12.9"/><rect x="830.05" y="419.50" width="12.9" height="12.9"/><rect x="830.62" y="419.68" width="12.9" height="12.9"/><rect x="831.19" y="419.53" width="12.9" height="12.9"/><rect x="831.76" y="419.33" width="12.9" height="12.9"/><rect x="832.33" y="420.04" width="12.9" height="12.9"/><rect x="832.90" y="419.74" width="12.9" height="12.9"/><rect x="833.46" y="419.57" width="12.9" height="12.9"/><rect x="834.03" y="419.30" width="12.9" height="12.9"/><rect x="834.60" y="419.93" width="12.9" height="12.9"/><rect x="835.17" y="419.44" width="12.9" height="12.9"/><rect x="835.74" y="419.54" width="12.9" height="12.9"/><rect x="836.30" y="419.83" width="12.9" height="12.9"/><rect x="836.87" y="420.02" width="12.9" height="12.9"/><rect x="837.44" y="419.64" width="12.9" height="12.9"/><rect x="838.01" y="420.01" width="12.9" height="12.9"/><rect x="838.58" y="418.04" width="12.9" height="12.9"/><rect x="839.15" y="419.46" width="12.9" height="12.9"/><rect x="839.71" y="419.56" width="12.9" height="12.9"/><rect x="840.28" y="419.99" width="12.9" height="12.9"/><rect x="840.85" y="419.93" width="12.9" height="12.9"/><rect x="841.42" y="419.74" width="12.9" height="12.9"/><rect x="841.99" y="419.95" width="12.9" height="12.9"/><rect x="842.56" y="419.76" width="12.9" height="12.9"/><rect x="843.12" y="419.40" width="12.9" height="12.9"/><rect x="843.69" y="419.60" width="12.9" height="12.9"/><rect x="844.26" y="419.34" width="12.9" height="12.9"/><rect x="844.83" y="421.50" width="12.9" height="12.9"/><rect x="845.40" y="419.58" width="12.9" height="12.9"/><rect x="845.96" y="419.39" width="12.9" height="12.9"/><rect x="846.53" y="419.55" width="12.9" height="12.9"/><rect x="847.10" y="419.48" width="12.9" height="12.9"/><rect x="847.67" y="420.09" width="12.9" height="12.9"/><rect x="848.24" y="419.81" width="12.9" height="12.9"/><rect x="848.81" y="419.35" width="12.9" height="12.9"/><rect x="849.37" y="419.49" width="12.9" height="12.9"/><rect x="849.94" y="419.65" width="12.9" height="12.9"/><rect x="850.51" y="421.16" width="12.9" height="12.9"/><rect x="851.08" y="419.66" width="12.9" height="12.9"/><rect x="851.65" y="421.24" width="12.9" height="12.9"/><rect x="852.21" y="419.75" width="12.9" height="12.9"/><rect x="852.78" y="419.78" width="12.9" height="12.9"/><rect x="853.35" y="419.36" width="12.9" height="12.9"/><rect x="853.92" y="419.29" width="12.9" height="12.9"/><rect x="854.49" y="419.63" width="12.9" height="12.9"/><rect x="855.06" y="419.72" width="12.9" height="12.9"/><rect x="855.62" y="419.64" width="12.9" height="12.9"/><rect x="856.19" y="419.62" width="12.9" height="12.9"/><rect x="856.76" y="419.25" width="12.9" height="12.9"/><rect x="857.33" y="419.74" width="12.9" height="12.9"/><rect x="857.90" y="419.79" width="12.9" height="12.9"/><rect x="858.46" y="419.76" width="12.9" height="12.9"/><rect x="859.03" y="419.65" width="12.9" height="12.9"/><rect x="859.60" y="419.26" width="12.9" height="12.9"/><rect x="860.17" y="419.62" width="12.9" height="12.9"/><rect x="860.74" y="419.97" width="12.9" height="12.9"/><rect x="861.31" y="419.46" width="12.9" height="12.9"/><rect x="861.87" y="419.62" width="12.9" height="12.9"/><rect x="862.44" y="422.26" width="12.9" height="12.9"/><rect x="863.01" y="420.15" width="12.9" height="12.9"/><rect x="863.58" y="419.74" width="12.9" height="12.9"/><rect x="864.15" y="419.51" width="12.9" height="12.9"/><rect x="864.71" y="419.74" width="12.9" height="12.9"/><rect x="865.28" y="419.88" width="12.9" height="12.9"/><rect x="865.85" y="419.99" width="12.9" height="12.9"/><rect x="866.42" y="419.20" width="12.9" height="12.9"/><rect x="866.99" y="419.37" width="12.9" height="12.9"/><rect x="867.56" y="418.09" width="12.9" height="12.9"/><rect x="868.12" y="419.28" width="12.9" height="12.9"/><rect x="868.69" y="419.80" width="12.9" height="12.9"/><rect x="869.26" y="419.73" width="12.9" height="12.9"/><rect x="869.83" y="419.99" width="12.9" height="12.9"/><rect x="870.40" y="419.69" width="12.9" height="12.9"/><rect x="870.97" y="419.70" width="12.9" height="12.9"/><rect x="871.53" y="418.07" width="12.9" height="12.9"/><rect x="872.10" y="419.76" width="12.9" height="12.9"/><rect x="872.67" y="419.60" width="12.9" height="12.9"/><rect x="873.24" y="419.59" width="12.9" height="12.9"/><rect x="873.81" y="419.91" width="12.9" height="12.9"/><rect x="874.37" y="419.32" width="12.9" height="12.9"/><rect x="874.94" y="419.29" width="12.9" height="12.9"/><rect x="875.51" y="419.57" width="12.9" height="12.9"/><rect x="876.08" y="419.59" width="12.9" height="12.9"/><rect x="876.65" y="419.41" width="12.9" height="12.9"/><rect x="877.22" y="420.25" width="12.9" height="12.9"/><rect x="877.78" y="419.78" width="12.9" height="12.9"/><rect x="878.35" y="420.01" width="12.9" height="12.9"/><rect x="878.92" y="419.87" width="12.9" height="12.9"/><rect x="879.49" y="419.95" width="12.9" height="12.9"/><rect x="880.06" y="419.98" width="12.9" height="12.9"/><rect x="880.62" y="419.55" width="12.9" height="12.9"/><rect x="881.19" y="419.82" width="12.9" height="12.9"/><rect x="881.76" y="420.05" width="12.9" height="12.9"/><rect x="882.33" y="419.78" width="12.9" height="12.9"/><rect x="882.90" y="419.42" width="12.9" height="12.9"/><rect x="883.47" y="419.48" width="12.9" height="12.9"/><rect x="884.03" y="419.67" width="12.9" height="12.9"/><rect x="884.60" y="419.59" width="12.9" height="12.9"/><rect x="885.17" y="419.57" width="12.9" height="12.9"/><rect x="885.74" y="419.67" width="12.9" height="12.9"/><rect x="886.31" y="419.80" width="12.9" height="12.9"/><rect x="886.87" y="419.36" width="12.9" height="12.9"/><rect x="887.44" y="419.45" width="12.9" height="12.9"/><rect x="888.01" y="419.62" width="12.9" height="12.9"/><rect x="888.58" y="419.59" width="12.9" height="12.9"/><rect x="889.15" y="419.74" width="12.9" height="12.9"/><rect x="889.72" y="419.98" width="12.9" height="12.9"/><rect x="890.28" y="419.58" width="12.9" height="12.9"/><rect x="890.85" y="419.52" width="12.9" height="12.9"/><rect x="891.42" y="419.58" width="12.9" height="12.9"/><rect x="891.99" y="419.67" width="12.9" height="12.9"/><rect x="892.56" y="419.80" width="12.9" height="12.9"/><rect x="893.12" y="418.88" width="12.9" height="12.9"/><rect x="893.69" y="419.70" width="12.9" height="12.9"/><rect x="894.26" y="419.60" width="12.9" height="12.9"/><rect x="894.83" y="419.75" width="12.9" height="12.9"/><rect x="895.40" y="419.64" width="12.9" height="12.9"/><rect x="895.97" y="419.39" width="12.9" height="12.9"/><rect x="896.53" y="419.56" width="12.9" height="12.9"/><rect x="897.10" y="419.90" width="12.9" height="12.9"/><rect x="897.67" y="420.00" width="12.9" height="12.9"/><rect x="898.24" y="419.61" width="12.9" height="12.9"/><rect x="898.81" y="419.33" width="12.9" height="12.9"/><rect x="899.38" y="419.44" width="12.9" height="12.9"/><rect x="899.94" y="419.39" width="12.9" height="12.9"/><rect x="900.51" y="419.50" width="12.9" height="12.9"/><rect x="901.08" y="419.44" width="12.9" height="12.9"/><rect x="901.65" y="419.58" width="12.9" height="12.9"/><rect x="902.22" y="419.64" width="12.9" height="12.9"/><rect x="902.78" y="419.83" width="12.9" height="12.9"/><rect x="903.35" y="419.55" width="12.9" height="12.9"/><rect x="903.92" y="419.37" width="12.9" height="12.9"/><rect x="904.49" y="419.81" width="12.9" height="12.9"/><rect x="905.06" y="419.34" width="12.9" height="12.9"/><rect x="905.63" y="419.59" width="12.9" height="12.9"/><rect x="906.19" y="419.32" width="12.9" height="12.9"/><rect x="906.76" y="419.84" width="12.9" height="12.9"/><rect x="907.33" y="419.60" width="12.9" height="12.9"/><rect x="907.90" y="419.84" width="12.9" height="12.9"/><rect x="908.47" y="419.96" width="12.9" height="12.9"/><rect x="909.03" y="419.78" width="12.9" height="12.9"/><rect x="909.60" y="419.82" width="12.9" height="12.9"/><rect x="910.17" y="420.08" width="12.9" height="12.9"/><rect x="910.74" y="420.00" width="12.9" height="12.9"/><rect x="911.31" y="419.61" width="12.9" height="12.9"/><rect x="911.88" y="419.66" width="12.9" height="12.9"/><rect x="912.44" y="419.77" width="12.9" height="12.9"/><rect x="913.01" y="422.84" width="12.9" height="12.9"/><rect x="913.58" y="419.45" width="12.9" height="12.9"/><rect x="914.15" y="419.50" width="12.9" height="12.9"/><rect x="914.72" y="419.35" width="12.9" height="12.9"/><rect x="915.28" y="419.79" width="12.9" height="12.9"/><rect x="915.85" y="419.70" width="12.9" height="12.9"/><rect x="916.42" y="420.05" width="12.9" height="12.9"/><rect x="916.99" y="419.50" width="12.9" height="12.9"/><rect x="917.56" y="419.18" width="12.9" height="12.9"/><rect x="918.13" y="419.44" width="12.9" height="12.9"/><rect x="918.69" y="419.71" width="12.9" height="12.9"/><rect x="919.26" y="419.27" width="12.9" height="12.9"/><rect x="919.83" y="419.86" width="12.9" height="12.9"/><rect x="920.40" y="419.65" width="12.9" height="12.9"/><rect x="920.97" y="419.91" width="12.9" height="12.9"/><rect x="921.53" y="419.33" width="12.9" height="12.9"/><rect x="922.10" y="419.85" width="12.9" height="12.9"/><rect x="922.67" y="419.40" width="12.9" height="12.9"/><rect x="923.24" y="419.29" width="12.9" height="12.9"/><rect x="923.81" y="419.72" width="12.9" height="12.9"/><rect x="924.38" y="419.64" width="12.9" height="12.9"/><rect x="924.94" y="419.77" width="12.9" height="12.9"/><rect x="925.51" y="419.07" width="12.9" height="12.9"/><rect x="926.08" y="419.37" width="12.9" height="12.9"/><rect x="926.65" y="419.51" width="12.9" height="12.9"/><rect x="927.22" y="419.35" width="12.9" height="12.9"/><rect x="927.79" y="419.29" width="12.9" height="12.9"/><rect x="928.35" y="419.81" width="12.9" height="12.9"/><rect x="928.92" y="419.59" width="12.9" height="12.9"/><rect x="929.49" y="419.66" width="12.9" height="12.9"/><rect x="930.06" y="419.52" width="12.9" height="12.9"/><rect x="930.63" y="419.84" width="12.9" height="12.9"/><rect x="931.19" y="417.72" width="12.9" height="12.9"/><rect x="931.76" y="419.95" width="12.9" height="12.9"/><rect x="932.33" y="419.47" width="12.9" height="12.9"/><rect x="932.90" y="419.81" width="12.9" height="12.9"/><rect x="933.47" y="419.78" width="12.9" height="12.9"/><rect x="934.04" y="420.44" width="12.9" height="12.9"/><rect x="934.60" y="419.51" width="12.9" height="12.9"/><rect x="935.17" y="419.94" width="12.9" height="12.9"/><rect x="935.74" y="420.14" width="12.9" height="12.9"/><rect x="936.31" y="419.78" width="12.9" height="12.9"/><rect x="936.88" y="419.99" width="12.9" height="12.9"/><rect x="937.44" y="419.87" width="12.9" height="12.9"/><rect x="938.01" y="419.94" width="12.9" height="12.9"/><rect x="938.58" y="418.94" width="12.9" height="12.9"/><rect x="939.15" y="420.08" width="12.9" height="12.9"/><rect x="939.72" y="419.70" width="12.9" height="12.9"/><rect x="940.29" y="419.37" width="12.9" height="12.9"/><rect x="940.85" y="419.54" width="12.9" height="12.9"/><rect x="941.42" y="419.28" width="12.9" height="12.9"/><rect x="941.99" y="419.20" width="12.9" height="12.9"/><rect x="942.56" y="419.70" width="12.9" height="12.9"/><rect x="943.13" y="419.53" width="12.9" height="12.9"/><rect x="943.69" y="419.47" width="12.9" height="12.9"/><rect x="944.26" y="420.11" width="12.9" height="12.9"/><rect x="944.83" y="419.92" width="12.9" height="12.9"/><rect x="945.40" y="419.57" width="12.9" height="12.9"/><rect x="945.97" y="419.72" width="12.9" height="12.9"/><rect x="946.54" y="419.94" width="12.9" height="12.9"/><rect x="947.10" y="419.54" width="12.9" height="12.9"/><rect x="947.67" y="419.56" width="12.9" height="12.9"/><rect x="948.24" y="419.51" width="12.9" height="12.9"/><rect x="948.81" y="419.39" width="12.9" height="12.9"/><rect x="949.38" y="419.44" width="12.9" height="12.9"/><rect x="949.94" y="419.23" width="12.9" height="12.9"/><rect x="950.51" y="419.78" width="12.9" height="12.9"/><rect x="951.08" y="419.32" width="12.9" height="12.9"/><rect x="951.65" y="419.58" width="12.9" height="12.9"/><rect x="952.22" y="420.10" width="12.9" height="12.9"/><rect x="952.79" y="419.94" width="12.9" height="12.9"/><rect x="953.35" y="419.56" width="12.9" height="12.9"/><rect x="953.92" y="419.93" width="12.9" height="12.9"/><rect x="954.49" y="419.85" width="12.9" height="12.9"/><rect x="955.06" y="419.33" width="12.9" height="12.9"/><rect x="955.63" y="419.24" width="12.9" height="12.9"/><rect x="956.20" y="419.88" width="12.9" height="12.9"/><rect x="956.76" y="419.11" width="12.9" height="12.9"/><rect x="957.33" y="419.70" width="12.9" height="12.9"/><rect x="957.90" y="419.82" width="12.9" height="12.9"/><rect x="958.47" y="419.94" width="12.9" height="12.9"/><rect x="959.04" y="419.48" width="12.9" height="12.9"/><rect x="959.60" y="420.00" width="12.9" height="12.9"/><rect x="960.17" y="419.39" width="12.9" height="12.9"/><rect x="960.74" y="419.71" width="12.9" height="12.9"/><rect x="961.31" y="419.75" width="12.9" height="12.9"/><rect x="961.88" y="418.36" width="12.9" height="12.9"/><rect x="962.45" y="419.41" width="12.9" height="12.9"/><rect x="963.01" y="419.12" width="12.9" height="12.9"/><rect x="963.58" y="419.36" width="12.9" height="12.9"/><rect x="964.15" y="419.63" width="12.9" height="12.9"/><rect x="964.72" y="419.58" width="12.9" height="12.9"/><rect x="965.29" y="419.31" width="12.9" height="12.9"/><rect x="965.85" y="419.46" width="12.9" height="12.9"/><rect x="966.42" y="419.86" width="12.9" height="12.9"/><rect x="966.99" y="419.72" width="12.9" height="12.9"/><rect x="967.56" y="419.91" width="12.9" height="12.9"/><rect x="968.13" y="419.75" width="12.9" height="12.9"/><rect x="968.70" y="419.47" width="12.9" height="12.9"/><rect x="969.26" y="419.45" width="12.9" height="12.9"/><rect x="969.83" y="419.65" width="12.9" height="12.9"/><rect x="970.40" y="419.40" width="12.9" height="12.9"/><rect x="970.97" y="419.28" width="12.9" height="12.9"/><rect x="971.54" y="419.55" width="12.9" height="12.9"/><rect x="972.10" y="419.97" width="12.9" height="12.9"/><rect x="972.67" y="420.04" width="12.9" height="12.9"/><rect x="973.24" y="419.75" width="12.9" height="12.9"/><rect x="973.81" y="421.35" width="12.9" height="12.9"/><rect x="974.38" y="419.71" width="12.9" height="12.9"/><rect x="974.95" y="419.23" width="12.9" height="12.9"/><rect x="975.51" y="419.72" width="12.9" height="12.9"/><rect x="976.08" y="419.42" width="12.9" height="12.9"/><rect x="976.65" y="419.58" width="12.9" height="12.9"/><rect x="977.22" y="419.46" width="12.9" height="12.9"/><rect x="977.79" y="419.18" width="12.9" height="12.9"/><rect x="978.35" y="419.42" width="12.9" height="12.9"/><rect x="978.92" y="419.39" width="12.9" height="12.9"/><rect x="979.49" y="419.83" width="12.9" height="12.9"/><rect x="980.06" y="419.46" width="12.9" height="12.9"/><rect x="980.63" y="420.16" width="12.9" height="12.9"/><rect x="981.20" y="419.69" width="12.9" height="12.9"/><rect x="981.76" y="419.53" width="12.9" height="12.9"/><rect x="982.33" y="419.17" width="12.9" height="12.9"/><rect x="982.90" y="419.97" width="12.9" height="12.9"/><rect x="983.47" y="419.69" width="12.9" height="12.9"/><rect x="984.04" y="419.35" width="12.9" height="12.9"/><rect x="984.61" y="419.65" width="12.9" height="12.9"/><rect x="985.17" y="419.31" width="12.9" height="12.9"/><rect x="985.74" y="419.83" width="12.9" height="12.9"/><rect x="986.31" y="419.51" width="12.9" height="12.9"/><rect x="986.88" y="419.35" width="12.9" height="12.9"/><rect x="987.45" y="419.89" width="12.9" height="12.9"/><rect x="988.01" y="420.00" width="12.9" height="12.9"/><rect x="988.58" y="419.13" width="12.9" height="12.9"/><rect x="989.15" y="419.74" width="12.9" height="12.9"/><rect x="989.72" y="420.02" width="12.9" height="12.9"/><rect x="990.29" y="419.67" width="12.9" height="12.9"/><rect x="990.86" y="419.68" width="12.9" height="12.9"/><rect x="991.42" y="419.77" width="12.9" height="12.9"/><rect x="991.99" y="419.40" width="12.9" height="12.9"/><rect x="992.56" y="419.54" width="12.9" height="12.9"/><rect x="993.13" y="419.37" width="12.9" height="12.9"/><rect x="993.70" y="419.96" width="12.9" height="12.9"/><rect x="994.26" y="419.66" width="12.9" height="12.9"/><rect x="994.83" y="419.44" width="12.9" height="12.9"/><rect x="995.40" y="419.40" width="12.9" height="12.9"/><rect x="995.97" y="419.19" width="12.9" height="12.9"/><rect x="996.54" y="419.74" width="12.9" height="12.9"/><rect x="997.11" y="419.67" width="12.9" height="12.9"/><rect x="997.67" y="419.47" width="12.9" height="12.9"/><rect x="998.24" y="419.48" width="12.9" height="12.9"/><rect x="998.81" y="420.11" width="12.9" height="12.9"/><rect x="999.38" y="419.53" width="12.9" height="12.9"/><rect x="999.95" y="420.03" width="12.9" height="12.9"/><rect x="1000.51" y="419.52" width="12.9" height="12.9"/><rect x="1001.08" y="419.77" width="12.9" height="12.9"/><rect x="1001.65" y="419.62" width="12.9" height="12.9"/><rect x="1002.22" y="419.74" width="12.9" height="12.9"/><rect x="1002.79" y="419.38" width="12.9" height="12.9"/><rect x="1003.36" y="419.59" width="12.9" height="12.9"/><rect x="1003.92" y="420.07" width="12.9" height="12.9"/><rect x="1004.49" y="419.39" width="12.9" height="12.9"/><rect x="1005.06" y="419.40" width="12.9" height="12.9"/><rect x="1005.63" y="421.42" width="12.9" height="12.9"/><rect x="1006.20" y="419.36" width="12.9" height="12.9"/><rect x="1006.76" y="419.55" width="12.9" height="12.9"/><rect x="1007.33" y="419.90" width="12.9" height="12.9"/><rect x="1007.90" y="419.51" width="12.9" height="12.9"/><rect x="1008.47" y="419.34" width="12.9" height="12.9"/><rect x="1009.04" y="419.65" width="12.9" height="12.9"/><rect x="1009.61" y="419.66" width="12.9" height="12.9"/><rect x="1010.17" y="419.26" width="12.9" height="12.9"/><rect x="1010.74" y="419.41" width="12.9" height="12.9"/><rect x="1011.31" y="419.88" width="12.9" height="12.9"/><rect x="1011.88" y="419.25" width="12.9" height="12.9"/><rect x="1012.45" y="419.58" width="12.9" height="12.9"/><rect x="1013.02" y="420.13" width="12.9" height="12.9"/><rect x="1013.58" y="419.85" width="12.9" height="12.9"/><rect x="1014.15" y="419.53" width="12.9" height="12.9"/><rect x="1014.72" y="419.70" width="12.9" height="12.9"/><rect x="1015.29" y="419.49" width="12.9" height="12.9"/><rect x="1015.86" y="419.68" width="12.9" height="12.9"/><rect x="1016.42" y="419.99" width="12.9" height="12.9"/><rect x="1016.99" y="419.70" width="12.9" height="12.9"/><rect x="1017.56" y="419.83" width="12.9" height="12.9"/><rect x="1018.13" y="419.55" width="12.9" height="12.9"/><rect x="1018.70" y="419.68" width="12.9" height="12.9"/><rect x="1019.27" y="419.69" width="12.9" height="12.9"/><rect x="1019.83" y="419.98" width="12.9" height="12.9"/><rect x="1020.40" y="419.37" width="12.9" height="12.9"/><rect x="1020.97" y="419.61" width="12.9" height="12.9"/><rect x="1021.54" y="419.71" width="12.9" height="12.9"/><rect x="1022.11" y="419.80" width="12.9" height="12.9"/><rect x="1022.67" y="419.42" width="12.9" height="12.9"/><rect x="1023.24" y="419.55" width="12.9" height="12.9"/><rect x="1023.81" y="420.47" width="12.9" height="12.9"/><rect x="1024.38" y="419.89" width="12.9" height="12.9"/><rect x="1024.95" y="419.35" width="12.9" height="12.9"/><rect x="1025.52" y="419.32" width="12.9" height="12.9"/><rect x="1026.08" y="417.98" width="12.9" height="12.9"/><rect x="1026.65" y="419.90" width="12.9" height="12.9"/><rect x="1027.22" y="419.87" width="12.9" height="12.9"/><rect x="1027.79" y="419.42" width="12.9" height="12.9"/><rect x="1028.36" y="419.83" width="12.9" height="12.9"/><rect x="1028.92" y="419.56" width="12.9" height="12.9"/><rect x="1029.49" y="419.36" width="12.9" height="12.9"/><rect x="1030.06" y="419.46" width="12.9" height="12.9"/><rect x="1030.63" y="419.22" width="12.9" height="12.9"/><rect x="1031.20" y="418.84" width="12.9" height="12.9"/><rect x="1031.77" y="419.18" width="12.9" height="12.9"/><rect x="1032.33" y="419.47" width="12.9" height="12.9"/><rect x="1032.90" y="419.73" width="12.9" height="12.9"/><rect x="1033.47" y="419.60" width="12.9" height="12.9"/><rect x="1034.04" y="420.11" width="12.9" height="12.9"/><rect x="1034.61" y="420.08" width="12.9" height="12.9"/><rect x="1035.17" y="419.25" width="12.9" height="12.9"/><rect x="1035.74" y="419.17" width="12.9" height="12.9"/><rect x="1036.31" y="419.51" width="12.9" height="12.9"/><rect x="1036.88" y="419.70" width="12.9" height="12.9"/><rect x="1037.45" y="419.66" width="12.9" height="12.9"/><rect x="1038.02" y="419.72" width="12.9" height="12.9"/><rect x="1038.58" y="420.09" width="12.9" height="12.9"/><rect x="1039.15" y="419.34" width="12.9" height="12.9"/><rect x="1039.72" y="419.74" width="12.9" height="12.9"/><rect x="1040.29" y="419.27" width="12.9" height="12.9"/><rect x="1040.86" y="419.78" width="12.9" height="12.9"/><rect x="1041.42" y="419.70" width="12.9" height="12.9"/><rect x="1041.99" y="419.56" width="12.9" height="12.9"/><rect x="1042.56" y="419.46" width="12.9" height="12.9"/><rect x="1043.13" y="419.82" width="12.9" height="12.9"/><rect x="1043.70" y="419.79" width="12.9" height="12.9"/><rect x="1044.27" y="419.50" width="12.9" height="12.9"/><rect x="1044.83" y="419.67" width="12.9" height="12.9"/><rect x="1045.40" y="419.63" width="12.9" height="12.9"/><rect x="1045.97" y="419.61" width="12.9" height="12.9"/><rect x="1046.54" y="420.21" width="12.9" height="12.9"/><rect x="1047.11" y="419.78" width="12.9" height="12.9"/><rect x="1047.68" y="420.00" width="12.9" height="12.9"/><rect x="1048.24" y="419.26" width="12.9" height="12.9"/><rect x="1048.81" y="420.12" width="12.9" height="12.9"/><rect x="1049.38" y="419.98" width="12.9" height="12.9"/><rect x="1049.95" y="419.43" width="12.9" height="12.9"/><rect x="1050.52" y="419.72" width="12.9" height="12.9"/><rect x="1051.08" y="419.55" width="12.9" height="12.9"/><rect x="1051.65" y="419.55" width="12.9" height="12.9"/><rect x="1052.22" y="419.58" width="12.9" height="12.9"/><rect x="1052.79" y="419.34" width="12.9" height="12.9"/><rect x="1053.36" y="419.62" width="12.9" height="12.9"/><rect x="1053.93" y="419.91" width="12.9" height="12.9"/><rect x="1054.49" y="419.77" width="12.9" height="12.9"/><rect x="1055.06" y="419.46" width="12.9" height="12.9"/><rect x="1055.63" y="419.43" width="12.9" height="12.9"/><rect x="1056.20" y="420.14" width="12.9" height="12.9"/><rect x="1056.77" y="420.15" width="12.9" height="12.9"/><rect x="1057.33" y="419.84" width="12.9" height="12.9"/><rect x="1057.90" y="419.45" width="12.9" height="12.9"/><rect x="1058.47" y="419.68" width="12.9" height="12.9"/><rect x="1059.04" y="419.15" width="12.9" height="12.9"/><rect x="1059.61" y="420.23" width="12.9" height="12.9"/><rect x="1060.18" y="419.82" width="12.9" height="12.9"/><rect x="1060.74" y="419.77" width="12.9" height="12.9"/><rect x="1061.31" y="419.62" width="12.9" height="12.9"/><rect x="1061.88" y="421.94" width="12.9" height="12.9"/><rect x="1062.45" y="419.38" width="12.9" height="12.9"/><rect x="1063.02" y="419.63" width="12.9" height="12.9"/><rect x="1063.58" y="419.60" width="12.9" height="12.9"/><rect x="1064.15" y="419.88" width="12.9" height="12.9"/><rect x="1064.72" y="419.62" width="12.9" height="12.9"/><rect x="1065.29" y="419.81" width="12.9" height="12.9"/><rect x="1065.86" y="419.67" width="12.9" height="12.9"/><rect x="1066.43" y="419.80" width="12.9" height="12.9"/><rect x="1066.99" y="419.96" width="12.9" height="12.9"/><rect x="1067.56" y="419.39" width="12.9" height="12.9"/><rect x="1068.13" y="419.89" width="12.9" height="12.9"/><rect x="1068.70" y="419.93" width="12.9" height="12.9"/><rect x="1069.27" y="419.64" width="12.9" height="12.9"/><rect x="1069.84" y="419.68" width="12.9" height="12.9"/><rect x="1070.40" y="419.95" width="12.9" height="12.9"/><rect x="1070.97" y="419.18" width="12.9" height="12.9"/><rect x="1071.54" y="419.58" width="12.9" height="12.9"/><rect x="1072.11" y="420.00" width="12.9" height="12.9"/><rect x="1072.68" y="419.29" width="12.9" height="12.9"/><rect x="1073.24" y="419.88" width="12.9" height="12.9"/><rect x="1073.81" y="419.65" width="12.9" height="12.9"/><rect x="1074.38" y="419.97" width="12.9" height="12.9"/><rect x="1074.95" y="419.55" width="12.9" height="12.9"/><rect x="1075.52" y="419.34" width="12.9" height="12.9"/><rect x="1076.09" y="420.25" width="12.9" height="12.9"/><rect x="1076.65" y="419.38" width="12.9" height="12.9"/><rect x="1077.22" y="419.67" width="12.9" height="12.9"/><rect x="1077.79" y="420.12" width="12.9" height="12.9"/><rect x="1078.36" y="419.87" width="12.9" height="12.9"/><rect x="1078.93" y="419.41" width="12.9" height="12.9"/><rect x="1079.49" y="419.97" width="12.9" height="12.9"/><rect x="1080.06" y="421.40" width="12.9" height="12.9"/><rect x="1080.63" y="420.30" width="12.9" height="12.9"/><rect x="1081.20" y="419.73" width="12.9" height="12.9"/><rect x="1081.77" y="419.80" width="12.9" height="12.9"/><rect x="1082.34" y="419.76" width="12.9" height="12.9"/><rect x="1082.90" y="419.97" width="12.9" height="12.9"/><rect x="1083.47" y="417.87" width="12.9" height="12.9"/><rect x="1084.04" y="419.26" width="12.9" height="12.9"/><rect x="1084.61" y="419.59" width="12.9" height="12.9"/><rect x="1085.18" y="419.63" width="12.9" height="12.9"/><rect x="1085.74" y="419.58" width="12.9" height="12.9"/><rect x="1086.31" y="419.45" width="12.9" height="12.9"/><rect x="1086.88" y="419.65" width="12.9" height="12.9"/><rect x="1087.45" y="419.87" width="12.9" height="12.9"/><rect x="1088.02" y="419.90" width="12.9" height="12.9"/><rect x="1088.59" y="419.28" width="12.9" height="12.9"/><rect x="1089.15" y="419.47" width="12.9" height="12.9"/><rect x="1089.72" y="419.88" width="12.9" height="12.9"/><rect x="1090.29" y="419.56" width="12.9" height="12.9"/><rect x="1090.86" y="419.40" width="12.9" height="12.9"/><rect x="1091.43" y="419.61" width="12.9" height="12.9"/><rect x="1091.99" y="419.55" width="12.9" height="12.9"/><rect x="1092.56" y="419.81" width="12.9" height="12.9"/><rect x="1093.13" y="420.10" width="12.9" height="12.9"/><rect x="1093.70" y="419.60" width="12.9" height="12.9"/><rect x="1094.27" y="419.70" width="12.9" height="12.9"/><rect x="1094.84" y="419.58" width="12.9" height="12.9"/><rect x="1095.40" y="419.82" width="12.9" height="12.9"/><rect x="1095.97" y="419.57" width="12.9" height="12.9"/><rect x="1096.54" y="419.45" width="12.9" height="12.9"/><rect x="1097.11" y="419.88" width="12.9" height="12.9"/><rect x="1097.68" y="419.60" width="12.9" height="12.9"/><rect x="1098.25" y="419.65" width="12.9" height="12.9"/><rect x="1098.81" y="419.75" width="12.9" height="12.9"/><rect x="1099.38" y="419.07" width="12.9" height="12.9"/><rect x="1099.95" y="420.04" width="12.9" height="12.9"/><rect x="1100.52" y="419.30" width="12.9" height="12.9"/><rect x="1101.09" y="419.61" width="12.9" height="12.9"/><rect x="1101.65" y="420.02" width="12.9" height="12.9"/><rect x="1102.22" y="419.96" width="12.9" height="12.9"/><rect x="1102.79" y="419.49" width="12.9" height="12.9"/><rect x="1103.36" y="419.09" width="12.9" height="12.9"/><rect x="1103.93" y="419.90" width="12.9" height="12.9"/><rect x="1104.50" y="419.57" width="12.9" height="12.9"/><rect x="1105.06" y="419.55" width="12.9" height="12.9"/><rect x="1105.63" y="419.45" width="12.9" height="12.9"/><rect x="1106.20" y="419.63" width="12.9" height="12.9"/><rect x="1106.77" y="419.73" width="12.9" height="12.9"/><rect x="1107.34" y="419.75" width="12.9" height="12.9"/><rect x="1107.90" y="419.48" width="12.9" height="12.9"/><rect x="1108.47" y="419.76" width="12.9" height="12.9"/><rect x="1109.04" y="419.19" width="12.9" height="12.9"/><rect x="1109.61" y="419.51" width="12.9" height="12.9"/><rect x="1110.18" y="419.55" width="12.9" height="12.9"/><rect x="1110.75" y="419.51" width="12.9" height="12.9"/><rect x="1111.31" y="419.32" width="12.9" height="12.9"/><rect x="1111.88" y="419.55" width="12.9" height="12.9"/><rect x="1112.45" y="419.66" width="12.9" height="12.9"/></g>
<g fill="#fff" stroke="#000" stroke-width="1.1"><circle cx="550.70" cy="447.21" r="6.8"/><circle cx="551.27" cy="446.26" r="6.8"/><circle cx="551.84" cy="447.46" r="6.8"/><circle cx="552.40" cy="447.56" r="6.8"/><circle cx="552.97" cy="447.12" r="6.8"/><circle cx="553.54" cy="447.44" r="6.8"/><circle cx="554.11" cy="446.89" r="6.8"/><circle cx="554.68" cy="446.64" r="6.8"/><circle cx="555.25" cy="447.13" r="6.8"/><circle cx="555.81" cy="447.06" r="6.8"/><circle cx="556.38" cy="449.25" r="6.8"/><circle cx="556.95" cy="447.30" r="6.8"/><circle cx="557.52" cy="448.65" r="6.8"/><circle cx="558.09" cy="447.86" r="6.8"/><circle cx="558.65" cy="448.00" r="6.8"/><circle cx="559.22" cy="448.33" r="6.8"/><circle cx="559.79" cy="447.49" r="6.8"/><circle cx="560.36" cy="448.58" r="6.8"/><circle cx="560.93" cy="448.33" r="6.8"/><circle cx="561.50" cy="447.27" r="6.8"/><circle cx="562.06" cy="448.61" r="6.8"/><circle cx="562.63" cy="448.66" r="6.8"/><circle cx="563.20" cy="448.67" r="6.8"/><circle cx="563.77" cy="449.42" r="6.8"/><circle cx="564.34" cy="448.30" r="6.8"/><circle cx="564.91" cy="448.93" r="6.8"/><circle cx="565.47" cy="449.14" r="6.8"/><circle cx="566.04" cy="448.23" r="6.8"/><circle cx="566.61" cy="449.56" r="6.8"/><circle cx="567.18" cy="448.04" r="6.8"/><circle cx="567.75" cy="448.21" r="6.8"/><circle cx="568.31" cy="449.37" r="6.8"/><circle cx="568.88" cy="448.48" r="6.8"/><circle cx="569.45" cy="449.14" r="6.8"/><circle cx="570.02" cy="448.29" r="6.8"/><circle cx="570.59" cy="449.40" r="6.8"/><circle cx="571.16" cy="448.75" r="6.8"/><circle cx="571.72" cy="449.71" r="6.8"/><circle cx="572.29" cy="448.66" r="6.8"/><circle cx="572.86" cy="449.92" r="6.8"/><circle cx="573.43" cy="449.56" r="6.8"/><circle cx="574.00" cy="449.83" r="6.8"/><circle cx="574.56" cy="449.83" r="6.8"/><circle cx="575.13" cy="450.02" r="6.8"/><circle cx="575.70" cy="449.22" r="6.8"/><circle cx="576.27" cy="448.55" r="6.8"/><circle cx="576.84" cy="450.18" r="6.8"/><circle cx="577.41" cy="449.68" r="6.8"/><circle cx="577.97" cy="450.04" r="6.8"/><circle cx="578.54" cy="450.64" r="6.8"/><circle cx="579.11" cy="449.27" r="6.8"/><circle cx="579.68" cy="450.07" r="6.8"/><circle cx="580.25" cy="450.24" r="6.8"/><circle cx="580.81" cy="450.04" r="6.8"/><circle cx="581.38" cy="450.95" r="6.8"/><circle cx="581.95" cy="450.74" r="6.8"/><circle cx="582.52" cy="450.41" r="6.8"/><circle cx="583.09" cy="450.38" r="6.8"/><circle cx="583.66" cy="451.53" r="6.8"/><circle cx="584.22" cy="450.72" r="6.8"/><circle cx="584.79" cy="451.54" r="6.8"/><circle cx="585.36" cy="451.54" r="6.8"/><circle cx="585.93" cy="450.20" r="6.8"/><circle cx="586.50" cy="450.76" r="6.8"/><circle cx="587.06" cy="451.49" r="6.8"/><circle cx="587.63" cy="451.76" r="6.8"/><circle cx="588.20" cy="452.10" r="6.8"/><circle cx="588.77" cy="452.19" r="6.8"/><circle cx="589.34" cy="452.40" r="6.8"/><circle cx="589.91" cy="451.63" r="6.8"/><circle cx="590.47" cy="451.81" r="6.8"/><circle cx="591.04" cy="452.49" r="6.8"/><circle cx="591.61" cy="451.85" r="6.8"/><circle cx="592.18" cy="452.83" r="6.8"/><circle cx="592.75" cy="451.33" r="6.8"/><circle cx="593.32" cy="452.76" r="6.8"/><circle cx="593.88" cy="452.35" r="6.8"/><circle cx="594.45" cy="451.35" r="6.8"/><circle cx="595.02" cy="453.21" r="6.8"/><circle cx="595.59" cy="452.89" r="6.8"/><circle cx="596.16" cy="452.80" r="6.8"/><circle cx="596.72" cy="452.23" r="6.8"/><circle cx="597.29" cy="452.68" r="6.8"/><circle cx="597.86" cy="453.95" r="6.8"/><circle cx="598.43" cy="452.64" r="6.8"/><circle cx="599.00" cy="451.13" r="6.8"/><circle cx="599.57" cy="452.79" r="6.8"/><circle cx="600.13" cy="452.67" r="6.8"/><circle cx="600.70" cy="453.39" r="6.8"/><circle cx="601.27" cy="453.32" r="6.8"/><circle cx="601.84" cy="453.10" r="6.8"/><circle cx="602.41" cy="453.22" r="6.8"/><circle cx="602.97" cy="454.44" r="6.8"/><circle cx="603.54" cy="453.03" r="6.8"/><circle cx="604.11" cy="455.16" r="6.8"/><circle cx="604.68" cy="453.74" r="6.8"/><circle cx="605.25" cy="453.50" r="6.8"/><circle cx="605.82" cy="454.71" r="6.8"/><circle cx="606.38" cy="454.66" r="6.8"/><circle cx="606.95" cy="453.78" r="6.8"/><circle cx="607.52" cy="454.94" r="6.8"/><circle cx="608.09" cy="453.48" r="6.8"/><circle cx="608.66" cy="454.11" r="6.8"/><circle cx="609.22" cy="455.43" r="6.8"/><circle cx="609.79" cy="454.68" r="6.8"/><circle cx="610.36" cy="454.14" r="6.8"/><circle cx="610.93" cy="455.31" r="6.8"/><circle cx="611.50" cy="455.64" r="6.8"/><circle cx="612.07" cy="455.16" r="6.8"/><circle cx="612.63" cy="454.18" r="6.8"/><circle cx="613.20" cy="455.14" r="6.8"/><circle cx="613.77" cy="455.68" r="6.8"/><circle cx="614.34" cy="455.98" r="6.8"/><circle cx="614.91" cy="456.71" r="6.8"/><circle cx="615.47" cy="455.54" r="6.8"/><circle cx="616.04" cy="455.48" r="6.8"/><circle cx="616.61" cy="455.83" r="6.8"/><circle cx="617.18" cy="456.67" r="6.8"/><circle cx="617.75" cy="455.46" r="6.8"/><circle cx="618.32" cy="456.90" r="6.8"/><circle cx="618.88" cy="454.55" r="6.8"/><circle cx="619.45" cy="456.76" r="6.8"/><circle cx="620.02" cy="455.96" r="6.8"/><circle cx="620.59" cy="456.73" r="6.8"/><circle cx="621.16" cy="456.95" r="6.8"/><circle cx="621.73" cy="455.91" r="6.8"/><circle cx="622.29" cy="456.66" r="6.8"/><circle cx="622.86" cy="456.94" r="6.8"/><circle cx="623.43" cy="457.23" r="6.8"/><circle cx="624.00" cy="456.41" r="6.8"/><circle cx="624.57" cy="456.46" r="6.8"/><circle cx="625.13" cy="455.98" r="6.8"/><circle cx="625.70" cy="458.74" r="6.8"/><circle cx="626.27" cy="457.19" r="6.8"/><circle cx="626.84" cy="457.26" r="6.8"/><circle cx="627.41" cy="456.58" r="6.8"/><circle cx="627.98" cy="458.12" r="6.8"/><circle cx="628.54" cy="457.33" r="6.8"/><circle cx="629.11" cy="458.59" r="6.8"/><circle cx="629.68" cy="458.33" r="6.8"/><circle cx="630.25" cy="457.91" r="6.8"/><circle cx="630.82" cy="458.42" r="6.8"/><circle cx="631.38" cy="457.41" r="6.8"/><circle cx="631.95" cy="457.96" r="6.8"/><circle cx="632.52" cy="457.90" r="6.8"/><circle cx="633.09" cy="457.57" r="6.8"/><circle cx="633.66" cy="458.42" r="6.8"/><circle cx="634.23" cy="458.41" r="6.8"/><circle cx="634.79" cy="459.45" r="6.8"/><circle cx="635.36" cy="456.66" r="6.8"/><circle cx="635.93" cy="458.35" r="6.8"/><circle cx="636.50" cy="458.29" r="6.8"/><circle cx="637.07" cy="458.65" r="6.8"/><circle cx="637.63" cy="459.26" r="6.8"/><circle cx="638.20" cy="459.34" r="6.8"/><circle cx="638.77" cy="459.20" r="6.8"/><circle cx="639.34" cy="458.98" r="6.8"/><circle cx="639.91" cy="459.65" r="6.8"/><circle cx="640.48" cy="459.67" r="6.8"/><circle cx="641.04" cy="458.45" r="6.8"/><circle cx="641.61" cy="459.49" r="6.8"/><circle cx="642.18" cy="458.93" r="6.8"/><circle cx="642.75" cy="459.14" r="6.8"/><circle cx="643.32" cy="460.04" r="6.8"/><circle cx="643.88" cy="460.09" r="6.8"/><circle cx="644.45" cy="460.22" r="6.8"/><circle cx="645.02" cy="459.73" r="6.8"/><circle cx="645.59" cy="460.23" r="6.8"/><circle cx="646.16" cy="459.91" r="6.8"/><circle cx="646.73" cy="460.78" r="6.8"/><circle cx="647.29" cy="461.07" r="6.8"/><circle cx="647.86" cy="461.81" r="6.8"/><circle cx="648.43" cy="461.61" r="6.8"/><circle cx="649.00" cy="460.47" r="6.8"/><circle cx="649.57" cy="460.78" r="6.8"/><circle cx="650.13" cy="460.59" r="6.8"/><circle cx="650.70" cy="461.44" r="6.8"/><circle cx="651.27" cy="462.54" r="6.8"/><circle cx="651.84" cy="461.88" r="6.8"/><circle cx="652.41" cy="460.24" r="6.8"/><circle cx="652.98" cy="460.90" r="6.8"/><circle cx="653.54" cy="460.98" r="6.8"/><circle cx="654.11" cy="462.17" r="6.8"/><circle cx="654.68" cy="461.96" r="6.8"/><circle cx="655.25" cy="462.24" r="6.8"/><circle cx="655.82" cy="463.23" r="6.8"/><circle cx="656.39" cy="461.76" r="6.8"/><circle cx="656.95" cy="461.85" r="6.8"/><circle cx="657.52" cy="463.64" r="6.8"/><circle cx="658.09" cy="462.76" r="6.8"/><circle cx="658.66" cy="462.19" r="6.8"/><circle cx="659.23" cy="461.54" r="6.8"/><circle cx="659.79" cy="461.94" r="6.8"/><circle cx="660.36" cy="461.49" r="6.8"/><circle cx="660.93" cy="463.10" r="6.8"/><circle cx="661.50" cy="463.19" r="6.8"/><circle cx="662.07" cy="463.86" r="6.8"/><circle cx="662.64" cy="463.28" r="6.8"/><circle cx="663.20" cy="463.04" r="6.8"/><circle cx="663.77" cy="463.12" r="6.8"/><circle cx="664.34" cy="464.80" r="6.8"/><circle cx="664.91" cy="462.70" r="6.8"/><circle cx="665.48" cy="463.94" r="6.8"/><circle cx="666.04" cy="463.92" r="6.8"/><circle cx="666.61" cy="464.35" r="6.8"/><circle cx="667.18" cy="463.81" r="6.8"/><circle cx="667.75" cy="464.43" r="6.8"/><circle cx="668.32" cy="464.69" r="6.8"/><circle cx="668.89" cy="464.19" r="6.8"/><circle cx="669.45" cy="464.07" r="6.8"/><circle cx="670.02" cy="464.31" r="6.8"/><circle cx="670.59" cy="463.92" r="6.8"/><circle cx="671.16" cy="464.44" r="6.8"/><circle cx="671.73" cy="464.46" r="6.8"/><circle cx="672.29" cy="464.84" r="6.8"/><circle cx="672.86" cy="465.59" r="6.8"/><circle cx="673.43" cy="465.65" r="6.8"/><circle cx="674.00" cy="464.67" r="6.8"/><circle cx="674.57" cy="465.37" r="6.8"/><circle cx="675.14" cy="465.26" r="6.8"/><circle cx="675.70" cy="465.61" r="6.8"/><circle cx="676.27" cy="465.24" r="6.8"/><circle cx="676.84" cy="465.46" r="6.8"/><circle cx="677.41" cy="465.10" r="6.8"/><circle cx="677.98" cy="464.98" r="6.8"/><circle cx="678.55" cy="466.05" r="6.8"/><circle cx="679.11" cy="466.38" r="6.8"/><circle cx="679.68" cy="466.07" r="6.8"/><circle cx="680.25" cy="466.01" r="6.8"/><circle cx="680.82" cy="465.98" r="6.8"/><circle cx="681.39" cy="465.62" r="6.8"/><circle cx="681.95" cy="464.90" r="6.8"/><circle cx="682.52" cy="466.44" r="6.8"/><circle cx="683.09" cy="466.23" r="6.8"/><circle cx="683.66" cy="465.85" r="6.8"/><circle cx="684.23" cy="465.68" r="6.8"/><circle cx="684.80" cy="467.10" r="6.8"/><circle cx="685.36" cy="465.32" r="6.8"/><circle cx="685.93" cy="467.54" r="6.8"/><circle cx="686.50" cy="466.94" r="6.8"/><circle cx="687.07" cy="468.05" r="6.8"/><circle cx="687.64" cy="466.27" r="6.8"/><circle cx="688.20" cy="466.76" r="6.8"/><circle cx="688.77" cy="466.54" r="6.8"/><circle cx="689.34" cy="467.01" r="6.8"/><circle cx="689.91" cy="466.87" r="6.8"/><circle cx="690.48" cy="466.62" r="6.8"/><circle cx="691.05" cy="467.79" r="6.8"/><circle cx="691.61" cy="466.76" r="6.8"/><circle cx="692.18" cy="467.01" r="6.8"/><circle cx="692.75" cy="467.73" r="6.8"/><circle cx="693.32" cy="467.16" r="6.8"/><circle cx="693.89" cy="467.30" r="6.8"/><circle cx="694.45" cy="467.86" r="6.8"/><circle cx="695.02" cy="467.50" r="6.8"/><circle cx="695.59" cy="467.06" r="6.8"/><circle cx="696.16" cy="467.83" r="6.8"/><circle cx="696.73" cy="467.84" r="6.8"/><circle cx="697.30" cy="469.08" r="6.8"/><circle cx="697.86" cy="467.48" r="6.8"/><circle cx="698.43" cy="468.80" r="6.8"/><circle cx="699.00" cy="467.83" r="6.8"/><circle cx="699.57" cy="468.17" r="6.8"/><circle cx="700.14" cy="468.27" r="6.8"/><circle cx="700.70" cy="468.71" r="6.8"/><circle cx="701.27" cy="469.14" r="6.8"/><circle cx="701.84" cy="469.76" r="6.8"/><circle cx="702.41" cy="468.41" r="6.8"/><circle cx="702.98" cy="469.67" r="6.8"/><circle cx="703.55" cy="469.55" r="6.8"/><circle cx="704.11" cy="469.52" r="6.8"/><circle cx="704.68" cy="468.66" r="6.8"/><circle cx="705.25" cy="469.74" r="6.8"/><circle cx="705.82" cy="469.22" r="6.8"/><circle cx="706.39" cy="469.58" r="6.8"/><circle cx="706.96" cy="469.29" r="6.8"/><circle cx="707.52" cy="469.93" r="6.8"/><circle cx="708.09" cy="470.28" r="6.8"/><circle cx="708.66" cy="470.37" r="6.8"/><circle cx="709.23" cy="469.65" r="6.8"/><circle cx="709.80" cy="470.45" r="6.8"/><circle cx="710.36" cy="470.81" r="6.8"/><circle cx="710.93" cy="469.46" r="6.8"/><circle cx="711.50" cy="470.99" r="6.8"/><circle cx="712.07" cy="469.38" r="6.8"/><circle cx="712.64" cy="470.59" r="6.8"/><circle cx="713.21" cy="470.71" r="6.8"/><circle cx="713.77" cy="471.32" r="6.8"/><circle cx="714.34" cy="470.68" r="6.8"/><circle cx="714.91" cy="470.31" r="6.8"/><circle cx="715.48" cy="470.17" r="6.8"/><circle cx="716.05" cy="469.94" r="6.8"/><circle cx="716.61" cy="471.20" r="6.8"/><circle cx="717.18" cy="470.65" r="6.8"/><circle cx="717.75" cy="470.41" r="6.8"/><circle cx="718.32" cy="471.21" r="6.8"/><circle cx="718.89" cy="470.48" r="6.8"/><circle cx="719.46" cy="470.73" r="6.8"/><circle cx="720.02" cy="470.77" r="6.8"/><circle cx="720.59" cy="472.08" r="6.8"/><circle cx="721.16" cy="472.02" r="6.8"/><circle cx="721.73" cy="471.10" r="6.8"/><circle cx="722.30" cy="470.30" r="6.8"/><circle cx="722.86" cy="471.46" r="6.8"/><circle cx="723.43" cy="471.38" r="6.8"/><circle cx="724.00" cy="471.60" r="6.8"/><circle cx="724.57" cy="471.78" r="6.8"/><circle cx="725.14" cy="471.30" r="6.8"/><circle cx="725.71" cy="472.09" r="6.8"/><circle cx="726.27" cy="472.09" r="6.8"/><circle cx="726.84" cy="471.76" r="6.8"/><circle cx="727.41" cy="471.44" r="6.8"/><circle cx="727.98" cy="471.45" r="6.8"/><circle cx="728.55" cy="472.20" r="6.8"/><circle cx="729.11" cy="471.18" r="6.8"/><circle cx="729.68" cy="471.79" r="6.8"/><circle cx="730.25" cy="471.48" r="6.8"/><circle cx="730.82" cy="471.15" r="6.8"/><circle cx="731.39" cy="472.40" r="6.8"/><circle cx="731.96" cy="472.07" r="6.8"/><circle cx="732.52" cy="472.15" r="6.8"/><circle cx="733.09" cy="472.71" r="6.8"/><circle cx="733.66" cy="471.33" r="6.8"/><circle cx="734.23" cy="472.24" r="6.8"/><circle cx="734.80" cy="472.50" r="6.8"/><circle cx="735.37" cy="472.88" r="6.8"/><circle cx="735.93" cy="471.78" r="6.8"/><circle cx="736.50" cy="472.91" r="6.8"/><circle cx="737.07" cy="472.66" r="6.8"/><circle cx="737.64" cy="473.39" r="6.8"/><circle cx="738.21" cy="473.31" r="6.8"/><circle cx="738.77" cy="473.01" r="6.8"/><circle cx="739.34" cy="474.02" r="6.8"/><circle cx="739.91" cy="472.78" r="6.8"/><circle cx="740.48" cy="472.57" r="6.8"/><circle cx="741.05" cy="472.67" r="6.8"/><circle cx="741.62" cy="472.36" r="6.8"/><circle cx="742.18" cy="472.96" r="6.8"/><circle cx="742.75" cy="471.90" r="6.8"/><circle cx="743.32" cy="473.02" r="6.8"/><circle cx="743.89" cy="473.38" r="6.8"/><circle cx="744.46" cy="473.77" r="6.8"/><circle cx="745.02" cy="473.01" r="6.8"/><circle cx="745.59" cy="474.10" r="6.8"/><circle cx="746.16" cy="472.93" r="6.8"/><circle cx="746.73" cy="473.29" r="6.8"/><circle cx="747.30" cy="472.29" r="6.8"/><circle cx="747.87" cy="473.01" r="6.8"/><circle cx="748.43" cy="473.04" r="6.8"/><circle cx="749.00" cy="474.44" r="6.8"/><circle cx="749.57" cy="473.93" r="6.8"/><circle cx="750.14" cy="473.02" r="6.8"/><circle cx="750.71" cy="474.03" r="6.8"/><circle cx="751.27" cy="474.05" r="6.8"/><circle cx="751.84" cy="473.68" r="6.8"/><circle cx="752.41" cy="473.88" r="6.8"/><circle cx="752.98" cy="473.74" r="6.8"/><circle cx="753.55" cy="473.65" r="6.8"/><circle cx="754.12" cy="472.98" r="6.8"/><circle cx="754.68" cy="474.01" r="6.8"/><circle cx="755.25" cy="474.87" r="6.8"/><circle cx="755.82" cy="475.00" r="6.8"/><circle cx="756.39" cy="474.05" r="6.8"/><circle cx="756.96" cy="473.83" r="6.8"/><circle cx="757.52" cy="474.19" r="6.8"/><circle cx="758.09" cy="474.89" r="6.8"/><circle cx="758.66" cy="474.62" r="6.8"/><circle cx="759.23" cy="474.12" r="6.8"/><circle cx="759.80" cy="474.72" r="6.8"/><circle cx="760.37" cy="474.44" r="6.8"/><circle cx="760.93" cy="474.91" r="6.8"/><circle cx="761.50" cy="474.42" r="6.8"/><circle cx="762.07" cy="473.85" r="6.8"/><circle cx="762.64" cy="474.79" r="6.8"/><circle cx="763.21" cy="475.25" r="6.8"/><circle cx="763.78" cy="474.21" r="6.8"/><circle cx="764.34" cy="474.84" r="6.8"/><circle cx="764.91" cy="475.47" r="6.8"/><circle cx="765.48" cy="474.79" r="6.8"/><circle cx="766.05" cy="474.67" r="6.8"/><circle cx="766.62" cy="476.28" r="6.8"/><circle cx="767.18" cy="475.62" r="6.8"/><circle cx="767.75" cy="475.77" r="6.8"/><circle cx="768.32" cy="474.66" r="6.8"/><circle cx="768.89" cy="476.21" r="6.8"/><circle cx="769.46" cy="474.33" r="6.8"/><circle cx="770.03" cy="475.03" r="6.8"/><circle cx="770.59" cy="475.81" r="6.8"/><circle cx="771.16" cy="476.20" r="6.8"/><circle cx="771.73" cy="474.92" r="6.8"/><circle cx="772.30" cy="475.11" r="6.8"/><circle cx="772.87" cy="475.66" r="6.8"/><circle cx="773.43" cy="474.46" r="6.8"/><circle cx="774.00" cy="476.00" r="6.8"/><circle cx="774.57" cy="475.99" r="6.8"/><circle cx="775.14" cy="475.45" r="6.8"/><circle cx="775.71" cy="476.06" r="6.8"/><circle cx="776.28" cy="476.24" r="6.8"/><circle cx="776.84" cy="476.01" r="6.8"/><circle cx="777.41" cy="476.18" r="6.8"/><circle cx="777.98" cy="476.80" r="6.8"/><circle cx="778.55" cy="475.68" r="6.8"/><circle cx="779.12" cy="476.09" r="6.8"/><circle cx="779.68" cy="475.74" r="6.8"/><circle cx="780.25" cy="476.68" r="6.8"/><circle cx="780.82" cy="475.89" r="6.8"/><circle cx="781.39" cy="476.44" r="6.8"/><circle cx="781.96" cy="476.28" r="6.8"/><circle cx="782.53" cy="476.28" r="6.8"/><circle cx="783.09" cy="477.29" r="6.8"/><circle cx="783.66" cy="476.28" r="6.8"/><circle cx="784.23" cy="477.19" r="6.8"/><circle cx="784.80" cy="476.89" r="6.8"/><circle cx="785.37" cy="477.22" r="6.8"/><circle cx="785.93" cy="476.40" r="6.8"/><circle cx="786.50" cy="477.07" r="6.8"/><circle cx="787.07" cy="477.02" r="6.8"/><circle cx="787.64" cy="476.26" r="6.8"/><circle cx="788.21" cy="476.82" r="6.8"/><circle cx="788.78" cy="476.63" r="6.8"/><circle cx="789.34" cy="476.72" r="6.8"/><circle cx="789.91" cy="477.54" r="6.8"/><circle cx="790.48" cy="476.41" r="6.8"/><circle cx="791.05" cy="475.89" r="6.8"/><circle cx="791.62" cy="475.90" r="6.8"/><circle cx="792.19" cy="476.69" r="6.8"/><circle cx="792.75" cy="476.62" r="6.8"/><circle cx="793.32" cy="477.04" r="6.8"/><circle cx="793.89" cy="477.40" r="6.8"/><circle cx="794.46" cy="478.13" r="6.8"/><circle cx="795.03" cy="477.33" r="6.8"/><circle cx="795.59" cy="477.47" r="6.8"/><circle cx="796.16" cy="476.81" r="6.8"/><circle cx="796.73" cy="477.62" r="6.8"/><circle cx="797.30" cy="478.11" r="6.8"/><circle cx="797.87" cy="478.14" r="6.8"/><circle cx="798.44" cy="476.27" r="6.8"/><circle cx="799.00" cy="477.96" r="6.8"/><circle cx="799.57" cy="478.40" r="6.8"/><circle cx="800.14" cy="478.01" r="6.8"/><circle cx="800.71" cy="476.70" r="6.8"/><circle cx="801.28" cy="477.43" r="6.8"/><circle cx="801.84" cy="477.99" r="6.8"/><circle cx="802.41" cy="477.93" r="6.8"/><circle cx="802.98" cy="477.27" r="6.8"/><circle cx="803.55" cy="477.26" r="6.8"/><circle cx="804.12" cy="478.38" r="6.8"/><circle cx="804.69" cy="477.09" r="6.8"/><circle cx="805.25" cy="478.73" r="6.8"/><circle cx="805.82" cy="477.95" r="6.8"/><circle cx="806.39" cy="478.16" r="6.8"/><circle cx="806.96" cy="477.25" r="6.8"/><circle cx="807.53" cy="477.72" r="6.8"/><circle cx="808.09" cy="478.50" r="6.8"/><circle cx="808.66" cy="477.30" r="6.8"/><circle cx="809.23" cy="479.39" r="6.8"/><circle cx="809.80" cy="477.42" r="6.8"/><circle cx="810.37" cy="477.57" r="6.8"/><circle cx="810.94" cy="478.34" r="6.8"/><circle cx="811.50" cy="478.63" r="6.8"/><circle cx="812.07" cy="478.82" r="6.8"/><circle cx="812.64" cy="478.22" r="6.8"/><circle cx="813.21" cy="478.36" r="6.8"/><circle cx="813.78" cy="478.38" r="6.8"/><circle cx="814.34" cy="478.23" r="6.8"/><circle cx="814.91" cy="477.12" r="6.8"/><circle cx="815.48" cy="479.20" r="6.8"/><circle cx="816.05" cy="478.83" r="6.8"/><circle cx="816.62" cy="478.82" r="6.8"/><circle cx="817.19" cy="478.41" r="6.8"/><circle cx="817.75" cy="478.95" r="6.8"/><circle cx="818.32" cy="478.84" r="6.8"/><circle cx="818.89" cy="478.85" r="6.8"/><circle cx="819.46" cy="479.57" r="6.8"/><circle cx="820.03" cy="477.98" r="6.8"/><circle cx="820.60" cy="479.16" r="6.8"/><circle cx="821.16" cy="478.43" r="6.8"/><circle cx="821.73" cy="478.90" r="6.8"/><circle cx="822.30" cy="479.98" r="6.8"/><circle cx="822.87" cy="478.53" r="6.8"/><circle cx="823.44" cy="479.13" r="6.8"/><circle cx="824.00" cy="478.88" r="6.8"/><circle cx="824.57" cy="479.80" r="6.8"/><circle cx="825.14" cy="478.73" r="6.8"/><circle cx="825.71" cy="478.36" r="6.8"/><circle cx="826.28" cy="479.66" r="6.8"/><circle cx="826.85" cy="479.19" r="6.8"/><circle cx="827.41" cy="479.25" r="6.8"/><circle cx="827.98" cy="480.09" r="6.8"/><circle cx="828.55" cy="478.99" r="6.8"/><circle cx="829.12" cy="479.32" r="6.8"/><circle cx="829.69" cy="479.66" r="6.8"/><circle cx="830.25" cy="479.84" r="6.8"/><circle cx="830.82" cy="479.34" r="6.8"/><circle cx="831.39" cy="480.27" r="6.8"/><circle cx="831.96" cy="481.00" r="6.8"/><circle cx="832.53" cy="479.51" r="6.8"/><circle cx="833.10" cy="480.86" r="6.8"/><circle cx="833.66" cy="478.60" r="6.8"/><circle cx="834.23" cy="480.66" r="6.8"/><circle cx="834.80" cy="479.69" r="6.8"/><circle cx="835.37" cy="480.00" r="6.8"/><circle cx="835.94" cy="479.76" r="6.8"/><circle cx="836.50" cy="479.62" r="6.8"/><circle cx="837.07" cy="479.29" r="6.8"/><circle cx="837.64" cy="479.83" r="6.8"/><circle cx="838.21" cy="480.84" r="6.8"/><circle cx="838.78" cy="480.79" r="6.8"/><circle cx="839.35" cy="479.96" r="6.8"/><circle cx="839.91" cy="479.90" r="6.8"/><circle cx="840.48" cy="479.83" r="6.8"/><circle cx="841.05" cy="479.58" r="6.8"/><circle cx="841.62" cy="481.34" r="6.8"/><circle cx="842.19" cy="480.72" r="6.8"/><circle cx="842.75" cy="480.44" r="6.8"/><circle cx="843.32" cy="480.13" r="6.8"/><circle cx="843.89" cy="479.86" r="6.8"/><circle cx="844.46" cy="481.24" r="6.8"/><circle cx="845.03" cy="480.96" r="6.8"/><circle cx="845.60" cy="480.00" r="6.8"/><circle cx="846.16" cy="481.15" r="6.8"/><circle cx="846.73" cy="479.98" r="6.8"/><circle cx="847.30" cy="481.02" r="6.8"/><circle cx="847.87" cy="480.14" r="6.8"/><circle cx="848.44" cy="480.49" r="6.8"/><circle cx="849.01" cy="481.05" r="6.8"/><circle cx="849.57" cy="481.04" r="6.8"/><circle cx="850.14" cy="481.41" r="6.8"/><circle cx="850.71" cy="480.38" r="6.8"/><circle cx="851.28" cy="481.81" r="6.8"/><circle cx="851.85" cy="481.71" r="6.8"/><circle cx="852.41" cy="480.96" r="6.8"/><circle cx="852.98" cy="481.27" r="6.8"/><circle cx="853.55" cy="480.59" r="6.8"/><circle cx="854.12" cy="480.99" r="6.8"/><circle cx="854.69" cy="480.35" r="6.8"/><circle cx="855.26" cy="481.20" r="6.8"/><circle cx="855.82" cy="481.29" r="6.8"/><circle cx="856.39" cy="481.99" r="6.8"/><circle cx="856.96" cy="481.80" r="6.8"/><circle cx="857.53" cy="481.75" r="6.8"/><circle cx="858.10" cy="481.11" r="6.8"/><circle cx="858.66" cy="481.23" r="6.8"/><circle cx="859.23" cy="481.19" r="6.8"/><circle cx="859.80" cy="481.55" r="6.8"/><circle cx="860.37" cy="480.35" r="6.8"/><circle cx="860.94" cy="481.94" r="6.8"/><circle cx="861.51" cy="480.63" r="6.8"/><circle cx="862.07" cy="481.27" r="6.8"/><circle cx="862.64" cy="481.61" r="6.8"/><circle cx="863.21" cy="481.34" r="6.8"/><circle cx="863.78" cy="482.63" r="6.8"/><circle cx="864.35" cy="481.65" r="6.8"/><circle cx="864.91" cy="482.65" r="6.8"/><circle cx="865.48" cy="482.45" r="6.8"/><circle cx="866.05" cy="481.52" r="6.8"/><circle cx="866.62" cy="482.08" r="6.8"/><circle cx="867.19" cy="482.63" r="6.8"/><circle cx="867.76" cy="481.72" r="6.8"/><circle cx="868.32" cy="482.00" r="6.8"/><circle cx="868.89" cy="481.66" r="6.8"/><circle cx="869.46" cy="482.05" r="6.8"/><circle cx="870.03" cy="481.85" r="6.8"/><circle cx="870.60" cy="482.14" r="6.8"/><circle cx="871.16" cy="482.70" r="6.8"/><circle cx="871.73" cy="482.96" r="6.8"/><circle cx="872.30" cy="482.27" r="6.8"/><circle cx="872.87" cy="482.35" r="6.8"/><circle cx="873.44" cy="482.76" r="6.8"/><circle cx="874.01" cy="482.13" r="6.8"/><circle cx="874.57" cy="481.73" r="6.8"/><circle cx="875.14" cy="483.01" r="6.8"/><circle cx="875.71" cy="481.87" r="6.8"/><circle cx="876.28" cy="482.98" r="6.8"/><circle cx="876.85" cy="481.92" r="6.8"/><circle cx="877.42" cy="483.56" r="6.8"/><circle cx="877.98" cy="481.94" r="6.8"/><circle cx="878.55" cy="483.07" r="6.8"/><circle cx="879.12" cy="483.48" r="6.8"/><circle cx="879.69" cy="482.10" r="6.8"/><circle cx="880.26" cy="483.54" r="6.8"/><circle cx="880.82" cy="482.25" r="6.8"/><circle cx="881.39" cy="481.74" r="6.8"/><circle cx="881.96" cy="483.21" r="6.8"/><circle cx="882.53" cy="483.23" r="6.8"/><circle cx="883.10" cy="482.74" r="6.8"/><circle cx="883.67" cy="481.44" r="6.8"/><circle cx="884.23" cy="482.90" r="6.8"/><circle cx="884.80" cy="482.79" r="6.8"/><circle cx="885.37" cy="482.78" r="6.8"/><circle cx="885.94" cy="482.87" r="6.8"/><circle cx="886.51" cy="482.04" r="6.8"/><circle cx="887.07" cy="482.78" r="6.8"/><circle cx="887.64" cy="484.18" r="6.8"/><circle cx="888.21" cy="484.07" r="6.8"/><circle cx="888.78" cy="483.00" r="6.8"/><circle cx="889.35" cy="482.83" r="6.8"/><circle cx="889.92" cy="483.51" r="6.8"/><circle cx="890.48" cy="483.93" r="6.8"/><circle cx="891.05" cy="483.77" r="6.8"/><circle cx="891.62" cy="482.71" r="6.8"/><circle cx="892.19" cy="483.52" r="6.8"/><circle cx="892.76" cy="483.55" r="6.8"/><circle cx="893.32" cy="484.34" r="6.8"/><circle cx="893.89" cy="484.25" r="6.8"/><circle cx="894.46" cy="483.90" r="6.8"/><circle cx="895.03" cy="484.35" r="6.8"/><circle cx="895.60" cy="483.46" r="6.8"/><circle cx="896.17" cy="484.62" r="6.8"/><circle cx="896.73" cy="483.53" r="6.8"/><circle cx="897.30" cy="484.05" r="6.8"/><circle cx="897.87" cy="484.39" r="6.8"/><circle cx="898.44" cy="483.38" r="6.8"/><circle cx="899.01" cy="483.55" r="6.8"/><circle cx="899.57" cy="482.98" r="6.8"/><circle cx="900.14" cy="484.13" r="6.8"/><circle cx="900.71" cy="484.05" r="6.8"/><circle cx="901.28" cy="483.94" r="6.8"/><circle cx="901.85" cy="484.46" r="6.8"/><circle cx="902.42" cy="482.99" r="6.8"/><circle cx="902.98" cy="484.24" r="6.8"/><circle cx="903.55" cy="484.35" r="6.8"/><circle cx="904.12" cy="484.19" r="6.8"/><circle cx="904.69" cy="484.84" r="6.8"/><circle cx="905.26" cy="485.44" r="6.8"/><circle cx="905.83" cy="484.22" r="6.8"/><circle cx="906.39" cy="483.97" r="6.8"/><circle cx="906.96" cy="484.21" r="6.8"/><circle cx="907.53" cy="484.66" r="6.8"/><circle cx="908.10" cy="484.98" r="6.8"/><circle cx="908.67" cy="484.19" r="6.8"/><circle cx="909.23" cy="485.31" r="6.8"/><circle cx="909.80" cy="484.19" r="6.8"/><circle cx="910.37" cy="485.30" r="6.8"/><circle cx="910.94" cy="485.11" r="6.8"/><circle cx="911.51" cy="485.17" r="6.8"/><circle cx="912.08" cy="486.19" r="6.8"/><circle cx="912.64" cy="484.84" r="6.8"/><circle cx="913.21" cy="484.94" r="6.8"/><circle cx="913.78" cy="485.36" r="6.8"/><circle cx="914.35" cy="485.62" r="6.8"/><circle cx="914.92" cy="484.40" r="6.8"/><circle cx="915.48" cy="485.37" r="6.8"/><circle cx="916.05" cy="484.83" r="6.8"/><circle cx="916.62" cy="485.66" r="6.8"/><circle cx="917.19" cy="486.13" r="6.8"/><circle cx="917.76" cy="485.42" r="6.8"/><circle cx="918.33" cy="485.37" r="6.8"/><circle cx="918.89" cy="485.58" r="6.8"/><circle cx="919.46" cy="483.81" r="6.8"/><circle cx="920.03" cy="486.00" r="6.8"/><circle cx="920.60" cy="485.93" r="6.8"/><circle cx="921.17" cy="485.74" r="6.8"/><circle cx="921.73" cy="485.46" r="6.8"/><circle cx="922.30" cy="485.31" r="6.8"/><circle cx="922.87" cy="485.67" r="6.8"/><circle cx="923.44" cy="486.52" r="6.8"/><circle cx="924.01" cy="485.81" r="6.8"/><circle cx="924.58" cy="486.68" r="6.8"/><circle cx="925.14" cy="484.47" r="6.8"/><circle cx="925.71" cy="485.73" r="6.8"/><circle cx="926.28" cy="486.20" r="6.8"/><circle cx="926.85" cy="486.07" r="6.8"/><circle cx="927.42" cy="485.17" r="6.8"/><circle cx="927.98" cy="485.79" r="6.8"/><circle cx="928.55" cy="486.93" r="6.8"/><circle cx="929.12" cy="485.51" r="6.8"/><circle cx="929.69" cy="485.73" r="6.8"/><circle cx="930.26" cy="485.71" r="6.8"/><circle cx="930.83" cy="486.07" r="6.8"/><circle cx="931.39" cy="486.80" r="6.8"/><circle cx="931.96" cy="486.82" r="6.8"/><circle cx="932.53" cy="485.35" r="6.8"/><circle cx="933.10" cy="487.40" r="6.8"/><circle cx="933.67" cy="486.26" r="6.8"/><circle cx="934.24" cy="486.31" r="6.8"/><circle cx="934.80" cy="487.65" r="6.8"/><circle cx="935.37" cy="486.69" r="6.8"/><circle cx="935.94" cy="486.06" r="6.8"/><circle cx="936.51" cy="486.45" r="6.8"/><circle cx="937.08" cy="486.45" r="6.8"/><circle cx="937.64" cy="486.33" r="6.8"/><circle cx="938.21" cy="486.76" r="6.8"/><circle cx="938.78" cy="487.50" r="6.8"/><circle cx="939.35" cy="487.24" r="6.8"/><circle cx="939.92" cy="486.29" r="6.8"/><circle cx="940.49" cy="488.73" r="6.8"/><circle cx="941.05" cy="486.60" r="6.8"/><circle cx="941.62" cy="487.28" r="6.8"/><circle cx="942.19" cy="487.27" r="6.8"/><circle cx="942.76" cy="487.74" r="6.8"/><circle cx="943.33" cy="487.15" r="6.8"/><circle cx="943.89" cy="487.65" r="6.8"/><circle cx="944.46" cy="488.64" r="6.8"/><circle cx="945.03" cy="487.53" r="6.8"/><circle cx="945.60" cy="486.89" r="6.8"/><circle cx="946.17" cy="487.75" r="6.8"/><circle cx="946.74" cy="487.14" r="6.8"/><circle cx="947.30" cy="487.43" r="6.8"/><circle cx="947.87" cy="487.80" r="6.8"/><circle cx="948.44" cy="487.93" r="6.8"/><circle cx="949.01" cy="487.61" r="6.8"/><circle cx="949.58" cy="488.31" r="6.8"/><circle cx="950.14" cy="487.75" r="6.8"/><circle cx="950.71" cy="487.16" r="6.8"/><circle cx="951.28" cy="488.46" r="6.8"/><circle cx="951.85" cy="487.79" r="6.8"/><circle cx="952.42" cy="488.74" r="6.8"/><circle cx="952.99" cy="487.71" r="6.8"/><circle cx="953.55" cy="488.46" r="6.8"/><circle cx="954.12" cy="488.35" r="6.8"/><circle cx="954.69" cy="486.66" r="6.8"/><circle cx="955.26" cy="487.40" r="6.8"/><circle cx="955.83" cy="487.66" r="6.8"/><circle cx="956.39" cy="489.15" r="6.8"/><circle cx="956.96" cy="487.30" r="6.8"/><circle cx="957.53" cy="488.96" r="6.8"/><circle cx="958.10" cy="489.10" r="6.8"/><circle cx="958.67" cy="488.80" r="6.8"/><circle cx="959.24" cy="488.95" r="6.8"/><circle cx="959.80" cy="488.32" r="6.8"/><circle cx="960.37" cy="488.64" r="6.8"/><circle cx="960.94" cy="488.82" r="6.8"/><circle cx="961.51" cy="488.98" r="6.8"/><circle cx="962.08" cy="489.19" r="6.8"/><circle cx="962.65" cy="488.70" r="6.8"/><circle cx="963.21" cy="488.46" r="6.8"/><circle cx="963.78" cy="488.59" r="6.8"/><circle cx="964.35" cy="489.19" r="6.8"/><circle cx="964.92" cy="488.04" r="6.8"/><circle cx="965.49" cy="488.32" r="6.8"/><circle cx="966.05" cy="488.85" r="6.8"/><circle cx="966.62" cy="488.81" r="6.8"/><circle cx="967.19" cy="489.01" r="6.8"/><circle cx="967.76" cy="487.68" r="6.8"/><circle cx="968.33" cy="489.06" r="6.8"/><circle cx="968.90" cy="489.16" r="6.8"/><circle cx="969.46" cy="489.79" r="6.8"/><circle cx="970.03" cy="488.25" r="6.8"/><circle cx="970.60" cy="489.26" r="6.8"/><circle cx="971.17" cy="489.75" r="6.8"/><circle cx="971.74" cy="489.80" r="6.8"/><circle cx="972.30" cy="490.25" r="6.8"/><circle cx="972.87" cy="490.21" r="6.8"/><circle cx="973.44" cy="489.04" r="6.8"/><circle cx="974.01" cy="490.06" r="6.8"/><circle cx="974.58" cy="489.54" r="6.8"/><circle cx="975.15" cy="489.32" r="6.8"/><circle cx="975.71" cy="490.69" r="6.8"/><circle cx="976.28" cy="489.46" r="6.8"/><circle cx="976.85" cy="489.35" r="6.8"/><circle cx="977.42" cy="489.63" r="6.8"/><circle cx="977.99" cy="489.40" r="6.8"/><circle cx="978.55" cy="490.49" r="6.8"/><circle cx="979.12" cy="490.15" r="6.8"/><circle cx="979.69" cy="490.76" r="6.8"/><circle cx="980.26" cy="490.21" r="6.8"/><circle cx="980.83" cy="489.64" r="6.8"/><circle cx="981.40" cy="490.62" r="6.8"/><circle cx="981.96" cy="489.66" r="6.8"/><circle cx="982.53" cy="489.80" r="6.8"/><circle cx="983.10" cy="489.99" r="6.8"/><circle cx="983.67" cy="490.13" r="6.8"/><circle cx="984.24" cy="490.82" r="6.8"/><circle cx="984.80" cy="489.80" r="6.8"/><circle cx="985.37" cy="490.37" r="6.8"/><circle cx="985.94" cy="490.18" r="6.8"/><circle cx="986.51" cy="489.49" r="6.8"/><circle cx="987.08" cy="489.60" r="6.8"/><circle cx="987.65" cy="490.13" r="6.8"/><circle cx="988.21" cy="490.51" r="6.8"/><circle cx="988.78" cy="490.49" r="6.8"/><circle cx="989.35" cy="490.60" r="6.8"/><circle cx="989.92" cy="490.37" r="6.8"/><circle cx="990.49" cy="490.11" r="6.8"/><circle cx="991.06" cy="490.64" r="6.8"/><circle cx="991.62" cy="489.83" r="6.8"/><circle cx="992.19" cy="489.66" r="6.8"/><circle cx="992.76" cy="490.26" r="6.8"/><circle cx="993.33" cy="489.65" r="6.8"/><circle cx="993.90" cy="490.20" r="6.8"/><circle cx="994.46" cy="490.09" r="6.8"/><circle cx="995.03" cy="490.22" r="6.8"/><circle cx="995.60" cy="490.54" r="6.8"/><circle cx="996.17" cy="490.12" r="6.8"/><circle cx="996.74" cy="490.36" r="6.8"/><circle cx="997.31" cy="489.64" r="6.8"/><circle cx="997.87" cy="490.73" r="6.8"/><circle cx="998.44" cy="490.16" r="6.8"/><circle cx="999.01" cy="490.93" r="6.8"/><circle cx="999.58" cy="489.08" r="6.8"/><circle cx="1000.15" cy="490.27" r="6.8"/><circle cx="1000.71" cy="490.90" r="6.8"/><circle cx="1001.28" cy="489.37" r="6.8"/><circle cx="1001.85" cy="490.60" r="6.8"/><circle cx="1002.42" cy="490.88" r="6.8"/><circle cx="1002.99" cy="490.91" r="6.8"/><circle cx="1003.56" cy="490.00" r="6.8"/><circle cx="1004.12" cy="491.02" r="6.8"/><circle cx="1004.69" cy="491.00" r="6.8"/><circle cx="1005.26" cy="490.37" r="6.8"/><circle cx="1005.83" cy="491.39" r="6.8"/><circle cx="1006.40" cy="490.95" r="6.8"/><circle cx="1006.96" cy="491.01" r="6.8"/><circle cx="1007.53" cy="490.76" r="6.8"/><circle cx="1008.10" cy="491.36" r="6.8"/><circle cx="1008.67" cy="491.12" r="6.8"/><circle cx="1009.24" cy="491.75" r="6.8"/><circle cx="1009.81" cy="491.37" r="6.8"/><circle cx="1010.37" cy="490.77" r="6.8"/><circle cx="1010.94" cy="491.02" r="6.8"/><circle cx="1011.51" cy="491.71" r="6.8"/><circle cx="1012.08" cy="490.98" r="6.8"/><circle cx="1012.65" cy="491.44" r="6.8"/><circle cx="1013.21" cy="491.54" r="6.8"/><circle cx="1013.78" cy="491.16" r="6.8"/><circle cx="1014.35" cy="489.93" r="6.8"/><circle cx="1014.92" cy="491.38" r="6.8"/><circle cx="1015.49" cy="491.45" r="6.8"/><circle cx="1016.06" cy="491.43" r="6.8"/><circle cx="1016.62" cy="490.93" r="6.8"/><circle cx="1017.19" cy="492.09" r="6.8"/><circle cx="1017.76" cy="491.34" r="6.8"/><circle cx="1018.33" cy="491.07" r="6.8"/><circle cx="1018.90" cy="491.04" r="6.8"/><circle cx="1019.47" cy="491.69" r="6.8"/><circle cx="1020.03" cy="490.87" r="6.8"/><circle cx="1020.60" cy="490.94" r="6.8"/><circle cx="1021.17" cy="492.70" r="6.8"/><circle cx="1021.74" cy="492.33" r="6.8"/><circle cx="1022.31" cy="492.20" r="6.8"/><circle cx="1022.87" cy="492.40" r="6.8"/><circle cx="1023.44" cy="491.98" r="6.8"/><circle cx="1024.01" cy="490.68" r="6.8"/><circle cx="1024.58" cy="492.37" r="6.8"/><circle cx="1025.15" cy="492.42" r="6.8"/><circle cx="1025.72" cy="492.00" r="6.8"/><circle cx="1026.28" cy="490.60" r="6.8"/><circle cx="1026.85" cy="492.48" r="6.8"/><circle cx="1027.42" cy="492.58" r="6.8"/><circle cx="1027.99" cy="491.52" r="6.8"/><circle cx="1028.56" cy="491.90" r="6.8"/><circle cx="1029.12" cy="492.30" r="6.8"/><circle cx="1029.69" cy="491.82" r="6.8"/><circle cx="1030.26" cy="492.53" r="6.8"/><circle cx="1030.83" cy="491.96" r="6.8"/><circle cx="1031.40" cy="492.34" r="6.8"/><circle cx="1031.97" cy="492.01" r="6.8"/><circle cx="1032.53" cy="491.12" r="6.8"/><circle cx="1033.10" cy="491.42" r="6.8"/><circle cx="1033.67" cy="493.86" r="6.8"/><circle cx="1034.24" cy="492.21" r="6.8"/><circle cx="1034.81" cy="492.83" r="6.8"/><circle cx="1035.37" cy="492.75" r="6.8"/><circle cx="1035.94" cy="493.11" r="6.8"/><circle cx="1036.51" cy="492.45" r="6.8"/><circle cx="1037.08" cy="491.81" r="6.8"/><circle cx="1037.65" cy="492.19" r="6.8"/><circle cx="1038.22" cy="491.08" r="6.8"/><circle cx="1038.78" cy="492.11" r="6.8"/><circle cx="1039.35" cy="492.77" r="6.8"/><circle cx="1039.92" cy="491.01" r="6.8"/><circle cx="1040.49" cy="492.40" r="6.8"/><circle cx="1041.06" cy="492.79" r="6.8"/><circle cx="1041.62" cy="493.10" r="6.8"/><circle cx="1042.19" cy="491.81" r="6.8"/><circle cx="1042.76" cy="491.99" r="6.8"/><circle cx="1043.33" cy="491.30" r="6.8"/><circle cx="1043.90" cy="491.82" r="6.8"/><circle cx="1044.47" cy="492.75" r="6.8"/><circle cx="1045.03" cy="493.66" r="6.8"/><circle cx="1045.60" cy="491.81" r="6.8"/><circle cx="1046.17" cy="493.31" r="6.8"/><circle cx="1046.74" cy="492.77" r="6.8"/><circle cx="1047.31" cy="492.26" r="6.8"/><circle cx="1047.88" cy="493.85" r="6.8"/><circle cx="1048.44" cy="491.12" r="6.8"/><circle cx="1049.01" cy="492.57" r="6.8"/><circle cx="1049.58" cy="492.76" r="6.8"/><circle cx="1050.15" cy="493.90" r="6.8"/><circle cx="1050.72" cy="493.72" r="6.8"/><circle cx="1051.28" cy="494.02" r="6.8"/><circle cx="1051.85" cy="492.80" r="6.8"/><circle cx="1052.42" cy="493.31" r="6.8"/><circle cx="1052.99" cy="493.56" r="6.8"/><circle cx="1053.56" cy="493.08" r="6.8"/><circle cx="1054.13" cy="493.02" r="6.8"/><circle cx="1054.69" cy="492.72" r="6.8"/><circle cx="1055.26" cy="492.61" r="6.8"/><circle cx="1055.83" cy="492.16" r="6.8"/><circle cx="1056.40" cy="494.03" r="6.8"/><circle cx="1056.97" cy="492.66" r="6.8"/><circle cx="1057.53" cy="491.73" r="6.8"/><circle cx="1058.10" cy="493.11" r="6.8"/><circle cx="1058.67" cy="492.96" r="6.8"/><circle cx="1059.24" cy="493.11" r="6.8"/><circle cx="1059.81" cy="494.08" r="6.8"/><circle cx="1060.38" cy="492.99" r="6.8"/><circle cx="1060.94" cy="492.91" r="6.8"/><circle cx="1061.51" cy="492.66" r="6.8"/><circle cx="1062.08" cy="493.10" r="6.8"/><circle cx="1062.65" cy="492.88" r="6.8"/><circle cx="1063.22" cy="493.28" r="6.8"/><circle cx="1063.78" cy="495.00" r="6.8"/><circle cx="1064.35" cy="493.43" r="6.8"/><circle cx="1064.92" cy="492.72" r="6.8"/><circle cx="1065.49" cy="494.37" r="6.8"/><circle cx="1066.06" cy="493.77" r="6.8"/><circle cx="1066.63" cy="493.76" r="6.8"/><circle cx="1067.19" cy="493.73" r="6.8"/><circle cx="1067.76" cy="493.81" r="6.8"/><circle cx="1068.33" cy="493.75" r="6.8"/><circle cx="1068.90" cy="494.20" r="6.8"/><circle cx="1069.47" cy="493.98" r="6.8"/><circle cx="1070.03" cy="494.21" r="6.8"/><circle cx="1070.60" cy="493.15" r="6.8"/><circle cx="1071.17" cy="493.46" r="6.8"/><circle cx="1071.74" cy="493.06" r="6.8"/><circle cx="1072.31" cy="494.06" r="6.8"/><circle cx="1072.88" cy="494.01" r="6.8"/><circle cx="1073.44" cy="493.28" r="6.8"/><circle cx="1074.01" cy="493.91" r="6.8"/><circle cx="1074.58" cy="495.13" r="6.8"/><circle cx="1075.15" cy="494.34" r="6.8"/><circle cx="1075.72" cy="492.98" r="6.8"/><circle cx="1076.29" cy="493.60" r="6.8"/><circle cx="1076.85" cy="494.05" r="6.8"/><circle cx="1077.42" cy="493.68" r="6.8"/><circle cx="1077.99" cy="493.95" r="6.8"/><circle cx="1078.56" cy="494.43" r="6.8"/><circle cx="1079.13" cy="493.96" r="6.8"/><circle cx="1079.69" cy="493.15" r="6.8"/><circle cx="1080.26" cy="494.23" r="6.8"/><circle cx="1080.83" cy="493.78" r="6.8"/><circle cx="1081.40" cy="493.92" r="6.8"/><circle cx="1081.97" cy="493.54" r="6.8"/><circle cx="1082.54" cy="493.09" r="6.8"/><circle cx="1083.10" cy="493.19" r="6.8"/><circle cx="1083.67" cy="493.73" r="6.8"/><circle cx="1084.24" cy="493.34" r="6.8"/><circle cx="1084.81" cy="492.40" r="6.8"/><circle cx="1085.38" cy="494.68" r="6.8"/><circle cx="1085.94" cy="493.35" r="6.8"/><circle cx="1086.51" cy="493.63" r="6.8"/><circle cx="1087.08" cy="494.38" r="6.8"/><circle cx="1087.65" cy="492.69" r="6.8"/><circle cx="1088.22" cy="494.90" r="6.8"/><circle cx="1088.79" cy="493.69" r="6.8"/><circle cx="1089.35" cy="494.54" r="6.8"/><circle cx="1089.92" cy="493.90" r="6.8"/><circle cx="1090.49" cy="494.38" r="6.8"/><circle cx="1091.06" cy="494.29" r="6.8"/><circle cx="1091.63" cy="494.25" r="6.8"/><circle cx="1092.19" cy="493.20" r="6.8"/><circle cx="1092.76" cy="493.43" r="6.8"/><circle cx="1093.33" cy="494.29" r="6.8"/><circle cx="1093.90" cy="495.16" r="6.8"/><circle cx="1094.47" cy="494.04" r="6.8"/><circle cx="1095.04" cy="494.69" r="6.8"/><circle cx="1095.60" cy="494.49" r="6.8"/><circle cx="1096.17" cy="494.70" r="6.8"/><circle cx="1096.74" cy="495.02" r="6.8"/><circle cx="1097.31" cy="493.59" r="6.8"/><circle cx="1097.88" cy="494.65" r="6.8"/><circle cx="1098.44" cy="494.40" r="6.8"/><circle cx="1099.01" cy="494.35" r="6.8"/><circle cx="1099.58" cy="494.05" r="6.8"/><circle cx="1100.15" cy="494.11" r="6.8"/><circle cx="1100.72" cy="493.99" r="6.8"/><circle cx="1101.29" cy="493.97" r="6.8"/><circle cx="1101.85" cy="496.11" r="6.8"/><circle cx="1102.42" cy="495.65" r="6.8"/><circle cx="1102.99" cy="494.69" r="6.8"/><circle cx="1103.56" cy="495.14" r="6.8"/><circle cx="1104.13" cy="494.15" r="6.8"/><circle cx="1104.70" cy="493.12" r="6.8"/><circle cx="1105.26" cy="493.70" r="6.8"/><circle cx="1105.83" cy="494.87" r="6.8"/><circle cx="1106.40" cy="495.65" r="6.8"/><circle cx="1106.97" cy="494.81" r="6.8"/><circle cx="1107.54" cy="494.27" r="6.8"/><circle cx="1108.10" cy="494.74" r="6.8"/><circle cx="1108.67" cy="494.32" r="6.8"/><circle cx="1109.24" cy="494.11" r="6.8"/><circle cx="1109.81" cy="494.81" r="6.8"/><circle cx="1110.38" cy="494.73" r="6.8"/><circle cx="1110.95" cy="494.51" r="6.8"/><circle cx="1111.51" cy="494.49" r="6.8"/><circle cx="1112.08" cy="494.49" r="6.8"/><circle cx="1112.65" cy="495.19" r="6.8"/><circle cx="1113.22" cy="495.89" r="6.8"/><circle cx="1113.79" cy="494.97" r="6.8"/><circle cx="1114.35" cy="496.42" r="6.8"/><circle cx="1114.92" cy="494.19" r="6.8"/><circle cx="1115.49" cy="495.32" r="6.8"/><circle cx="1116.06" cy="494.51" r="6.8"/><circle cx="1116.63" cy="495.11" r="6.8"/><circle cx="1117.20" cy="495.29" r="6.8"/><circle cx="1117.76" cy="495.58" r="6.8"/><circle cx="1118.33" cy="495.93" r="6.8"/><circle cx="1118.90" cy="494.97" r="6.8"/></g></g>
<line x1="545.9" y1="401.8" x2="1125.0" y2="401.8" stroke="#000" stroke-width="2.2"/>
<line x1="545.9" y1="666.6" x2="1125.0" y2="666.6" stroke="#000" stroke-width="2.2"/>
<line x1="547.0" y1="401.8" x2="547.0" y2="666.6" stroke="#000" stroke-width="2.2"/>
<line x1="1125.0" y1="400.7" x2="1125.0" y2="667.7" stroke="#0000ff" stroke-width="2.4"/>
<line x1="541.5" y1="666.40" x2="547.0" y2="666.40" stroke="#000" stroke-width="1.6"/>
<text x="523.27" y="673.00" font-size="19.30" fill="#000" textLength="10.73" lengthAdjust="spacingAndGlyphs">0</text>
<line x1="544.2" y1="644.35" x2="547.0" y2="644.35" stroke="#000" stroke-width="1.6"/>
<line x1="541.5" y1="622.30" x2="547.0" y2="622.30" stroke="#000" stroke-width="1.6"/>
<text x="512.54" y="628.90" font-size="19.30" fill="#000" textLength="21.47" lengthAdjust="spacingAndGlyphs">20</text>
<line x1="544.2" y1="600.25" x2="547.0" y2="600.25" stroke="#000" stroke-width="1.6"/>
<line x1="541.5" y1="578.20" x2="547.0" y2="578.20" stroke="#000" stroke-width="1.6"/>
<text x="512.54" y="584.80" font-size="19.30" fill="#000" textLength="21.47" lengthAdjust="spacingAndGlyphs">40</text>
<line x1="544.2" y1="556.15" x2="547.0" y2="556.15" stroke="#000" stroke-width="1.6"/>
<line x1="541.5" y1="534.10" x2="547.0" y2="534.10" stroke="#000" stroke-width="1.6"/>
<text x="512.54" y="540.70" font-size="19.30" fill="#000" textLength="21.47" lengthAdjust="spacingAndGlyphs">60</text>
<line x1="544.2" y1="512.05" x2="547.0" y2="512.05" stroke="#000" stroke-width="1.6"/>
<line x1="541.5" y1="490.00" x2="547.0" y2="490.00" stroke="#000" stroke-width="1.6"/>
<text x="512.54" y="496.60" font-size="19.30" fill="#000" textLength="21.47" lengthAdjust="spacingAndGlyphs">80</text>
<line x1="544.2" y1="467.95" x2="547.0" y2="467.95" stroke="#000" stroke-width="1.6"/>
<line x1="541.5" y1="445.90" x2="547.0" y2="445.90" stroke="#000" stroke-width="1.6"/>
<text x="501.81" y="452.50" font-size="19.30" fill="#000" textLength="32.20" lengthAdjust="spacingAndGlyphs">100</text>
<line x1="544.2" y1="423.85" x2="547.0" y2="423.85" stroke="#000" stroke-width="1.6"/>
<line x1="541.5" y1="401.80" x2="547.0" y2="401.80" stroke="#000" stroke-width="1.6"/>
<text x="501.81" y="408.40" font-size="19.30" fill="#000" textLength="32.20" lengthAdjust="spacingAndGlyphs">120</text>
<line x1="1125.0" y1="665.80" x2="1131.0" y2="665.80" stroke="#0000ff" stroke-width="1.6"/>
<text x="1139.50" y="672.40" font-size="19.30" fill="#0000ff" textLength="10.73" lengthAdjust="spacingAndGlyphs">0</text>
<line x1="1125.0" y1="641.80" x2="1128.0" y2="641.80" stroke="#0000ff" stroke-width="1.6"/>
<line x1="1125.0" y1="617.80" x2="1131.0" y2="617.80" stroke="#0000ff" stroke-width="1.6"/>
<text x="1139.50" y="624.40" font-size="19.30" fill="#0000ff" textLength="21.47" lengthAdjust="spacingAndGlyphs">20</text>
<line x1="1125.0" y1="593.80" x2="1128.0" y2="593.80" stroke="#0000ff" stroke-width="1.6"/>
<line x1="1125.0" y1="569.80" x2="1131.0" y2="569.80" stroke="#0000ff" stroke-width="1.6"/>
<text x="1139.50" y="576.40" font-size="19.30" fill="#0000ff" textLength="21.47" lengthAdjust="spacingAndGlyphs">40</text>
<line x1="1125.0" y1="545.80" x2="1128.0" y2="545.80" stroke="#0000ff" stroke-width="1.6"/>
<line x1="1125.0" y1="521.80" x2="1131.0" y2="521.80" stroke="#0000ff" stroke-width="1.6"/>
<text x="1139.50" y="528.40" font-size="19.30" fill="#0000ff" textLength="21.47" lengthAdjust="spacingAndGlyphs">60</text>
<line x1="1125.0" y1="497.80" x2="1128.0" y2="497.80" stroke="#0000ff" stroke-width="1.6"/>
<line x1="1125.0" y1="473.80" x2="1131.0" y2="473.80" stroke="#0000ff" stroke-width="1.6"/>
<text x="1139.50" y="480.40" font-size="19.30" fill="#0000ff" textLength="21.47" lengthAdjust="spacingAndGlyphs">80</text>
<line x1="1125.0" y1="449.80" x2="1128.0" y2="449.80" stroke="#0000ff" stroke-width="1.6"/>
<line x1="1125.0" y1="425.80" x2="1131.0" y2="425.80" stroke="#0000ff" stroke-width="1.6"/>
<text x="1139.50" y="432.40" font-size="19.30" fill="#0000ff" textLength="32.20" lengthAdjust="spacingAndGlyphs">100</text>
<line x1="1125.0" y1="401.80" x2="1128.0" y2="401.80" stroke="#0000ff" stroke-width="1.6"/>
<line x1="550.70" y1="666.6" x2="550.70" y2="672.6" stroke="#000" stroke-width="1.6"/>
<text x="545.33" y="694.20" font-size="19.30" fill="#000" textLength="10.73" lengthAdjust="spacingAndGlyphs">0</text>
<line x1="607.52" y1="666.6" x2="607.52" y2="670.1" stroke="#000" stroke-width="1.6"/>
<line x1="664.34" y1="666.6" x2="664.34" y2="672.6" stroke="#000" stroke-width="1.6"/>
<text x="648.24" y="694.20" font-size="19.30" fill="#000" textLength="32.20" lengthAdjust="spacingAndGlyphs">200</text>
<line x1="721.16" y1="666.6" x2="721.16" y2="670.1" stroke="#000" stroke-width="1.6"/>
<line x1="777.98" y1="666.6" x2="777.98" y2="672.6" stroke="#000" stroke-width="1.6"/>
<text x="761.88" y="694.20" font-size="19.30" fill="#000" textLength="32.20" lengthAdjust="spacingAndGlyphs">400</text>
<line x1="834.80" y1="666.6" x2="834.80" y2="670.1" stroke="#000" stroke-width="1.6"/>
<line x1="891.62" y1="666.6" x2="891.62" y2="672.6" stroke="#000" stroke-width="1.6"/>
<text x="875.52" y="694.20" font-size="19.30" fill="#000" textLength="32.20" lengthAdjust="spacingAndGlyphs">600</text>
<line x1="948.44" y1="666.6" x2="948.44" y2="670.1" stroke="#000" stroke-width="1.6"/>
<line x1="1005.26" y1="666.6" x2="1005.26" y2="672.6" stroke="#000" stroke-width="1.6"/>
<text x="989.16" y="694.20" font-size="19.30" fill="#000" textLength="32.20" lengthAdjust="spacingAndGlyphs">800</text>
<line x1="1062.08" y1="666.6" x2="1062.08" y2="670.1" stroke="#000" stroke-width="1.6"/>
<line x1="1118.90" y1="666.6" x2="1118.90" y2="672.6" stroke="#000" stroke-width="1.6"/>
<text x="1097.43" y="694.20" font-size="19.30" fill="#000" textLength="42.94" lengthAdjust="spacingAndGlyphs">1000</text>
<text x="777.70" y="721.80" font-size="19.40" fill="#000" textLength="118.00" lengthAdjust="spacingAndGlyphs">Cycle number</text>
<g transform="rotate(-90)"><text x="-638.50" y="488.80" font-size="19.40" fill="#000" textLength="208.21" lengthAdjust="spacingAndGlyphs">Normalized capacity (%)</text></g>
<g transform="rotate(-90)"><text x="-591.50" y="1195.90" font-size="19.40" fill="#0000ff" textLength="117.41" lengthAdjust="spacingAndGlyphs">Efficiency (%)</text></g>
<text x="471.90" y="406.00" font-size="27.00" fill="#000" font-weight="bold" textLength="14.10" lengthAdjust="spacingAndGlyphs">e</text>
<path d="M579.3 465.4 L579.3 485.9 L557 485.9" fill="none" stroke="#000" stroke-width="1.4"/>
<path d="M551.3 485.9 L559.5 482.9 L559.5 488.9 Z" fill="#000"/>
<path d="M1079.7 438.2 L1079.7 459.7 L1114 459.7" fill="none" stroke="#0000ff" stroke-width="1.4"/>
<path d="M1120.5 459.7 L1112.3 456.7 L1112.3 462.7 Z" fill="#0000ff"/>
<text x="1079.70" y="548.80" font-size="17.00" fill="#000" textLength="31.71" lengthAdjust="spacingAndGlyphs">78%</text>
<line x1="1097" y1="530.5" x2="1112.5" y2="510" stroke="#000" stroke-width="1.4"/>
<path d="M1116.8 504.3 L1109.9 508.5 L1114.7 512.1 Z" fill="#000"/>
</svg></body></html>
